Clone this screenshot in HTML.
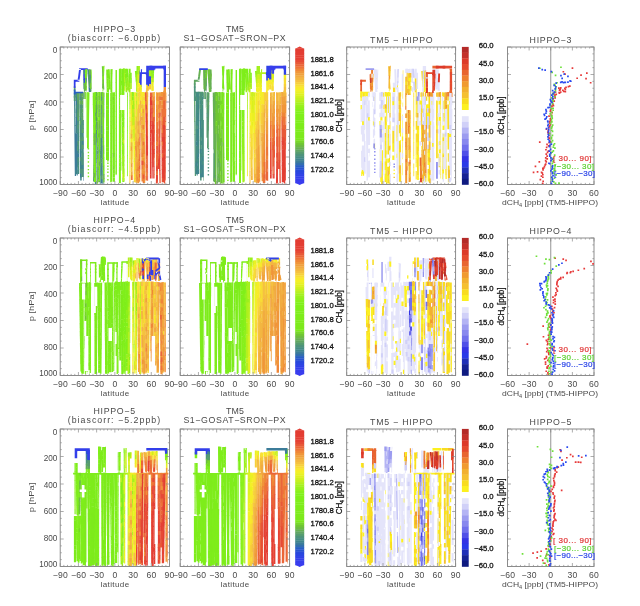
<!DOCTYPE html><html><head><meta charset="utf-8"><style>html,body{margin:0;padding:0;background:#fff;}svg{display:block;will-change:transform;}text{font-family:"Liberation Sans",sans-serif;}</style></head><body><svg width="640" height="606" viewBox="0 0 640 606"><text x="114.30" y="31.80" font-size="8.8" text-anchor="middle" fill="#4a4a4a" textLength="41.6" lengthAdjust="spacing" >HIPPO&#8722;3</text><text x="113.95" y="40.80" font-size="8.8" text-anchor="middle" fill="#4a4a4a" textLength="92.5" lengthAdjust="spacing" >(biascorr:  &#8722;6.0ppb)</text><text x="234.95" y="32.30" font-size="8.8" text-anchor="middle" fill="#4a4a4a" textLength="17.9" lengthAdjust="spacing" >TM5</text><text x="234.55" y="40.90" font-size="8.8" text-anchor="middle" fill="#4a4a4a" textLength="102.3" lengthAdjust="spacing" >S1&#8722;GOSAT&#8722;SRON&#8722;PX</text><text x="401.30" y="42.90" font-size="8.8" text-anchor="middle" fill="#4a4a4a" textLength="62.6" lengthAdjust="spacing" >TM5  &#8722;  HIPPO</text><text x="550.45" y="42.90" font-size="8.8" text-anchor="middle" fill="#4a4a4a" textLength="41.7" lengthAdjust="spacing" >HIPPO&#8722;3</text><text transform="translate(33.80,115.50) rotate(-90)" font-size="8" text-anchor="middle" fill="#4a4a4a" textLength="29.7" lengthAdjust="spacingAndGlyphs">p [hPa]</text><text x="57.30" y="52.50" font-size="8.2" text-anchor="end" fill="#4a4a4a" textLength="4.5" lengthAdjust="spacing" >0</text><text x="57.30" y="79.04" font-size="8.2" text-anchor="end" fill="#4a4a4a" textLength="13.5" lengthAdjust="spacing" >200</text><text x="57.30" y="105.58" font-size="8.2" text-anchor="end" fill="#4a4a4a" textLength="13.5" lengthAdjust="spacing" >400</text><text x="57.30" y="132.12" font-size="8.2" text-anchor="end" fill="#4a4a4a" textLength="13.5" lengthAdjust="spacing" >600</text><text x="57.30" y="158.66" font-size="8.2" text-anchor="end" fill="#4a4a4a" textLength="13.5" lengthAdjust="spacing" >800</text><text x="57.30" y="185.20" font-size="8.2" text-anchor="end" fill="#4a4a4a" textLength="18.0" lengthAdjust="spacing" >1000</text><text x="60.20" y="196.30" font-size="8.6" text-anchor="middle" fill="#4a4a4a" textLength="15.0" lengthAdjust="spacing" >&#8722;90</text><text x="78.42" y="196.30" font-size="8.6" text-anchor="middle" fill="#4a4a4a" textLength="15.0" lengthAdjust="spacing" >&#8722;60</text><text x="96.63" y="196.30" font-size="8.6" text-anchor="middle" fill="#4a4a4a" textLength="15.0" lengthAdjust="spacing" >&#8722;30</text><text x="114.85" y="196.30" font-size="8.6" text-anchor="middle" fill="#4a4a4a" textLength="5.3" lengthAdjust="spacing" >0</text><text x="133.07" y="196.30" font-size="8.6" text-anchor="middle" fill="#4a4a4a" textLength="9.8" lengthAdjust="spacing" >30</text><text x="151.28" y="196.30" font-size="8.6" text-anchor="middle" fill="#4a4a4a" textLength="9.8" lengthAdjust="spacing" >60</text><text x="169.50" y="196.30" font-size="8.6" text-anchor="middle" fill="#4a4a4a" textLength="9.8" lengthAdjust="spacing" >90</text><text x="114.85" y="205.20" font-size="8.0" text-anchor="middle" fill="#4a4a4a" textLength="28.5" lengthAdjust="spacing" >latitude</text><text x="180.20" y="196.30" font-size="8.6" text-anchor="middle" fill="#4a4a4a" textLength="15.0" lengthAdjust="spacing" >&#8722;90</text><text x="198.43" y="196.30" font-size="8.6" text-anchor="middle" fill="#4a4a4a" textLength="15.0" lengthAdjust="spacing" >&#8722;60</text><text x="216.67" y="196.30" font-size="8.6" text-anchor="middle" fill="#4a4a4a" textLength="15.0" lengthAdjust="spacing" >&#8722;30</text><text x="234.90" y="196.30" font-size="8.6" text-anchor="middle" fill="#4a4a4a" textLength="5.3" lengthAdjust="spacing" >0</text><text x="253.13" y="196.30" font-size="8.6" text-anchor="middle" fill="#4a4a4a" textLength="9.8" lengthAdjust="spacing" >30</text><text x="271.37" y="196.30" font-size="8.6" text-anchor="middle" fill="#4a4a4a" textLength="9.8" lengthAdjust="spacing" >60</text><text x="289.60" y="196.30" font-size="8.6" text-anchor="middle" fill="#4a4a4a" textLength="9.8" lengthAdjust="spacing" >90</text><text x="234.90" y="205.20" font-size="8.0" text-anchor="middle" fill="#4a4a4a" textLength="28.5" lengthAdjust="spacing" >latitude</text><text x="346.70" y="196.30" font-size="8.6" text-anchor="middle" fill="#4a4a4a" textLength="15.0" lengthAdjust="spacing" >&#8722;90</text><text x="364.85" y="196.30" font-size="8.6" text-anchor="middle" fill="#4a4a4a" textLength="15.0" lengthAdjust="spacing" >&#8722;60</text><text x="383.00" y="196.30" font-size="8.6" text-anchor="middle" fill="#4a4a4a" textLength="15.0" lengthAdjust="spacing" >&#8722;30</text><text x="401.15" y="196.30" font-size="8.6" text-anchor="middle" fill="#4a4a4a" textLength="5.3" lengthAdjust="spacing" >0</text><text x="419.30" y="196.30" font-size="8.6" text-anchor="middle" fill="#4a4a4a" textLength="9.8" lengthAdjust="spacing" >30</text><text x="437.45" y="196.30" font-size="8.6" text-anchor="middle" fill="#4a4a4a" textLength="9.8" lengthAdjust="spacing" >60</text><text x="455.60" y="196.30" font-size="8.6" text-anchor="middle" fill="#4a4a4a" textLength="9.8" lengthAdjust="spacing" >90</text><text x="401.15" y="205.20" font-size="8.0" text-anchor="middle" fill="#4a4a4a" textLength="28.5" lengthAdjust="spacing" >latitude</text><text x="507.50" y="196.30" font-size="8.6" text-anchor="middle" fill="#4a4a4a" textLength="15.0" lengthAdjust="spacing" >&#8722;60</text><text x="529.12" y="196.30" font-size="8.6" text-anchor="middle" fill="#4a4a4a" textLength="15.0" lengthAdjust="spacing" >&#8722;30</text><text x="550.75" y="196.30" font-size="8.6" text-anchor="middle" fill="#4a4a4a" textLength="5.3" lengthAdjust="spacing" >0</text><text x="572.38" y="196.30" font-size="8.6" text-anchor="middle" fill="#4a4a4a" textLength="9.8" lengthAdjust="spacing" >30</text><text x="594.00" y="196.30" font-size="8.6" text-anchor="middle" fill="#4a4a4a" textLength="9.8" lengthAdjust="spacing" >60</text><text x="502" y="205.20" font-size="8" fill="#4a4a4a" textLength="96" lengthAdjust="spacingAndGlyphs">dCH<tspan font-size="5.2" dy="2">4</tspan><tspan dy="-2"> [ppb] (TM5-HIPPO)</tspan></text><text x="114.30" y="222.80" font-size="8.8" text-anchor="middle" fill="#4a4a4a" textLength="41.6" lengthAdjust="spacing" >HIPPO&#8722;4</text><text x="113.95" y="231.80" font-size="8.8" text-anchor="middle" fill="#4a4a4a" textLength="92.5" lengthAdjust="spacing" >(biascorr:  &#8722;4.5ppb)</text><text x="234.95" y="223.30" font-size="8.8" text-anchor="middle" fill="#4a4a4a" textLength="17.9" lengthAdjust="spacing" >TM5</text><text x="234.55" y="231.90" font-size="8.8" text-anchor="middle" fill="#4a4a4a" textLength="102.3" lengthAdjust="spacing" >S1&#8722;GOSAT&#8722;SRON&#8722;PX</text><text x="401.30" y="233.90" font-size="8.8" text-anchor="middle" fill="#4a4a4a" textLength="62.6" lengthAdjust="spacing" >TM5  &#8722;  HIPPO</text><text x="550.45" y="233.90" font-size="8.8" text-anchor="middle" fill="#4a4a4a" textLength="41.7" lengthAdjust="spacing" >HIPPO&#8722;4</text><text transform="translate(33.80,306.50) rotate(-90)" font-size="8" text-anchor="middle" fill="#4a4a4a" textLength="29.7" lengthAdjust="spacingAndGlyphs">p [hPa]</text><text x="57.30" y="243.50" font-size="8.2" text-anchor="end" fill="#4a4a4a" textLength="4.5" lengthAdjust="spacing" >0</text><text x="57.30" y="270.04" font-size="8.2" text-anchor="end" fill="#4a4a4a" textLength="13.5" lengthAdjust="spacing" >200</text><text x="57.30" y="296.58" font-size="8.2" text-anchor="end" fill="#4a4a4a" textLength="13.5" lengthAdjust="spacing" >400</text><text x="57.30" y="323.12" font-size="8.2" text-anchor="end" fill="#4a4a4a" textLength="13.5" lengthAdjust="spacing" >600</text><text x="57.30" y="349.66" font-size="8.2" text-anchor="end" fill="#4a4a4a" textLength="13.5" lengthAdjust="spacing" >800</text><text x="57.30" y="376.20" font-size="8.2" text-anchor="end" fill="#4a4a4a" textLength="18.0" lengthAdjust="spacing" >1000</text><text x="60.20" y="387.30" font-size="8.6" text-anchor="middle" fill="#4a4a4a" textLength="15.0" lengthAdjust="spacing" >&#8722;90</text><text x="78.42" y="387.30" font-size="8.6" text-anchor="middle" fill="#4a4a4a" textLength="15.0" lengthAdjust="spacing" >&#8722;60</text><text x="96.63" y="387.30" font-size="8.6" text-anchor="middle" fill="#4a4a4a" textLength="15.0" lengthAdjust="spacing" >&#8722;30</text><text x="114.85" y="387.30" font-size="8.6" text-anchor="middle" fill="#4a4a4a" textLength="5.3" lengthAdjust="spacing" >0</text><text x="133.07" y="387.30" font-size="8.6" text-anchor="middle" fill="#4a4a4a" textLength="9.8" lengthAdjust="spacing" >30</text><text x="151.28" y="387.30" font-size="8.6" text-anchor="middle" fill="#4a4a4a" textLength="9.8" lengthAdjust="spacing" >60</text><text x="169.50" y="387.30" font-size="8.6" text-anchor="middle" fill="#4a4a4a" textLength="9.8" lengthAdjust="spacing" >90</text><text x="114.85" y="396.20" font-size="8.0" text-anchor="middle" fill="#4a4a4a" textLength="28.5" lengthAdjust="spacing" >latitude</text><text x="180.20" y="387.30" font-size="8.6" text-anchor="middle" fill="#4a4a4a" textLength="15.0" lengthAdjust="spacing" >&#8722;90</text><text x="198.43" y="387.30" font-size="8.6" text-anchor="middle" fill="#4a4a4a" textLength="15.0" lengthAdjust="spacing" >&#8722;60</text><text x="216.67" y="387.30" font-size="8.6" text-anchor="middle" fill="#4a4a4a" textLength="15.0" lengthAdjust="spacing" >&#8722;30</text><text x="234.90" y="387.30" font-size="8.6" text-anchor="middle" fill="#4a4a4a" textLength="5.3" lengthAdjust="spacing" >0</text><text x="253.13" y="387.30" font-size="8.6" text-anchor="middle" fill="#4a4a4a" textLength="9.8" lengthAdjust="spacing" >30</text><text x="271.37" y="387.30" font-size="8.6" text-anchor="middle" fill="#4a4a4a" textLength="9.8" lengthAdjust="spacing" >60</text><text x="289.60" y="387.30" font-size="8.6" text-anchor="middle" fill="#4a4a4a" textLength="9.8" lengthAdjust="spacing" >90</text><text x="234.90" y="396.20" font-size="8.0" text-anchor="middle" fill="#4a4a4a" textLength="28.5" lengthAdjust="spacing" >latitude</text><text x="346.70" y="387.30" font-size="8.6" text-anchor="middle" fill="#4a4a4a" textLength="15.0" lengthAdjust="spacing" >&#8722;90</text><text x="364.85" y="387.30" font-size="8.6" text-anchor="middle" fill="#4a4a4a" textLength="15.0" lengthAdjust="spacing" >&#8722;60</text><text x="383.00" y="387.30" font-size="8.6" text-anchor="middle" fill="#4a4a4a" textLength="15.0" lengthAdjust="spacing" >&#8722;30</text><text x="401.15" y="387.30" font-size="8.6" text-anchor="middle" fill="#4a4a4a" textLength="5.3" lengthAdjust="spacing" >0</text><text x="419.30" y="387.30" font-size="8.6" text-anchor="middle" fill="#4a4a4a" textLength="9.8" lengthAdjust="spacing" >30</text><text x="437.45" y="387.30" font-size="8.6" text-anchor="middle" fill="#4a4a4a" textLength="9.8" lengthAdjust="spacing" >60</text><text x="455.60" y="387.30" font-size="8.6" text-anchor="middle" fill="#4a4a4a" textLength="9.8" lengthAdjust="spacing" >90</text><text x="401.15" y="396.20" font-size="8.0" text-anchor="middle" fill="#4a4a4a" textLength="28.5" lengthAdjust="spacing" >latitude</text><text x="507.50" y="387.30" font-size="8.6" text-anchor="middle" fill="#4a4a4a" textLength="15.0" lengthAdjust="spacing" >&#8722;60</text><text x="529.12" y="387.30" font-size="8.6" text-anchor="middle" fill="#4a4a4a" textLength="15.0" lengthAdjust="spacing" >&#8722;30</text><text x="550.75" y="387.30" font-size="8.6" text-anchor="middle" fill="#4a4a4a" textLength="5.3" lengthAdjust="spacing" >0</text><text x="572.38" y="387.30" font-size="8.6" text-anchor="middle" fill="#4a4a4a" textLength="9.8" lengthAdjust="spacing" >30</text><text x="594.00" y="387.30" font-size="8.6" text-anchor="middle" fill="#4a4a4a" textLength="9.8" lengthAdjust="spacing" >60</text><text x="502" y="396.20" font-size="8" fill="#4a4a4a" textLength="96" lengthAdjust="spacingAndGlyphs">dCH<tspan font-size="5.2" dy="2">4</tspan><tspan dy="-2"> [ppb] (TM5-HIPPO)</tspan></text><text x="114.30" y="413.80" font-size="8.8" text-anchor="middle" fill="#4a4a4a" textLength="41.6" lengthAdjust="spacing" >HIPPO&#8722;5</text><text x="113.95" y="422.80" font-size="8.8" text-anchor="middle" fill="#4a4a4a" textLength="92.5" lengthAdjust="spacing" >(biascorr:  &#8722;5.2ppb)</text><text x="234.95" y="414.30" font-size="8.8" text-anchor="middle" fill="#4a4a4a" textLength="17.9" lengthAdjust="spacing" >TM5</text><text x="234.55" y="422.90" font-size="8.8" text-anchor="middle" fill="#4a4a4a" textLength="102.3" lengthAdjust="spacing" >S1&#8722;GOSAT&#8722;SRON&#8722;PX</text><text x="401.30" y="424.90" font-size="8.8" text-anchor="middle" fill="#4a4a4a" textLength="62.6" lengthAdjust="spacing" >TM5  &#8722;  HIPPO</text><text x="550.45" y="424.90" font-size="8.8" text-anchor="middle" fill="#4a4a4a" textLength="41.7" lengthAdjust="spacing" >HIPPO&#8722;5</text><text transform="translate(33.80,497.50) rotate(-90)" font-size="8" text-anchor="middle" fill="#4a4a4a" textLength="29.7" lengthAdjust="spacingAndGlyphs">p [hPa]</text><text x="57.30" y="434.50" font-size="8.2" text-anchor="end" fill="#4a4a4a" textLength="4.5" lengthAdjust="spacing" >0</text><text x="57.30" y="461.04" font-size="8.2" text-anchor="end" fill="#4a4a4a" textLength="13.5" lengthAdjust="spacing" >200</text><text x="57.30" y="487.58" font-size="8.2" text-anchor="end" fill="#4a4a4a" textLength="13.5" lengthAdjust="spacing" >400</text><text x="57.30" y="514.12" font-size="8.2" text-anchor="end" fill="#4a4a4a" textLength="13.5" lengthAdjust="spacing" >600</text><text x="57.30" y="540.66" font-size="8.2" text-anchor="end" fill="#4a4a4a" textLength="13.5" lengthAdjust="spacing" >800</text><text x="57.30" y="567.20" font-size="8.2" text-anchor="end" fill="#4a4a4a" textLength="18.0" lengthAdjust="spacing" >1000</text><text x="60.20" y="578.30" font-size="8.6" text-anchor="middle" fill="#4a4a4a" textLength="15.0" lengthAdjust="spacing" >&#8722;90</text><text x="78.42" y="578.30" font-size="8.6" text-anchor="middle" fill="#4a4a4a" textLength="15.0" lengthAdjust="spacing" >&#8722;60</text><text x="96.63" y="578.30" font-size="8.6" text-anchor="middle" fill="#4a4a4a" textLength="15.0" lengthAdjust="spacing" >&#8722;30</text><text x="114.85" y="578.30" font-size="8.6" text-anchor="middle" fill="#4a4a4a" textLength="5.3" lengthAdjust="spacing" >0</text><text x="133.07" y="578.30" font-size="8.6" text-anchor="middle" fill="#4a4a4a" textLength="9.8" lengthAdjust="spacing" >30</text><text x="151.28" y="578.30" font-size="8.6" text-anchor="middle" fill="#4a4a4a" textLength="9.8" lengthAdjust="spacing" >60</text><text x="169.50" y="578.30" font-size="8.6" text-anchor="middle" fill="#4a4a4a" textLength="9.8" lengthAdjust="spacing" >90</text><text x="114.85" y="587.20" font-size="8.0" text-anchor="middle" fill="#4a4a4a" textLength="28.5" lengthAdjust="spacing" >latitude</text><text x="180.20" y="578.30" font-size="8.6" text-anchor="middle" fill="#4a4a4a" textLength="15.0" lengthAdjust="spacing" >&#8722;90</text><text x="198.43" y="578.30" font-size="8.6" text-anchor="middle" fill="#4a4a4a" textLength="15.0" lengthAdjust="spacing" >&#8722;60</text><text x="216.67" y="578.30" font-size="8.6" text-anchor="middle" fill="#4a4a4a" textLength="15.0" lengthAdjust="spacing" >&#8722;30</text><text x="234.90" y="578.30" font-size="8.6" text-anchor="middle" fill="#4a4a4a" textLength="5.3" lengthAdjust="spacing" >0</text><text x="253.13" y="578.30" font-size="8.6" text-anchor="middle" fill="#4a4a4a" textLength="9.8" lengthAdjust="spacing" >30</text><text x="271.37" y="578.30" font-size="8.6" text-anchor="middle" fill="#4a4a4a" textLength="9.8" lengthAdjust="spacing" >60</text><text x="289.60" y="578.30" font-size="8.6" text-anchor="middle" fill="#4a4a4a" textLength="9.8" lengthAdjust="spacing" >90</text><text x="234.90" y="587.20" font-size="8.0" text-anchor="middle" fill="#4a4a4a" textLength="28.5" lengthAdjust="spacing" >latitude</text><text x="346.70" y="578.30" font-size="8.6" text-anchor="middle" fill="#4a4a4a" textLength="15.0" lengthAdjust="spacing" >&#8722;90</text><text x="364.85" y="578.30" font-size="8.6" text-anchor="middle" fill="#4a4a4a" textLength="15.0" lengthAdjust="spacing" >&#8722;60</text><text x="383.00" y="578.30" font-size="8.6" text-anchor="middle" fill="#4a4a4a" textLength="15.0" lengthAdjust="spacing" >&#8722;30</text><text x="401.15" y="578.30" font-size="8.6" text-anchor="middle" fill="#4a4a4a" textLength="5.3" lengthAdjust="spacing" >0</text><text x="419.30" y="578.30" font-size="8.6" text-anchor="middle" fill="#4a4a4a" textLength="9.8" lengthAdjust="spacing" >30</text><text x="437.45" y="578.30" font-size="8.6" text-anchor="middle" fill="#4a4a4a" textLength="9.8" lengthAdjust="spacing" >60</text><text x="455.60" y="578.30" font-size="8.6" text-anchor="middle" fill="#4a4a4a" textLength="9.8" lengthAdjust="spacing" >90</text><text x="401.15" y="587.20" font-size="8.0" text-anchor="middle" fill="#4a4a4a" textLength="28.5" lengthAdjust="spacing" >latitude</text><text x="507.50" y="578.30" font-size="8.6" text-anchor="middle" fill="#4a4a4a" textLength="15.0" lengthAdjust="spacing" >&#8722;60</text><text x="529.12" y="578.30" font-size="8.6" text-anchor="middle" fill="#4a4a4a" textLength="15.0" lengthAdjust="spacing" >&#8722;30</text><text x="550.75" y="578.30" font-size="8.6" text-anchor="middle" fill="#4a4a4a" textLength="5.3" lengthAdjust="spacing" >0</text><text x="572.38" y="578.30" font-size="8.6" text-anchor="middle" fill="#4a4a4a" textLength="9.8" lengthAdjust="spacing" >30</text><text x="594.00" y="578.30" font-size="8.6" text-anchor="middle" fill="#4a4a4a" textLength="9.8" lengthAdjust="spacing" >60</text><text x="502" y="587.20" font-size="8" fill="#4a4a4a" textLength="96" lengthAdjust="spacingAndGlyphs">dCH<tspan font-size="5.2" dy="2">4</tspan><tspan dy="-2"> [ppb] (TM5-HIPPO)</tspan></text><g transform="translate(60.20,47.00)"><path fill="#3c7c99" d="M13.8 45.4h1.2l0 4.5h-1.2zM13.9 53.8h1.2l0 4.5h-1.2zM14 66.3h1.2l0 4.5h-1.2zM14.1 78.8h1.2l0.5 50.3h-1.2zM15.6 53.6h2.3l-0 4.4h-2.3zM15.5 69.9h2.3l-0.1 8.4h-2.3zM15.3 86.2h2.3l-0.3 36.9h-2.3zM17.4 106.2h1.5l0 4.4h-1.5zM17.9 49.4h1l-0.1 4.5h-1zM17.7 61.9h1l-0.1 8.6h-1zM17.4 78.5h1l-0.1 8.6h-1zM17.1 95.1h1l-0.1 4.5h-1zM16.9 103.4h1l-0.1 8.6h-1zM16.6 120h1l-0.1 8.6h-1zM18.3 77.6h0.4l-0 4.3h-0.4zM17.9 114.1h0.4l-0 4.3h-0.4zM17.8 122.2h0.4l-0 4.3h-0.4zM19.6 106h1.9l0 4.3h-1.9zM19.6 114h1.9l0 4.3h-1.9zM19.8 126.2h1.9l0 4.3h-1.9zM20.2 83h1.5l-0 4.5h-1.5zM20.1 91.4h1.5l-0 8.7h-1.5zM20.1 103.9h1.5l-0 8.7h-1.5zM20 120.7h1.5l-0 8.7h-1.5zM22.9 93.3h0.5l0 8.3h-0.5zM22.9 117.4h0.5l0 16.4h-0.5zM28.3 40.3h2.3l0.3 4.8h-2.3zM34.8 111.6h1.7l-0 4.5h-1.7zM34.7 119.9h1.7l-0 4.5h-1.7zM39.8 103.3h1l-0 4.4h-1zM39.6 119.8h1l-0 4.4h-1zM40.7 132.1h1.7l-0 4.4h-1.7z"/><path fill="#3f858c" d="M13.8 49.6h1.2l0 4.5h-1.2zM13.9 57.9h1.2l0.1 8.6h-1.2zM14 70.4h1.2l0.1 8.6h-1.2zM15.6 49.5h2.3l-0 4.4h-2.3zM15.5 61.7h2.3l-0 4.4h-2.3zM15.4 78h2.3l-0.1 8.4h-2.3zM15.1 122.8h2.3l-0 4.4h-2.3zM17.3 85.8h1.5l0 8.4h-1.5zM18 45.2h1l-0.1 4.5h-1zM17.8 53.5h1l-0.1 4.5h-1zM17.5 70.2h1l-0.1 4.5h-1zM17.2 86.8h1l-0.1 8.6h-1zM16.8 111.7h1l-0.1 8.6h-1zM18.6 45.3h0.4l-0 4.3h-0.4zM18.4 65.5h0.4l-0 4.3h-0.4zM18.3 73.6h0.4l-0 4.3h-0.4zM18.2 81.7h0.4l-0 4.3h-0.4zM18 106h0.4l-0.1 8.4h-0.4zM19.5 101.9h1.9l0 4.3h-1.9zM19.7 118.1h1.9l0 4.3h-1.9zM20.2 74.6h1.5l-0 8.7h-1.5zM20.1 99.7h1.5l-0 4.5h-1.5zM20 112.3h1.5l-0 8.7h-1.5zM20 129h1.5l-0 4.5h-1.5zM21.3 93.7h2.2l0 4.3h-2.2zM21.3 117.8h2.2l0 4.3h-2.2zM22.9 69.2h0.5l0 4.3h-0.5zM22.9 77.2h0.5l0 4.3h-0.5zM22.9 109.3h0.5l0 8.3h-0.5zM23.2 37h1.3l0.1 5.2h-1.3zM34.9 103.3h1.7l-0.1 8.6h-1.7zM34.7 124.1h1.7l-0 4.5h-1.7zM40.2 66.1h1l-0 4.4h-1zM39.8 107.4h1l-0.1 8.6h-1zM39.6 124h1l-0 4.4h-1zM40.7 119.7h1.7l-0 4.4h-1.7zM42.6 99.2h1.1l-0 4.4h-1.1zM42.3 124h1.1l-0 4.4h-1.1z"/><path fill="#458d83" d="M15.6 45.5h2.3l-0 4.4h-2.3zM15.5 57.7h2.3l-0 4.4h-2.3zM15.5 65.8h2.3l-0 4.4h-2.3zM17.4 102.1h1.5l0 4.4h-1.5zM17.4 114.3h1.5l0 4.4h-1.5zM17.5 122.5h1.5l0 4.4h-1.5zM17.4 74.3h1l-0.1 4.5h-1zM18.4 69.5h0.4l-0 4.3h-0.4zM18.1 93.8h0.4l-0 4.3h-0.4zM18 101.9h0.4l-0 4.3h-0.4zM17.9 118.1h0.4l-0 4.3h-0.4zM19.2 69.6h1.9l0 4.3h-1.9zM19.4 85.7h1.9l0 4.3h-1.9zM19.5 97.9h1.9l0 4.3h-1.9zM20.3 53.7h1.5l-0 4.5h-1.5zM20.3 62h1.5l-0 4.5h-1.5zM20.2 70.4h1.5l-0 4.5h-1.5zM21.3 85.6h2.2l0 4.3h-2.2zM21.3 101.7h2.2l0 4.3h-2.2zM22.9 73.2h0.5l0 4.3h-0.5zM22.9 85.2h0.5l0 8.3h-0.5zM22.9 101.3h0.5l0 8.3h-0.5zM23.1 32.1h1.3l0.1 5.2h-1.3zM27.2 22.2h2.3l0.3 4.8h-2.3zM35.4 45h1.7l-0 4.5h-1.7zM35 86.6h1.7l-0 4.5h-1.7zM34.9 95h1.7l-0.1 8.6h-1.7zM34.6 132.4h1.7l-0 4.5h-1.7zM39.9 90.9h1l-0 4.4h-1zM39.9 99.2h1l-0 4.4h-1zM39.5 132.2h1l-0 4.4h-1zM40.8 90.7h1.7l-0 4.4h-1.7zM40.8 98.9h1.7l-0 4.4h-1.7zM40.7 115.5h1.7l-0 4.4h-1.7zM40.7 123.8h1.7l-0 4.4h-1.7zM42.2 132.3h1.1l-0 4.4h-1.1zM13.6 45.6H15.5V50.7H13.6z"/><path fill="#66b052" d="M17.1 45.1h1.5l0 8.4h-1.5zM17.2 69.6h1.5l0 4.4h-1.5zM18.5 57.4h0.4l-0 4.3h-0.4zM19.1 53.4h1.9l0 4.3h-1.9zM21.3 45.5h2.2l0 4.3h-2.2zM21.3 53.5h2.2l0 4.3h-2.2zM23.6 35.7h1.2l0 4.7h-1.2zM26.5 22.3h0.7l-0.2 4.7h-0.7zM25.8 39.8h0.7l-0.2 4.7h-0.7zM29.7 35.5h1.4l0.1 4.6h-1.4zM24 45.1h1.5l0 5.5h-1.5zM33.4 97.7h2.1l-0.1 4.4h-2.1zM33.3 105.8h2.1l-0.2 12.5h-2.1zM33 122h2.1l-0.1 4.4h-2.1zM35.2 65.8h1.7l-0 4.5h-1.7zM36.9 119.9h1l0 4.4h-1zM37.6 127.9h0.4l0 4.4h-0.4zM38 61.4h2l0 4.4h-2zM38 81.8h2l0 4.4h-2zM38 89.9h2l0 8.5h-2zM38 110.3h2l0 4.4h-2zM38 118.5h2l0 4.4h-2zM38 130.7h2l0 4.4h-2zM40.5 45.4h1l-0 4.4h-1zM41 45.1h1.7l-0 4.4h-1.7zM40.9 65.8h1.7l-0 12.7h-1.7zM43 57.8h1.1l-0 4.4h-1.1zM41.6 19.2h1.1l0.3 4.9h-1.1z"/><path fill="#5fa561" d="M17.1 53.3h1.5l0 4.4h-1.5zM17.2 61.4h1.5l0 8.4h-1.5zM18.6 49.3h0.4l-0 4.3h-0.4zM19.3 73.6h1.9l0 4.3h-1.9zM20.3 45.3h1.5l-0 4.5h-1.5zM20.2 66.2h1.5l-0 4.5h-1.5zM21.3 49.5h2.2l0 4.3h-2.2zM21.3 61.5h2.2l0 4.3h-2.2zM21.3 69.6h2.2l0 4.3h-2.2zM21.3 81.6h2.2l0 4.3h-2.2zM22.9 53.1h0.5l0 4.3h-0.5zM23.7 40.1h1.2l0 4.7h-1.2zM29.3 32.2h1.4l0.3 5.1h-1.4zM29.5 22.5h1.4l0.2 9h-1.4zM29.8 39.9h1.4l0.1 4.6h-1.4zM24 55.4h1.5l0 5.5h-1.5zM33.9 65.3h2.1l-0.1 4.4h-2.1zM33.1 118h2.1l-0.1 4.4h-2.1zM35.4 49.2h1.7l-0 4.5h-1.7zM36.8 103.4h1l0 4.4h-1zM38 98.1h2l0 4.4h-2zM38 106.3h2l0 4.4h-2zM38 122.6h2l0 8.5h-2zM40.3 57.8h1l-0 4.4h-1zM40 86.8h1l-0 4.4h-1zM41 57.5h1.7l-0 8.6h-1.7zM40.9 86.5h1.7l-0 4.4h-1.7zM43 61.9h1.1l-0 4.4h-1.1zM42.9 70.2h1.1l-0.1 8.6h-1.1zM42.7 86.8h1.1l-0.1 8.6h-1.1zM42.5 111.6h1.1l-0 4.4h-1.1zM42.3 128.2h1.1l-0 4.4h-1.1zM42.1 28.4h1.1l0.3 4.9h-1.1zM42.7 37.6h1.1l0.3 4.9h-1.1zM13.6 39.2H15.5V44.3H13.6z"/><path fill="#569c6f" d="M17.1 57.3h1.5l0 4.4h-1.5zM17.2 77.7h1.5l0 4.4h-1.5zM17.3 94h1.5l0 4.4h-1.5zM17 99.2h1l-0.1 4.5h-1zM18.2 85.7h0.4l-0 4.3h-0.4zM19 45.3h1.9l0 4.3h-1.9zM19.1 61.5h1.9l0.1 8.4h-1.9zM19.4 89.8h1.9l0 4.3h-1.9zM20.3 49.5h1.5l-0 4.5h-1.5zM21.3 57.5h2.2l0 4.3h-2.2zM21.3 65.6h2.2l0 4.3h-2.2zM21.3 77.6h2.2l0 4.3h-2.2zM21.3 89.7h2.2l0 4.3h-2.2zM21.3 97.7h2.2l0 4.3h-2.2zM22.9 65.2h0.5l0 4.3h-0.5zM22.9 22.4h1.3l0.1 5.2h-1.3zM27.5 26.8h2.3l0.9 13.8h-2.3zM32.9 130.1h2.1l-0.1 4.4h-2.1zM35.3 53.4h1.7l-0.1 8.6h-1.7zM35.1 74.2h1.7l-0.1 8.6h-1.7zM38 102.2h2l0 4.4h-2zM40.4 49.6h1l-0 4.4h-1zM39.7 115.7h1l-0 4.4h-1zM40.9 78.2h1.7l-0 8.6h-1.7zM40.8 111.4h1.7l-0 4.4h-1.7zM40.7 127.9h1.7l-0 4.4h-1.7zM43.1 49.5h1.1l-0.1 8.6h-1.1zM43 66.1h1.1l-0 4.4h-1.1zM42.8 82.6h1.1l-0 4.4h-1.1zM42.6 95h1.1l-0 4.4h-1.1zM42.5 103.3h1.1l-0.1 8.6h-1.1zM42.4 119.9h1.1l-0 4.4h-1.1z"/><path fill="#4d937b" d="M17.2 73.6h1.5l0 4.4h-1.5zM17.3 81.8h1.5l0 4.4h-1.5zM17.3 98.1h1.5l0 4.4h-1.5zM17.4 110.3h1.5l0 4.4h-1.5zM17.5 118.4h1.5l0 4.4h-1.5zM17.7 57.7h1l-0.1 4.5h-1zM18.5 53.4h0.4l-0 4.3h-0.4zM18.4 61.5h0.4l-0 4.3h-0.4zM18.2 89.8h0.4l-0 4.3h-0.4zM18.1 97.9h0.4l-0 4.3h-0.4zM19 49.3h1.9l0 4.3h-1.9zM19.1 57.4h1.9l0 4.3h-1.9zM19.3 77.7h1.9l0.1 8.4h-1.9zM19.5 93.8h1.9l0 4.3h-1.9zM19.6 110h1.9l0 4.3h-1.9zM19.7 122.1h1.9l0 4.3h-1.9zM20.3 57.9h1.5l-0 4.5h-1.5zM20.1 87.2h1.5l-0 4.5h-1.5zM21.3 73.6h2.2l0 4.3h-2.2zM21.3 105.7h2.2l0 12.4h-2.2zM21.3 121.8h2.2l0 8.3h-2.2zM22.9 45.1h0.5l0 8.3h-0.5zM22.9 57.1h0.5l0 8.3h-0.5zM22.9 81.2h0.5l0 4.3h-0.5zM29 27.4h1.4l0.3 5.1h-1.4zM29.6 31.2h1.4l0.1 4.6h-1.4zM35.3 61.7h1.7l-0 4.5h-1.7zM35.2 70h1.7l-0 4.5h-1.7zM35.1 82.5h1.7l-0 4.5h-1.7zM35 90.8h1.7l-0 4.5h-1.7zM34.7 115.8h1.7l-0 4.5h-1.7zM34.6 128.3h1.7l-0 4.5h-1.7zM40.4 53.7h1l-0 4.4h-1zM40.3 62h1l-0 4.4h-1zM40.2 70.2h1l-0.2 16.8h-1zM39.9 95h1l-0 4.4h-1zM39.5 128.1h1l-0 4.4h-1zM41 49.3h1.7l-0 4.4h-1.7zM40.8 94.8h1.7l-0 4.4h-1.7zM40.8 103.1h1.7l-0 8.6h-1.7zM42.8 78.5h1.1l-0 4.4h-1.1zM42.4 115.7h1.1l-0 4.4h-1.1zM42.4 33h1.1l0.3 4.9h-1.1zM13.6 48.8H15.5V54H13.6z"/><path fill="#333fea" d="M23 27.3h1.3l0.1 5.2h-1.3zM23.6 22.4h1.2l0 13.5h-1.2zM24.5 30.7h1.9l0 4.4h-1.9zM26.3 26.7h0.7l-0.4 9h-0.7zM78.8 23.3h0.9l-0 12.9h-0.9zM79.3 23.3h0.4l0 12.9h-0.4zM80.7 22.2h1.2l-0.6 17.7h-1.2zM86.9 22.2h1.3l0 17.2h-1.3zM87.8 22.5h1.6l-0.7 16.9h-1.6zM88.7 22.3h2.3l0.1 15.2h-2.3zM13.6 36H15.5V41.1H13.6zM13.6 32.8H15.5V37.9H13.6zM13.6 32.8H19.2V34.7H13.6zM19.2 33.8L19.8 30L17.9 29.7L17.3 33.6zM19.8 30L20.3 26.2L18.4 25.9L17.9 29.7zM20.3 26.2L20.8 22.3L18.9 22.1L18.4 25.9zM18.9 21.2H24.2V23.1H18.9zM22.3 21.2H27.5V23.1H22.3zM86 22.7H88.8V29.4H86zM86 18.8H88.8V25.5H86zM86 18.8H92.2V21.6H86zM103 18.8H105.8V24.6H103zM103 21.8H105.8V27.7H103zM103 24.9H105.8V30.7H103zM103 27.9H105.8V33.8H103zM103 31H105.8V36.8H103zM103 34H105.8V39.8H103zM103 37H105.8V42.9H103zM79.6 34.6H81.5V39.7H79.6zM79.6 31.5H81.5V36.6H79.6zM79.6 28.4H81.5V33.4H79.6zM79.6 25.2H81.5V30.3H79.6zM79.6 25.2H84.5V27.1H79.6zM82.6 25.2H87.5V27.1H82.6zM85.6 25.2H87.5V30.3H85.6zM85.6 28.4H87.5V33.4H85.6zM85.6 31.5H87.5V36.6H85.6zM85.6 34.6H87.5V39.7H85.6z"/><path fill="#7de91c" d="M24.5 22.4h1.9l0 4.4h-1.9zM25.6 22.1h1.3l-0.2 4.6h-1.3zM30.7 31.9h0.7l-0.3 5h-0.7zM33 86.1h2.2l0.1 4.4h-2.2zM33.3 106.3h2.2l0.2 12.5h-2.2zM33.5 122.6h2.2l0.1 4.4h-2.2zM36.7 62h1l0 8.6h-1zM39.3 73.4h1.1l-0.1 8.4h-1.1zM39.1 89.5h1.1l-0 4.3h-1.1zM38.9 113.7h1.1l-0 4.3h-1.1zM38.7 125.8h1.1l-0 4.3h-1.1zM42.1 45.2h1.4l0 4.4h-1.4zM42.6 90.2h1.4l0 4.4h-1.4zM43.1 27.3h0.8l-0.2 4.5h-0.8zM42.7 35.8h0.8l-0.2 4.5h-0.8zM50.2 22.2h1.9l-0 4.8h-1.9zM50.5 38.1h1l-0.2 4.3h-1zM45.8 45.6h2.4l0 4.5h-2.4zM45.8 87.6h2.4l0 4.5h-2.4zM45.8 108.6h2.4l0 4.5h-2.4zM47.8 45.3h1l0 8.8h-1zM47.8 57.9h1l0 4.5h-1zM47.8 70.6h1l0 8.8h-1zM47.8 83.3h1l0 4.5h-1zM47.8 91.8h1l0 4.5h-1zM47.8 100.2h1l0 4.5h-1zM47.8 108.7h1l0 4.5h-1zM50 65.7h1.4l0 4.4h-1.4zM50 122.8h1.4l0 8.4h-1.4zM52 45.5h2.3l0 4.3h-2.3zM52 53.5h2.3l0 4.3h-2.3zM52.1 65.7h2.3l0 4.3h-2.3zM52.2 85.9h2.3l0.1 20.5h-2.3zM56 63.6h0.5l-0 4.3h-0.5zM47 121.4h1.4v1.4h-1.4z"/><path fill="#7ce91c" d="M24.5 26.6h1.9l0 4.4h-1.9zM24.6 38.9h1.9l0 4.4h-1.9zM25.1 30.6h1.3l-0.2 4.6h-1.3zM33.1 90.1h2.2l0.1 8.4h-2.2zM33.6 126.6h2.2l0.1 8.4h-2.2zM33.8 73.4h2.1l-0.1 4.4h-2.1zM36.7 53.7h1l0 4.4h-1zM36.8 95.1h1l0 4.4h-1zM37.6 90.6h0.4l0 4.4h-0.4zM39.3 69.4h1.1l-0 4.3h-1.1zM39.1 85.5h1.1l-0 4.3h-1.1zM39.1 93.5h1.1l-0 4.3h-1.1zM38.9 109.7h1.1l-0 4.3h-1.1zM42.1 49.2h1.4l0 4.4h-1.4zM42.4 77.9h1.4l0 4.4h-1.4zM42.5 86.1h1.4l0 4.4h-1.4zM42.8 110.6h1.4l0.1 8.5h-1.4zM42.9 31.6h0.8l-0.2 4.5h-0.8zM50.2 31.2h1.9l-0 4.8h-1.9zM50.2 40.2h1.9l-0 4.8h-1.9zM45.8 62.4h2.4l0 8.7h-2.4zM45.8 75h2.4l0 4.5h-2.4zM45.8 91.8h2.4l0 4.5h-2.4zM45.8 100.2h2.4l0 4.5h-2.4zM47.8 53.7h1l0 4.5h-1zM47.8 62.2h1l0 4.5h-1zM47.8 104.4h1l0 4.5h-1zM50 110.5h1.4l0 4.4h-1.4zM50 118.7h1.4l0 4.4h-1.4zM50 130.9h1.4l0 4.4h-1.4zM52.1 61.6h2.3l0 4.3h-2.3zM52.1 69.7h2.3l0 4.3h-2.3zM52.2 81.9h2.3l0 4.3h-2.3zM52.3 110.2h2.3l0 4.3h-2.3zM52.4 122.3h2.3l0 4.3h-2.3zM52.4 130.4h2.3l0 4.3h-2.3zM47 118.5h1.4v1.4h-1.4z"/><path fill="#76d727" d="M24.6 34.8h1.9l0 4.4h-1.9zM25.9 35.5h0.7l-0.2 4.7h-0.7zM34.2 49.1h2.1l-0.1 4.4h-2.1zM34 57.2h2.1l-0.1 8.4h-2.1zM33.7 81.5h2.1l-0.1 4.4h-2.1zM36.7 49.6h1l0 4.4h-1zM36.7 57.9h1l0 4.4h-1zM36.7 70.3h1l0 4.4h-1zM36.9 111.7h1l0 8.6h-1zM37.6 61.6h0.4l0 12.7h-0.4zM37.6 82.3h0.4l0 4.4h-0.4zM37.6 94.8h0.4l0 4.4h-0.4zM37.6 107.2h0.4l0 4.4h-0.4zM37.6 119.6h0.4l0 4.4h-0.4zM38 45.1h2l0 4.4h-2zM38 53.2h2l0 4.4h-2zM39 101.6h1.1l-0 4.3h-1.1zM42.3 65.6h1.4l0 4.4h-1.4zM42.7 98.3h1.4l0.1 8.5h-1.4zM42.9 118.8h1.4l0 4.4h-1.4zM42.3 23.7h1.4l-0.1 4.7h-1.4zM47.8 79.1h1l0 4.5h-1zM52 49.5h2.3l0 4.3h-2.3zM52.3 118.3h2.3l0 4.3h-2.3z"/><path fill="#7ce81c" d="M25.3 26.3h1.3l-0.2 4.6h-1.3zM34.2 45h2.1l-0.1 4.4h-2.1zM34.1 53.1h2.1l-0.1 4.4h-2.1zM36.8 82.7h1l0 8.6h-1zM37.6 45.1h0.4l0 12.7h-0.4zM37.6 74.1h0.4l0 4.4h-0.4zM37.6 98.9h0.4l0 4.4h-0.4zM37.6 123.8h0.4l0 4.4h-0.4zM37.6 132h0.4l0 4.4h-0.4zM38 69.5h2l0 4.4h-2zM38.9 105.6h1.1l-0 4.3h-1.1zM38.8 117.7h1.1l-0.1 8.4h-1.1zM38.7 129.8h1.1l-0 4.3h-1.1zM42.2 53.3h1.4l0 4.4h-1.4zM42.3 61.5h1.4l0 4.4h-1.4zM42.3 69.7h1.4l0.1 8.5h-1.4zM42.5 82h1.4l0 4.4h-1.4zM42.6 94.2h1.4l0 4.4h-1.4zM42.9 122.9h1.4l0 4.4h-1.4zM42.4 19.3h1.4l-0.1 4.7h-1.4zM42.2 28.1h1.4l-0.1 4.7h-1.4zM42.5 40h0.8l-0.2 4.5h-0.8zM45.8 54h2.4l0 4.5h-2.4zM45.8 70.8h2.4l0 4.5h-2.4zM45.8 83.4h2.4l0 4.5h-2.4zM45.8 96h2.4l0 4.5h-2.4zM45.8 104.4h2.4l0 4.5h-2.4zM52.1 57.6h2.3l0 4.3h-2.3zM52.1 77.8h2.3l0 4.3h-2.3zM47 113h1.4v1.4h-1.4zM47 115.6h1.4v1.4h-1.4zM47 124.5h1.4v1.4h-1.4zM47 132.1h1.4v1.4h-1.4z"/><path fill="#6fc633" d="M24.9 34.8h1.3l-0.2 4.6h-1.3zM33.9 69.3h2.1l-0.1 4.4h-2.1zM33.7 77.4h2.1l-0.1 4.4h-2.1zM33.5 89.6h2.1l-0.1 4.4h-2.1zM36.8 74.4h1l0 8.6h-1zM36.8 91h1l0 4.4h-1zM36.8 107.5h1l0 4.4h-1zM36.9 132.3h1l0 4.4h-1zM37.6 57.5h0.4l0 4.4h-0.4zM37.6 78.2h0.4l0 4.4h-0.4zM37.6 86.5h0.4l0 4.4h-0.4zM37.6 111.3h0.4l0 8.6h-0.4zM38 49.1h2l0 4.4h-2zM38 73.6h2l0 4.4h-2zM38 85.9h2l0 4.4h-2zM41 53.4h1.7l-0 4.4h-1.7zM43 131.1h1.4l0 4.4h-1.4zM43.2 45.4h1.1l-0 4.4h-1.1zM42.1 32.5h1.4l-0.1 4.7h-1.4zM52.3 106.1h2.3l0 4.3h-2.3z"/><path fill="#6bbb43" d="M24.6 39.1h1.3l-0.2 4.6h-1.3zM28.7 22.6h1.4l0.3 5.1h-1.4zM29.6 37h1.4l0.3 5.1h-1.4zM24 50.3h1.5l0 5.5h-1.5zM33.6 85.5h2.1l-0.1 4.4h-2.1zM33.5 93.6h2.1l-0.1 4.4h-2.1zM33.3 101.8h2.1l-0.1 4.4h-2.1zM33 126.1h2.1l-0.1 4.4h-2.1zM36.8 99.2h1l0 4.4h-1zM36.9 124.1h1l0 8.6h-1zM37.6 103h0.4l0 4.4h-0.4zM38 57.3h2l0 4.4h-2zM38 65.5h2l0 4.4h-2zM38 77.7h2l0 4.4h-2zM38 114.4h2l0 4.4h-2zM43 127h1.4l0 4.4h-1.4zM41.9 23.8h1.1l0.3 4.9h-1.1zM42 36.9h1.4l-0.1 4.7h-1.4z"/><path fill="#7dea1b" d="M31.3 22.5h0.7l-0.3 5h-0.7zM30.5 36.5h0.7l-0.3 5h-0.7zM27.8 45.6h1.5l-1 55.6h-1.5zM32.7 61.7h2.2l0.1 4.4h-2.2zM32.9 73.9h2.2l0.1 4.4h-2.2zM33 82h2.2l0.1 4.4h-2.2zM33.3 102.3h2.2l0.1 4.4h-2.2zM36.7 45.5h1l0 4.4h-1zM42.2 57.4h1.4l0 4.4h-1.4zM42.7 106.5h1.4l0 4.4h-1.4zM46.1 26.8h2.3l0.1 4.8h-2.3zM47.8 22.2h1.7l0.4 10.3h-1.7zM50.2 35.7h1.9l-0 4.8h-1.9zM45.8 58.2h2.4l0 4.5h-2.4zM45.8 79.2h2.4l0 4.5h-2.4zM47.8 66.4h1l0 4.5h-1zM47.8 87.5h1l0 4.5h-1zM50 49.5h1.4l0 4.4h-1.4zM50 90.2h1.4l0 4.4h-1.4zM50 114.6h1.4l0 4.4h-1.4zM52.1 73.8h2.3l0 4.3h-2.3zM52.3 114.2h2.3l0 4.3h-2.3zM52.4 126.3h2.3l0 4.3h-2.3zM56.1 55.5h0.5l-0 4.3h-0.5zM62.5 21.5h1.6l-0.1 4.8h-1.6zM62.2 30.5h1.6l-0.1 4.8h-1.6zM47 128.3h1.4v1.4h-1.4z"/><path fill="#7eeb1b" d="M31 27.2h0.7l-0.3 5h-0.7zM32.5 45.5h2.2l0.1 4.4h-2.2zM32.6 57.6h2.2l0.1 4.4h-2.2zM39.4 57.3h1.1l-0 4.3h-1.1zM43.5 18.8h0.8l-0.2 4.5h-0.8zM46.3 35.7h2.3l0.1 4.8h-2.3zM50.2 26.7h1.9l-0 4.8h-1.9zM50 57.6h1.4l0 4.4h-1.4zM50 73.9h1.4l0 4.4h-1.4zM50 102.4h1.4l0 4.4h-1.4zM50.9 61.2h1.3l-0 4.4h-1.3zM50.8 93.7h1.3l-0 8.4h-1.3zM50.7 113.9h1.3l-0 4.4h-1.3zM50.7 122h1.3l-0 8.4h-1.3zM53.3 73.3h1.3l-0 4.3h-1.3zM56.3 23.3h0.5l-0.1 8.4h-0.5zM56.2 43.4h0.5l-0 4.3h-0.5zM56.1 51.5h0.5l-0 4.3h-0.5zM56 67.6h0.5l-0.1 8.4h-0.5zM55.9 83.7h0.5l-0.1 8.4h-0.5zM55.8 95.8h0.5l-0 4.3h-0.5zM55.7 120h0.5l-0 4.3h-0.5zM61.9 39.4h1.6l-0.1 4.8h-1.6z"/><path fill="#7eec1b" d="M25.2 45.1h0.8l0 15.1h-0.8zM46 22.4h2.3l0.1 4.8h-2.3zM46.2 31.3h2.3l0.1 4.8h-2.3zM50 78h1.4l0 8.4h-1.4zM51 45h1.3l-0.1 16.5h-1.3zM50.9 65.3h1.3l-0 4.4h-1.3zM50.9 73.4h1.3l-0 4.4h-1.3zM50.8 89.6h1.3l-0 4.4h-1.3zM50.7 101.8h1.3l-0 12.5h-1.3zM50.7 118h1.3l-0 4.4h-1.3zM53.4 61.2h1.3l-0 4.3h-1.3zM53.1 109.3h1.3l-0 4.3h-1.3zM53.1 117.3h1.3l-0 4.3h-1.3zM55.3 23.1h1.4l0 8.6h-1.4zM55.3 48.1h1.4l0 4.5h-1.4zM56.1 59.5h0.5l-0 4.3h-0.5zM55.8 99.8h0.5l-0 4.3h-0.5zM55.7 111.9h0.5l-0.1 8.4h-0.5zM27.5 101h1.4v1.4h-1.4zM27.5 104.8h1.4v1.4h-1.4zM27.5 108h1.4v1.4h-1.4zM27.5 110.5h1.4v1.4h-1.4zM27.5 114.3h1.4v1.4h-1.4zM27.5 118.3h1.4v1.4h-1.4zM27.5 121.9h1.4v1.4h-1.4zM27.5 125.3h1.4v1.4h-1.4zM27.5 128.8h1.4v1.4h-1.4z"/><path fill="#7eed1b" d="M26.3 45.4h1.3l0 45.4h-1.3zM50 53.5h1.4l0 4.4h-1.4zM50.8 77.5h1.3l-0 12.5h-1.3zM50.6 130.2h1.3l-0 4.4h-1.3zM53.4 45.2h1.3l-0 4.3h-1.3zM53.4 57.2h1.3l-0 4.3h-1.3zM53.2 85.3h1.3l-0.1 12.3h-1.3zM53.2 101.3h1.3l-0 8.3h-1.3zM53.1 113.3h1.3l-0 4.3h-1.3zM55.3 31.4h1.4l0 4.5h-1.4zM55.3 56.4h1.4l0 8.6h-1.4zM55.3 68.9h1.4l0 8.6h-1.4zM56.2 35.3h0.5l-0 4.3h-0.5zM56 75.6h0.5l-0.1 8.4h-0.5zM55.8 91.8h0.5l-0 4.3h-0.5zM58.7 25.7h2l0 8.5h-2zM58.7 46.1h2l0 4.4h-2zM58.7 62.4h2l0 4.4h-2zM58.7 86.9h2l0 4.4h-2zM67 49.6h0.8l0 4.5h-0.8z"/><path fill="#7fed1b" d="M27.1 45.1h1.1l0.4 55.6h-1.1zM50.9 69.3h1.3l-0 4.4h-1.3zM53.4 49.2h1.3l-0 8.3h-1.3zM53.3 65.2h1.3l-0 8.3h-1.3zM53.3 77.3h1.3l-0 4.3h-1.3zM55.3 35.6h1.4l0 8.6h-1.4zM55.3 52.2h1.4l0 4.5h-1.4zM55.3 85.5h1.4l0 8.6h-1.4zM55.3 98h1.4l0 8.6h-1.4zM55.3 118.8h1.4l0 8.6h-1.4zM55.8 103.9h0.5l-0.1 8.4h-0.5zM58.7 21.7h2l0 4.4h-2zM58.7 33.9h2l0 8.5h-2zM58.7 50.2h2l0 8.5h-2zM58.7 70.6h2l0 8.5h-2zM58.7 107.3h2l0 4.4h-2zM58.7 119.5h2l0 4.4h-2zM58.7 127.7h2l0 8.5h-2zM60.1 21.6h1l0 4.4h-1zM60.1 29.8h1l0 4.4h-1zM61 26h2.1l0 4.3h-2.1zM62.8 21.8h1.4l0 4.4h-1.4zM67 45.4h0.8l0 4.5h-0.8zM67 53.8h0.8l0 4.5h-0.8z"/><path fill="#7deb1b" d="M32.5 49.5h2.2l0.1 8.4h-2.2zM32.8 65.8h2.2l0.1 8.4h-2.2zM32.9 77.9h2.2l0.1 4.4h-2.2zM33.2 98.2h2.2l0.1 4.4h-2.2zM33.5 118.5h2.2l0.1 4.4h-2.2zM39.5 45.2h1.1l-0.1 12.4h-1.1zM39.4 61.3h1.1l-0.1 8.4h-1.1zM39.2 81.4h1.1l-0 4.3h-1.1zM39 97.6h1.1l-0 4.3h-1.1zM43.3 23.1h0.8l-0.2 4.5h-0.8zM46.4 40.2h2.3l0.1 4.8h-2.3zM48.2 32.2h1.7l0.4 10.3h-1.7zM51.3 22.1h1l-0.8 16.3h-1zM45.8 49.8h2.4l0 4.5h-2.4zM47.8 96h1l0 4.5h-1zM50 45.4h1.4l0 4.4h-1.4zM50 61.7h1.4l0 4.4h-1.4zM50 69.8h1.4l0 4.4h-1.4zM50 86.1h1.4l0 4.4h-1.4zM50 94.3h1.4l0 8.4h-1.4zM50 106.5h1.4l0 4.4h-1.4zM56.2 31.3h0.5l-0 4.3h-0.5zM56.2 39.4h0.5l-0 4.3h-0.5zM56.1 47.4h0.5l-0 4.3h-0.5zM55.6 124h0.5l-0 4.3h-0.5zM62.3 26h1.6l-0.1 4.8h-1.6zM62 35h1.6l-0.1 4.8h-1.6z"/><path fill="#7fee1b" d="M53.3 81.3h1.3l-0 4.3h-1.3zM55.3 43.9h1.4l0 4.5h-1.4zM55.3 77.2h1.4l0 4.5h-1.4zM55.3 93.8h1.4l0 4.5h-1.4zM55.3 110.4h1.4l0 4.5h-1.4zM58.7 58.4h2l0 4.4h-2zM58.7 66.5h2l0 4.4h-2zM58.7 78.7h2l0 8.5h-2zM61 21.9h2.1l0 4.3h-2.1zM61.2 42.1h2.1l0 4.3h-2.1zM62.8 30.1h1.4l0 4.4h-1.4zM62.8 38.4h1.4l0 4.4h-1.4zM68.4 21.8h2l-0 4.9h-2zM67 66.3h0.8l0 4.5h-0.8z"/><path fill="#7fef1a" d="M53.2 97.3h1.3l-0 4.3h-1.3zM55.3 64.7h1.4l0 4.5h-1.4zM55.3 81.3h1.4l0 4.5h-1.4zM55.3 106.3h1.4l0 4.5h-1.4zM55.3 114.6h1.4l0 4.5h-1.4zM58.7 95h2l0 12.5h-2zM58.7 123.6h2l0 4.4h-2zM60.1 33.8h1l0 4.4h-1zM60.1 54.1h1l0 8.4h-1zM60.1 70.4h1l0 4.4h-1zM60.1 90.7h1l0 4.4h-1zM61.1 34h2.1l0.1 8.4h-2.1zM61.3 54.2h2.1l0 4.3h-2.1zM62.8 26h1.4l0 4.4h-1.4zM68.3 31h2l-0 4.9h-2zM69.9 25.7h1.6l0 5.6h-1.6zM67 58h0.8l0 8.7h-0.8zM67 70.5h0.8l0 8.7h-0.8zM67 83h0.8l0 4.5h-0.8zM67 112.3h0.8l0 4.5h-0.8zM76.3 23.3h1.6l-0.1 4.5h-1.6z"/><path fill="#80ef1a" d="M58.7 42h2l0 4.4h-2zM58.7 91h2l0 4.4h-2zM58.7 115.4h2l0 4.4h-2zM60.1 25.7h1l0 4.4h-1zM60.1 37.9h1l0 4.4h-1zM60.1 46h1l0 4.4h-1zM60.2 115.1h1l0 8.4h-1zM61 30h2.1l0 4.3h-2.1zM61.5 74.4h2.1l0 4.3h-2.1zM62.8 34.3h1.4l0 4.4h-1.4zM64.7 26.4h1.8l0.3 9.6h-1.8zM66 26.1h2l0.3 4.6h-2zM68.4 26.4h2l-0 4.9h-2zM67 78.9h0.8l0 4.5h-0.8zM67 91.4h0.8l0 8.7h-0.8zM67 108.1h0.8l0 4.5h-0.8zM90.4 22.5h2.1l0.2 4.5h-2.1z"/><path fill="#88f01b" d="M58.7 111.4h2l0 4.4h-2zM60.1 42h1l0 4.4h-1zM60.1 94.8h1l0 8.4h-1zM60.1 107h1l0 4.4h-1zM61.3 58.2h2.1l0.1 8.4h-2.1zM61.5 70.3h2.1l0 4.3h-2.1zM61.7 94.5h2.1l0 4.3h-2.1zM61.8 102.6h2.1l0 4.3h-2.1zM62.1 130.8h2.1l0 4.3h-2.1zM62.8 63.3h1.4l0 4.4h-1.4zM62.8 71.6h1.4l0 4.4h-1.4zM64.5 21.8h1.8l0.2 4.9h-1.8zM67 87.2h0.8l0 4.5h-0.8zM67 116.5h0.8l0 12.8h-0.8zM69.2 45h1l0 4.5h-1zM71.3 45h1.9l-0.1 4.5h-1.9zM74.7 23.9h2.1l0.4 5.6h-2.1zM92 22.2h2l-0.1 4.6h-2z"/><path fill="#80f01a" d="M60.1 50.1h1l0 4.4h-1zM60.1 62.3h1l0 8.4h-1zM60.1 78.5h1l0 8.4h-1zM60.1 102.9h1l0 4.4h-1zM60.1 111h1l0 4.4h-1zM61.2 46.1h2.1l0.1 8.4h-2.1zM61.4 66.3h2.1l0 4.3h-2.1zM61.6 78.4h2.1l0.1 8.4h-2.1zM62.8 42.6h1.4l0 4.4h-1.4zM62.8 50.9h1.4l0 8.6h-1.4zM62.8 67.5h1.4l0 4.4h-1.4zM62.8 75.8h1.4l0 4.4h-1.4zM65.7 21.8h2l0.3 4.6h-2zM70 31h1.6l0 5.6h-1.6zM67 99.8h0.8l0 8.7h-0.8zM71.2 49.2h1.9l-0.1 4.5h-1.9zM76.4 19.1h1.6l-0.1 4.5h-1.6z"/><path fill="#91f01c" d="M60.1 74.5h1l0 4.4h-1zM60.1 86.7h1l0 4.4h-1zM61.6 86.5h2.1l0 4.3h-2.1zM61.9 106.6h2.1l0 4.3h-2.1zM61.9 114.7h2.1l0 4.3h-2.1zM62.8 46.7h1.4l0 4.4h-1.4zM62.8 59.2h1.4l0 4.4h-1.4zM62.8 96.5h1.4l0 12.7h-1.4zM62.8 113.1h1.4l0 4.4h-1.4zM63.5 21.5h1.2l0.1 4.7h-1.2zM65 35.7h1.8l0.2 4.9h-1.8zM66.3 30.4h2l0.3 4.6h-2zM68.3 35.7h2l-0 4.9h-2zM75.7 53.6h1l0 4.4h-1zM75.1 29.1h2.1l0.4 5.6h-2.1zM76.1 31.8h1.6l-0.1 4.5h-1.6zM90.6 26.7h2.1l0.2 4.5h-2.1zM91.8 26.4h2l-0.1 4.6h-2z"/><path fill="#9af01d" d="M61.7 90.5h2.1l0 4.3h-2.1zM61.8 98.6h2.1l0 4.3h-2.1zM61.9 110.7h2.1l0 4.3h-2.1zM62 118.7h2.1l0.1 8.4h-2.1zM62.8 84.1h1.4l0 8.6h-1.4zM62.8 117.3h1.4l0 4.4h-1.4zM63.8 34.6h1.2l0.1 4.7h-1.2zM65.2 40.3h1.8l0.2 4.9h-1.8zM66.6 34.7h2l0.6 8.9h-2zM68.3 40.3h2l-0 4.9h-2zM69.2 53.3h1l0 4.5h-1zM71.1 57.6h1.9l-0.1 4.5h-1.9zM72.3 45.3h2.1l0.1 4.4h-2.1zM72.4 53.5h2.1l0.1 4.4h-2.1zM75.7 45.4h1l0 4.4h-1zM79.3 19.1h0.4l0 4.5h-0.4zM88.7 20.8H91.2V26.2H88.7z"/><path fill="#c4f020" d="M62.1 126.8h2.1l0 4.3h-2.1zM62.8 92.4h1.4l0 4.4h-1.4zM62.8 129.7h1.4l0 4.4h-1.4zM63.8 39h1.2l0.1 4.7h-1.2zM71 70.2h1.9l-0.1 8.7h-1.9zM72.5 61.6h2.1l0.1 4.4h-2.1zM72.7 69.8h2.1l0.1 8.4h-2.1zM75.7 49.5h1l0 4.4h-1zM75.7 61.8h1l0 8.5h-1zM75.8 90.4h1l0 4.4h-1zM80.1 39.7h1.2l-0.2 4.7h-1.2zM90.8 30.9h2.1l0.2 4.5h-2.1z"/><path fill="#a6f01e" d="M62.8 79.9h1.4l0 4.4h-1.4zM62.8 109h1.4l0 4.4h-1.4zM62.8 121.4h1.4l0 4.4h-1.4zM63.6 25.9h1.2l0.1 4.7h-1.2zM70 36.3h1.6l0 5.6h-1.6zM71 66h1.9l-0.1 4.5h-1.9zM72.4 49.4h2.1l0.1 4.4h-2.1zM72.5 57.6h2.1l0.1 4.4h-2.1zM75.7 57.7h1l0 4.4h-1zM76.4 45.3h1.1l0 4.4h-1.1zM76.2 27.6h1.6l-0.1 4.5h-1.6zM77.4 18.9h2.1l-0.1 4.6h-2.1zM78.8 19.1h0.9l-0 4.5h-0.9zM88.7 23.8H91.2V29.2H88.7z"/><path fill="#b5f01f" d="M62.8 125.5h1.4l0 4.4h-1.4zM63.7 30.3h1.2l0.1 4.7h-1.2zM69.2 49.2h1l0 4.5h-1zM69.2 57.5h1l0 4.5h-1zM71.1 61.8h1.9l-0.1 4.5h-1.9zM72.6 65.7h2.1l0.1 4.4h-2.1zM75.7 69.9h1l0 4.4h-1zM75.6 34.4h2.1l0.4 5.6h-2.1zM76 36h1.6l-0.2 8.7h-1.6zM77.3 23.3h2.1l-0.1 4.6h-2.1zM91.7 30.7h2l-0.1 4.6h-2z"/><path fill="#e0f020" d="M69.2 61.7h1l0 4.5h-1zM69.2 103.2h1l0 4.5h-1zM69.2 111.5h1l0 4.5h-1zM70.1 53.6h1.8l0 4.5h-1.8zM70.8 86.9h1.9l-0.1 4.5h-1.9zM70.7 95.3h1.9l-0.1 4.5h-1.9zM72.8 77.9h2.1l0.1 4.4h-2.1zM72.9 90.1h2.1l0.1 4.4h-2.1zM74.1 53.7h1.1l0.1 8.5h-1.1zM75.8 98.5h1l0 8.5h-1zM76.4 49.4h1.1l0 4.4h-1.1zM76.5 57.5h1.1l0 8.5h-1.1zM76.5 73.9h1.1l0 4.4h-1.1zM77.2 27.6h2.1l-0.2 8.9h-2.1z"/><path fill="#f3f026" d="M69.2 65.8h1l0 4.5h-1zM69.2 99.1h1l0 4.5h-1zM70.7 91.1h1.9l-0.1 4.5h-1.9zM70.6 99.5h1.9l-0.1 4.5h-1.9zM70.5 107.9h1.9l-0.1 4.5h-1.9zM73 94.2h2.1l0.1 4.4h-2.1zM73.1 102.4h2.1l0.1 8.4h-2.1zM73.3 114.6h2.1l0.1 8.4h-2.1zM74 45.5h1.1l0.1 4.4h-1.1zM74.9 45.3h1.1l0.1 4.3h-1.1zM75 53.4h1.1l0.1 4.3h-1.1zM75.9 110.8h1l0 4.4h-1zM75.9 119h1l0 4.4h-1zM76.5 78h1.1l0 4.4h-1.1zM79.5 49.5h1.4l-0 4.3h-1.4zM80.5 61.3h2.3l0 4.3h-2.3zM82 45h1.8l0 4.4h-1.8zM83.6 53.4h1.3l0 4.4h-1.3zM77 36.2h2.1l-0.1 4.6h-2.1zM91.2 39.3h2.1l0.2 4.5h-2.1zM79.6 40.9H81.5V46H79.6z"/><path fill="#d2f020" d="M69.2 70h1l0 4.5h-1zM69.2 78.3h1l0 4.5h-1zM70 45.3h1.8l0.1 8.6h-1.8zM71.2 53.4h1.9l-0.1 4.5h-1.9zM70.8 82.7h1.9l-0.1 4.5h-1.9zM72.8 82h2.1l0.1 8.4h-2.1zM75.7 74h1l0 8.5h-1zM75.8 86.3h1l0 4.4h-1zM75.8 94.5h1l0 4.4h-1zM76.5 53.5h1.1l0 4.4h-1.1zM76.5 65.7h1.1l0 4.4h-1.1z"/><path fill="#eaf023" d="M69.2 74.1h1l0 4.5h-1zM69.2 82.4h1l0 4.5h-1zM69.2 90.7h1l0 8.6h-1zM70.1 57.8h1.8l0.1 8.6h-1.8zM70.2 70.3h1.8l0 4.5h-1.8zM70.9 78.6h1.9l-0.1 4.5h-1.9zM70.6 103.7h1.9l-0.1 4.5h-1.9zM73 98.3h2.1l0.1 4.4h-2.1zM73.2 110.5h2.1l0.1 4.4h-2.1zM74 49.6h1.1l0.1 4.4h-1.1zM75.8 82.2h1l0 4.4h-1zM75.9 106.7h1l0 4.4h-1zM75.9 123.1h1l0 8.5h-1zM76.5 69.8h1.1l0 4.4h-1.1zM76.5 90.3h1.1l0 4.4h-1.1zM77.1 49.5h1.9l0 4.4h-1.9zM79.3 35.9h0.4l0 4.5h-0.4zM91 35.1h2.1l0.2 4.5h-2.1zM91.5 34.9h2l-0.1 4.6h-2zM79.6 37.8H81.5V42.8H79.6z"/><path fill="#f8e92c" d="M69.2 86.6h1l0 4.5h-1zM69.2 107.4h1l0 4.5h-1zM69.2 115.7h1l0 8.6h-1zM70.2 66.1h1.8l0 4.5h-1.8zM70.3 78.6h1.8l0 4.5h-1.8zM70.4 91.1h1.8l0 4.5h-1.8zM73.4 126.8h2.1l0.1 4.4h-2.1zM74.4 70.1h1.1l0.1 4.4h-1.1zM75.2 61.5h1.1l0.1 8.4h-1.1zM76.5 86.2h1.1l0 4.4h-1.1zM76.5 98.4h1.1l0 12.6h-1.1zM77.1 53.6h1.9l0 8.5h-1.9zM78.3 53.5h1.2l-0.1 4.5h-1.2zM80.4 45.1h2.3l0.1 8.4h-2.3zM82 53.3h1.8l0 4.4h-1.8zM76.9 40.5h2.1l-0.1 4.6h-2.1zM78.8 35.9h0.9l-0 4.5h-0.9zM91.4 39.2h2l-0.1 4.6h-2zM85.6 37.8H87.5V42.8H85.6z"/><path fill="#f8dc35" d="M69.2 124h1l0 4.5h-1zM70.2 74.4h1.8l0 4.5h-1.8zM73.5 130.9h2.1l0.1 4.4h-2.1zM74.3 66h1.1l0.1 4.4h-1.1zM74.6 82.5h1.1l0.1 4.4h-1.1zM75 49.4h1.1l0.1 4.3h-1.1zM75.1 57.4h1.1l0.1 4.3h-1.1zM75.9 114.9h1l0 4.4h-1zM75.9 131.2h1l0 4.4h-1zM76.5 94.3h1.1l0 4.4h-1.1zM76.6 118.9h1.1l0 4.4h-1.1zM77.1 45.3h1.9l0 4.4h-1.9zM79.5 45.5h1.4l-0 4.3h-1.4zM80.4 53.2h2.3l0 4.3h-2.3zM82 49.2h1.8l0 4.4h-1.8zM83.6 45.2h1.3l0 4.4h-1.3zM83.6 57.5h1.3l0 4.4h-1.3zM85.9 49.6h2l-0 4.5h-2zM79.3 40.1h0.4l0 4.5h-0.4z"/><path fill="#f7cf3b" d="M69.2 128.1h1l0 8.6h-1zM70.3 82.8h1.8l0 4.5h-1.8zM73.4 122.7h2.1l0.1 4.4h-2.1zM74.2 61.9h1.1l0.1 4.4h-1.1zM74.4 74.2h1.1l0.1 4.4h-1.1zM76.5 82.1h1.1l0 4.4h-1.1zM76.6 123h1.1l0 12.6h-1.1zM78.5 45.1h1.2l-0.1 8.7h-1.2zM80.6 65.3h2.3l0 4.3h-2.3zM82.1 57.4h1.8l0 4.4h-1.8zM83.6 49.3h1.3l0 4.4h-1.3zM83.6 61.6h1.3l0 8.5h-1.3zM83.7 86.3h1.3l0 4.4h-1.3zM78.8 40.2h0.9l-0 4.5h-0.9zM88.8 37.2h2.3l0 5.3h-2.3z"/><path fill="#f3b640" d="M70.3 86.9h1.8l0 4.5h-1.8zM70.4 95.2h1.8l0 4.5h-1.8zM75.4 73.5h1.1l0.1 8.4h-1.1zM75.6 89.6h1.1l0.1 4.3h-1.1zM76.6 114.8h1.1l0 4.4h-1.1zM77.1 78.3h1.9l0 4.4h-1.9zM77.1 86.5h1.9l0 8.5h-1.9zM77.9 78.5h1.2l-0.1 8.7h-1.2zM77.5 107.7h1.2l-0.1 4.5h-1.2zM77.4 116.1h1.2l-0.1 4.5h-1.2zM79.4 53.6h1.4l-0 4.3h-1.4zM79.3 65.7h1.4l-0 4.3h-1.4zM79.2 77.9h1.4l-0.1 8.4h-1.4zM80.7 73.4h2.3l0 4.3h-2.3zM80.8 81.5h2.3l0 4.3h-2.3zM82.1 65.6h1.8l0.1 12.7h-1.8zM82.2 82.1h1.8l0 4.4h-1.8zM83.7 82.2h1.3l0 4.4h-1.3zM83.7 106.8h1.3l0 8.5h-1.3zM86 45.4h2l-0 4.5h-2zM87.2 53.1h0.7l0 4.3h-0.7zM87.1 39.2h1.6l-0.2 4.5h-1.6zM92.1 45.3h1.8l0 4.4h-1.8zM92.2 57.5h1.8l0 4.4h-1.8zM93.4 45.1h1.3l-0.1 4.5h-1.3zM94.1 45.4h0.6l0 4.4h-0.6zM94.1 53.6h0.6l0 8.5h-0.6zM95.7 45.2h1.3l0 4.4h-1.3z"/><path fill="#f0a03d" d="M70.4 99.4h1.8l0 4.5h-1.8zM70.6 116.1h1.8l0 4.5h-1.8zM75 107.1h1.1l0.1 8.5h-1.1zM75.7 93.7h1.1l0.1 8.4h-1.1zM76.1 117.8h1.1l0.1 4.3h-1.1zM77.1 74.2h1.9l0 4.4h-1.9zM77.1 98.9h1.9l0 4.4h-1.9zM77.1 111.3h1.9l0 4.4h-1.9zM77.7 91h1.2l-0.1 4.5h-1.2zM77.6 99.4h1.2l-0.1 8.7h-1.2zM77.2 128.6h1.2l-0.1 4.5h-1.2zM79.3 69.8h1.4l-0 4.3h-1.4zM80.8 85.5h2.3l0.1 8.4h-2.3zM81.1 109.8h2.3l0 4.3h-2.3zM82.1 61.5h1.8l0 4.4h-1.8zM82.3 90.3h1.8l0 4.4h-1.8zM83.7 98.6h1.3l0 8.5h-1.3zM83.7 123.2h1.3l0 8.5h-1.3zM85.8 70.5h2l-0 4.5h-2zM85.7 83h2l-0 4.5h-2zM87.2 57.2h0.7l0 4.3h-0.7zM92.2 61.5h1.8l0 4.4h-1.8zM95.7 49.2h1.3l0 4.4h-1.3zM95.9 73.6h1.3l0.1 8.4h-1.3zM96.3 57.9h1.9l-0 4.4h-1.9zM97.9 45.4h1.3l0.1 4.4h-1.3zM98 53.6h1.3l0.1 4.4h-1.3zM98.1 61.8h1.3l0.1 4.4h-1.3zM98.9 45.3h2.1l-0.1 4.3h-2.1z"/><path fill="#f5c140" d="M70.5 103.6h1.8l0.1 12.8h-1.8zM70.6 120.2h1.8l0 4.5h-1.8zM74.5 78.3h1.1l0.1 4.4h-1.1zM74.6 86.6h1.1l0.1 8.5h-1.1zM75.3 69.5h1.1l0.1 4.3h-1.1zM75.5 81.6h1.1l0.1 8.4h-1.1zM76.6 110.7h1.1l0 4.4h-1.1zM77.1 61.8h1.9l0 12.7h-1.9zM78.2 61.8h1.2l-0.2 12.8h-1.2zM77.8 86.9h1.2l-0.1 4.5h-1.2zM79.4 57.6h1.4l-0.1 8.4h-1.4zM80.5 57.2h2.3l0 4.3h-2.3zM83.6 69.8h1.3l0 12.6h-1.3zM83.7 90.4h1.3l0 4.4h-1.3zM86.9 39.1h1.3l0 4.5h-1.3zM95.8 53.3h1.3l0 4.4h-1.3zM85.6 40.9H87.5V46H85.6z"/><path fill="#f1ab40" d="M70.7 124.4h1.8l0 4.5h-1.8zM74.8 94.8h1.1l0.1 4.4h-1.1zM74.9 103h1.1l0.1 4.4h-1.1zM75.3 123.5h1.1l0.1 4.4h-1.1zM75.4 131.7h1.1l0.1 4.4h-1.1zM75.9 109.8h1.1l0.1 8.4h-1.1zM77.1 82.4h1.9l0 4.4h-1.9zM77.1 103h1.9l0 8.5h-1.9zM77.1 123.6h1.9l0 8.5h-1.9zM78.3 57.6h1.2l-0.1 4.5h-1.2zM78 74.3h1.2l-0.1 4.5h-1.2zM77.3 120.3h1.2l-0.1 8.7h-1.2zM80.6 69.4h2.3l0 4.3h-2.3zM80.7 77.4h2.3l0 4.3h-2.3zM80.9 93.6h2.3l0.1 8.4h-2.3zM82.2 86.2h1.8l0 4.4h-1.8zM82.4 106.8h1.8l0 4.4h-1.8zM83.7 94.5h1.3l0 4.4h-1.3zM83.7 119.1h1.3l0 4.4h-1.3zM85.9 53.8h2l-0.1 17h-2zM85.7 78.8h2l-0 4.5h-2zM87.2 45.1h0.7l0 8.3h-0.7zM92.1 53.4h1.8l0 4.4h-1.8zM96.4 53.8h1.9l-0 4.4h-1.9zM96.2 70.2h1.9l-0 4.4h-1.9zM105.4 45.4h0.8l-0 4.5h-0.8z"/><path fill="#ed7438" d="M70.7 128.5h1.8l0 4.5h-1.8zM76.3 129.9h1.1l0.1 4.3h-1.1zM79 90h1.4l-0 4.3h-1.4zM78.9 106.2h1.4l-0.1 8.4h-1.4zM81.2 117.9h2.3l0 4.3h-2.3zM82.3 94.4h1.8l0 4.4h-1.8zM82.5 131.5h1.8l0 4.4h-1.8zM84.9 53.6h1.7l0.1 4.5h-1.7zM85.6 87.2h2l-0 4.5h-2zM85.5 112.3h2l-0 4.5h-2zM85.4 120.7h2l-0 4.5h-2zM85.3 129h2l-0 4.5h-2zM87.2 65.2h0.7l0 4.3h-0.7zM87.2 81.3h0.7l0 4.3h-0.7zM87.2 101.4h0.7l0 4.3h-0.7zM90.9 49.6h1.4l0.1 4.4h-1.4zM92.3 69.6h1.8l0 4.4h-1.8zM93.2 57.6h1.3l-0.1 8.6h-1.3zM94.1 69.9h0.6l0 4.4h-0.6zM94.1 94.4h0.6l0 4.4h-0.6zM94.1 110.7h0.6l0 4.4h-0.6zM96 81.7h1.3l0 4.4h-1.3zM96 93.9h1.3l0 4.4h-1.3zM96.2 74.4h1.9l-0.1 8.5h-1.9zM96.1 86.7h1.9l-0.1 8.5h-1.9zM95.9 107.3h1.9l-0.1 8.5h-1.9zM95.8 123.8h1.9l-0 4.4h-1.9zM98 57.7h1.3l0.1 4.4h-1.3zM98.6 94.8h1.3l0.1 4.4h-1.3zM98.8 49.3h2.1l-0.1 4.3h-2.1zM98.2 89.5h2.1l-0.1 4.3h-2.1zM100.8 49.2h2.1l0 4.4h-2.1zM100.9 61.5h2.1l0.1 8.5h-2.1zM101 73.7h2.1l0 4.4h-2.1zM101.1 81.8h2.1l0 4.4h-2.1zM101.2 94.1h2.1l0 4.4h-2.1zM101.3 106.3h2.1l0 4.4h-2.1zM102.5 53.5h1.5l0.2 16.8h-1.5zM103.1 61.7h2.3l-0.1 8.4h-2.3zM105.3 62.1h0.8l-0.1 8.7h-0.8zM105 91.4h0.8l-0 4.5h-0.8z"/><path fill="#ef8638" d="M74.9 98.9h1.1l0.1 4.4h-1.1zM76.1 121.9h1.1l0.1 4.3h-1.1zM77.1 94.8h1.9l0 4.4h-1.9zM77.1 119.5h1.9l0 4.4h-1.9zM79.1 85.9h1.4l-0 4.3h-1.4zM79 94h1.4l-0 4.3h-1.4zM78.9 102.1h1.4l-0 4.3h-1.4zM78.8 114.2h1.4l-0 4.3h-1.4zM78.7 122.3h1.4l-0 4.3h-1.4zM81 105.8h2.3l0 4.3h-2.3zM81.2 126h2.3l0.1 8.4h-2.3zM82.2 78h1.8l0 4.4h-1.8zM82.3 102.7h1.8l0 4.4h-1.8zM82.5 123.3h1.8l0 4.4h-1.8zM83.7 115h1.3l0 4.4h-1.3zM85.6 91.4h2l-0.1 8.7h-2zM85.4 124.8h2l-0 4.5h-2zM87.2 77.3h0.7l0 4.3h-0.7zM87.2 85.3h0.7l0 4.3h-0.7zM92.3 73.7h1.8l0 4.4h-1.8zM92.4 85.9h1.8l0 4.4h-1.8zM92.5 98h1.8l0 4.4h-1.8zM93.1 65.9h1.3l-0.1 4.5h-1.3zM94.1 49.5h0.6l0 4.4h-0.6zM94.1 61.8h0.6l0 4.4h-0.6zM94.1 78.1h0.6l0 4.4h-0.6zM95.8 61.4h1.3l0 4.4h-1.3zM95.9 69.5h1.3l0 4.4h-1.3zM96.1 97.9h1.3l0 4.4h-1.3zM96.2 126.4h1.3l0 4.4h-1.3zM96.3 66.1h1.9l-0 4.4h-1.9zM96 94.9h1.9l-0 4.4h-1.9zM95.9 115.5h1.9l-0 4.4h-1.9zM97.9 49.5h1.3l0.1 4.4h-1.3zM98.2 70.1h1.3l0.1 8.5h-1.3zM98.7 53.4h2.1l-0.1 8.3h-2.1zM98.5 69.4h2.1l-0.1 4.3h-2.1zM100.9 57.4h2.1l0 4.4h-2.1zM101 69.6h2.1l0 4.4h-2.1zM102.4 45.3h1.5l0.1 8.6h-1.5zM103.4 45.5h2.3l-0.1 8.4h-2.3zM105.3 53.8h0.8l-0.1 8.7h-0.8z"/><path fill="#f0953a" d="M75.1 115.3h1.1l0.1 8.5h-1.1zM75.3 127.6h1.1l0.1 4.4h-1.1zM75.8 101.7h1.1l0.1 8.4h-1.1zM76.2 125.9h1.1l0.1 4.3h-1.1zM77.1 115.4h1.9l0 4.4h-1.9zM77.1 131.9h1.9l0 4.4h-1.9zM77.7 95.2h1.2l-0.1 4.5h-1.2zM77.4 111.9h1.2l-0.1 4.5h-1.2zM79.2 73.8h1.4l-0 4.3h-1.4zM79 98.1h1.4l-0 4.3h-1.4zM78.6 130.4h1.4l-0 4.3h-1.4zM81 101.7h2.3l0 4.3h-2.3zM81.2 121.9h2.3l0 4.3h-2.3zM82.3 98.6h1.8l0 4.4h-1.8zM82.4 110.9h1.8l0.1 12.7h-1.8zM83.7 131.5h1.3l0 4.4h-1.3zM85.7 74.7h2l-0 4.5h-2zM87.2 61.2h0.7l0 4.3h-0.7zM87.2 69.2h0.7l0 4.3h-0.7zM92.1 49.4h1.8l0 4.4h-1.8zM92.2 65.6h1.8l0 4.4h-1.8zM93.3 49.3h1.3l-0.1 4.5h-1.3zM94.1 65.8h0.6l0 4.4h-0.6zM94.1 74h0.6l0 4.4h-0.6zM95.8 57.4h1.3l0 4.4h-1.3zM95.8 65.5h1.3l0 4.4h-1.3zM96.4 45.5h1.9l-0.1 8.5h-1.9zM96.3 62h1.9l-0 4.4h-1.9zM98.6 61.4h2.1l-0.1 4.3h-2.1zM100.8 45.1h2.1l0 4.4h-2.1zM100.9 53.3h2.1l0 4.4h-2.1zM105.4 49.6h0.8l-0 4.5h-0.8zM105.2 74.7h0.8l-0 4.5h-0.8zM103 40.1H105.8V45.9H103z"/><path fill="#ea6638" d="M78.8 118.3h1.4l-0 4.3h-1.4zM78.7 126.4h1.4l-0 4.3h-1.4zM84.7 45.2h1.7l0.2 8.7h-1.7zM85.1 62h1.7l0.1 4.5h-1.7zM85.5 99.7h2l-0.1 12.8h-2zM85.4 116.5h2l-0 4.5h-2zM87.2 73.2h0.7l0 4.3h-0.7zM87.2 93.3h0.7l0 4.3h-0.7zM87.2 117.5h0.7l0 4.3h-0.7zM89.7 45.4h1.7l0 4.4h-1.7zM90.9 45.5h1.4l0.1 4.4h-1.4zM92.3 81.8h1.8l0 4.4h-1.8zM92.5 106.1h1.8l0 4.4h-1.8zM93.2 53.4h1.3l-0.1 4.5h-1.3zM92.9 78.4h1.3l-0.1 4.5h-1.3zM92.6 95h1.3l-0.1 8.6h-1.3zM94.1 82.2h0.6l0 4.4h-0.6zM94.1 90.3h0.6l0 4.4h-0.6zM94.1 127h0.6l0 4.4h-0.6zM96 85.8h1.3l0.1 8.4h-1.3zM96.1 106.1h1.3l0.1 12.5h-1.3zM96.2 122.3h1.3l0 4.4h-1.3zM96.1 82.6h1.9l-0 4.4h-1.9zM96 103.2h1.9l-0 4.4h-1.9zM98.2 66h1.3l0.1 4.4h-1.3zM98.3 78.3h1.3l0.1 8.5h-1.3zM98.5 90.7h1.3l0.1 4.4h-1.3zM98.6 65.4h2.1l-0.1 4.3h-2.1zM98.5 73.4h2.1l-0.1 8.3h-2.1zM98 105.6h2.1l-0.1 4.3h-2.1zM101.1 77.8h2.1l0 4.4h-2.1zM101.5 130.8h2.1l0 4.4h-2.1zM102.7 70.1h1.5l0.1 4.4h-1.5zM103.2 53.6h2.3l-0.1 8.4h-2.3zM103 73.9h2.3l-0.1 4.4h-2.3zM105.2 70.5h0.8l-0 4.5h-0.8zM105.1 78.9h0.8l-0.1 8.7h-0.8z"/><path fill="#e85938" d="M81.1 113.8h2.3l0 4.3h-2.3zM82.5 127.4h1.8l0 4.4h-1.8zM87.2 105.4h0.7l0 12.4h-0.7zM87.2 125.5h0.7l0 4.3h-0.7zM89.7 57.6h1.7l0 4.4h-1.7zM91.2 65.9h1.4l0.1 8.5h-1.4zM92.4 94h1.8l0 4.4h-1.8zM92.5 102.1h1.8l0 4.4h-1.8zM93 70.1h1.3l-0.1 4.5h-1.3zM94.1 86.2h0.6l0 4.4h-0.6zM94.1 98.5h0.6l0 4.4h-0.6zM94.1 106.6h0.6l0 4.4h-0.6zM94.1 114.8h0.6l0 4.4h-0.6zM94.1 123h0.6l0 4.4h-0.6zM96.1 102h1.3l0 4.4h-1.3zM96.3 130.4h1.3l0 4.4h-1.3zM96 99.1h1.9l-0 4.4h-1.9zM98.5 86.5h1.3l0.1 4.4h-1.3zM98.7 103h1.3l0.1 4.4h-1.3zM99.1 127.7h1.3l0.1 8.5h-1.3zM98.3 81.5h2.1l-0.1 8.3h-2.1zM98.2 93.5h2.1l-0.1 4.3h-2.1zM97.9 109.6h2.1l-0.1 4.3h-2.1zM101.1 85.9h2.1l0 4.4h-2.1zM101.3 98.2h2.1l0 4.4h-2.1zM101.4 118.6h2.1l0 4.4h-2.1zM102.8 74.2h1.5l0.2 12.7h-1.5zM103.1 103.1h1.5l0.1 4.4h-1.5zM103.4 123.8h1.5l0.1 4.4h-1.5zM103.5 132.1h1.5l0.1 4.4h-1.5zM103 69.8h2.3l-0.1 4.4h-2.3zM102.5 106.3h2.3l-0.1 4.4h-2.3zM105.1 87.2h0.8l-0 4.5h-0.8zM104.9 112.4h0.8l-0.1 8.7h-0.8zM104.8 124.9h0.8l-0.1 8.7h-0.8z"/><path fill="#e64a36" d="M85 57.8h1.7l0.1 4.5h-1.7zM87.2 89.3h0.7l0 4.3h-0.7zM87.2 121.5h0.7l0 4.3h-0.7zM89.7 61.7h1.7l0 4.4h-1.7zM89.7 69.9h1.7l0 4.4h-1.7zM91.1 57.7h1.4l0.1 4.4h-1.4zM92.9 74.2h1.3l-0.1 4.5h-1.3zM92.8 82.5h1.3l-0.1 4.5h-1.3zM92.7 90.8h1.3l-0.1 4.5h-1.3zM92.4 107.5h1.3l-0.1 4.5h-1.3zM94.1 102.6h0.6l0 4.4h-0.6zM94.1 118.9h0.6l0 4.4h-0.6zM96.2 118.2h1.3l0 4.4h-1.3zM95.8 119.6h1.9l-0 4.4h-1.9zM95.7 132h1.9l-0 4.4h-1.9zM98.7 98.9h1.3l0.1 4.4h-1.3zM98.8 107.1h1.3l0.1 4.4h-1.3zM99 123.6h1.3l0.1 4.4h-1.3zM98.1 97.5h2.1l-0.1 8.3h-2.1zM97.8 117.6h2.1l-0.1 4.3h-2.1zM101.3 102.2h2.1l0 4.4h-2.1zM101.4 114.5h2.1l0 4.4h-2.1zM101.5 126.7h2.1l0 4.4h-2.1zM102.9 86.6h1.5l0.1 4.4h-1.5zM102.9 82h2.3l-0.1 8.4h-2.3zM102.6 102.2h2.3l-0.1 4.4h-2.3zM102.4 114.4h2.3l-0.1 4.4h-2.3zM102.2 130.6h2.3l-0.1 4.4h-2.3zM105 95.6h0.8l-0.1 17h-0.8zM104.8 120.7h0.8l-0 4.5h-0.8z"/><path fill="#e44034" d="M85.2 66.2h1.7l0.2 8.7h-1.7zM87.2 97.4h0.7l0 4.3h-0.7zM87.2 129.5h0.7l0 4.3h-0.7zM89.7 49.5h1.7l0 4.4h-1.7zM91.4 78.1h1.4l0.1 4.4h-1.4zM91.8 106.7h1.4l0.1 4.4h-1.4zM92.3 77.7h1.8l0 4.4h-1.8zM92.4 89.9h1.8l0 4.4h-1.8zM92.7 86.7h1.3l-0.1 4.5h-1.3zM92.5 103.3h1.3l-0.1 4.5h-1.3zM92.3 115.8h1.3l-0.1 4.5h-1.3zM95.8 127.9h1.9l-0 4.4h-1.9zM98.8 111.2h1.3l0.2 12.7h-1.3zM101.2 90h2.1l0 4.4h-2.1zM101.5 122.6h2.1l0 4.4h-2.1zM103 90.7h1.5l0.2 12.7h-1.5zM103.2 107.3h1.5l0.1 8.6h-1.5zM103.4 128h1.5l0.1 4.4h-1.5zM102.9 77.9h2.3l-0.1 4.4h-2.3zM102.7 94.1h2.3l-0.1 8.4h-2.3zM102.4 118.5h2.3l-0.1 4.4h-2.3z"/><path fill="#e33f33" d="M85.4 74.6h1.7l0.3 12.9h-1.7zM89.7 53.5h1.7l0 4.4h-1.7zM89.7 65.8h1.7l0 4.4h-1.7zM89.7 78.1h1.7l0 4.4h-1.7zM91 53.6h1.4l0.1 4.4h-1.4zM91.1 61.8h1.4l0.1 4.4h-1.4zM91.3 74h1.4l0.1 4.4h-1.4zM92.3 111.6h1.3l-0.1 4.5h-1.3zM97.9 113.6h2.1l-0.1 4.3h-2.1zM101.4 110.4h2.1l0 4.4h-2.1zM103.3 115.5h1.5l0.1 8.6h-1.5z"/><path fill="#e23c32" d="M85.6 87.2h1.7l0.1 4.5h-1.7zM86 104h1.7l0.1 4.5h-1.7zM89.7 90.4h1.7l0 4.4h-1.7zM89.7 102.7h1.7l0 4.4h-1.7zM89.7 115h1.7l0 12.6h-1.7zM92.1 123h1.4l0.1 8.5h-1.4z"/><path fill="#e33d33" d="M85.7 91.4h1.7l0.1 4.5h-1.7zM85.9 99.8h1.7l0.1 4.5h-1.7zM89.7 74h1.7l0 4.4h-1.7zM89.7 82.2h1.7l0 4.4h-1.7zM89.7 106.8h1.7l0 8.5h-1.7zM89.7 127.2h1.7l0 4.4h-1.7zM91.4 82.2h1.4l0.2 12.5h-1.4zM91.7 98.5h1.4l0.1 4.4h-1.4zM91.9 110.8h1.4l0.1 8.5h-1.4z"/><path fill="#e33e33" d="M85.8 95.6h1.7l0.1 4.5h-1.7zM89.7 86.3h1.7l0 4.4h-1.7zM89.7 94.5h1.7l0 8.5h-1.7zM91.6 94.4h1.4l0.1 4.4h-1.4zM91.8 102.6h1.4l0.1 4.4h-1.4zM92 118.9h1.4l0.1 4.4h-1.4zM102.8 90.1h2.3l-0.1 4.4h-2.3zM102.5 110.3h2.3l-0.1 4.4h-2.3zM102.3 122.5h2.3l-0.1 8.4h-2.3z"/><path fill="#285fc2" d="M13.6 42.4H15.5V47.5H13.6zM14 44.6H19.2V46.2H14zM17.6 44.6H22.8V46.2H17.6z"/><path fill="#373eec" d="M89.4 18.8H95.6V21.6H89.4zM92.8 18.8H99V21.6H92.8zM96.2 18.8H102.4V21.6H96.2zM99.6 18.8H105.8V21.6H99.6zM88.7 20.8H95.2V23.2H88.7z"/><path fill="#fff" d="M94.4 22.6H103.4V43.5H94.4zM59.9 48H65.9V63H59.9zM15.6 34.9H22.8V44.4H15.6zM32 22H41.5V44.3H32zM81.9 28H85.9V43.5H81.9zM23.2 52H25.6V73H23.2z"/></g><g transform="translate(180.20,47.00)"><path fill="#5fa561" d="M13.8 45.4h1.2l0.1 12.8h-1.2zM14 70.4h1.2l0 4.5h-1.2zM14.2 82.9h1.2l0 4.5h-1.2zM23 45.1h0.5l0 4.3h-0.5zM23 53.1h0.5l0 8.3h-0.5zM23 77.2h0.5l0 4.3h-0.5zM23.7 31.3h1.2l0 9.1h-1.2zM24.6 34.8h1.9l0 4.4h-1.9zM26.2 31.1h0.7l-0.2 4.7h-0.7zM29.7 35.5h1.4l0.2 9h-1.4zM24 45.1h1.5l0 5.5h-1.5zM24 55.4h1.5l0 5.5h-1.5zM26.3 45.4h1.3l0 8.5h-1.3zM26.3 57.7h1.3l0 4.4h-1.3zM27.1 49.3h1.1l0.2 25.8h-1.1zM27.3 79.1h1.1l0 4.6h-1.1zM27.8 45.6h1.5l-0.1 4.6h-1.5zM27.6 54.1h1.5l-0.1 4.6h-1.5zM27.2 75.3h1.5l-0.1 4.6h-1.5zM32.6 49.5h2.2l0.1 4.4h-2.2zM32.8 65.8h2.2l0.4 28.7h-2.2zM33.3 102.3h2.2l0.1 4.4h-2.2zM33.4 101.8h2.1l-0.5 32.7h-2.1zM37.6 132h0.4l0 4.4h-0.4zM13.7 32.8H15.6V37.9H13.7zM13.7 32.8H19.3V34.7H13.7zM19.2 33.8L19.8 30L17.9 29.7L17.4 33.6z"/><path fill="#569c6f" d="M13.9 57.9h1.2l0.1 12.8h-1.2zM14.1 74.6h1.2l0.1 8.6h-1.2zM14.2 87.1h1.2l0.3 29.5h-1.2zM14.5 120.4h1.2l0.1 8.6h-1.2zM17.2 73.6h1.5l0 4.4h-1.5zM20.4 45.3h1.5l-0 8.7h-1.5zM20.3 57.9h1.5l-0 8.7h-1.5zM20.2 70.4h1.5l-0.1 12.9h-1.5zM20.2 87.2h1.5l-0 4.5h-1.5zM23 49.1h0.5l0 4.3h-0.5zM23 61.2h0.5l0 16.4h-0.5zM23 81.2h0.5l0 24.4h-0.5zM23 109.3h0.5l0 4.3h-0.5zM23 121.4h0.5l0 4.3h-0.5zM23 129.4h0.5l0 4.3h-0.5zM23.7 40.1h1.2l0 4.7h-1.2zM24.6 38.9h1.9l0 4.4h-1.9zM26 35.5h0.7l-0.4 9h-0.7zM24 50.3h1.5l0 5.5h-1.5zM25.2 50h0.8l0 5.2h-0.8zM26.3 53.6h1.3l0 4.4h-1.3zM26.3 61.8h1.3l0 4.4h-1.3zM26.3 70h1.3l0 20.8h-1.3zM27.1 45.1h1.1l0 4.6h-1.1zM27.3 74.8h1.1l0 4.6h-1.1zM27.4 83.3h1.1l0.1 17.3h-1.1zM27.7 49.8h1.5l-0.1 4.6h-1.5zM27.6 58.3h1.5l-0.3 17.3h-1.5zM27.2 79.6h1.5l-0.4 21.6h-1.5zM33.2 94.2h2.2l0.1 8.4h-2.2zM33.3 106.3h2.2l0.3 24.6h-2.2zM27.5 106.9h1.4v1.4h-1.4zM27.5 113.4h1.4v1.4h-1.4zM13.7 36H15.6V41.1H13.7zM17.6 44.6H22.8V46.2H17.6z"/><path fill="#4d937b" d="M14.5 116.3h1.2l0 4.5h-1.2zM15.6 49.5h2.3l-0 4.4h-2.3zM15.4 78h2.3l-0 4.4h-2.3zM17.1 45.1h1.5l0 4.4h-1.5zM17.1 53.3h1.5l0 4.4h-1.5zM17.2 61.4h1.5l0 8.4h-1.5zM18.6 49.3h0.4l-0 4.3h-0.4zM18.5 57.4h0.4l-0 4.3h-0.4zM18.4 69.5h0.4l-0.1 8.4h-0.4zM19 45.3h1.9l0.1 8.4h-1.9zM19.1 57.4h1.9l0 4.3h-1.9zM19.4 89.8h1.9l0 4.3h-1.9zM19.5 97.9h1.9l0 4.3h-1.9zM20.3 53.7h1.5l-0 4.5h-1.5zM20.3 66.2h1.5l-0 4.5h-1.5zM20.2 83h1.5l-0 4.5h-1.5zM20.1 91.4h1.5l-0.2 42.2h-1.5zM21.3 45.5h2.2l0 4.3h-2.2zM21.3 53.5h2.2l0 4.3h-2.2zM23 105.3h0.5l0 4.3h-0.5zM23 113.3h0.5l0 8.3h-0.5zM23 125.4h0.5l0 4.3h-0.5zM25.2 45.1h0.8l0 5.2h-0.8zM25.2 54.9h0.8l0 5.2h-0.8zM26.3 65.9h1.3l0 4.4h-1.3zM27.5 101h1.4v1.4h-1.4zM27.5 103.7h1.4v1.4h-1.4zM27.5 110.2h1.4v1.4h-1.4zM27.5 116.4h1.4v1.4h-1.4zM27.5 120.1h1.4v1.4h-1.4zM27.5 123.2h1.4v1.4h-1.4zM27.5 127h1.4v1.4h-1.4zM13.7 48.8H15.6V54H13.7zM13.7 45.6H15.6V50.7H13.7zM13.7 42.4H15.6V47.5H13.7zM13.7 39.2H15.6V44.3H13.7zM14 44.6H19.2V46.2H14z"/><path fill="#458d83" d="M15.6 45.5h2.3l-0 4.4h-2.3zM15.6 53.6h2.3l-0.2 24.7h-2.3zM15.4 82.1h2.3l-0.1 12.5h-2.3zM15.3 98.4h2.3l-0.1 16.6h-2.3zM15.1 118.7h2.3l-0 4.4h-2.3zM17.1 49.2h1.5l0 4.4h-1.5zM17.1 57.3h1.5l0 4.4h-1.5zM17.2 69.6h1.5l0 4.4h-1.5zM17.3 77.7h1.5l0.2 28.8h-1.5zM17.4 110.3h1.5l0.1 12.5h-1.5zM18 45.2h1l-0.2 12.8h-1zM17.7 61.9h1l-0.1 4.5h-1zM17.4 78.5h1l-0.1 4.5h-1zM17 99.2h1l-0.1 8.6h-1zM16.8 111.7h1l-0.1 4.5h-1zM18.6 45.3h0.4l-0 4.3h-0.4zM18.5 53.4h0.4l-0 4.3h-0.4zM18.5 61.5h0.4l-0.1 8.4h-0.4zM18.3 77.6h0.4l-0 4.3h-0.4zM18.2 85.7h0.4l-0.2 16.5h-0.4zM18 106h0.4l-0.2 20.5h-0.4zM19.1 53.4h1.9l0 4.3h-1.9zM19.2 61.5h1.9l0.1 12.4h-1.9zM19.4 81.7h1.9l0.1 8.4h-1.9zM19.5 93.8h1.9l0 4.3h-1.9zM19.6 106h1.9l0.1 8.4h-1.9zM19.7 122.1h1.9l0 4.3h-1.9zM21.3 49.5h2.2l0 4.3h-2.2zM21.3 57.5h2.2l0 52.5h-2.2zM21.3 113.8h2.2l0 4.3h-2.2z"/><path fill="#3f858c" d="M15.3 94.3h2.3l-0 4.4h-2.3zM15.2 114.7h2.3l-0 4.4h-2.3zM15.1 122.8h2.3l-0 4.4h-2.3zM17.4 106.2h1.5l0 4.4h-1.5zM17.5 122.5h1.5l0 4.4h-1.5zM17.8 57.7h1l-0.1 4.5h-1zM17.6 66h1l-0.2 12.8h-1zM17.3 82.6h1l-0.3 16.9h-1zM16.9 107.5h1l-0.1 4.5h-1zM16.7 115.8h1l-0.2 12.8h-1zM18.3 81.7h0.4l-0 4.3h-0.4zM18.1 101.9h0.4l-0 4.3h-0.4zM19.3 73.6h1.9l0.1 8.4h-1.9zM19.5 101.9h1.9l0 4.3h-1.9zM19.7 114h1.9l0.1 8.4h-1.9zM19.8 126.2h1.9l0 4.3h-1.9zM21.3 109.8h2.2l0 4.3h-2.2zM21.3 117.8h2.2l0 12.4h-2.2z"/><path fill="#6bbb43" d="M22.9 22.4h1.3l0.2 10h-1.3zM23.2 37h1.3l0.1 5.2h-1.3zM24.5 22.4h1.9l0 4.4h-1.9zM25.1 30.6h1.3l-0.2 4.6h-1.3zM27.5 26.8h2.3l0.6 9.3h-2.3zM28.4 40.3h2.3l0.3 4.8h-2.3zM28.7 22.6h1.4l0.7 9.9h-1.4zM29.6 26.8h1.4l0.1 4.6h-1.4zM31.3 22.5h0.7l-0.5 9.6h-0.7zM34.3 45h2.1l-0.3 20.6h-2.1zM35.4 53.4h1.7l-0 4.5h-1.7zM35 86.6h1.7l-0.4 41.9h-1.7zM36.7 57.9h1l0 4.4h-1zM36.8 78.6h1l0 16.9h-1zM36.9 103.4h1l0 12.7h-1zM36.9 119.9h1l0 8.6h-1zM37.6 57.5h0.4l0 8.6h-0.4zM37.6 74.1h0.4l0 8.6h-0.4zM37.6 86.5h0.4l0 16.9h-0.4zM37.6 107.2h0.4l0 4.4h-0.4zM37.6 115.5h0.4l0 16.9h-0.4zM38 49.1h2l0 4.4h-2zM38 57.3h2l0 4.4h-2zM38 73.6h2l0 4.4h-2zM38 81.8h2l0 28.9h-2zM38 126.7h2l0 4.4h-2zM39.1 97.6h1.1l-0 4.3h-1.1zM38.9 117.7h1.1l-0.2 16.4h-1.1zM39.7 115.7h1l-0 4.4h-1zM40.9 94.8h1.7l-0 4.4h-1.7zM40.7 123.8h1.7l-0 4.4h-1.7z"/><path fill="#66b052" d="M23.1 32.1h1.3l0.1 5.2h-1.3zM23.6 22.4h1.2l0 9.1h-1.2zM24.5 26.6h1.9l0.1 8.6h-1.9zM24.9 34.8h1.3l-0.5 8.8h-1.3zM26.5 22.3h0.7l-0.4 9h-0.7zM28.1 35.8h2.3l0.3 4.8h-2.3zM29.3 32.2h1.4l0.7 9.9h-1.4zM29.5 22.5h1.4l0.1 4.6h-1.4zM29.6 31.2h1.4l0.1 4.6h-1.4zM30.8 31.9h0.7l-0.5 9.6h-0.7zM32.5 45.5h2.2l0.1 4.4h-2.2zM32.6 53.6h2.2l0.2 12.5h-2.2zM33.7 130.7h2.2l0.1 4.4h-2.2zM33.9 65.3h2.1l-0.6 36.8h-2.1zM34.6 128.3h1.7l-0 4.5h-1.7zM36.9 115.8h1l0 4.4h-1zM36.9 128.2h1l0 8.6h-1zM37.6 103h0.4l0 4.4h-0.4zM37.6 111.3h0.4l0 4.4h-0.4zM38 110.3h2l0 16.6h-2zM38 130.7h2l0 4.4h-2zM38.9 113.7h1.1l-0 4.3h-1.1zM19.8 30L20.3 26.2L18.4 25.9L17.9 29.7zM20.3 26.2L20.8 22.3L19 22.1L18.4 25.9z"/><path fill="#6fc633" d="M25.6 22.1h1.3l-0.2 4.6h-1.3zM27.2 22.2h2.3l0.3 4.8h-2.3zM35.5 45h1.7l-0 4.5h-1.7zM35.3 57.5h1.7l-0.2 16.9h-1.7zM35.1 78.3h1.7l-0.1 8.6h-1.7zM34.6 132.4h1.7l-0 4.5h-1.7zM36.7 45.5h1l0 12.7h-1zM36.8 62h1l0 16.9h-1zM36.8 95.1h1l0 8.6h-1zM37.6 45.1h0.4l0 12.7h-0.4zM37.6 65.8h0.4l0 8.6h-0.4zM37.6 82.3h0.4l0 4.4h-0.4zM38 53.2h2l0 4.4h-2zM38 61.4h2l0 12.5h-2zM38 77.7h2l0 4.4h-2zM39.3 73.4h1.1l-0.1 12.4h-1.1zM39.1 89.5h1.1l-0.1 8.4h-1.1zM39 101.6h1.1l-0.1 12.4h-1.1zM40 90.9h1l-0.1 8.6h-1zM39.8 103.3h1l-0.1 8.6h-1zM39.7 119.8h1l-0 4.4h-1zM39.6 128.1h1l-0.1 8.6h-1zM40.9 82.4h1.7l-0 12.7h-1.7zM40.8 98.9h1.7l-0.1 25.1h-1.7zM40.7 127.9h1.7l-0 8.6h-1.7zM42.8 106.5h1.4l0 4.4h-1.4z"/><path fill="#76d727" d="M25.4 26.3h1.3l-0.2 4.6h-1.3zM35.4 49.2h1.7l-0 4.5h-1.7zM35.2 74.2h1.7l-0 4.5h-1.7zM38 45.1h2l0 4.4h-2zM39.6 45.2h1.1l-0.3 28.5h-1.1zM39.2 85.5h1.1l-0 4.3h-1.1zM40.4 53.7h1l-0 4.4h-1zM40.3 66.1h1l-0.1 8.6h-1zM40.1 78.5h1l-0.1 12.7h-1zM39.9 99.2h1l-0 4.4h-1zM39.8 111.6h1l-0 4.4h-1zM39.6 124h1l-0 4.4h-1zM41.1 45.1h1.7l-0 12.7h-1.7zM41 61.7h1.7l-0.1 21h-1.7zM42.3 61.5h1.4l0 4.4h-1.4zM42.4 69.7h1.4l0.4 37.1h-1.4zM42.8 110.6h1.4l0.3 24.8h-1.4zM42.7 95h1.1l-0.5 41.7h-1.1zM42.7 35.8h0.8l-0.4 8.8h-0.8zM50 126.8h1.4l0 4.4h-1.4z"/><path fill="#7ce81c" d="M40.5 45.4h1l-0.1 8.6h-1zM40.3 57.8h1l-0.1 8.6h-1zM40.2 74.4h1l-0 4.4h-1zM41 57.5h1.7l-0 4.4h-1.7zM42.1 45.2h1.4l0.2 16.7h-1.4zM42.3 65.6h1.4l0 4.4h-1.4zM43.2 45.4h1.1l-0 4.4h-1.1zM43.1 57.8h1.1l-0 4.4h-1.1zM43 66.1h1.1l-0.3 29.3h-1.1zM45.8 75h2.4l0 4.5h-2.4zM45.8 100.2h2.4l0 8.7h-2.4zM50 45.4h1.4l0 4.4h-1.4zM50 53.5h1.4l0 20.7h-1.4zM50 78h1.4l0 49.2h-1.4zM50 130.9h1.4l0 4.4h-1.4zM47 126h1.4v1.4h-1.4zM47 129.5h1.4v1.4h-1.4zM47 132.7h1.4v1.4h-1.4z"/><path fill="#7ce91c" d="M43.2 49.5h1.1l-0.1 8.6h-1.1zM43 61.9h1.1l-0 4.4h-1.1zM41.9 23.8h1.1l1.2 18.7h-1.1zM42.2 28.1h1.4l-0.1 4.7h-1.4zM42 36.9h1.4l-0.1 4.7h-1.4zM43.3 23.1h0.8l-0.6 13h-0.8zM45.8 49.8h2.4l0 8.7h-2.4zM45.8 62.4h2.4l0 4.5h-2.4zM45.8 70.8h2.4l0 4.5h-2.4zM45.8 79.2h2.4l0 21.3h-2.4zM45.8 108.6h2.4l0 4.5h-2.4zM50 49.5h1.4l0 4.4h-1.4zM50 73.9h1.4l0 4.4h-1.4zM47 113h1.4v1.4h-1.4zM47 116.1h1.4v1.4h-1.4zM47 119.2h1.4v1.4h-1.4zM47 122.9h1.4v1.4h-1.4z"/><path fill="#7de91c" d="M41.6 19.2h1.1l0.3 4.9h-1.1zM42.1 32.5h1.4l-0.1 4.7h-1.4zM43.5 18.8h0.8l-0.2 4.5h-0.8zM45.8 58.2h2.4l0 4.5h-2.4zM45.8 66.6h2.4l0 4.5h-2.4zM50.8 97.7h1.3l-0 4.4h-1.3zM50.8 105.8h1.3l-0 4.4h-1.3zM50.7 118h1.3l-0 8.4h-1.3zM50.7 130.2h1.3l-0 4.4h-1.3z"/><path fill="#7dea1b" d="M42.4 19.3h1.4l-0.2 9.1h-1.4zM46.3 35.7h2.3l0.2 9.2h-2.3zM47.8 22.2h1.7l0.7 20.2h-1.7zM50.3 22.2h1.9l-0 4.8h-1.9zM50.3 31.2h1.9l-0 13.8h-1.9zM45.8 45.6h2.4l0 4.5h-2.4zM47.8 62.2h1l0 4.5h-1zM47.8 70.6h1l0 21.4h-1zM47.8 96h1l0 4.5h-1zM47.8 104.4h1l0 8.8h-1zM51 45h1.3l-0.2 53h-1.3zM50.8 101.8h1.3l-0 4.4h-1.3zM50.8 109.9h1.3l-0 8.4h-1.3zM50.7 126.1h1.3l-0 4.4h-1.3zM55.4 64.7h1.4l0 4.5h-1.4z"/><path fill="#7eeb1b" d="M46 22.4h2.3l0.1 4.8h-2.3zM51.4 22.1h1l-0.4 8.3h-1zM52.1 49.5h2.3l0.1 24.6h-2.3zM52.2 77.8h2.3l0 8.4h-2.3zM52.3 98h2.3l0 8.4h-2.3zM52.3 110.2h2.3l0 4.3h-2.3zM52.4 118.3h2.3l0.1 16.5h-2.3zM53.4 61.2h1.3l-0.1 12.3h-1.3zM53.3 77.3h1.3l-0.1 20.3h-1.3zM53.2 109.3h1.3l-0 8.3h-1.3zM55.4 39.7h1.4l0 4.5h-1.4zM55.4 56.4h1.4l0 4.5h-1.4zM55.4 68.9h1.4l0 4.5h-1.4zM55.4 81.3h1.4l0 8.6h-1.4zM55.4 93.8h1.4l0 16.9h-1.4zM55.4 114.6h1.4l0 12.8h-1.4z"/><path fill="#7deb1b" d="M46.1 26.8h2.3l0.2 9.2h-2.3zM50.3 26.7h1.9l-0 4.8h-1.9zM50.8 34.1h1l-0.4 8.3h-1zM47.8 45.3h1l0 17.2h-1zM47.8 66.4h1l0 4.5h-1zM47.8 91.8h1l0 4.5h-1zM47.8 100.2h1l0 4.5h-1zM52 45.5h2.3l0 4.3h-2.3zM52.2 73.8h2.3l0 4.3h-2.3zM52.2 85.9h2.3l0.1 12.4h-2.3zM52.3 106.1h2.3l0 4.3h-2.3zM55.4 23.1h1.4l0 16.9h-1.4zM55.4 43.9h1.4l0 12.8h-1.4zM55.4 60.5h1.4l0 4.5h-1.4zM55.4 73h1.4l0 8.6h-1.4zM55.4 89.6h1.4l0 4.5h-1.4zM55.4 110.4h1.4l0 4.5h-1.4z"/><path fill="#7eec1b" d="M51 30.1h1l-0.2 4.3h-1zM52.4 114.2h2.3l0 4.3h-2.3zM53.5 45.2h1.3l-0.1 16.3h-1.3zM53.3 73.3h1.3l-0 4.3h-1.3zM53.2 97.3h1.3l-0.1 12.3h-1.3zM53.2 117.3h1.3l-0 4.3h-1.3zM56.3 27.3h0.5l-0.1 12.4h-0.5zM56.2 43.4h0.5l-0 4.3h-0.5zM56.2 51.5h0.5l-0.1 12.4h-0.5zM56 75.6h0.5l-0 4.3h-0.5zM55.7 115.9h0.5l-0 4.3h-0.5z"/><path fill="#7eed1b" d="M56.3 23.3h0.5l-0 4.3h-0.5zM56.2 39.4h0.5l-0 4.3h-0.5zM56.2 47.4h0.5l-0 4.3h-0.5zM56.1 63.6h0.5l-0.1 12.4h-0.5zM56 79.7h0.5l-0.1 12.4h-0.5zM55.9 95.8h0.5l-0.1 20.4h-0.5zM55.7 120h0.5l-0.1 8.4h-0.5zM60.1 21.6h1l0 12.5h-1zM60.2 42h1l0 4.4h-1zM63.6 21.5h1.2l0.1 9h-1.2z"/><path fill="#7fed1b" d="M55.9 91.8h0.5l-0 4.3h-0.5zM58.8 21.7h2l0 8.5h-2zM58.8 33.9h2l0 4.4h-2zM58.8 42h2l0 4.4h-2zM58.8 58.4h2l0 4.4h-2zM60.2 33.8h1l0 8.4h-1zM60.2 46h1l0 20.6h-1zM62.9 21.8h1.4l0 8.6h-1.4zM62.4 26h1.6l-0.1 4.8h-1.6zM63.8 30.3h1.2l0.1 4.7h-1.2z"/><path fill="#7fee1b" d="M58.8 29.8h2l0 4.4h-2zM58.8 38h2l0 4.4h-2zM58.8 46.1h2l0 12.5h-2zM58.8 62.4h2l0 4.4h-2zM58.8 74.7h2l0 4.4h-2zM58.8 82.8h2l0 8.5h-2zM58.8 99.1h2l0 4.4h-2zM60.2 66.3h1l0 24.7h-1zM60.2 94.8h1l0 4.4h-1zM61 21.9h2.1l0 4.3h-2.1zM62.9 30.1h1.4l0 8.6h-1.4zM62.5 21.5h1.6l-0.1 4.8h-1.6zM62.2 30.5h1.6l-0.4 13.7h-1.6zM63.8 34.6h1.2l0.1 9h-1.2z"/><path fill="#7fef1a" d="M58.8 66.5h2l0 8.5h-2zM58.8 78.7h2l0 4.4h-2zM58.8 91h2l0 8.5h-2zM58.8 103.2h2l0 8.5h-2zM58.8 115.4h2l0 8.5h-2zM60.2 90.7h1l0 4.4h-1zM60.2 98.8h1l0 20.6h-1zM61.1 26h2.1l0.1 8.4h-2.1zM61.2 42.1h2.1l0 4.3h-2.1zM62.9 38.4h1.4l0 8.6h-1.4zM64.5 21.8h1.8l0.2 4.9h-1.8zM65.8 21.8h2l0.3 4.6h-2z"/><path fill="#80ef1a" d="M58.8 111.4h2l0 4.4h-2zM58.8 123.6h2l0 12.5h-2zM60.2 119.2h1l0 4.4h-1zM61.1 34h2.1l0.1 8.4h-2.1zM61.3 46.1h2.1l0 4.3h-2.1zM62.9 46.7h1.4l0 12.7h-1.4zM62.9 63.3h1.4l0 4.4h-1.4zM64.7 26.4h1.8l0.2 4.9h-1.8z"/><path fill="#80f01a" d="M61.3 50.2h2.1l0.2 20.5h-2.1zM62.9 59.2h1.4l0 4.4h-1.4zM62.9 67.5h1.4l0 8.6h-1.4zM62.9 100.7h1.4l0 4.4h-1.4zM66.1 26.1h2l0.6 8.9h-2zM68.5 21.8h2l-0 4.9h-2zM70 25.7h1.6l0 5.6h-1.6z"/><path fill="#88f01b" d="M61.5 70.3h2.1l0 4.3h-2.1zM61.6 78.4h2.1l0 4.3h-2.1zM61.7 86.5h2.1l0 4.3h-2.1zM62.9 75.8h1.4l0 25.2h-1.4zM62.9 104.8h1.4l0 8.6h-1.4zM64.9 31.1h1.8l0.3 9.6h-1.8zM68.4 26.4h2l-0 4.9h-2z"/><path fill="#91f01c" d="M61.6 74.4h2.1l0 4.3h-2.1zM61.7 82.4h2.1l0 4.3h-2.1zM61.7 90.5h2.1l0.2 16.4h-2.1zM62.9 113.1h1.4l0 21h-1.4zM66.7 34.7h2l0.3 4.6h-2zM68.4 31h2l-0 4.9h-2zM70.1 31h1.6l0 5.6h-1.6zM74.8 23.9h2.1l0.4 5.6h-2.1zM79.4 19.1h0.4l0 4.5h-0.4z"/><path fill="#9af01d" d="M61.9 106.6h2.1l0.2 20.5h-2.1zM65.2 40.3h1.8l0.2 4.9h-1.8zM67 38.9h2l0.3 4.6h-2zM76.4 19.1h1.6l-0.1 4.5h-1.6zM78.9 19.1h0.9l-0 4.5h-0.9z"/><path fill="#a6f01e" d="M62.1 126.8h2.1l0.1 8.4h-2.1zM68.4 35.7h2l-0 4.9h-2zM70.1 36.3h1.6l0 5.6h-1.6zM67 45.4h0.8l0 8.7h-0.8zM67 58h0.8l0 4.5h-0.8zM75.2 29.1h2.1l0.4 5.6h-2.1zM76.3 23.3h1.6l-0.1 4.5h-1.6zM77.5 18.9h2.1l-0.2 8.9h-2.1zM78.9 23.3h0.9l-0 4.5h-0.9zM79.4 23.3h0.4l0 4.5h-0.4zM80.8 22.2h1.2l-0.2 4.7h-1.2z"/><path fill="#b5f01f" d="M68.3 40.3h2l-0 4.9h-2zM67 53.8h0.8l0 4.5h-0.8zM67 62.2h0.8l0 8.7h-0.8zM78.9 27.5h0.9l-0 4.5h-0.9zM79.4 27.5h0.4l0 4.5h-0.4zM80.6 26.6h1.2l-0.2 4.7h-1.2zM79.7 25.2H81.6V30.3H79.7zM79.7 25.2H84.6V27.1H79.7zM82.7 25.2H87.6V27.1H82.7z"/><path fill="#c4f020" d="M67 70.5h0.8l0 4.5h-0.8zM67 78.9h0.8l0 4.5h-0.8zM71.3 45h1.9l-0.1 8.7h-1.9zM75.6 34.4h2.1l0.4 5.6h-2.1zM76.2 27.6h1.6l-0.2 8.7h-1.6zM79.4 31.7h0.4l0 4.5h-0.4zM80.5 31h1.2l-0.2 4.7h-1.2zM90.5 22.5h2.1l0.2 4.5h-2.1zM79.7 28.4H81.6V33.4H79.7z"/><path fill="#d2f020" d="M67 74.7h0.8l0 4.5h-0.8zM67 83h0.8l0 8.7h-0.8zM70.1 45.3h1.8l0 4.5h-1.8zM71.2 53.4h1.9l-0.1 8.7h-1.9zM72.4 45.3h2.1l0.1 4.4h-2.1zM74 45.5h1.1l0.1 8.5h-1.1zM77.3 27.6h2.1l-0.1 4.6h-2.1zM78.9 31.7h0.9l-0 4.5h-0.9zM79.4 35.9h0.4l0 4.5h-0.4zM91.9 26.4h2l-0.1 4.6h-2zM79.7 31.5H81.6V36.6H79.7z"/><path fill="#e0f020" d="M67 91.4h0.8l0 25.4h-0.8zM69.3 45h1l0 8.6h-1zM69.3 57.5h1l0 4.5h-1zM70.1 49.5h1.8l0 4.5h-1.8zM71.1 61.8h1.9l-0.1 4.5h-1.9zM71 74.4h1.9l-0.1 4.5h-1.9zM72.4 49.4h2.1l0.2 16.6h-2.1zM74.2 53.7h1.1l0.1 4.4h-1.1zM75.7 45.4h1.1l0 4.4h-1.1zM76.5 45.3h1.1l0 4.4h-1.1zM76 36h1.6l-0.1 4.5h-1.6zM77.2 31.9h2.1l-0.1 4.6h-2.1zM78.9 35.9h0.9l-0 4.5h-0.9zM79.4 40.1h0.4l0 4.5h-0.4zM80.3 35.3h1.2l-0.2 4.7h-1.2zM87 30.7h1.3l0 4.5h-1.3zM90.6 26.7h2.1l0.2 4.5h-2.1zM88.8 23.8H91.3V29.2H88.8zM79.7 34.6H81.6V39.7H79.7z"/><path fill="#eaf023" d="M67 116.5h0.8l0 12.8h-0.8zM69.3 53.3h1l0 4.5h-1zM70.1 53.6h1.8l0.1 12.8h-1.8zM71.1 66h1.9l-0.1 8.7h-1.9zM72.7 65.7h2.1l0.1 8.4h-2.1zM74.2 57.8h1.1l0.1 8.5h-1.1zM75.7 49.5h1.1l0 4.4h-1.1zM79.5 49.5h1.4l-0 4.3h-1.4zM75.9 40.2h1.6l-0.1 4.5h-1.6zM77 36.2h2.1l-0.1 4.6h-2.1zM80.2 39.7h1.2l-0.2 4.7h-1.2zM90.8 30.9h2.1l0.2 4.5h-2.1zM91.8 30.7h2l-0.1 4.6h-2zM103.1 24.9H105.9V30.7H103.1zM79.7 37.8H81.6V42.8H79.7zM85.7 31.5H87.6V36.6H85.7zM85.7 34.6H87.6V39.7H85.7z"/><path fill="#f3f026" d="M69.3 61.7h1l0 12.8h-1zM70.2 66.1h1.8l0.1 12.8h-1.8zM70.9 78.6h1.9l-0.2 12.9h-1.9zM72.8 73.9h2.1l0.2 12.5h-2.1zM74.4 66h1.1l0.1 8.5h-1.1zM75 45.3h1.1l0.1 8.4h-1.1zM75.8 53.6h1.1l0 12.6h-1.1zM76.5 49.4h1.1l0 12.6h-1.1zM76.5 65.7h1.1l0 4.4h-1.1zM79.6 45.5h1.4l-0 4.3h-1.4zM80.4 45.1h2.4l0 4.3h-2.4zM76.9 40.5h2.1l-0.1 4.6h-2.1zM78.9 40.2h0.9l-0 4.5h-0.9zM87 34.9h1.3l0 4.5h-1.3zM87.5 30.8h1.6l-0.2 4.5h-1.6zM103.1 27.9H105.9V33.8H103.1zM79.7 40.9H81.6V46H79.7zM85.7 37.8H87.6V42.8H85.7z"/><path fill="#f8e92c" d="M69.3 74.1h1l0 12.8h-1zM70.3 78.6h1.8l0.1 8.6h-1.8zM70.8 91.1h1.9l-0.2 17.1h-1.9zM74.6 78.3h1.1l0.1 4.4h-1.1zM75.1 53.4h1.1l0.2 12.4h-1.1zM75.8 65.9h1.1l0 8.5h-1.1zM76.5 61.6h1.1l0 4.4h-1.1zM76.6 69.8h1.1l0 4.4h-1.1zM77.1 45.3h1.9l0 8.5h-1.9zM78.5 45.1h1.2l-0.1 8.7h-1.2zM79.5 53.6h1.4l-0.2 16.5h-1.4zM80.5 49.1h2.4l0.1 8.4h-2.4zM82.1 45h1.8l0.1 12.7h-1.8zM87 39.1h1.3l0 4.5h-1.3zM87.4 35h1.6l-0.4 8.6h-1.6zM88.8 32.2h2.3l0 5.3h-2.3zM91 35.1h2.1l0.4 8.7h-2.1zM91.6 34.9h2l-0.1 4.6h-2zM85.7 40.9H87.6V46H85.7z"/><path fill="#f8dc35" d="M69.3 86.6h1l0 4.5h-1zM69.3 94.9h1l0 8.6h-1zM69.3 107.4h1l0 4.5h-1zM70.4 86.9h1.8l0.1 12.8h-1.8zM70.6 107.9h1.9l-0.1 4.5h-1.9zM72.9 86.1h2.1l0.2 16.6h-2.1zM73.2 106.4h2.1l0.1 4.4h-2.1zM74.5 74.2h1.1l0.1 4.4h-1.1zM74.7 86.6h1.1l0.1 8.5h-1.1zM75.3 65.5h1.1l0.2 12.4h-1.1zM75.8 74h1.1l0 4.4h-1.1zM76.6 78h1.1l0 4.4h-1.1zM77.1 53.6h1.9l0 12.7h-1.9zM78.3 57.6h1.2l-0.1 4.5h-1.2zM79.3 69.8h1.4l-0.1 8.4h-1.4zM80.6 57.2h2.4l0.1 8.4h-2.4zM88.9 37.2h2.3l0 5.3h-2.3zM91.5 39.2h2l-0.1 4.6h-2zM103.1 31H105.9V36.8H103.1zM103.1 34H105.9V39.8H103.1z"/><path fill="#f7cf3b" d="M69.3 90.7h1l0 4.5h-1zM69.3 103.2h1l0 4.5h-1zM69.3 111.5h1l0 12.8h-1zM70.5 99.4h1.8l0.2 21.1h-1.8zM73.2 102.4h2.1l0.1 4.4h-2.1zM73.3 110.5h2.1l0.2 12.5h-2.1zM74.6 82.5h1.1l0.1 4.4h-1.1zM74.9 94.8h1.1l0.1 8.5h-1.1zM75.1 107.1h1.1l0.1 8.5h-1.1zM75.5 77.6h1.1l0.1 4.3h-1.1zM75.8 78.1h1.1l0.1 20.7h-1.1zM76.6 73.9h1.1l0 4.4h-1.1zM76.6 82.1h1.1l0 8.5h-1.1zM77.1 65.9h1.9l0 8.5h-1.9zM78.4 53.5h1.2l-0.1 4.5h-1.2zM78.3 61.8h1.2l-0.1 4.5h-1.2zM79.2 77.9h1.4l-0.1 8.4h-1.4zM80.6 65.3h2.4l0.1 12.4h-2.4zM82.1 57.4h1.8l0 8.5h-1.8zM83.7 45.2h1.3l0 12.6h-1.3zM84.8 45.2h1.7l0.2 8.7h-1.7zM86 45.4h2l-0.1 17h-2zM87.3 45.1h0.7l0 8.3h-0.7zM90.9 45.5h1.4l0.1 4.4h-1.4zM97.9 45.4h1.3l0.1 4.4h-1.3zM103.1 37H105.9V42.9H103.1z"/><path fill="#f3b640" d="M69.3 124h1l0 4.5h-1zM70.8 128.5h1.8l0 4.5h-1.8zM73.5 126.8h2.1l0.1 4.4h-2.1zM75.3 119.4h1.1l0.2 12.6h-1.1zM75.7 89.6h1.1l0.2 12.4h-1.1zM75.9 110.8h1.1l0 4.4h-1.1zM76 119h1.1l0 8.5h-1.1zM76 131.2h1.1l0 4.4h-1.1zM76.6 106.6h1.1l0 4.4h-1.1zM77.2 82.4h1.9l0 4.4h-1.9zM78 78.5h1.2l-0.1 4.5h-1.2zM79 98.1h1.4l-0.2 16.5h-1.4zM80.9 85.5h2.4l0 4.3h-2.4zM81 93.6h2.4l0 4.3h-2.4zM82.3 78h1.8l0 8.5h-1.8zM83.7 61.6h1.3l0 4.4h-1.3zM83.7 69.8h1.3l0 4.4h-1.3zM85.1 57.8h1.7l0.3 12.9h-1.7zM85.9 62.1h2l-0.1 8.7h-2zM87.3 65.2h0.7l0 4.3h-0.7zM89.8 45.4h1.7l0 4.4h-1.7zM91.1 57.7h1.4l0.1 8.5h-1.4zM92.2 49.4h1.8l0 4.4h-1.8zM93.5 45.1h1.3l-0.1 4.5h-1.3zM93.3 57.6h1.3l-0.1 4.5h-1.3zM94.2 45.4h0.6l0 8.5h-0.6zM95.8 45.2h1.3l0.1 12.5h-1.3zM96.5 45.5h1.9l-0.1 8.5h-1.9zM98.1 57.7h1.3l0.1 4.4h-1.3zM98.9 49.3h2.1l-0.1 8.3h-2.1zM102.5 45.3h1.5l0.1 4.4h-1.5zM103.4 45.5h2.3l-0.1 4.4h-2.3zM105.5 45.4h0.8l-0 4.5h-0.8z"/><path fill="#f5c140" d="M69.3 128.1h1l0 8.6h-1zM70.7 120.2h1.8l0.1 8.6h-1.8zM73.4 122.7h2.1l0.1 4.4h-2.1zM73.6 130.9h2.1l0.1 4.4h-2.1zM75 103h1.1l0.1 4.4h-1.1zM75.2 115.3h1.1l0.1 4.4h-1.1zM75.5 81.6h1.1l0.1 8.4h-1.1zM75.9 98.5h1.1l0 12.6h-1.1zM75.9 114.9h1.1l0 4.4h-1.1zM76.6 90.3h1.1l0 16.7h-1.1zM76.6 110.7h1.1l0 4.4h-1.1zM77.2 74.2h1.9l0 8.5h-1.9zM78.2 66h1.2l-0.2 12.8h-1.2zM79.2 85.9h1.4l-0.1 12.4h-1.4zM80.8 77.4h2.4l0.1 8.4h-2.4zM82.2 65.6h1.8l0.1 12.7h-1.8zM83.7 57.5h1.3l0 4.4h-1.3zM85 53.6h1.7l0.1 4.5h-1.7zM87.3 53.1h0.7l0 12.4h-0.7zM91 49.6h1.4l0.1 8.5h-1.4zM92.2 45.3h1.8l0 4.4h-1.8zM93.4 49.3h1.3l-0.1 4.5h-1.3zM98 49.5h1.3l0.1 8.5h-1.3zM98.9 45.3h2.1l-0.1 4.3h-2.1zM103.1 40.1H105.9V45.9H103.1z"/><path fill="#f1ab40" d="M75.5 131.7h1.1l0.1 4.4h-1.1zM75.9 101.7h1.1l0.3 20.4h-1.1zM76 127.1h1.1l0 4.4h-1.1zM76.6 114.8h1.1l0 20.7h-1.1zM77.2 86.5h1.9l0 20.9h-1.9zM77.9 82.7h1.2l-0.3 17h-1.2zM77.6 107.7h1.2l-0.1 4.5h-1.2zM78.9 114.2h1.4l-0.1 8.4h-1.4zM78.7 126.4h1.4l-0 4.3h-1.4zM80.9 89.6h2.4l0 4.3h-2.4zM81 97.7h2.4l0.1 12.4h-2.4zM82.3 86.2h1.8l0 8.5h-1.8zM83.7 65.7h1.3l0 4.4h-1.3zM83.7 73.9h1.3l0 8.5h-1.3zM85.4 70.4h1.7l0.1 4.5h-1.7zM85.8 70.5h2l-0 4.5h-2zM87.3 69.2h0.7l0 4.3h-0.7zM89.8 49.5h1.7l0 8.5h-1.7zM92.2 53.4h1.8l0 4.4h-1.8zM93.3 53.4h1.3l-0.1 4.5h-1.3zM94.2 53.6h0.6l0 8.5h-0.6zM95.9 57.4h1.3l0 4.4h-1.3zM96.5 53.8h1.9l-0 4.4h-1.9zM98.3 66h1.3l0.1 4.4h-1.3zM98.8 57.4h2.1l-0.1 8.3h-2.1zM100.9 45.1h2.1l0 4.4h-2.1zM102.5 49.4h1.5l0.1 4.4h-1.5zM105.5 49.6h0.8l-0 4.5h-0.8z"/><path fill="#f0a03d" d="M76.2 121.9h1.1l0.1 8.4h-1.1zM77.2 107.1h1.9l0 12.7h-1.9zM77.2 123.6h1.9l0 4.4h-1.9zM77.7 99.4h1.2l-0.1 8.7h-1.2zM77.5 111.9h1.2l-0.1 8.7h-1.2zM78.8 122.3h1.4l-0 4.3h-1.4zM78.7 130.4h1.4l-0 4.3h-1.4zM81.1 109.8h2.4l0.2 16.5h-2.4zM82.4 94.4h1.8l0.1 12.7h-1.8zM83.7 82.2h1.3l0 4.4h-1.3zM85.4 74.6h1.7l0.2 8.7h-1.7zM85.8 74.7h2l-0.1 8.7h-2zM87.3 73.2h0.7l0 8.3h-0.7zM89.8 57.6h1.7l0 4.4h-1.7zM91.3 65.9h1.4l0.1 8.5h-1.4zM92.2 57.5h1.8l0.1 12.5h-1.8zM93.2 61.7h1.3l-0.2 12.8h-1.3zM94.2 61.8h0.6l0 4.4h-0.6zM95.9 65.5h1.3l0 4.4h-1.3zM96.4 57.9h1.9l-0.1 8.5h-1.9zM98.2 61.8h1.3l0.1 4.4h-1.3zM98.3 70.1h1.3l0.1 8.5h-1.3zM98.7 65.4h2.1l-0.1 4.3h-2.1zM100.9 49.2h2.1l0.1 8.5h-2.1zM102.6 53.5h1.5l0.1 8.6h-1.5zM103.4 49.5h2.3l-0.1 8.4h-2.3zM105.4 53.8h0.8l-0 4.5h-0.8z"/><path fill="#f0953a" d="M76.3 129.9h1.1l0.1 4.3h-1.1zM77.2 119.5h1.9l0 4.4h-1.9zM77.2 127.7h1.9l0 4.4h-1.9zM77.4 120.3h1.2l-0.2 12.8h-1.2zM81.4 130h2.4l0 4.3h-2.4zM82.4 106.8h1.8l0 8.5h-1.8zM82.5 119.1h1.8l0 4.4h-1.8zM83.7 86.3h1.3l0 16.7h-1.3zM85.6 83h1.7l0.1 4.5h-1.7zM85.8 83h2l-0.1 12.8h-2zM87.3 81.3h0.7l0 12.4h-0.7zM89.8 61.7h1.7l0 12.6h-1.7zM91.4 74h1.4l0.3 16.6h-1.4zM92.3 69.6h1.8l0.1 8.4h-1.8zM93 74.2h1.3l-0.1 4.5h-1.3zM94.2 65.8h0.6l0 4.4h-0.6zM95.9 61.4h1.3l0 4.4h-1.3zM96 69.5h1.3l0 4.4h-1.3zM96.4 66.1h1.9l-0.1 8.5h-1.9zM98.6 69.4h2.1l-0.1 8.3h-2.1zM101 57.4h2.1l0.1 8.5h-2.1zM102.7 61.8h1.5l0.1 8.6h-1.5zM103.3 57.6h2.3l-0.1 8.4h-2.3zM105.4 58h0.8l-0.1 12.9h-0.8z"/><path fill="#ef8638" d="M77.2 131.9h1.9l0 4.4h-1.9zM81.3 126h2.4l0 4.3h-2.4zM82.5 115h1.8l0 4.4h-1.8zM82.5 123.3h1.8l0 4.4h-1.8zM83.7 102.7h1.3l0 12.6h-1.3zM85.7 87.2h1.7l0.3 12.9h-1.7zM85.7 95.6h2l-0.1 17h-2zM87.3 93.3h0.7l0 20.4h-0.7zM89.8 74h1.7l0 4.4h-1.7zM91.7 90.4h1.4l0.1 4.4h-1.4zM92.4 77.7h1.8l0 4.4h-1.8zM92.9 78.4h1.3l-0.1 4.5h-1.3zM94.2 69.9h0.6l0 12.5h-0.6zM96 73.6h1.3l0 4.4h-1.3zM96.3 74.4h1.9l-0 4.4h-1.9zM98.4 78.3h1.3l0.2 12.7h-1.3zM98.5 77.5h2.1l-0.1 4.3h-2.1zM101.1 65.5h2.1l0 4.4h-2.1zM102.8 70.1h1.5l0.1 4.4h-1.5zM103.2 65.8h2.3l-0.1 4.4h-2.3zM105.3 70.5h0.8l-0 4.5h-0.8z"/><path fill="#ed7438" d="M82.6 127.4h1.8l0 8.5h-1.8zM83.8 115h1.3l0 12.6h-1.3zM83.8 131.5h1.3l0 4.4h-1.3zM86 99.8h1.7l0.2 8.7h-1.7zM85.5 112.3h2l-0.1 12.8h-2zM87.3 113.5h0.7l0 8.3h-0.7zM89.8 78.1h1.7l0 12.6h-1.7zM91.7 94.4h1.4l0.1 8.5h-1.4zM92.4 81.8h1.8l0.1 12.5h-1.8zM92.9 82.5h1.3l-0.1 8.6h-1.3zM94.2 82.2h0.6l0 8.5h-0.6zM96 77.7h1.3l0.1 8.4h-1.3zM96.3 78.5h1.9l-0 4.4h-1.9zM98.6 90.7h1.3l0.2 12.7h-1.3zM98.4 81.5h2.1l-0.1 8.3h-2.1zM101.1 69.6h2.1l0 4.4h-2.1zM102.9 74.2h1.5l0.1 8.6h-1.5zM103.1 69.8h2.3l-0.1 8.4h-2.3z"/><path fill="#ea6638" d="M83.8 127.3h1.3l0 4.4h-1.3zM85.4 124.8h2l-0.1 8.7h-2zM87.3 121.5h0.7l0 12.4h-0.7zM89.8 90.4h1.7l0 4.4h-1.7zM91.9 102.6h1.4l0.3 16.6h-1.4zM92.2 123h1.4l0.1 4.4h-1.4zM92.5 94h1.8l0 4.4h-1.8zM92.7 90.8h1.3l-0.3 16.9h-1.3zM94.2 90.3h0.6l0 12.5h-0.6zM96.1 85.8h1.3l0 4.4h-1.3zM96.2 82.6h1.9l-0.1 16.8h-1.9zM98.8 103h1.3l0.2 12.7h-1.3zM98.3 89.5h2.1l-0.2 16.4h-2.1zM101.1 73.7h2.1l0.1 8.5h-2.1zM103 82.5h1.5l0.1 8.6h-1.5zM103 77.9h2.3l-0.1 4.4h-2.3zM105.3 74.7h0.8l-0.1 8.7h-0.8z"/><path fill="#2f41e7" d="M87 22.2h1.3l0 8.8h-1.3zM87.9 22.5h1.6l-0.4 8.6h-1.6zM88.8 22.3h2.3l0.1 10.2h-2.3zM19 21.2H24.2V23.1H19zM22.3 21.2H27.6V23.1H22.3zM86.1 22.7H88.9V29.4H86.1zM86.1 18.8H88.9V25.5H86.1zM86.1 18.8H92.3V21.6H86.1zM103.1 18.8H105.9V24.6H103.1zM103.1 21.8H105.9V27.7H103.1zM85.7 25.2H87.6V30.3H85.7zM85.7 28.4H87.6V33.4H85.7z"/><path fill="#373eec" d="M92 22.2h2l-0.1 4.6h-2zM89.5 18.8H95.7V21.6H89.5zM92.9 18.8H99.1V21.6H92.9zM96.3 18.8H102.5V21.6H96.3zM99.7 18.8H105.9V21.6H99.7zM88.8 20.8H91.3V26.2H88.8zM88.8 20.8H95.3V23.2H88.8z"/><path fill="#e85938" d="M89.8 94.5h1.7l0 8.5h-1.7zM92.1 118.9h1.4l0.1 4.4h-1.4zM92.6 98h1.8l0.1 12.5h-1.8zM92.5 107.5h1.3l-0.2 12.8h-1.3zM94.2 102.6h0.6l0 12.5h-0.6zM96.1 89.8h1.3l0.1 16.5h-1.3zM96.2 110.1h1.3l0 4.4h-1.3zM96.1 99.1h1.9l-0.1 16.8h-1.9zM99.1 119.5h1.3l0.1 8.5h-1.3zM98.1 105.6h2.1l-0.1 8.3h-2.1zM101.2 81.8h2.1l0.1 8.5h-2.1zM103.1 94.9h1.5l0.1 4.4h-1.5zM103 82h2.3l-0.2 12.5h-2.3zM105.2 83.1h0.8l-0.1 12.9h-0.8z"/><path fill="#e64a36" d="M89.8 102.7h1.7l0 20.8h-1.7zM92.3 127.1h1.4l0.1 4.4h-1.4zM94.2 114.8h0.6l0 12.5h-0.6zM96.2 106.1h1.3l0 4.4h-1.3zM96.3 114.2h1.3l0.1 8.4h-1.3zM96 115.5h1.9l-0.1 8.5h-1.9zM99 115.4h1.3l0.1 4.4h-1.3zM99.2 127.7h1.3l0.1 8.5h-1.3zM98 113.6h2.1l-0.1 8.3h-2.1zM101.3 90h2.1l0 4.4h-2.1zM101.3 98.2h2.1l0 4.4h-2.1zM103.1 90.7h1.5l0.1 4.4h-1.5zM103.2 99h1.5l0.2 12.7h-1.5zM102.8 94.1h2.3l-0.1 8.4h-2.3zM105.1 95.6h0.8l-0.2 25.4h-0.8z"/><path fill="#e44034" d="M89.8 123.1h1.7l0 4.4h-1.7zM94.2 127h0.6l0 4.4h-0.6zM96.3 122.3h1.3l0.1 8.4h-1.3zM95.9 123.8h1.9l-0.1 12.7h-1.9zM101.3 94.1h2.1l0 4.4h-2.1zM101.4 102.2h2.1l0.1 12.5h-2.1zM101.5 118.6h2.1l0 4.4h-2.1zM103.3 111.4h1.5l0.3 25.1h-1.5zM102.7 102.2h2.3l-0.3 20.6h-2.3zM102.3 130.6h2.3l-0.1 4.4h-2.3zM104.9 120.7h0.8l-0 4.5h-0.8z"/><path fill="#e33f33" d="M89.8 127.2h1.7l0 4.4h-1.7zM96.4 130.4h1.3l0 4.4h-1.3zM101.5 114.5h2.1l0 4.4h-2.1zM101.6 126.7h2.1l0 4.4h-2.1zM102.4 122.5h2.3l-0.1 8.4h-2.3zM104.9 124.9h0.8l-0.1 8.7h-0.8z"/><path fill="#e33e33" d="M101.6 122.6h2.1l0 4.4h-2.1zM101.6 130.8h2.1l0 4.4h-2.1z"/><path fill="#fff" d="M94.5 22.6H103.5V43.5H94.5zM60 48H66V63H60zM15.6 34.9H22.8V44.4H15.6zM32 22H41.5V44.3H32zM82 28H86V43.5H82zM23.2 52H25.6V73H23.2z"/></g><g transform="translate(346.70,47.00)"><path fill="#f8dc20" d="M13.7 45.4h1.2l0 4.5h-1.2zM15.6 45.5h2.3l-0 4.4h-2.3zM17.9 45.2h1l-0.1 4.5h-1zM16.5 124.2h1l-0.1 4.5h-1zM18.5 45.3h0.4l-0 4.3h-0.4zM33.1 102.3h2.2l0.3 20.6h-2.2zM33.5 126.6h2.2l0.1 4.4h-2.2zM34.6 115.8h1.7l-0.1 8.6h-1.7zM34.5 128.3h1.7l-0.1 8.6h-1.7zM36.5 45.5h1l0 4.4h-1zM37.8 69.5h2l0 8.5h-2zM37.8 85.9h2l0 4.4h-2zM37.8 94h2l0 4.4h-2zM37.8 102.2h2l0 8.5h-2zM37.8 114.4h2l0 4.4h-2zM37.8 130.7h2l0 4.4h-2zM39.4 45.2h1.1l-0 4.3h-1.1zM39.3 57.3h1.1l-0.1 8.4h-1.1zM39 81.4h1.1l-0.1 8.4h-1.1zM38.9 97.6h1.1l-0 4.3h-1.1zM40.3 45.4h1l-0 4.4h-1zM39.6 111.6h1l-0.2 16.8h-1zM40.8 49.3h1.7l-0 12.7h-1.7zM40.7 86.5h1.7l-0 4.4h-1.7zM40.7 98.9h1.7l-0 8.6h-1.7zM40.6 119.7h1.7l-0 4.4h-1.7zM40.5 127.9h1.7l-0 8.6h-1.7zM42.9 53.6h1.1l-0.1 8.6h-1.1zM42.7 74.3h1.1l-0.1 8.6h-1.1zM42.6 86.8h1.1l-0.1 12.7h-1.1zM42.3 107.5h1.1l-0.2 21h-1.1zM42.1 132.3h1.1l-0 4.4h-1.1zM43.1 23.1h0.8l-0.4 8.8h-0.8zM42.5 35.8h0.8l-0.2 4.5h-0.8zM46.2 40.2h2.3l0.1 4.8h-2.3zM45.6 83.4h2.4l0 12.9h-2.4zM49.8 78h1.4l0 12.5h-1.4zM51.8 53.5h2.3l0 4.3h-2.3zM51.9 61.6h2.3l0 4.3h-2.3zM52 77.8h2.3l0 8.4h-2.3zM52 94h2.3l0.1 24.6h-2.3zM52.2 126.3h2.3l0 8.4h-2.3zM53.2 53.2h1.3l-0 4.3h-1.3zM53.2 61.2h1.3l-0 4.3h-1.3zM53.1 69.2h1.3l-0.1 16.3h-1.3zM53 97.3h1.3l-0 8.3h-1.3zM56.1 23.3h0.5l-0.1 12.4h-0.5zM55.9 47.4h0.5l-0 4.3h-0.5zM55.6 91.8h0.5l-0.1 8.4h-0.5zM58.5 33.9h2l0 4.4h-2zM59.9 33.8h1l0 4.4h-1zM59.9 54.1h1l0 8.4h-1zM60.8 26h2l0.1 8.4h-2zM60.9 38.1h2l0 4.3h-2zM62.6 38.4h1.4l0 4.4h-1.4zM62.6 75.8h1.4l0 4.4h-1.4zM62.6 104.8h1.4l0 8.6h-1.4zM62.6 129.7h1.4l0 4.4h-1.4zM61.8 35h1.6l-0.1 4.8h-1.6zM63.6 39h1.2l0.1 4.7h-1.2zM68.1 31h2l-0.1 14.2h-2zM66.7 45.4h0.8l0 4.5h-0.8zM66.7 53.8h0.8l0 21.2h-0.8zM66.7 83h0.8l0 8.7h-0.8zM66.7 95.6h0.8l0 12.8h-0.8zM66.7 116.5h0.8l0 4.5h-0.8zM66.7 124.8h0.8l0 4.5h-0.8zM69 45h1l0 12.8h-1zM69 65.8h1l0 4.5h-1zM69 74.1h1l0 8.6h-1zM69 86.6h1l0 21.1h-1zM69 111.5h1l0 4.5h-1zM69 124h1l0 8.6h-1zM69.8 53.6h1.8l0.1 12.8h-1.8zM69.9 70.3h1.8l0.2 25.3h-1.8zM70.2 99.4h1.8l0.2 29.4h-1.8zM70.6 78.6h1.9l-0 4.5h-1.9zM70.5 86.9h1.9l-0.2 17.1h-1.9zM73.7 45.5h1.1l0.1 4.4h-1.1zM73.9 57.8h1.1l0.1 8.5h-1.1zM74.2 74.2h1.1l0.3 16.7h-1.1zM75.1 131.7h1.1l0.1 4.4h-1.1zM74.9 61.5h1.1l0.1 4.3h-1.1zM75 69.5h1.1l0.1 4.3h-1.1zM76.2 45.3h1.1l0 4.4h-1.1zM79.2 49.5h1.4l-0 4.3h-1.4zM79.1 61.7h1.4l-0.2 16.5h-1.4zM78.3 130.4h1.4l-0 4.3h-1.4zM80.7 101.7h2.3l0 4.3h-2.3zM80.8 109.8h2.3l0 4.3h-2.3zM80.9 121.9h2.3l0 4.3h-2.3zM81.7 49.2h1.8l0.1 12.7h-1.8zM81.8 65.6h1.8l0.1 12.7h-1.8zM82 90.3h1.8l0 4.4h-1.8zM82 102.7h1.8l0 8.5h-1.8zM82.1 115h1.8l0 8.5h-1.8zM82.2 127.4h1.8l0 4.4h-1.8zM74.5 23.9h2.1l0.8 10.8h-2.1zM76.9 27.6h2.1l-0.2 8.9h-2.1zM78.5 40.2h0.9l-0 4.5h-0.9zM89.4 53.5h1.7l0 24.9h-1.7zM89.4 86.3h1.7l0 24.9h-1.7zM93 49.3h1.3l-0.1 8.6h-1.3zM92.5 82.5h1.3l-0.1 4.5h-1.3zM92.2 99.2h1.3l-0.1 4.5h-1.3zM92 111.6h1.3l-0.1 8.6h-1.3zM93.8 49.5h0.6l0 4.4h-0.6zM93.8 57.7h0.6l0 4.4h-0.6zM93.8 78.1h0.6l0 8.5h-0.6zM93.8 94.4h0.6l0 20.7h-0.6zM93.8 118.9h0.6l0 8.5h-0.6zM95.4 45.2h1.3l0 4.4h-1.3zM96.1 45.5h1.9l-0 4.4h-1.9zM95.9 66.1h1.9l-0 4.4h-1.9zM95.7 90.8h1.9l-0 4.4h-1.9zM95.6 107.3h1.9l-0 4.4h-1.9zM95.5 119.6h1.9l-0 4.4h-1.9zM97.9 70.1h1.3l0.1 8.5h-1.3zM98.2 90.7h1.3l0.1 4.4h-1.3zM98.3 98.9h1.3l0.1 4.4h-1.3zM98.5 111.2h1.3l0.1 4.4h-1.3zM98.6 119.5h1.3l0.1 8.5h-1.3zM100.5 49.2h2.1l0 4.4h-2.1zM100.5 57.4h2.1l0.2 24.8h-2.1zM100.8 85.9h2.1l0.1 16.6h-2.1zM101 106.3h2.1l0.1 8.5h-2.1zM101.1 118.6h2.1l0 4.4h-2.1zM101.2 130.8h2.1l0 4.4h-2.1z"/><path fill="#fcf020" d="M13.8 49.6h1.2l0 4.5h-1.2zM13.9 57.9h1.2l0 4.5h-1.2zM14.5 124.6h1.2l0 4.5h-1.2zM15.4 74h2.3l-0 4.4h-2.3zM15 122.8h2.3l-0 4.4h-2.3zM17 45.1h1.5l0 4.4h-1.5zM18.5 49.3h0.4l-0 4.3h-0.4zM17.8 118.1h0.4l-0 4.3h-0.4zM18.9 45.3h1.8l0 4.3h-1.8zM20.3 45.3h1.5l-0 4.5h-1.5zM21.2 69.6h2.2l0 4.3h-2.2zM28.9 27.4h1.4l0.3 5.1h-1.4zM26.2 74.1h1.3l0 4.4h-1.3zM27 49.3h1.1l0 4.6h-1.1zM27.3 96.1h1.1l0 4.6h-1.1zM32.7 73.9h2.2l0.1 4.4h-2.2zM33.4 122.6h2.2l0.1 4.4h-2.2zM33.5 130.7h2.2l0.1 4.4h-2.2zM33.7 69.3h2.1l-0.1 4.4h-2.1zM33.5 81.5h2.1l-0.1 4.4h-2.1zM34.7 103.3h1.7l-0.1 12.8h-1.7zM34.5 124.1h1.7l-0 4.5h-1.7zM36.6 57.9h1l0 4.4h-1zM37.8 45.1h2l0 4.4h-2zM37.8 61.4h2l0 4.4h-2zM37.8 77.7h2l0 4.4h-2zM37.8 89.9h2l0 4.4h-2zM37.8 98.1h2l0 4.4h-2zM37.8 118.5h2l0 4.4h-2zM37.8 126.7h2l0 4.4h-2zM39.4 49.2h1.1l-0.1 8.4h-1.1zM39.2 65.3h1.1l-0.2 16.4h-1.1zM39 89.5h1.1l-0.1 8.4h-1.1zM38.8 101.6h1.1l-0.2 16.4h-1.1zM38.6 121.8h1.1l-0.1 12.4h-1.1zM39.4 128.1h1l-0.1 8.6h-1zM40.9 45.1h1.7l-0 4.4h-1.7zM40.8 61.7h1.7l-0 4.4h-1.7zM40.7 78.2h1.7l-0 8.6h-1.7zM40.7 90.7h1.7l-0 8.6h-1.7zM40.6 111.4h1.7l-0 4.4h-1.7zM41.9 45.2h1.4l0 4.4h-1.4zM42.5 98.3h1.4l0 4.4h-1.4zM43 45.4h1.1l-0.1 8.6h-1.1zM42.8 61.9h1.1l-0 4.4h-1.1zM42.1 128.2h1.1l-0 4.4h-1.1zM42.3 40h0.8l-0.2 4.5h-0.8zM50.4 38.1h1l-0.2 4.3h-1zM45.6 54h2.4l0 4.5h-2.4zM45.6 96h2.4l0 8.7h-2.4zM45.6 108.6h2.4l0 4.5h-2.4zM49.8 90.2h1.4l0 4.4h-1.4zM49.8 106.5h1.4l0 4.4h-1.4zM53.2 45.2h1.3l-0 4.3h-1.3zM53.1 65.2h1.3l-0 4.3h-1.3zM53.1 85.3h1.3l-0 4.3h-1.3zM53 93.3h1.3l-0 4.3h-1.3zM55.1 89.6h1.4l0 4.5h-1.4zM56 35.3h0.5l-0.1 12.4h-0.5zM55.9 55.5h0.5l-0 4.3h-0.5zM55.8 67.6h0.5l-0.2 24.5h-0.5zM55.6 99.8h0.5l-0.1 12.4h-0.5zM55.5 115.9h0.5l-0.1 12.4h-0.5zM62.6 26h1.4l0 12.7h-1.4zM62.6 42.6h1.4l0 4.4h-1.4zM61.9 30.5h1.6l-0.1 4.8h-1.6zM61.7 39.4h1.6l-0.1 4.8h-1.6zM63.5 30.3h1.2l0.1 4.7h-1.2zM66.7 49.6h0.8l0 4.5h-0.8zM66.7 78.9h0.8l0 4.5h-0.8zM66.7 91.4h0.8l0 4.5h-0.8zM66.7 108.1h0.8l0 4.5h-0.8zM66.7 120.7h0.8l0 4.5h-0.8zM69 57.5h1l0 8.6h-1zM69 107.4h1l0 4.5h-1zM69 115.7h1l0 4.5h-1zM70.2 95.2h1.8l0 4.5h-1.8zM70.4 128.5h1.8l0 4.5h-1.8zM70.6 82.7h1.9l-0 4.5h-1.9zM70.3 107.9h1.9l-0 4.5h-1.9zM72.2 53.5h2.1l0.1 4.4h-2.1zM73.8 53.7h1.1l0.1 4.4h-1.1zM74.6 98.9h1.1l0.1 4.4h-1.1zM74.7 49.4h1.1l0.1 8.4h-1.1zM74.9 65.5h1.1l0.1 4.3h-1.1zM75.1 73.5h1.1l0.1 4.3h-1.1zM76.8 123.6h1.9l0 4.4h-1.9zM79.1 57.6h1.4l-0 4.3h-1.4zM80.2 57.2h2.3l0 4.3h-2.3zM80.3 65.3h2.3l0 4.3h-2.3zM80.7 105.8h2.3l0 4.3h-2.3zM80.8 113.8h2.3l0 4.3h-2.3zM80.9 126h2.3l0.1 8.4h-2.3zM83.3 73.9h1.3l0 4.4h-1.3zM84.6 53.6h1.7l0.1 4.5h-1.7zM85.4 78.8h2l-0 4.5h-2zM85.3 95.6h2l-0 4.5h-2zM75.3 34.4h2.1l0.4 5.6h-2.1zM77 23.3h2.1l-0.1 4.6h-2.1zM76.7 36.2h2.1l-0.2 8.9h-2.1zM89.4 78.1h1.7l0 4.4h-1.7zM90.5 45.5h1.4l0.1 4.4h-1.4zM91.5 106.7h1.4l0.1 4.4h-1.4zM91.8 53.4h1.8l0 4.4h-1.8zM91.9 69.6h1.8l0 4.4h-1.8zM92.2 102.1h1.8l0 4.4h-1.8zM92.8 57.6h1.3l-0.1 4.5h-1.3zM92.7 65.9h1.3l-0.1 4.5h-1.3zM92.6 74.2h1.3l-0.1 8.6h-1.3zM92.4 86.7h1.3l-0.2 12.8h-1.3zM92.1 103.3h1.3l-0.1 8.6h-1.3zM93.8 53.6h0.6l0 4.4h-0.6zM93.8 61.8h0.6l0 4.4h-0.6zM93.8 69.9h0.6l0 8.5h-0.6zM93.8 86.2h0.6l0 8.5h-0.6zM93.8 114.8h0.6l0 4.4h-0.6zM93.8 127h0.6l0 4.4h-0.6zM95.9 122.3h1.3l0 4.4h-1.3zM96 53.8h1.9l-0.1 8.5h-1.9zM95.9 70.2h1.9l-0 4.4h-1.9zM95.8 78.5h1.9l-0 4.4h-1.9zM95.8 86.7h1.9l-0 4.4h-1.9zM95.7 94.9h1.9l-0.1 12.7h-1.9zM95.6 111.4h1.9l-0.1 8.5h-1.9zM95.5 123.8h1.9l-0.1 8.5h-1.9zM97.7 61.8h1.3l0.1 8.5h-1.3zM98 78.3h1.3l0.1 4.4h-1.3zM98.2 94.8h1.3l0.1 4.4h-1.3zM98.4 103h1.3l0.1 8.5h-1.3zM98.5 115.4h1.3l0.1 4.4h-1.3zM98.7 127.7h1.3l0.1 4.4h-1.3zM102.1 53.5h1.5l0.1 4.4h-1.5zM102.5 86.6h1.5l0.1 4.4h-1.5zM102.8 107.3h1.5l0.1 4.4h-1.5zM102.4 86h2.3l-0.1 4.4h-2.3zM46.8 122.4h1.4v1.4h-1.4zM46.8 125.9h1.4v1.4h-1.4zM13.6 45.6H15.5V50.7H13.6zM13.6 42.4H15.5V47.5H13.6zM13.9 44.6H19.1V46.2H13.9zM17.5 44.6H22.7V46.2H17.5z"/><path fill="#e4e4fa" d="M13.9 62.1h1.2l0.1 12.8h-1.2zM14.1 78.8h1.2l0.1 8.6h-1.2zM14.3 103.8h1.2l0.2 17h-1.2zM15.5 49.5h2.3l-0.2 24.7h-2.3zM15.3 78h2.3l-0.1 16.6h-2.3zM15.2 98.4h2.3l-0.2 24.7h-2.3zM17 49.2h1.5l0.2 32.9h-1.5zM17.3 94h1.5l0.1 16.6h-1.5zM17.4 114.3h1.5l0.1 12.5h-1.5zM17.8 49.4h1l-0.1 4.5h-1zM17.7 57.7h1l-0.4 25.2h-1zM17.2 86.8h1l-0.1 8.6h-1zM16.9 99.2h1l-0.4 25.2h-1zM18.4 53.4h0.4l-0.4 40.8h-0.4zM18 97.9h0.4l-0.2 20.5h-0.4zM17.8 122.2h0.4l-0 4.3h-0.4zM19 49.3h1.8l0.8 81.2h-1.8zM20.2 49.5h1.5l-0 4.5h-1.5zM20.2 57.9h1.5l-0 8.7h-1.5zM20.1 74.6h1.5l-0.1 29.6h-1.5zM20 108.1h1.5l-0 4.5h-1.5zM19.9 116.5h1.5l-0.1 17.1h-1.5zM21.2 45.5h2.2l0 4.3h-2.2zM21.2 53.5h2.2l0 16.4h-2.2zM21.2 73.6h2.2l0 24.4h-2.2zM21.2 101.7h2.2l0 4.3h-2.2zM21.2 113.8h2.2l0 16.4h-2.2zM22.9 73.2h0.5l0 8.3h-0.5zM22.9 101.3h0.5l0 8.3h-0.5zM22.9 113.3h0.5l0 4.3h-0.5zM22.9 121.4h0.5l0 4.3h-0.5zM25.5 22.1h1.3l-1.2 21.6h-1.3zM27.1 22.2h2.3l1.4 22.9h-2.3zM28.6 22.6h1.4l0.3 5.1h-1.4zM29.2 32.2h1.4l0.7 9.9h-1.4zM29.3 22.5h1.4l0.2 9h-1.4zM29.6 35.5h1.4l0.1 4.6h-1.4zM31.1 22.5h0.7l-0.8 14.3h-0.7zM25.1 45.1h0.8l0 5.2h-0.8zM25.1 54.9h0.8l0 5.2h-0.8zM26.2 45.4h1.3l0 4.4h-1.3zM26.2 61.8h1.3l0 12.6h-1.3zM26.2 82.3h1.3l0 8.5h-1.3zM27 45.1h1.1l0 4.6h-1.1zM27.1 57.8h1.1l0.1 8.8h-1.1zM27.1 70.6h1.1l0.1 17.3h-1.1zM27.3 91.8h1.1l0 4.6h-1.1zM27.7 45.6h1.5l-0.3 17.3h-1.5zM27.2 71.1h1.5l-0.1 4.6h-1.5zM27 83.8h1.5l-0.1 4.6h-1.5zM26.8 92.3h1.5l-0.1 4.6h-1.5zM32.4 45.5h2.2l0.1 8.4h-2.2zM32.5 57.6h2.2l0.1 4.4h-2.2zM32.6 65.8h2.2l0.1 4.4h-2.2zM33 90.1h2.2l0.1 8.4h-2.2zM34 49.1h2.1l-0.1 4.4h-2.1zM33.9 61.2h2.1l-0.1 8.4h-2.1zM33.7 73.4h2.1l-0.1 8.4h-2.1zM33.5 85.5h2.1l-0.1 4.4h-2.1zM33.2 101.8h2.1l-0.2 12.5h-2.1zM35.2 53.4h1.7l-0 4.5h-1.7zM35.1 65.8h1.7l-0 4.5h-1.7zM35 78.3h1.7l-0 4.5h-1.7zM34.9 86.6h1.7l-0.1 8.6h-1.7zM36.6 49.6h1l0 8.6h-1zM36.6 62h1l0 8.6h-1zM36.6 74.4h1l0.1 54.1h-1zM36.8 132.3h1l0 4.4h-1zM37.5 45.1h0.4l0 87.3h-0.4zM40.3 49.6h1l-0.3 25.1h-1zM39.9 78.5h1l-0.3 25.1h-1zM39.6 107.4h1l-0 4.4h-1zM42 49.2h1.4l0.3 28.9h-1.4zM42.3 82h1.4l0.2 16.7h-1.4zM42.5 102.4h1.4l0.1 8.5h-1.4zM42.7 114.7h1.4l0 4.4h-1.4zM42.8 127h1.4l0.1 8.5h-1.4zM46.1 35.7h2.3l0.1 4.8h-2.3zM47.6 22.2h1.7l0.7 20.2h-1.7zM50.1 22.2h1.9l-0 13.8h-1.9zM50 40.2h1.9l-0 4.8h-1.9zM45.6 45.6h2.4l0 4.5h-2.4zM45.6 58.2h2.4l0 12.9h-2.4zM45.6 79.2h2.4l0 4.5h-2.4zM47.6 45.3h1l0 4.5h-1zM47.6 53.7h1l0 8.8h-1zM47.6 66.4h1l0 46.8h-1zM49.8 49.5h1.4l0 28.8h-1.4zM49.8 94.3h1.4l0 12.5h-1.4zM49.8 110.5h1.4l0 12.5h-1.4zM49.8 126.8h1.4l0 8.4h-1.4zM50.8 45h1.3l-0 8.4h-1.3zM50.7 57.2h1.3l-0.1 16.5h-1.3zM50.7 77.5h1.3l-0.1 24.6h-1.3zM50.5 105.8h1.3l-0.1 28.7h-1.3zM53 105.3h1.3l-0.1 16.3h-1.3zM55.1 27.3h1.4l0 16.9h-1.4zM55.1 68.9h1.4l0 4.5h-1.4zM55.1 81.3h1.4l0 4.5h-1.4zM55.1 106.3h1.4l0 4.5h-1.4zM58.5 21.7h2l0 4.4h-2zM59.9 21.6h1l0 4.4h-1zM60.7 21.9h2l0 4.3h-2zM62.6 21.8h1.4l0 4.4h-1.4zM64.3 21.8h1.8l0.5 14.2h-1.8zM64.9 40.3h1.8l0.2 4.9h-1.8zM68.1 21.8h2l-0.1 9.6h-2zM69.7 25.7h1.6l0.1 16.3h-1.6zM70.9 53.4h1.9l-0.3 25.4h-1.9zM72.2 57.6h2.1l0.1 8.4h-2.1zM72.4 73.9h2.1l0.1 4.4h-2.1zM72.7 94.2h2.1l0.1 4.4h-2.1zM75.4 49.5h1l0 8.5h-1zM75.4 65.9h1l0.1 45.2h-1zM75.6 114.9h1l0.1 20.7h-1zM76.2 49.4h1.1l0 8.5h-1.1zM76.3 131.1h1.1l0 4.4h-1.1zM76.8 49.5h1.9l0 16.8h-1.9zM76.8 70.1h1.9l0.1 53.9h-1.9zM76.8 127.7h1.9l0 8.5h-1.9zM83.3 49.3h1.3l0 24.9h-1.3zM83.3 78.1h1.3l0 12.6h-1.3zM83.4 94.5h1.3l0 29.1h-1.3zM83.4 127.3h1.3l0 8.5h-1.3zM84.5 49.4h1.7l0.1 4.5h-1.7zM84.7 57.8h1.7l0.6 29.7h-1.7zM85.4 91.4h1.7l0.1 4.5h-1.7zM85.6 99.8h1.7l0.2 8.7h-1.7zM85.6 45.4h2l-0.1 12.8h-2zM85.5 62.1h2l-0.1 8.7h-2zM85.4 74.7h2l-0 4.5h-2zM85.4 83h2l-0.1 12.8h-2zM85.2 99.7h2l-0.3 33.7h-2zM86.9 45.1h0.7l0 28.4h-0.7zM86.9 77.3h0.7l0 24.4h-0.7zM86.9 105.4h0.7l0 28.4h-0.7zM76.1 19.1h1.6l-0.1 4.5h-1.6zM75.8 31.8h1.6l-0.3 13h-1.6zM77.2 18.9h2.1l-0.1 4.6h-2.1zM78.5 19.1h0.9l-0 21.4h-0.9zM79 19.1h0.4l0 4.5h-0.4zM86.6 22.2h1.3l0 4.5h-1.3zM87.5 22.5h1.6l-0.2 4.5h-1.6zM88.4 22.3h2.3l0.1 20.1h-2.3zM90 22.5h2.1l0.2 4.5h-2.1zM90.4 30.9h2.1l0.6 12.9h-2.1zM91.2 34.9h1.9l-0.3 8.8h-1.9zM90.6 49.6h1.4l0.1 4.4h-1.4zM90.9 65.9h1.4l0.1 4.4h-1.4zM91 74h1.4l0.1 4.4h-1.4zM91.1 82.2h1.4l0.1 4.4h-1.4zM91.3 94.4h1.4l0.1 4.4h-1.4zM91.6 110.8h1.4l0.1 8.5h-1.4zM91.8 123h1.4l0.1 4.4h-1.4zM91.8 49.4h1.8l0 4.4h-1.8zM91.8 57.5h1.8l0.1 12.5h-1.8zM91.9 73.7h1.8l0.2 20.6h-1.8zM92.1 98h1.8l0 4.4h-1.8zM92.2 106.1h1.8l0 4.4h-1.8zM95.4 49.2h1.3l0.2 28.7h-1.3zM95.6 85.8h1.3l0 4.4h-1.3zM95.7 93.9h1.3l0.1 12.5h-1.3zM95.8 110.1h1.3l0.1 12.5h-1.3zM95.9 126.4h1.3l0.1 8.4h-1.3zM98.3 61.4h2.1l-0.3 24.4h-2.1zM97.9 89.5h2.1l-0.5 32.4h-2.1zM102 45.3h1.5l0.1 8.6h-1.5zM102.2 57.7h1.5l0.2 16.8h-1.5zM102.4 78.3h1.5l0.1 8.6h-1.5zM102.6 90.7h1.5l0.2 16.8h-1.5zM102.8 111.4h1.5l0.2 16.8h-1.5zM103 45.5h2.3l-0.4 32.7h-2.3zM102.5 82h2.3l-0.1 4.4h-2.3zM102.4 90.1h2.3l-0.4 28.7h-2.3zM101.9 122.5h2.3l-0.1 4.4h-2.3zM105 49.6h0.8l-0.1 8.7h-0.8zM104.9 62.1h0.8l-0.6 71.4h-0.8z"/><path fill="#d0d0f8" d="M17.3 110.3h1.5l0 4.4h-1.5zM17.8 53.5h1l-0.1 4.5h-1zM20.2 66.2h1.5l-0 4.5h-1.5zM26.2 49.5h1.3l0 4.4h-1.3zM27.4 62.6h1.5l-0.1 4.6h-1.5zM27.1 75.3h1.5l-0.1 4.6h-1.5zM34.1 45h2.1l-0.1 4.4h-2.1zM34 53.1h2.1l-0.1 8.4h-2.1zM33.3 97.7h2.1l-0.1 4.4h-2.1zM33 113.9h2.1l-0.3 16.5h-2.1zM51.1 22.1h1l-0.4 8.3h-1zM50.6 34.1h1l-0.2 4.3h-1zM45.6 49.8h2.4l0 4.5h-2.4zM45.6 70.8h2.4l0 4.5h-2.4zM50.7 73.4h1.3l-0 4.4h-1.3zM65.5 21.8h2l0.6 8.9h-2zM66.4 34.7h2l0.6 8.9h-2zM75.4 45.4h1l0 4.4h-1zM75.4 57.7h1l0 4.4h-1zM75.6 110.8h1l0 4.4h-1zM76.2 61.6h1.1l0 8.5h-1.1zM76.2 73.9h1.1l0 4.4h-1.1zM78.1 49.3h1.2l-0.1 8.7h-1.2zM77.8 66h1.2l-0.2 12.8h-1.2zM76.9 128.6h1.2l-0.1 4.5h-1.2zM80.2 61.3h2.3l0 4.3h-2.3zM80.3 69.4h2.3l0.1 12.4h-2.3zM80.5 85.5h2.3l0.1 8.4h-2.3zM80.6 97.7h2.3l0 4.3h-2.3zM76 23.3h1.6l-0.2 8.7h-1.6zM80.2 26.6h1.2l-0.6 17.7h-1.2zM97.9 85.5h2.1l-0.1 4.3h-2.1zM102.5 77.9h2.3l-0.1 4.4h-2.3zM101.8 130.6h2.3l-0.1 4.4h-2.3z"/><path fill="#e86530" d="M22.9 27.3h1.3l0.1 5.2h-1.3zM23.6 35.7h1.2l0 4.7h-1.2zM24.5 30.7h1.9l0 4.4h-1.9zM72.9 110.5h2.1l0.1 8.4h-2.1zM81.7 45h1.8l0 4.4h-1.8zM79 23.3h0.4l0 8.7h-0.4zM79 35.9h0.4l0 4.5h-0.4zM86.6 26.4h1.3l0 4.5h-1.3zM93.8 45.4h0.6l0 4.4h-0.6zM13.6 39.2H15.5V44.3H13.6zM13.6 36H15.5V41.1H13.6zM13.6 32.8H19.2V34.7H13.6zM85.7 18.8H91.9V21.6H85.7zM102.6 21.8H105.4V27.7H102.6zM102.6 34H105.4V39.8H102.6zM102.6 40.1H105.4V45.9H102.6zM79.3 37.8H81.2V42.8H79.3zM79.3 31.5H81.2V36.6H79.3zM79.3 25.2H81.2V30.3H79.3zM85.3 31.5H87.1V36.6H85.3z"/><path fill="#f09a30" d="M23 32.1h1.3l0.1 5.2h-1.3zM24.5 34.8h1.9l0 4.4h-1.9zM26 31.1h0.7l-0.2 4.7h-0.7zM42 28.1h1.4l-0.1 4.7h-1.4zM58.5 46.1h2l0 4.4h-2zM58.5 66.5h2l0 4.4h-2zM58.5 74.7h2l0 12.5h-2zM58.5 91h2l0 4.4h-2zM58.5 99.1h2l0 4.4h-2zM58.5 115.4h2l0 8.5h-2zM58.5 127.7h2l0 8.5h-2zM59.9 74.5h1l0 4.4h-1zM59.9 82.6h1l0 4.4h-1zM59.9 102.9h1l0 12.5h-1zM61.1 58.2h2l0 4.3h-2zM61.2 66.3h2l0.1 12.4h-2zM61.6 98.6h2l0 4.3h-2zM61.9 130.8h2l0 4.3h-2zM62.6 55h1.4l0 4.4h-1.4zM62.6 113.1h1.4l0 4.4h-1.4zM74.7 107.1h1.1l0.1 4.4h-1.1zM75.1 77.6h1.1l0.1 4.3h-1.1zM75.3 85.6h1.1l0.1 8.4h-1.1zM76.3 102.5h1.1l0 4.4h-1.1zM76.3 123h1.1l0 4.4h-1.1zM77.6 82.7h1.2l-0.1 4.5h-1.2zM77.2 107.7h1.2l-0.1 8.7h-1.2zM77 120.3h1.2l-0.1 8.7h-1.2zM78.9 77.9h1.4l-0 4.3h-1.4zM78.8 90h1.4l-0.1 12.4h-1.4zM78.5 114.2h1.4l-0.1 8.4h-1.4zM83.3 45.2h1.3l0 4.4h-1.3zM84.4 45.2h1.7l0.1 4.5h-1.7zM91.7 45.3h1.8l0 4.4h-1.8zM98.5 45.3h2.1l-0.1 8.3h-2.1zM98.3 57.4h2.1l-0.1 4.3h-2.1z"/><path fill="#ee8030" d="M23.1 37h1.3l0.1 5.2h-1.3zM23.5 26.8h1.2l0 4.7h-1.2zM23.6 40.1h1.2l0 4.7h-1.2zM24.4 22.4h1.9l0 4.4h-1.9zM24.5 38.9h1.9l0 4.4h-1.9zM58.5 58.4h2l0 4.4h-2zM58.5 95h2l0 4.4h-2zM58.5 111.4h2l0 4.4h-2zM58.5 123.6h2l0 4.4h-2zM59.9 119.2h1l0 4.4h-1zM61.1 54.2h2l0 4.3h-2zM61.2 62.3h2l0 4.3h-2zM61.3 78.4h2l0.1 8.4h-2zM61.7 114.7h2l0 4.3h-2zM73.1 118.7h2.1l0.2 12.5h-2.1zM77.1 116.1h1.2l-0.1 4.5h-1.2zM78.4 122.3h1.4l-0 4.3h-1.4zM100.4 45.1h2.1l0 4.4h-2.1zM105 45.4h0.8l-0 4.5h-0.8z"/><path fill="#c4302a" d="M23.5 31.3h1.2l0 4.7h-1.2z"/><path fill="#f2b030" d="M26.2 26.7h0.7l-0.2 4.7h-0.7zM25.7 39.8h0.7l-0.2 4.7h-0.7zM41.7 23.8h1l0.3 4.9h-1zM42.3 19.3h1.4l-0.1 4.7h-1.4zM41.9 32.5h1.4l-0.2 9.1h-1.4zM43.3 18.8h0.8l-0.2 4.5h-0.8zM58.5 50.2h2l0 8.5h-2zM58.5 107.3h2l0 4.4h-2zM59.9 29.8h1l0 4.4h-1zM59.9 66.3h1l0 4.4h-1zM59.9 78.5h1l0 4.4h-1zM59.9 86.7h1l0 8.4h-1zM59.9 98.8h1l0 4.4h-1zM59.9 115.1h1l0 4.4h-1zM61 46.1h2l0.1 8.4h-2zM61.5 90.5h2l0.1 8.4h-2zM61.9 126.8h2l0 4.3h-2zM62.6 67.5h1.4l0 4.4h-1.4zM62.6 92.4h1.4l0 12.7h-1.4zM62.6 125.5h1.4l0 4.4h-1.4zM75.1 127.6h1.1l0.1 4.4h-1.1zM75.2 81.6h1.1l0.1 4.3h-1.1zM75.4 93.7h1.1l0.4 24.5h-1.1zM75.9 121.9h1.1l0.1 4.3h-1.1zM76.2 78h1.1l0 16.7h-1.1zM76.3 106.6h1.1l0 16.7h-1.1zM76.3 127.1h1.1l0 4.4h-1.1zM78.2 45.1h1.2l-0.1 4.5h-1.2zM77.5 91h1.2l-0.2 12.8h-1.2zM78.8 81.9h1.4l-0.1 8.4h-1.4zM78.6 102.1h1.4l-0.1 12.4h-1.4zM78.4 126.4h1.4l-0 4.3h-1.4zM80.1 45.1h2.3l0 4.3h-2.3zM93 45.1h1.3l-0.1 4.5h-1.3zM97.6 49.5h1.3l0.1 4.4h-1.3z"/><path fill="#8888ee" d="M26.7 96.6h1.5l-0.1 4.6h-1.5zM89.4 115h1.7l0 16.7h-1.7zM27.4 104.1h1.4v1.4h-1.4zM27.4 107.7h1.4v1.4h-1.4zM27.4 111.5h1.4v1.4h-1.4zM27.4 115.3h1.4v1.4h-1.4zM27.4 121.5h1.4v1.4h-1.4zM27.4 124.7h1.4v1.4h-1.4zM46.8 116.5h1.4v1.4h-1.4zM46.8 119h1.4v1.4h-1.4z"/><path fill="#b4b4f4" d="M32.8 77.9h2.2l0.1 4.4h-2.2zM71 49.2h1.9l-0 4.5h-1.9z"/><path fill="#9c9cf0" d="M32.9 82h2.2l0.1 8.4h-2.2zM69.8 49.5h1.8l0 4.5h-1.8zM71 45h1.9l-0 4.5h-1.9zM27.4 101h1.4v1.4h-1.4zM27.4 118.2h1.4v1.4h-1.4zM18.9 21.2H24.1V23.1H18.9zM22.2 21.2H27.4V23.1H22.2z"/><path fill="#f5c030" d="M37.8 57.3h2l0 4.4h-2zM40.6 123.8h1.7l-0 4.4h-1.7zM42.8 66.1h1.1l-0 4.4h-1.1zM42.4 99.2h1.1l-0 4.4h-1.1zM41.4 19.2h1l0.3 4.9h-1zM42.3 33h1l0.6 9.5h-1zM42.1 23.7h1.4l-0.1 4.7h-1.4zM42.7 31.6h0.8l-0.2 4.5h-0.8zM51.8 45.5h2.3l0 8.4h-2.3zM51.9 57.6h2.3l0 4.3h-2.3zM51.9 65.7h2.3l0 8.4h-2.3zM52.1 118.3h2.3l0 8.4h-2.3zM58.5 29.8h2l0 4.4h-2zM58.5 38h2l0 8.5h-2zM58.5 86.9h2l0 4.4h-2zM58.5 103.2h2l0 4.4h-2zM59.9 25.7h1l0 4.4h-1zM59.9 37.9h1l0 8.4h-1zM59.9 50.1h1l0 4.4h-1zM59.9 62.3h1l0 4.4h-1zM59.9 70.4h1l0 4.4h-1zM59.9 94.8h1l0 4.4h-1zM60.9 34h2l0 4.3h-2zM60.9 42.1h2l0 4.3h-2zM61.6 102.6h2l0.1 8.4h-2zM61.8 118.7h2l0.1 8.4h-2zM62.6 46.7h1.4l0 8.6h-1.4zM62.6 63.3h1.4l0 4.4h-1.4zM62.6 71.6h1.4l0 4.4h-1.4zM62.6 79.9h1.4l0 12.7h-1.4zM62.6 117.3h1.4l0 8.6h-1.4zM62.1 26h1.6l-0.1 4.8h-1.6zM63.4 25.9h1.2l0.1 4.7h-1.2zM66.7 74.7h0.8l0 4.5h-0.8zM69.9 66.1h1.8l0 4.5h-1.8zM74 66h1.1l0.1 8.5h-1.1zM74.4 90.7h1.1l0.1 4.4h-1.1zM74.6 103h1.1l0.1 4.4h-1.1zM74.8 111.2h1.1l0.2 12.6h-1.1zM74.6 45.3h1.1l0.1 4.3h-1.1zM75.9 125.9h1.1l0.1 8.4h-1.1zM81.8 61.5h1.8l0 4.4h-1.8zM81.9 78h1.8l0.1 12.7h-1.8zM82 94.4h1.8l0 8.5h-1.8zM82.1 110.9h1.8l0 4.4h-1.8zM82.2 123.3h1.8l0 4.4h-1.8zM82.2 131.5h1.8l0 4.4h-1.8zM89.4 45.4h1.7l0 4.4h-1.7zM89.4 82.2h1.7l0 4.4h-1.7zM97.5 45.4h1.3l0.1 4.4h-1.3zM97.6 53.6h1.3l0.1 8.5h-1.3zM98.4 53.4h2.1l-0.1 4.3h-2.1zM101.1 122.6h2.1l0.1 8.5h-2.1zM46.8 129.7h1.4v1.4h-1.4z"/><path fill="#e44a2e" d="M73.2 130.9h2.1l0.1 4.4h-2.1zM79 31.7h0.4l0 4.5h-0.4zM86.6 30.7h1.3l0 4.5h-1.3zM86.6 39.1h1.3l0 4.5h-1.3zM87.1 30.8h1.6l-0.2 4.5h-1.6zM86.8 39.2h1.6l-0.2 4.5h-1.6zM13.6 32.8H15.5V37.9H13.6zM95.9 18.8H102V21.6H95.9zM99.2 18.8H105.4V21.6H99.2zM102.6 24.9H105.4V30.7H102.6zM102.6 27.9H105.4V33.8H102.6zM102.6 31H105.4V36.8H102.6zM102.6 37H105.4V42.9H102.6zM79.3 34.6H81.2V39.7H79.3zM79.3 25.2H84.2V27.1H79.3zM82.3 25.2H87.1V27.1H82.3zM85.3 25.2H87.1V30.3H85.3zM85.3 28.4H87.1V33.4H85.3zM85.3 34.6H87.1V39.7H85.3zM85.3 37.8H87.1V42.8H85.3zM85.3 40.9H87.1V46H85.3z"/><path fill="#dc3a2a" d="M87.3 26.7h1.6l-0.2 4.5h-1.6zM87 35h1.6l-0.2 4.5h-1.6zM91.5 26.4h1.9l-0.3 8.8h-1.9zM85.7 22.7H88.5V29.4H85.7zM89.1 18.8H95.3V21.6H89.1zM92.5 18.8H98.6V21.6H92.5zM79.3 40.9H81.2V46H79.3z"/><path fill="#fff" d="M94.1 22.6H103V43.5H94.1zM59.7 48H65.7V63H59.7zM15.5 34.9H22.7V44.4H15.5zM31.9 22H41.3V44.3H31.9zM81.6 28H85.6V43.5H81.6zM23.1 52H25.5V73H23.1z"/></g><g transform="translate(60.20,238.00)"><path fill="#7dea1b" d="M18.8 45h1.8l0.1 4.3h-1.8zM19.4 85h1.8l0.1 4.3h-1.8zM20.2 61h2l0.1 4.4h-2zM20.5 77.5h2l0.1 4.4h-2zM21.1 114.7h2l0.1 4.4h-2zM21.2 123h2l0.1 4.4h-2zM24.3 77.8h1.1l0 4.4h-1.1zM27.1 94.4h0.3l-0.1 8.6h-0.3zM29.9 94.2h0.5l-0.1 4.4h-0.5zM29.6 114.8h0.5l-0.1 4.4h-0.5zM34 44.9h2.2l0 8.6h-2.2zM34 73.8h2.2l0 4.4h-2.2zM34.1 102.8h2.2l0 12.7h-2.2zM34.1 119.3h2.2l0 4.4h-2.2zM34.2 131.7h2.2l0 4.4h-2.2zM35.6 114.4h1.3l-0 4.4h-1.3zM35.5 126.7h1.3l-0 4.4h-1.3zM41.2 65.1h0.5l-0.1 8.5h-0.5zM40.9 85.5h0.5l-0.1 4.4h-0.5zM40.6 105.9h0.5l-0.1 4.4h-0.5zM40.4 114.1h0.5l-0.1 8.5h-0.5zM40.3 126.3h0.5l-0.1 8.5h-0.5zM46.7 44.5h0.3l-0 4.4h-0.3zM46.5 77h0.3l-0 4.4h-0.3zM48.9 73h1.3l0.1 4.4h-1.3zM49.1 89.2h1.3l0.1 4.4h-1.3zM49.5 113.5h1.3l0.1 4.4h-1.3zM20.5 30.3h1.1l0.1 4.5h-1.1zM25.7 39.8h1.3l0 5.1h-1.3zM41 23.7h2.3l0 13.9h-2.3zM19.8 21.4H21.3V26.1H19.8zM25.7 21.4H27.2V26.9H25.7z"/><path fill="#7eeb1b" d="M18.8 49h1.8l0.1 4.3h-1.8zM19.2 73h1.8l0.1 4.3h-1.8zM19.4 81h1.8l0.1 4.3h-1.8zM19.9 113.1h1.8l0.1 4.3h-1.8zM20.2 56.8h2l0.1 4.4h-2zM20.3 65.1h2l0.1 4.4h-2zM20.7 89.9h2l0.1 4.4h-2zM21 110.6h2l0.1 4.4h-2zM21.5 61.2h1.5l-0 4.4h-1.5zM21.4 69.4h1.5l-0 4.4h-1.5zM21.1 122.6h1.5l-0 4.4h-1.5zM22.5 49h1l0 4.4h-1zM22.5 57.2h1l0 4.4h-1zM22.5 69.6h1l0 4.4h-1zM22.5 118.8h1l0 4.4h-1zM23.2 44.7h0.3l-0.1 4.5h-0.3zM22.9 61.5h0.3l-0.1 4.5h-0.3zM22.2 95h0.3l-0.1 4.5h-0.3zM24.3 69.6h1.1l0 4.4h-1.1zM26 72.7h2l0 4.3h-2zM26 88.8h2l0 4.3h-2zM26 125.1h2l0 4.3h-2zM27.6 49h0.3l-0.1 12.7h-0.3zM27.4 65.5h0.3l-0.1 8.6h-0.3zM27.3 77.9h0.3l-0 4.4h-0.3zM27.2 90.3h0.3l-0 4.4h-0.3zM26.9 110.9h0.3l-0 4.4h-0.3zM28 44.4h2.3l0 8.6h-2.3zM28 69.4h2.3l0 8.6h-2.3zM28 81.9h2.3l0 4.5h-2.3zM28 106.8h2.3l0 4.5h-2.3zM28 115.2h2.3l0 4.5h-2.3zM28 123.5h2.3l0 4.5h-2.3zM29.8 118.2h1.1l0 4.4h-1.1zM30.5 48.9h0.5l-0.1 4.4h-0.5zM30.3 57.1h0.5l-0.1 4.4h-0.5zM30.2 69.5h0.5l-0.1 8.5h-0.5zM29.9 90.1h0.5l-0.1 4.4h-0.5zM29.6 110.7h0.5l-0.1 4.4h-0.5zM29.5 118.9h0.5l-0.1 4.4h-0.5zM29.4 131.3h0.5l-0.1 4.4h-0.5zM34 61.4h2.2l0 4.4h-2.2zM35.4 69.2h1.5l-0 4.4h-1.5zM35.2 97.8h1.5l-0 4.4h-1.5zM35.1 114h1.5l-0 4.4h-1.5zM37.6 69.2h2l0 4.4h-2zM38.3 84.7h1.9l-0 4.3h-1.9zM40.3 44.8h1.6l-0 4.4h-1.6zM40.3 53.1h1.6l-0 4.4h-1.6zM40.2 61.3h1.6l-0.1 8.5h-1.6zM40.1 73.7h1.6l-0 4.4h-1.6zM39.9 102.5h1.6l-0 4.4h-1.6zM39.8 114.9h1.6l-0 4.4h-1.6zM41.5 44.6h0.5l-0.1 4.4h-0.5zM40.9 81.4h0.5l-0.1 4.4h-0.5zM44.5 85.9h2.2l0 4.4h-2.2zM46.2 69.3h0.8l0 4.4h-0.8zM46.2 90h0.8l0 4.4h-0.8zM47.1 44.4h1.9l0 8.5h-1.9zM47.1 56.8h1.9l0 4.4h-1.9zM47.1 69.2h1.9l0 4.4h-1.9zM47.1 77.4h1.9l0 4.4h-1.9zM47.1 85.6h1.9l0 4.4h-1.9zM47.1 93.9h1.9l0 4.4h-1.9zM50.6 69h1.6l-0.1 4.4h-1.6zM51.9 69h1.3l-0 4.3h-1.3zM51.8 93.3h1.3l-0 4.3h-1.3zM51.7 129.7h1.3l-0 4.3h-1.3zM60.6 56.4h2.3l0 4.5h-2.3zM60.6 64.8h2.3l0 4.5h-2.3zM64.5 103.7h1.2l-0 4.3h-1.2zM20.6 34.5h1.1l0.1 4.5h-1.1zM19.8 33.9H21.3V38.5H19.8zM19.8 27.7H21.3V32.3H19.8zM19.8 24.6H21.3V29.2H19.8zM25.7 25.4H27.2V30.8H25.7zM25.9 29.5L22.9 32.5L24 33.5L27 30.5zM22.9 33.5L25.9 36.5L27 35.5L24 32.5zM29 40H30.5V44.8H29zM29 36.9H30.5V41.5H29zM29 24.1H36.2V25.6H29zM34.7 24.1H36.2V28.8H34.7zM34.7 30.4H36.2V35.1H34.7zM41.3 34.7L41.5 31.5L40 31.5L39.8 34.6zM41.5 31.5L41.6 28.4L40.2 28.3L40 31.5zM42 22.2L42.2 19L40.7 19L40.5 22.1zM41.3 19.7L44.8 20.7L45.2 19.3L41.7 18.3zM44.2 19.2H45.7V23.8H44.2zM44.5 25.4L41.5 27.4L42.4 28.6L45.4 26.6zM47 33.8H48.5V38.4H47zM47 30.6H48.5V35.2H47z"/><path fill="#7eed1b" d="M18.9 53h1.8l0.1 4.3h-1.8zM19.6 97h1.8l0.1 4.3h-1.8zM20.1 125.1h1.8l0.1 8.3h-1.8zM21.5 53h1.5l-0 4.4h-1.5zM21.4 73.4h1.5l-0 4.4h-1.5zM21.4 81.6h1.5l-0 4.4h-1.5zM21.3 93.9h1.5l-0 4.4h-1.5zM21.2 102.1h1.5l-0 4.4h-1.5zM21.1 118.5h1.5l-0 4.4h-1.5zM22.5 90.1h1l0 4.4h-1zM22.5 110.6h1l0 4.4h-1zM22.5 127h1l0 8.5h-1zM22.7 69.8h0.3l-0.2 12.9h-0.3zM22.4 86.6h0.3l-0.1 4.5h-0.3zM21.9 111.8h0.3l-0.1 4.5h-0.3zM24.1 44.8h1.1l0 4.4h-1.1zM24.2 57.2h1.1l0 4.4h-1.1zM24.2 65.5h1.1l0 4.4h-1.1zM24.3 82h1.1l0 4.4h-1.1zM24.4 94.3h1.1l0 4.4h-1.1zM24.5 102.6h1.1l0 4.4h-1.1zM24.5 115h1.1l0 4.4h-1.1zM26 48.5h2l0 12.4h-2zM26 76.7h2l0 4.3h-2zM26 96.9h2l0 4.3h-2zM26 121.1h2l0 4.3h-2zM26.8 127.4h0.3l-0 4.4h-0.3zM28 98.5h2.3l0 4.5h-2.3zM28 111h2.3l0 4.5h-2.3zM28 127.6h2.3l0 4.5h-2.3zM29.5 44.5h1.1l0 4.4h-1.1zM29.6 56.7h1.1l0 4.4h-1.1zM29.6 69h1.1l0 4.4h-1.1zM29.7 89.5h1.1l0 4.4h-1.1zM29.8 97.7h1.1l0 12.6h-1.1zM29.9 130.5h1.1l0 4.4h-1.1zM30 86h0.5l-0.1 4.4h-0.5zM35.6 44.8h1.5l-0.1 8.4h-1.5zM35.5 57h1.5l-0 4.4h-1.5zM35.4 65.2h1.5l-0 4.4h-1.5zM35.4 77.4h1.5l-0 4.4h-1.5zM35.1 110h1.5l-0 4.4h-1.5zM35 126.3h1.5l-0 4.4h-1.5zM37.5 48.8h2l0 4.4h-2zM37.5 57h2l0 4.4h-2zM37.7 85.5h2l0 4.4h-2zM37.8 105.9h2l0 4.4h-2zM37.9 126.2h2l0 4.4h-2zM38.6 60.7h1.9l-0 4.3h-1.9zM38.4 76.7h1.9l-0 4.3h-1.9zM38.1 96.7h1.9l-0 4.3h-1.9zM40 90.2h1.6l-0 4.4h-1.6zM39.9 106.7h1.6l-0 4.4h-1.6zM44.4 61.1h2.2l0.1 8.6h-2.2zM44.5 81.8h2.2l0 4.4h-2.2zM44.6 94.2h2.2l0 4.4h-2.2zM44.7 110.7h2.2l0.1 12.7h-2.2zM46.2 52.8h0.8l0 4.4h-0.8zM46.2 77.6h0.8l0 4.4h-0.8zM46.2 98.3h0.8l0 4.4h-0.8zM46.2 106.6h0.8l0 8.6h-0.8zM47.1 52.7h1.9l0 4.4h-1.9zM47.1 60.9h1.9l0 8.5h-1.9zM47.1 98h1.9l0 8.5h-1.9zM47.1 126.9h1.9l0 8.5h-1.9zM49.5 44.4h1.7l-0.1 4.4h-1.7zM49.3 56.6h1.7l-0.2 12.5h-1.7zM48.9 85h1.7l-0.1 4.4h-1.7zM48.8 97.1h1.7l-0.2 12.5h-1.7zM48.6 113.3h1.7l-0.1 8.4h-1.7zM50.9 48.6h1.6l-0.1 4.4h-1.6zM50.5 73h1.6l-0.1 4.4h-1.6zM50.4 81.1h1.6l-0.1 4.4h-1.6zM50.3 89.3h1.6l-0.1 4.4h-1.6zM50.2 97.4h1.6l-0.1 4.4h-1.6zM49.9 113.6h1.6l-0.1 4.4h-1.6zM49.8 125.8h1.6l-0.1 8.4h-1.6zM52 48.8h1.3l-0 8.4h-1.3zM51.9 60.9h1.3l-0 8.4h-1.3zM51.9 73.1h1.3l-0 4.3h-1.3zM51.8 81.1h1.3l-0 4.3h-1.3zM53.5 80.6h1.1l-0.1 8.3h-1.1zM53.4 92.7h1.1l-0.1 12.3h-1.1zM53 128.8h1.1l-0 4.3h-1.1zM55 75.6h2.2l0 4.3h-2.2zM55.1 83.6h2.2l0 4.3h-2.2zM55.2 95.7h2.2l0 4.3h-2.2zM56.7 56.2h1.2l0 4.4h-1.2zM57.1 122.2h1.2l0.1 12.7h-1.2zM57.9 56.3h2.3l0.2 8.6h-2.3zM58.1 68.7h2.3l0.1 4.4h-2.3zM58.6 97.6h2.3l0.1 4.4h-2.3zM60.8 89.8h2.3l0 4.5h-2.3zM60.9 106.5h2.3l0.1 12.8h-2.3zM61 123.2h2.3l0 4.5h-2.3zM64.9 47.5h1.2l-0 4.3h-1.2zM64.9 55.5h1.2l-0 4.3h-1.2zM64.3 123.8h1.2l-0 4.3h-1.2zM40 30.1h0.7l-0.2 4.3h-0.7zM42.7 28.4h2l0.1 5.1h-2zM53.1 24.2H57.7V25.8H53.1zM62.4 30.7L62.5 27.4L61 27.3L60.9 30.6z"/><path fill="#7eec1b" d="M19 57h1.8l0.1 4.3h-1.8zM19.1 65h1.8l0.1 8.3h-1.8zM19.5 93h1.8l0.1 4.3h-1.8zM19.7 101.1h1.8l0.1 4.3h-1.8zM19.8 109.1h1.8l0.1 4.3h-1.8zM19.9 117.1h1.8l0.1 8.3h-1.8zM21.6 44.8h1.5l-0 8.5h-1.5zM21.5 65.3h1.5l-0 4.4h-1.5zM21.4 77.5h1.5l-0 4.4h-1.5zM21.3 85.7h1.5l-0 4.4h-1.5zM21.2 110.3h1.5l-0 4.4h-1.5zM21.1 126.7h1.5l-0 8.5h-1.5zM22.5 44.9h1l0 4.4h-1zM22.5 53.1h1l0 4.4h-1zM22.5 61.3h1l0 4.4h-1zM22.5 73.7h1l0 16.7h-1zM22.5 94.2h1l0 16.7h-1zM22.5 122.9h1l0 4.4h-1zM23.1 48.9h0.3l-0.2 12.9h-0.3zM22.5 82.4h0.3l-0.1 4.5h-0.3zM22.2 99.2h0.3l-0.2 12.9h-0.3zM21.8 116h0.3l-0.1 4.5h-0.3zM24.1 49h1.1l0.1 8.6h-1.1zM24.2 61.3h1.1l0 4.4h-1.1zM24.4 86.1h1.1l0 4.4h-1.1zM24.4 98.5h1.1l0 4.4h-1.1zM24.5 110.8h1.1l0 4.4h-1.1zM24.6 131.5h1.1l0 4.4h-1.1zM26 44.5h2l0 4.3h-2zM26 60.6h2l0 8.4h-2zM26 100.9h2l0 8.4h-2zM26 113h2l0 4.3h-2zM27.6 44.9h0.3l-0 4.4h-0.3zM27.3 82h0.3l-0 4.4h-0.3zM27 102.7h0.3l-0.1 8.6h-0.3zM26.9 115h0.3l-0 4.4h-0.3zM26.8 123.3h0.3l-0 4.4h-0.3zM26.7 131.6h0.3l-0 4.4h-0.3zM28 52.8h2.3l0 16.9h-2.3zM28 77.7h2.3l0 4.5h-2.3zM28 90.2h2.3l0 8.6h-2.3zM28 102.7h2.3l0 4.5h-2.3zM28 119.3h2.3l0 4.5h-2.3zM29.6 48.6h1.1l0 4.4h-1.1zM29.6 60.8h1.1l0 4.4h-1.1zM29.7 73.1h1.1l0 12.6h-1.1zM29.9 126.4h1.1l0 4.4h-1.1zM30.2 65.4h0.5l-0.1 4.4h-0.5zM30 81.9h0.5l-0.1 4.4h-0.5zM29.5 123.1h0.5l-0.1 4.4h-0.5zM35.5 53h1.5l-0 4.4h-1.5zM35.3 85.5h1.5l-0 4.4h-1.5zM35.2 101.8h1.5l-0 4.4h-1.5zM35 130.3h1.5l-0 4.4h-1.5zM37.5 44.7h2l0 4.4h-2zM37.5 61h2l0 4.4h-2zM37.6 77.3h2l0 4.4h-2zM37.7 89.6h2l0 4.4h-2zM37.8 101.8h2l0 4.4h-2zM37.9 130.3h2l0 4.4h-2zM38.7 52.7h1.9l-0 4.3h-1.9zM38.2 88.7h1.9l-0.1 8.3h-1.9zM40.3 48.9h1.6l-0 4.4h-1.6zM40.2 57.2h1.6l-0 4.4h-1.6zM40.1 77.8h1.6l-0.1 8.5h-1.6zM39.9 94.3h1.6l-0 4.4h-1.6zM39.8 110.8h1.6l-0 4.4h-1.6zM39.8 119h1.6l-0.1 16.8h-1.6zM41.4 48.7h0.5l-0.1 4.4h-0.5zM44.8 123.1h2.2l0 4.4h-2.2zM46.2 44.5h0.8l0 4.4h-0.8zM46.2 65.2h0.8l0 4.4h-0.8zM46.2 73.5h0.8l0 4.4h-0.8zM46.2 81.7h0.8l0 4.4h-0.8zM46.2 94.1h0.8l0 4.4h-0.8zM46.2 127.3h0.8l0 4.4h-0.8zM47.1 81.5h1.9l0 4.4h-1.9zM47.1 106.2h1.9l0 8.5h-1.9zM47.1 118.6h1.9l0 8.5h-1.9zM49.3 52.5h1.7l-0.1 4.4h-1.7zM49.1 68.7h1.7l-0.1 4.4h-1.7zM48.6 109.3h1.7l-0.1 4.4h-1.7zM48.4 125.5h1.7l-0.1 4.4h-1.7zM50 109.6h1.6l-0.1 4.4h-1.6zM51.9 56.9h1.3l-0 4.3h-1.3zM51.8 85.2h1.3l-0 4.3h-1.3zM51.8 97.3h1.3l-0.1 16.5h-1.3zM51.7 117.5h1.3l-0 4.3h-1.3zM51.7 125.6h1.3l-0 4.3h-1.3zM53.9 44.5h1.1l-0 4.3h-1.1zM53.8 52.5h1.1l-0.1 8.3h-1.1zM53.6 72.6h1.1l-0 4.3h-1.1zM54.7 43.5h2.2l0 4.3h-2.2zM54.9 59.6h2.2l0 4.3h-2.2zM55 67.6h2.2l0 4.3h-2.2zM55.1 79.6h2.2l0 4.3h-2.2zM55.5 127.7h2.2l0 4.3h-2.2zM58.6 93.5h2.3l0.1 4.4h-2.3zM58.4 102.2h1.1l-0.1 4.5h-1.1zM60.5 43.9h2.3l0 4.5h-2.3zM60.6 52.2h2.3l0 4.5h-2.3zM60.7 68.9h2.3l0.1 12.8h-2.3zM60.8 94h2.3l0.1 8.7h-2.3zM63.3 43.8h2.2l0 4.3h-2.2zM64.8 63.5h1.2l-0 4.3h-1.2zM25.7 35h1.3l0 5.1h-1.3zM25.7 44.5h1.3l0 5.1h-1.3zM39.5 38.2h0.7l-0.2 4.3h-0.7zM41 37.3h2.3l0 4.8h-2.3zM42.8 33.2h2l0.1 5.1h-2zM19.8 40.1H21.3V44.8H19.8zM19.8 37H21.3V41.6H19.8zM19.8 30.8H21.3V35.4H19.8zM29 30.5H30.5V35.1H29zM34.7 33.6H36.2V38.4H34.7zM34.7 36.9H36.2V41.5H34.7zM34.7 40H36.2V44.8H34.7zM40.7 44L40.9 40.9L39.4 40.8L39.2 44zM40.9 40.9L41.1 37.8L39.6 37.7L39.4 40.8zM41.1 37.8L41.3 34.7L39.8 34.6L39.6 37.7zM41.6 28.4L41.8 25.3L40.3 25.2L40.2 28.3zM44.2 22.2H45.7V26.8H44.2zM47 40.1H48.5V44.8H47zM47 27.4H48.5V32.1H47zM47 24.2H48.5V28.9H47zM47 24.2H51.6V25.8H47zM50.1 24.2H54.6V25.8H50.1zM56.2 24.2H57.7V28.9H56.2zM56.2 30.6H57.7V35.2H56.2zM56.2 40.1H57.7V44.8H56.2z"/><path fill="#7deb1b" d="M19 61h1.8l0.1 4.3h-1.8zM19.3 77h1.8l0.1 4.3h-1.8zM19.5 89h1.8l0.1 4.3h-1.8zM19.7 105.1h1.8l0.1 4.3h-1.8zM20 44.4h2l0.1 4.4h-2zM20.4 73.4h2l0.1 4.4h-2zM20.5 81.7h2l0.1 4.4h-2zM20.9 102.3h2l0.1 4.4h-2zM21.1 118.9h2l0.1 4.4h-2zM21.3 131.3h2l0.1 4.4h-2zM21.5 57.1h1.5l-0 4.4h-1.5zM21.8 120.2h0.3l-0.1 4.5h-0.3zM24.3 73.7h1.1l0 4.4h-1.1zM26 109h2l0 4.3h-2zM27.5 61.4h0.3l-0 4.4h-0.3zM27.3 73.8h0.3l-0 4.4h-0.3zM27.2 86.2h0.3l-0 4.4h-0.3zM26.9 119.2h0.3l-0 4.4h-0.3zM28 86h2.3l0 4.5h-2.3zM30.4 53h0.5l-0.1 4.4h-0.5zM30.1 77.7h0.5l-0.1 4.4h-0.5zM29.8 98.3h0.5l-0.2 12.7h-0.5zM34 53.2h2.2l0 4.4h-2.2zM34 65.6h2.2l0 4.4h-2.2zM34.1 123.5h2.2l0 4.4h-2.2zM36.4 48.6h1.3l-0 4.4h-1.3zM36 77.4h1.3l-0 4.4h-1.3zM35.7 110.3h1.3l-0 4.4h-1.3zM38.5 64.7h1.9l-0 4.3h-1.9zM41.4 52.8h0.5l-0.1 4.4h-0.5zM41.2 61h0.5l-0.1 4.4h-0.5zM41.1 73.2h0.5l-0.1 8.5h-0.5zM40.8 89.6h0.5l-0.1 4.4h-0.5zM40.5 110h0.5l-0.1 4.4h-0.5zM40.3 122.2h0.5l-0.1 4.4h-0.5zM44.8 131.4h2.2l0 4.4h-2.2zM47.1 89.8h1.9l0 4.4h-1.9zM48.9 77h1.3l0.1 4.4h-1.3zM49.1 85.1h1.3l0.1 4.4h-1.3zM52 44.7h1.3l-0 4.3h-1.3zM51.9 77.1h1.3l-0 4.3h-1.3zM60.6 60.6h2.3l0 4.5h-2.3zM60.7 81.5h2.3l0 4.5h-2.3zM61 119.1h2.3l0 4.5h-2.3zM20.3 26.1h1.1l0.1 4.5h-1.1zM20.7 38.7h1.1l0.1 4.5h-1.1zM25.7 30.2h1.3l0 5.1h-1.3zM29 27.2H30.5V32H29zM29 24.1H30.5V28.8H29zM34.7 27.2H36.2V31.9H34.7zM41.8 25.3L42 22.2L40.5 22.1L40.3 25.2z"/><path fill="#7de91c" d="M20 48.6h2l0.1 8.6h-2zM20.3 69.2h2l0.1 4.4h-2zM20.6 85.8h2l0.1 4.4h-2zM20.8 98.2h2l0.1 4.4h-2zM20.9 106.5h2l0.1 4.4h-2zM21.2 127.1h2l0.1 4.4h-2zM30.5 44.8h0.5l-0.1 4.4h-0.5zM30.3 61.3h0.5l-0.1 4.4h-0.5zM29.4 127.2h0.5l-0.1 4.4h-0.5zM34 57.3h2.2l0 4.4h-2.2zM34 69.7h2.2l0 4.4h-2.2zM34 78h2.2l0 4.4h-2.2zM34.1 90.4h2.2l0 4.4h-2.2zM34.1 98.7h2.2l0 4.4h-2.2zM34.1 115.2h2.2l0 4.4h-2.2zM34.2 127.6h2.2l0 4.4h-2.2zM36.2 60.9h1.3l-0 4.4h-1.3zM36.1 69.1h1.3l-0.1 8.5h-1.3zM36 81.5h1.3l-0.1 8.5h-1.3zM35.8 97.9h1.3l-0.1 12.6h-1.3zM40.7 93.6h0.5l-0.1 4.4h-0.5zM40.6 101.8h0.5l-0.1 4.4h-0.5zM46.4 85.2h0.3l-0 4.4h-0.3zM46.2 109.6h0.3l-0 4.4h-0.3zM46.1 121.8h0.3l-0 4.4h-0.3zM48.7 60.8h1.3l0.2 12.5h-1.3zM49 81.1h1.3l0.1 4.4h-1.3zM49.2 97.3h1.3l0.2 16.5h-1.3zM49.5 117.6h1.3l0.1 4.4h-1.3zM49.7 129.7h1.3l0.1 4.4h-1.3zM19.8 21.4H27.2V22.9H19.8z"/><path fill="#7ce91c" d="M20.7 94.1h2l0.1 4.4h-2zM24.7 61.2h1.7l-0 4.4h-1.7zM24.6 81.5h1.7l-0 4.4h-1.7zM34.1 82.1h2.2l0 8.6h-2.2zM34.1 94.5h2.2l0 4.4h-2.2zM36.4 44.5h1.3l-0 4.4h-1.3zM36.3 52.7h1.3l-0.1 8.5h-1.3zM35.9 89.7h1.3l-0.1 8.5h-1.3zM35.5 122.6h1.3l-0 4.4h-1.3zM35.4 130.8h1.3l-0 4.4h-1.3zM41.3 56.9h0.5l-0.1 4.4h-0.5zM46.6 56.7h0.3l-0 4.4h-0.3zM46.6 64.8h0.3l-0 4.4h-0.3zM46.3 89.2h0.3l-0.1 8.4h-0.3zM46 125.8h0.3l-0.1 8.4h-0.3zM48.5 44.6h1.3l0.2 16.5h-1.3zM49.2 93.2h1.3l0.1 4.4h-1.3zM49.6 121.6h1.3l0.1 8.4h-1.3zM41 19.2h2.3l0 4.8h-2.3z"/><path fill="#7fed1b" d="M21.3 89.8h1.5l-0 4.4h-1.5zM21.2 114.4h1.5l-0 4.4h-1.5zM22.5 114.7h1l0 4.4h-1zM22.8 65.7h0.3l-0.1 4.5h-0.3zM24.4 90.2h1.1l0 4.4h-1.1zM24.5 106.7h1.1l0 4.4h-1.1zM24.6 123.2h1.1l0.1 8.6h-1.1zM26 68.7h2l0 4.3h-2zM26 80.8h2l0 8.4h-2zM26 92.9h2l0 4.3h-2zM26 117h2l0 4.3h-2zM26 129.1h2l0 4.3h-2zM29.6 52.6h1.1l0 4.4h-1.1zM29.6 64.9h1.1l0 4.4h-1.1zM29.7 85.4h1.1l0 4.4h-1.1zM29.7 93.6h1.1l0 4.4h-1.1zM29.8 110h1.1l0 8.5h-1.1zM29.8 122.3h1.1l0 4.4h-1.1zM35.4 73.3h1.5l-0 4.4h-1.5zM35.2 93.7h1.5l-0 4.4h-1.5zM35 122.2h1.5l-0 4.4h-1.5zM37.5 52.9h2l0 4.4h-2zM37.6 65.1h2l0 4.4h-2zM37.7 81.4h2l0 4.4h-2zM37.7 93.6h2l0 8.5h-2zM37.8 109.9h2l0 8.5h-2zM37.9 122.2h2l0 4.4h-2zM38.7 48.7h1.9l-0 4.3h-1.9zM38.6 56.7h1.9l-0 4.3h-1.9zM38.5 68.7h1.9l-0.1 8.3h-1.9zM38.1 100.7h1.9l-0.1 8.3h-1.9zM40.1 69.6h1.6l-0 4.4h-1.6zM40 86.1h1.6l-0 4.4h-1.6zM39.9 98.4h1.6l-0 4.4h-1.6zM44.3 44.6h2.2l0.1 16.8h-2.2zM44.4 69.4h2.2l0.1 8.6h-2.2zM44.5 90h2.2l0 4.4h-2.2zM44.6 98.3h2.2l0.1 8.6h-2.2zM44.8 127.3h2.2l0 4.4h-2.2zM46.2 48.6h0.8l0 4.4h-0.8zM46.2 56.9h0.8l0 4.4h-0.8zM46.2 119h0.8l0 8.6h-0.8zM46.2 131.4h0.8l0 4.4h-0.8zM47.1 73.3h1.9l0 4.4h-1.9zM47.1 114.5h1.9l0 4.4h-1.9zM49 76.8h1.7l-0.1 4.4h-1.7zM48.9 89h1.7l-0.1 8.4h-1.7zM48.3 129.5h1.7l-0.1 4.4h-1.7zM51 44.6h1.6l-0.1 4.4h-1.6zM50.5 77.1h1.6l-0.1 4.4h-1.6zM50.4 85.2h1.6l-0.1 4.4h-1.6zM50.1 101.5h1.6l-0.1 8.4h-1.6zM51.8 89.2h1.3l-0 4.3h-1.3zM51.7 113.5h1.3l-0 4.3h-1.3zM51.7 121.6h1.3l-0 4.3h-1.3zM53.8 48.5h1.1l-0 4.3h-1.1zM53.6 64.6h1.1l-0 4.3h-1.1zM53.5 76.6h1.1l-0 4.3h-1.1zM53.4 88.7h1.1l-0 4.3h-1.1zM53.2 108.7h1.1l-0.1 12.3h-1.1zM53 124.8h1.1l-0 4.3h-1.1zM54.8 51.5h2.2l0.1 8.3h-2.2zM55 71.6h2.2l0 4.3h-2.2zM55.2 99.7h2.2l0 4.3h-2.2zM55.5 131.7h2.2l0 4.3h-2.2zM56.7 52h1.2l0 4.4h-1.2zM56.8 64.4h1.2l0 4.4h-1.2zM56.8 72.7h1.2l0 4.4h-1.2zM56.9 80.9h1.2l0 4.4h-1.2zM56.9 89.2h1.2l0 4.4h-1.2zM57.1 114h1.2l0 4.4h-1.2zM58.2 72.8h2.3l0.2 8.6h-2.3zM58.8 105.8h2.3l0.1 4.4h-2.3zM59 118.2h2.3l0.1 4.4h-2.3zM59.6 43.4h1.1l-0.2 8.7h-1.1zM58.8 81.2h1.1l-0.2 8.7h-1.1zM60.5 48.1h2.3l0 4.5h-2.3zM60.8 85.6h2.3l0 4.5h-2.3zM60.9 102.4h2.3l0 4.5h-2.3zM61 127.4h2.3l0.1 8.7h-2.3zM63.3 47.9h2.2l0 4.3h-2.2zM63.3 56h2.2l0 4.3h-2.2zM63.3 64.1h2.2l0 4.3h-2.2zM64.9 51.5h1.2l-0 4.3h-1.2zM64.8 67.6h1.2l-0.1 12.3h-1.2zM64.6 91.6h1.2l-0 4.3h-1.2zM64.4 111.7h1.2l-0 4.3h-1.2zM39.7 34.1h0.7l-0.2 4.3h-0.7zM42.7 23.6h2l0.1 5.1h-2zM42.9 38h2l0.1 5.1h-2zM52 39.4h1.3l0 5.1h-1.3zM29 33.6H30.5V38.4H29zM47 36.9H48.5V41.6H47zM56.2 33.8H57.7V38.4H56.2zM56.2 36.9H57.7V41.6H56.2z"/><path fill="#7fef1a" d="M21.3 98h1.5l-0 4.4h-1.5zM22.3 90.8h0.3l-0.1 4.5h-0.3zM35.3 81.5h1.5l-0 4.4h-1.5zM35.3 89.6h1.5l-0 4.4h-1.5zM46.2 85.9h0.8l0 4.4h-0.8zM46.2 102.4h0.8l0 4.4h-0.8zM49.4 48.5h1.7l-0.1 4.4h-1.7zM48.4 121.4h1.7l-0.1 4.4h-1.7zM50.8 52.7h1.6l-0.1 4.4h-1.6zM53.6 68.6h1.1l-0 4.3h-1.1zM54.9 63.6h2.2l0 4.3h-2.2zM55.1 87.6h2.2l0 4.3h-2.2zM55.4 119.7h2.2l0 4.3h-2.2zM56.7 43.8h1.2l0 8.6h-1.2zM56.8 60.3h1.2l0 4.4h-1.2zM57 97.4h1.2l0 8.6h-1.2zM57.1 118.1h1.2l0 4.4h-1.2zM58.3 81.1h2.3l0.1 4.4h-2.3zM58.5 89.3h2.3l0.1 4.4h-2.3zM58.7 101.7h2.3l0.1 4.4h-2.3zM58.9 114.1h2.3l0.1 4.4h-2.3zM59.2 64.4h1.1l-0.1 4.5h-1.1zM58.5 98h1.1l-0.1 4.5h-1.1zM62.3 47.8h1.4l0 4.4h-1.4zM62.5 68.5h1.4l0 4.4h-1.4zM62.7 84.9h1.4l0 4.4h-1.4zM63.3 80.3h2.2l0 4.3h-2.2zM63.3 88.4h2.2l0 4.3h-2.2zM63.3 96.5h2.2l0 4.3h-2.2zM63.3 104.6h2.2l0 4.3h-2.2zM63.4 116.7h2.2l0 4.3h-2.2zM63.4 124.8h2.2l0 4.3h-2.2zM64.8 59.5h1.2l-0 4.3h-1.2zM64.5 95.7h1.2l-0 4.3h-1.2zM65.7 43.9h2.1l0 4.3h-2.1zM65.7 56h2.1l0 8.4h-2.1zM65.8 120.4h2.1l0 4.3h-2.1zM67 52.1h2.1l0 4.4h-2.1zM67.4 97.7h2.1l0 4.4h-2.1zM69.6 43.9h0.4l0 4.5h-0.4zM69.6 69h0.4l0 4.5h-0.4zM69.6 85.7h0.4l0 8.7h-0.4zM38.4 26.3h1.3l0.1 4.6h-1.3zM40.2 26.1h0.7l-0.2 4.3h-0.7zM43.7 27.3h0.8l-0.4 8.8h-0.8zM62.2 34L62.4 30.7L60.9 30.6L60.7 34zM62.5 27.4L62.7 24L61.2 24L61 27.3z"/><path fill="#7fee1b" d="M21.2 106.2h1.5l-0 4.4h-1.5zM22.5 65.5h1l0 4.4h-1zM24.6 119.1h1.1l0 4.4h-1.1zM35.5 61.1h1.5l-0 4.4h-1.5zM35.2 105.9h1.5l-0 4.4h-1.5zM35.1 118.1h1.5l-0 4.4h-1.5zM37.6 73.3h2l0 4.4h-2zM38.7 44.7h1.9l-0 4.3h-1.9zM38.3 80.7h1.9l-0 4.3h-1.9zM44.5 77.6h2.2l0 4.4h-2.2zM44.7 106.6h2.2l0 4.4h-2.2zM46.2 61h0.8l0 4.4h-0.8zM46.2 114.8h0.8l0 4.4h-0.8zM49.1 72.8h1.7l-0.1 4.4h-1.7zM49 80.9h1.7l-0.1 4.4h-1.7zM50.8 56.8h1.6l-0.2 12.5h-1.6zM50.2 93.3h1.6l-0.1 4.4h-1.6zM49.9 117.7h1.6l-0.1 8.4h-1.6zM53.7 60.5h1.1l-0 4.3h-1.1zM53.2 104.7h1.1l-0 4.3h-1.1zM54.8 47.5h2.2l0 4.3h-2.2zM55.2 91.6h2.2l0 4.3h-2.2zM55.3 103.7h2.2l0.1 16.3h-2.2zM55.4 123.7h2.2l0 4.3h-2.2zM56.8 68.6h1.2l0 4.4h-1.2zM56.9 76.8h1.2l0 4.4h-1.2zM56.9 85.1h1.2l0 4.4h-1.2zM56.9 93.3h1.2l0 4.4h-1.2zM57 109.8h1.2l0 4.4h-1.2zM57.7 48h2.3l0.2 8.6h-2.3zM58 64.6h2.3l0.1 4.4h-2.3zM58.4 85.2h2.3l0.1 4.4h-2.3zM58.9 110h2.3l0.1 4.4h-2.3zM59.4 51.8h1.1l-0.1 4.5h-1.1zM59.1 68.6h1.1l-0.2 8.7h-1.1zM58.7 89.6h1.1l-0.2 8.7h-1.1zM58.3 106.4h1.1l-0.1 4.5h-1.1zM62.4 56.1h1.4l0 4.4h-1.4zM62.6 72.6h1.4l0 4.4h-1.4zM63.3 51.9h2.2l0 4.3h-2.2zM63.3 68.1h2.2l0 8.4h-2.2zM63.3 92.4h2.2l0 4.3h-2.2zM63.3 100.5h2.2l0 4.3h-2.2zM65 43.5h1.2l-0 4.3h-1.2zM64.7 79.6h1.2l-0.1 12.3h-1.2zM64.5 99.7h1.2l-0 4.3h-1.2zM64.4 107.7h1.2l-0 4.3h-1.2zM64.4 115.7h1.2l-0.1 8.3h-1.2zM64.3 127.8h1.2l-0 4.3h-1.2zM69.6 56.5h0.4l0 4.5h-0.4zM38.5 35h1.3l0.1 4.6h-1.3zM42.6 18.8h2l0.1 5.1h-2zM52 25h1.3l0 5.1h-1.3zM52 34.6h1.3l0 5.1h-1.3zM56.2 27.4H57.7V32.1H56.2zM61.7 44L61.9 40.7L60.4 40.6L60.2 44z"/><path fill="#6fc633" d="M24.9 44.9h1.7l-0 4.4h-1.7zM24.8 53.1h1.7l-0 4.4h-1.7zM24.7 65.2h1.7l-0 4.4h-1.7zM24.6 77.4h1.7l-0 4.4h-1.7zM24.4 101.8h1.7l-0 4.4h-1.7zM21.1 25.8h0.9l0 4.6h-0.9z"/><path fill="#76d727" d="M24.9 49h1.7l-0 4.4h-1.7zM24.6 73.4h1.7l-0 4.4h-1.7zM24.5 93.7h1.7l-0.1 8.4h-1.7zM46.5 68.9h0.3l-0 4.4h-0.3zM46.4 81.1h0.3l-0 4.4h-0.3zM46.1 113.6h0.3l-0 4.4h-0.3zM20.2 21.8h1.1l0.1 4.5h-1.1zM21.1 21.5h0.9l0 4.6h-0.9z"/><path fill="#7ce81c" d="M24.8 57.1h1.7l-0 4.4h-1.7zM24.7 69.3h1.7l-0 4.4h-1.7zM24.5 85.6h1.7l-0.1 8.4h-1.7zM24.4 105.9h1.7l-0 4.4h-1.7zM36.2 65h1.3l-0 4.4h-1.3zM35.6 118.5h1.3l-0 4.4h-1.3zM40.7 97.7h0.5l-0.1 4.4h-0.5zM46.7 48.6h0.3l-0.1 8.4h-0.3zM46.6 60.8h0.3l-0 4.4h-0.3zM46.5 73h0.3l-0 4.4h-0.3zM46.3 97.4h0.3l-0.1 12.5h-0.3zM46.1 117.7h0.3l-0 4.4h-0.3zM21.1 30.1h0.9l0 8.9h-0.9z"/><path fill="#80ef1a" d="M37.9 118.1h2l0 4.4h-2zM53.1 120.8h1.1l-0 4.3h-1.1zM57 105.7h1.2l0 4.4h-1.2zM57.7 43.9h2.3l0.1 4.4h-2.3zM59.4 56h1.1l-0.2 8.7h-1.1zM58.9 77h1.1l-0.1 4.5h-1.1zM62.6 76.7h1.4l0 4.4h-1.4zM62.7 89.1h1.4l0 4.4h-1.4zM62.9 113.8h1.4l0 4.4h-1.4zM63 126.2h1.4l0 4.4h-1.4zM63.3 60h2.2l0 4.3h-2.2zM63.3 76.2h2.2l0 4.3h-2.2zM63.4 112.7h2.2l0 4.3h-2.2zM64.2 131.8h1.2l-0 4.3h-1.2zM65.7 52h2.1l0 4.3h-2.1zM65.7 64.1h2.1l0 8.4h-2.1zM66.9 43.8h2.1l0 4.4h-2.1zM67.2 77h2.1l0 4.4h-2.1zM69.6 48.1h0.4l0 8.7h-0.4zM69.6 60.6h0.4l0 8.7h-0.4zM69.6 127.5h0.4l0 4.5h-0.4zM38.4 30.7h1.3l0.1 4.6h-1.3zM43.3 35.8h0.8l-0.4 8.8h-0.8zM52 29.8h1.3l0 5.1h-1.3zM53.7 38h0.4l-0.1 4.4h-0.4zM72.4 22.5h1.5l0.3 5.2h-1.5zM61.9 40.7L62 37.4L60.5 37.3L60.4 40.6zM62 37.4L62.2 34L60.7 34L60.5 37.3zM61.2 23.2H67.7V24.8H61.2z"/><path fill="#80f01a" d="M62.3 43.7h1.4l0 4.4h-1.4zM62.4 52h1.4l0 4.4h-1.4zM62.5 60.2h1.4l0.1 8.5h-1.4zM62.8 101.4h1.4l0.1 8.5h-1.4zM63 130.3h1.4l0 4.4h-1.4zM63.3 84.3h2.2l0 4.3h-2.2zM63.4 108.6h2.2l0 4.3h-2.2zM63.4 120.8h2.2l0 4.3h-2.2zM65.7 84.2h2.1l0 4.3h-2.1zM65.8 100.3h2.1l0 16.4h-2.1zM66.9 48h2.1l0 4.4h-2.1zM67 56.3h2.1l0 4.4h-2.1zM67.3 85.2h2.1l0 4.4h-2.1zM67.8 130.8h2.1l0 4.4h-2.1zM69.6 73.2h0.4l0 8.7h-0.4zM69.6 102.4h0.4l0 8.7h-0.4zM69.6 114.9h0.4l0 4.5h-0.4zM44.2 18.8h0.8l-0.2 4.6h-0.8zM52.9 25.6h1.6l-0.7 13.2h-1.6zM54 25.6h0.4l-0.1 4.4h-0.4zM53.8 33.8h0.4l-0.1 4.4h-0.4z"/><path fill="#88f01b" d="M62.6 80.8h1.4l0 4.4h-1.4zM62.7 93.2h1.4l0 4.4h-1.4zM62.9 109.7h1.4l0 4.4h-1.4zM62.9 117.9h1.4l0 4.4h-1.4zM63.4 128.9h2.2l0 4.3h-2.2zM65.7 48h2.1l0 4.3h-2.1zM65.7 76.1h2.1l0 4.3h-2.1zM65.8 124.4h2.1l0 4.3h-2.1zM67 60.4h2.1l0.1 8.6h-2.1zM67.2 72.8h2.1l0 4.4h-2.1zM67.4 89.4h2.1l0 4.4h-2.1zM67.7 118.4h2.1l0 4.4h-2.1zM67.8 126.7h2.1l0 4.4h-2.1zM69.6 94.1h0.4l0 4.5h-0.4zM69.6 110.8h0.4l0 4.5h-0.4zM69.6 119.1h0.4l0 8.7h-0.4zM69.6 131.7h0.4l0 4.5h-0.4zM74.9 43.9h2.1l-0 4.5h-2.1zM44 23h0.8l-0.2 4.6h-0.8zM52.2 38.5h1.6l-0.2 4.6h-1.6zM53.9 29.7h0.4l-0.1 4.4h-0.4zM66.2 23.2H67.7V28.1H66.2zM66.2 26.6H67.7V31.4H66.2z"/><path fill="#91f01c" d="M62.8 97.3h1.4l0 4.4h-1.4zM63 122.1h1.4l0 4.4h-1.4zM65.7 72.1h2.1l0 4.3h-2.1zM65.7 80.2h2.1l0 4.3h-2.1zM65.7 88.2h2.1l0 12.4h-2.1zM65.8 128.5h2.1l0 4.3h-2.1zM67.1 68.7h2.1l0 4.4h-2.1zM67.3 81.1h2.1l0 4.4h-2.1zM67.4 93.5h2.1l0 4.4h-2.1zM69.6 81.5h0.4l0 4.5h-0.4zM69.6 98.2h0.4l0 4.5h-0.4zM72.7 51.8h1.2l0.1 8.6h-1.2zM74.9 48.1h2.1l-0 8.7h-2.1zM74.8 69h2.1l-0 4.5h-2.1zM69.2 19.4h1.8l0.2 4.6h-1.8zM78 20.4h2.1l0.2 4.5h-2.1z"/><path fill="#9af01d" d="M65.8 116.4h2.1l0 4.3h-2.1zM67.5 101.8h2.1l0.2 16.9h-2.1zM68.4 56.4h1.4l-0.1 8.7h-1.4zM67.9 89.8h1.4l-0.1 4.5h-1.4zM67.5 114.8h1.4l-0.1 4.5h-1.4zM72.6 43.5h1.2l0 4.5h-1.2zM72.8 68.5h1.2l0 4.5h-1.2zM73.2 106h1.2l0 4.5h-1.2zM74.8 64.8h2.1l-0 4.5h-2.1zM66.2 39.9H67.7V44.8H66.2z"/><path fill="#a6f01e" d="M67.7 122.5h2.1l0 4.4h-2.1zM68.6 43.8h1.4l-0.1 4.5h-1.4zM68.4 52.2h1.4l-0.1 4.5h-1.4zM68.3 64.7h1.4l-0.1 4.5h-1.4zM68.1 73.1h1.4l-0.1 4.5h-1.4zM72.6 47.7h1.2l0 4.5h-1.2zM73 85.2h1.2l0 4.5h-1.2zM74.9 56.5h2.1l-0 4.5h-2.1zM79.2 47.8h1.6l0 4.3h-1.6zM69.5 28.1h1.8l0.2 4.6h-1.8zM70.5 19.6h1.9l0 4.8h-1.9zM72.7 27.3h1.5l0.3 5.2h-1.5zM66.2 33.2H67.7V38.1H66.2z"/><path fill="#b5f01f" d="M68.5 48h1.4l-0.1 4.5h-1.4zM68.2 68.9h1.4l-0.1 4.5h-1.4zM68 81.4h1.4l-0.1 8.7h-1.4zM67.8 94h1.4l-0.3 21.2h-1.4zM67.5 119h1.4l-0.2 17h-1.4zM72.8 60.2h1.2l0.1 8.6h-1.2zM72.9 76.9h1.2l0.1 8.6h-1.2zM73 89.4h1.2l0 4.5h-1.2zM73.2 110.2h1.2l0 4.5h-1.2zM74.1 43.5h1.2l0.1 8.6h-1.2zM74.8 73.2h2.1l-0 8.7h-2.1zM74.7 85.7h2.1l-0 4.5h-2.1zM74.6 98.3h2.1l-0 4.5h-2.1zM74.6 115h2.1l-0 8.7h-2.1zM79.2 55.8h1.6l0 4.3h-1.6zM79.3 63.8h1.6l0 4.3h-1.6zM86.2 43.6h0.8l-0 4.5h-0.8zM67.6 19.5h1.7l0 5.2h-1.7zM69.3 23.7h1.8l0.2 4.6h-1.8zM70.5 24.1h1.9l0 4.8h-1.9zM73 32.2h1.5l0.5 10h-1.5zM76.2 20.1h1.2l0 4.9h-1.2zM78.2 24.6h2.1l0.2 4.5h-2.1zM66.2 29.9H67.7V34.8H66.2zM66.2 36.6H67.7V41.4H66.2z"/><path fill="#c4f020" d="M68.1 77.3h1.4l-0.1 4.5h-1.4zM71.9 43.9h1.1l0 4.4h-1.1zM72 68.8h1.1l0 4.4h-1.1zM72.9 72.7h1.2l0 4.5h-1.2zM73.2 101.9h1.2l0 4.5h-1.2zM74.8 60.6h2.1l-0 4.5h-2.1zM74.7 81.5h2.1l-0 4.5h-2.1zM74.7 89.9h2.1l-0 8.7h-2.1zM74.6 102.4h2.1l-0 4.5h-2.1zM79.2 43.8h1.6l0 4.3h-1.6zM79.2 51.8h1.6l0 4.3h-1.6zM79.2 59.8h1.6l0 4.3h-1.6zM79.3 67.8h1.6l0 4.3h-1.6zM86.1 60.2h0.8l-0 4.5h-0.8zM86 68.6h0.8l-0 4.5h-0.8zM67.6 24.3h1.7l0 5.2h-1.7z"/><path fill="#d2f020" d="M71.9 48h1.1l0 4.4h-1.1zM72 77.1h1.1l0 4.4h-1.1zM73.1 93.5h1.2l0.1 8.6h-1.2zM73.3 118.6h1.2l0.1 12.8h-1.2zM74.3 56h1.2l0.1 8.6h-1.2zM74.5 72.7h1.2l0.1 4.5h-1.2zM74.6 110.8h2.1l-0 4.5h-2.1zM74.5 123.3h2.1l-0 8.7h-2.1zM79.3 75.8h1.6l0 8.3h-1.6zM79.5 131.8h1.6l0 4.3h-1.6zM69.7 32.4h1.8l0.2 4.6h-1.8zM70.5 37.6h1.9l0 4.8h-1.9zM78.4 28.7h2.1l0.2 4.5h-2.1zM78.8 37h2.1l0.2 4.5h-2.1z"/><path fill="#eaf023" d="M72 52.2h1.1l0 4.4h-1.1zM72 72.9h1.1l0 4.4h-1.1zM72 85.4h1.1l0 4.4h-1.1zM72 97.8h1.1l0 8.6h-1.1zM72.1 110.3h1.1l0 4.4h-1.1zM73.3 114.4h1.2l0 4.5h-1.2zM74.2 51.8h1.2l0.1 4.5h-1.2zM74.4 68.5h1.2l0.1 4.5h-1.2zM74.6 85.2h1.2l0.1 4.5h-1.2zM74.9 106h1.2l0.1 8.6h-1.2zM79.3 87.8h1.6l0 8.3h-1.6zM86.1 56.1h0.8l-0 4.5h-0.8zM86 72.7h0.8l-0 4.5h-0.8zM85.8 97.7h0.8l-0 4.5h-0.8zM85.6 122.7h0.8l-0 4.5h-0.8zM87.7 43.6h1.3l-0 4.4h-1.3zM87.7 51.7h1.3l-0.1 12.5h-1.3zM87.4 84.2h1.3l-0 4.4h-1.3zM88.7 43.6h1.3l-0.1 4.4h-1.3zM103.1 56.7h1.5l-0.1 4.4h-1.5zM102.9 68.9h1.5l-0.1 4.4h-1.5zM69.8 36.7h1.8l0.2 4.6h-1.8zM70.5 28.6h1.9l0 4.8h-1.9zM78.6 32.9h2.1l0.2 4.5h-2.1zM81.6 24.8h1l-0 4.9h-1zM85.2 20h1.5l0.3 4.9h-1.5zM92.3 20.1h1.5l0.1 4.4h-1.5z"/><path fill="#e0f020" d="M72 56.3h1.1l0 4.4h-1.1zM72 64.6h1.1l0 4.4h-1.1zM72.1 106.1h1.1l0 4.4h-1.1zM74.4 64.3h1.2l0.1 4.5h-1.2zM75.2 131h1.2l0.1 4.5h-1.2zM74.6 106.6h2.1l-0 4.5h-2.1zM79.3 71.8h1.6l0 4.3h-1.6zM79.3 83.8h1.6l0 4.3h-1.6zM79.5 123.8h1.6l0 4.3h-1.6zM82.4 60.2h2.2l-0 4.5h-2.2zM86.1 51.9h0.8l-0 4.5h-0.8zM86 64.4h0.8l-0 4.5h-0.8zM85.9 76.9h0.8l-0 4.5h-0.8zM85.9 89.4h0.8l-0 4.5h-0.8zM67.6 29.2h1.7l0 10h-1.7zM70.5 33.1h1.9l0 4.8h-1.9zM73.6 22.2h2.4l-0.2 4.5h-2.4zM73.1 30.6h2.4l-0.2 4.5h-2.4z"/><path fill="#f3f026" d="M72 60.5h1.1l0 4.4h-1.1zM72 81.2h1.1l0 4.4h-1.1zM72 89.5h1.1l0 4.4h-1.1zM72.1 122.7h1.1l0 4.4h-1.1zM73.4 131.1h1.2l0 4.5h-1.2zM74.5 76.8h1.2l0.1 8.6h-1.2zM74.7 89.3h1.2l0.1 4.5h-1.2zM75 114.3h1.2l0.1 4.5h-1.2zM76.8 64.3h1.4l0.1 4.4h-1.4zM77.3 43.6h1.6l0.1 4.3h-1.6zM78.4 56.4h1.1l0 4.5h-1.1zM79.4 95.8h1.6l0 4.3h-1.6zM79.4 103.8h1.6l0 8.3h-1.6zM79.4 115.8h1.6l0 4.3h-1.6zM79.5 127.8h1.6l0 4.3h-1.6zM86.1 47.7h0.8l-0 4.5h-0.8zM85.8 93.6h0.8l-0 4.5h-0.8zM85.8 106.1h0.8l-0.1 17h-0.8zM85.6 126.9h0.8l-0.1 8.6h-0.8zM87.6 63.9h1.3l-0 4.4h-1.3zM87.3 104.5h1.3l-0 4.4h-1.3zM88.7 47.8h1.3l-0.2 12.7h-1.3zM88.3 72.6h1.3l-0.1 4.4h-1.3zM88.2 80.8h1.3l-0.1 4.4h-1.3zM92.6 51.8h1.2l-0 4.4h-1.2zM92.3 76.2h1.2l-0 4.4h-1.2zM92.1 96.5h1.2l-0 4.4h-1.2zM102.7 85.3h1.5l-0.1 4.4h-1.5zM72.7 38.9h2.4l-0.2 4.5h-2.4zM77.2 20h1.1l0.3 5.3h-1.1zM82.6 20.6h1.4l0.1 4.8h-1.4z"/><path fill="#f8e92c" d="M72 93.7h1.1l0 4.4h-1.1zM72.1 114.4h1.1l0 8.6h-1.1zM74.7 93.5h1.2l0.2 12.8h-1.2zM75.1 122.7h1.2l0.1 4.5h-1.2zM76.5 48.1h1.4l0.1 8.4h-1.4zM77 80.6h1.4l0.1 4.4h-1.4zM77.4 109.1h1.4l0.1 4.4h-1.4zM77.4 47.6h1.6l0.1 4.3h-1.6zM77.5 59.7h1.6l0.1 4.3h-1.6zM78.4 52.3h1.1l0 4.5h-1.1zM79.4 99.8h1.6l0 4.3h-1.6zM79.4 111.8h1.6l0 4.3h-1.6zM79.5 119.8h1.6l0 4.3h-1.6zM82.4 47.7h2.2l-0 12.8h-2.2zM82.4 64.4h2.2l-0 4.5h-2.2zM82.4 72.7h2.2l-0 4.5h-2.2zM85.9 81.1h0.8l-0 4.5h-0.8zM85.8 101.9h0.8l-0 4.5h-0.8zM86.9 47.9h1.4l0 4.3h-1.4zM87 56h1.4l0 4.3h-1.4zM87.6 68h1.3l-0.1 8.4h-1.3zM87.5 80.2h1.3l-0 4.4h-1.3zM87.4 88.3h1.3l-0 4.4h-1.3zM87.4 96.4h1.3l-0.1 8.4h-1.3zM87.2 116.7h1.3l-0 4.4h-1.3zM88.4 64.3h1.3l-0.1 4.4h-1.3zM88.1 85h1.3l-0.1 4.4h-1.3zM88 93.2h1.3l-0.1 4.4h-1.3zM87.8 101.5h1.3l-0.1 8.6h-1.3zM87.6 113.9h1.3l-0.1 4.4h-1.3zM87.4 130.5h1.3l-0.1 4.4h-1.3zM89.6 43.4h0.9l0 8.5h-0.9zM89.6 68h0.9l0 4.4h-0.9zM89.6 76.1h0.9l0 8.5h-0.9zM92.6 55.9h1.2l-0.1 12.5h-1.2zM92.2 84.3h1.2l-0 4.4h-1.2zM92 100.6h1.2l-0 4.4h-1.2zM93.8 77.2h2.3l0 8.6h-2.3zM103.2 44.4h1.5l-0.2 12.6h-1.5zM103 60.7h1.5l-0.1 8.5h-1.5zM102.9 73h1.5l-0.1 8.5h-1.5zM102.7 89.4h1.5l-0.1 4.4h-1.5zM105 52.4h0.5l0 4.3h-0.5zM105 76.7h0.5l0 4.3h-0.5zM105 84.8h0.5l0 8.4h-0.5zM105 96.9h0.5l0 8.4h-0.5zM105 117.1h0.5l0 4.3h-0.5zM73.3 26.4h2.4l-0.2 4.5h-2.4zM75.1 22.2h1.1l-0.1 4.8h-1.1zM75 31.1h1.1l-0.1 4.8h-1.1zM76.2 24.7h1.2l0 4.9h-1.2zM81.6 34.1h1l-0 4.9h-1z"/><path fill="#f7cf3b" d="M72.1 126.9h1.1l0 4.4h-1.1zM75.2 126.8h1.2l0.1 4.5h-1.2zM76.8 68.4h1.4l0.1 8.4h-1.4zM77.2 92.8h1.4l0.1 4.4h-1.4zM77.6 63.7h1.6l0.1 8.4h-1.6zM78.1 104h1.6l0.1 4.3h-1.6zM78.3 48.1h1.1l0 4.5h-1.1zM78.5 73.2h1.1l0 4.5h-1.1zM80.6 55.9h2.2l0.1 8.5h-2.2zM80.9 80.6h2.2l0.1 8.5h-2.2zM81 93h2.2l0 4.4h-2.2zM81.1 109.5h2.2l0 4.4h-2.2zM82.4 81.1h2.2l-0 4.5h-2.2zM82.4 89.4h2.2l-0 4.5h-2.2zM82.4 97.8h2.2l-0 4.5h-2.2zM84 43.9h2.1l-0.1 8.6h-2.1zM83.9 56.4h2.1l-0 4.4h-2.1zM83.8 64.6h2.1l-0.1 16.9h-2.1zM85.2 51.8h1.8l0 4.4h-1.8zM87 68h1.4l0 8.3h-1.4zM87 88.1h1.4l0 4.3h-1.4zM87.9 97.4h1.3l-0.1 4.4h-1.3zM87.4 126.3h1.3l-0.1 4.4h-1.3zM92.7 43.7h1.2l-0 4.4h-1.2zM92 104.6h1.2l-0 4.4h-1.2zM93.8 93.8h2.3l0 12.8h-2.3zM93.9 118.8h2.3l0 4.5h-2.3zM96.3 76.9h2.4l0 12.6h-2.4zM96.3 93.4h2.4l0 8.5h-2.4zM96.3 109.9h2.4l0 8.5h-2.4zM102.5 92.7h1.6l0 4.4h-1.6zM102.6 97.6h1.5l-0.1 8.5h-1.5zM102.3 113.9h1.5l-0.2 12.6h-1.5zM102.1 130.3h1.5l-0.1 4.4h-1.5zM105 44.4h0.5l0 4.3h-0.5zM105 60.5h0.5l0 4.3h-0.5zM105 68.6h0.5l0 4.3h-0.5zM105 105h0.5l0 4.3h-0.5zM75 26.7h1.1l-0.1 4.8h-1.1zM76.2 29.3h1.2l0 4.9h-1.2zM85.5 24.6h1.5l0.3 4.9h-1.5zM87.7 23.1h1.7l0.8 15.1h-1.7zM88.7 20.1h1.2l0.2 4.8h-1.2zM93.5 20.5h1l0.1 4.4h-1z"/><path fill="#f8dc35" d="M72.1 131h1.1l0 4.4h-1.1zM75.1 118.5h1.2l0.1 4.5h-1.2zM76.5 44h1.4l0.1 4.4h-1.4zM76.7 56.2h1.4l0.1 4.4h-1.4zM77.1 84.7h1.4l0.1 4.4h-1.4zM77.4 51.6h1.6l0.1 4.3h-1.6zM78.3 43.9h1.1l0 4.5h-1.1zM78.4 60.6h1.1l0 8.7h-1.1zM78.5 77.3h1.1l0 4.5h-1.1zM80.6 47.6h2.2l0.1 8.5h-2.2zM80.7 64.1h2.2l0 4.4h-2.2zM82.4 43.5h2.2l-0 4.5h-2.2zM82.4 68.5h2.2l-0 4.5h-2.2zM82.4 76.9h2.2l-0 4.5h-2.2zM82.4 85.3h2.2l-0 4.5h-2.2zM83.7 81.2h2.1l-0 4.4h-2.1zM85.9 85.2h0.8l-0 4.5h-0.8zM86.9 52h1.4l0 4.3h-1.4zM87 60h1.4l0 4.3h-1.4zM87.7 47.6h1.3l-0 4.4h-1.3zM87.5 76.1h1.3l-0 4.4h-1.3zM87.3 108.6h1.3l-0.1 8.4h-1.3zM87.2 120.8h1.3l-0 4.4h-1.3zM87.2 128.9h1.3l-0 4.4h-1.3zM88.5 60.2h1.3l-0.1 4.4h-1.3zM88.3 68.4h1.3l-0.1 4.4h-1.3zM88.2 76.7h1.3l-0.1 4.4h-1.3zM88 89.1h1.3l-0.1 4.4h-1.3zM87.7 109.8h1.3l-0.1 4.4h-1.3zM87.6 118.1h1.3l-0.1 4.4h-1.3zM89.6 51.6h0.9l0 16.6h-0.9zM89.6 88.4h0.9l0 4.4h-0.9zM89.6 96.6h0.9l0 4.4h-0.9zM92.6 47.8h1.2l-0 4.4h-1.2zM92.4 68.1h1.2l-0.1 8.4h-1.2zM92.3 80.3h1.2l-0 4.4h-1.2zM92.2 88.4h1.2l-0.1 8.4h-1.2zM91.9 108.7h1.2l-0 4.4h-1.2zM91.8 116.8h1.2l-0.1 12.5h-1.2zM93.7 43.9h2.3l0 4.5h-2.3zM93.7 56.4h2.3l0 4.5h-2.3zM93.8 68.9h2.3l0 8.6h-2.3zM93.9 114.6h2.3l0 4.5h-2.3zM96.3 48.1h2.4l0 4.4h-2.4zM96.3 101.6h2.4l0 4.4h-2.4zM102.8 81.2h1.5l-0.1 4.4h-1.5zM102.6 93.5h1.5l-0.1 4.4h-1.5zM102.5 105.8h1.5l-0.1 8.5h-1.5zM102.2 126.2h1.5l-0.1 4.4h-1.5zM105 48.4h0.5l0 4.3h-0.5zM105 64.6h0.5l0 4.3h-0.5zM105 72.6h0.5l0 4.3h-0.5zM105 80.7h0.5l0 4.3h-0.5zM105 92.8h0.5l0 4.3h-0.5zM105 109h0.5l0 8.4h-0.5zM105 125.2h0.5l0 4.3h-0.5zM72.9 34.7h2.4l-0.2 4.5h-2.4zM80.4 20.4h1.9l-0.3 4.6h-1.9zM81.6 38.7h1l-0 4.9h-1zM86.5 20.4h1.7l0 4.4h-1.7z"/><path fill="#f3b640" d="M76.7 60.3h1.4l0.1 4.4h-1.4zM77.1 88.8h1.4l0.1 4.4h-1.4zM77.3 96.9h1.4l0.1 4.4h-1.4zM77.9 87.9h1.6l0.1 8.4h-1.6zM78.1 108.1h1.6l0.1 4.3h-1.6zM78.5 69h1.1l0 4.5h-1.1zM78.6 85.7h1.1l0 4.5h-1.1zM78.6 94h1.1l0 4.5h-1.1zM78.7 106.6h1.1l0 4.5h-1.1zM78.7 114.9h1.1l0 8.7h-1.1zM78.8 131.6h1.1l0 4.5h-1.1zM80.8 72.4h2.2l0.1 8.5h-2.2zM81 88.9h2.2l0 4.4h-2.2zM81.2 117.7h2.2l0 4.4h-2.2zM81.3 126h2.2l0 4.4h-2.2zM82.4 114.5h2.2l-0 4.5h-2.2zM82.4 127h2.2l-0 8.7h-2.2zM83.5 97.8h2.1l-0.1 16.9h-2.1zM85.2 56h1.8l0 4.4h-1.8zM85.2 64.2h1.8l0 4.4h-1.8zM85.2 84.8h1.8l0 4.4h-1.8zM85.2 93h1.8l0 4.4h-1.8zM85.2 121.8h1.8l0 4.4h-1.8zM85.2 130h1.8l0 4.4h-1.8zM87 84.1h1.4l0 4.3h-1.4zM87.1 96.1h1.4l0 4.3h-1.4zM87.1 104.1h1.4l0 4.3h-1.4zM87.1 124.2h1.4l0 8.3h-1.4zM89.6 92.5h0.9l0 4.4h-0.9zM89.6 100.7h0.9l0 4.4h-0.9zM90.5 52h1.4l0 4.5h-1.4zM93.7 64.7h2.3l0 4.5h-2.3zM95.6 47.6h0.7l0 4.4h-0.7zM95.6 59.9h0.7l0 4.4h-0.7zM95.6 68.1h0.7l0 4.4h-0.7zM95.6 76.2h0.7l0 4.4h-0.7zM95.6 92.5h0.7l0 4.4h-0.7zM96.3 44h2.4l0 4.4h-2.4zM96.3 68.7h2.4l0 4.4h-2.4zM96.3 122.2h2.4l0 12.6h-2.4zM97.9 76.7h1.3l-0.1 4.4h-1.3zM97.6 96.9h1.3l-0.1 8.4h-1.3zM99.6 56.7h1.9l0 4.4h-1.9zM99.7 64.8h1.9l0 4.4h-1.9zM102.1 44h1.6l0.1 8.4h-1.6zM105 56.5h0.5l0 4.3h-0.5zM76.2 34h1.2l0 9.6h-1.2zM77.5 24.9h1.1l0.3 5.3h-1.1zM82.8 29.6h1.4l0.1 4.8h-1.4zM83.3 32.4h1.7l-0.3 5h-1.7zM86.5 24.4h1.7l0 4.4h-1.7zM88.5 37.9h1.7l0.3 5.2h-1.7zM90.6 22.1h2.2l0.1 5.2h-2.2zM94.4 20.1h1.1l0.1 4.8h-1.1zM98.2 37.7h1.7l0 4.7h-1.7z"/><path fill="#f5c140" d="M77 76.6h1.4l0.1 4.4h-1.4zM77.3 101h1.4l0.1 4.4h-1.4zM77.6 117.3h1.4l0.1 4.4h-1.4zM77.5 55.6h1.6l0.1 4.3h-1.6zM77.7 71.8h1.6l0.1 4.3h-1.6zM77.8 79.8h1.6l0.1 8.4h-1.6zM78.2 112.1h1.6l0.1 4.3h-1.6zM78.6 98.2h1.1l0 4.5h-1.1zM80.5 43.5h2.2l0 4.4h-2.2zM80.8 68.2h2.2l0 4.4h-2.2zM82.4 93.6h2.2l-0 4.5h-2.2zM82.4 102h2.2l-0 12.8h-2.2zM82.4 122.8h2.2l-0 4.5h-2.2zM83.9 52.2h2.1l-0 4.4h-2.1zM83.9 60.5h2.1l-0 4.4h-2.1zM83.6 85.4h2.1l-0.1 12.7h-2.1zM83.4 114.4h2.1l-0.1 8.6h-2.1zM85.2 43.6h1.8l0 4.4h-1.8zM85.2 80.6h1.8l0 4.4h-1.8zM85.2 101.2h1.8l0 4.4h-1.8zM86.9 43.9h1.4l0 4.3h-1.4zM87 64h1.4l0 4.3h-1.4zM87 76h1.4l0 8.3h-1.4zM87.1 100.1h1.4l0 4.3h-1.4zM87.1 120.2h1.4l0 4.3h-1.4zM87.4 92.3h1.3l-0 4.4h-1.3zM87.2 124.9h1.3l-0 4.4h-1.3zM87.5 122.2h1.3l-0.1 4.4h-1.3zM89.6 72.1h0.9l0 4.4h-0.9zM89.6 84.3h0.9l0 4.4h-0.9zM89.6 104.7h0.9l0 8.5h-0.9zM91.9 112.8h1.2l-0 4.4h-1.2zM93.7 48.1h2.3l0 8.6h-2.3zM93.7 60.6h2.3l0 4.5h-2.3zM93.8 85.5h2.3l0 4.5h-2.3zM93.9 106.3h2.3l0 8.6h-2.3zM95.6 64h0.7l0 4.4h-0.7zM95.6 84.4h0.7l0 4.4h-0.7zM96.3 52.3h2.4l0 16.8h-2.4zM96.3 72.8h2.4l0 4.4h-2.4zM96.3 89.3h2.4l0 4.4h-2.4zM96.3 105.8h2.4l0 4.4h-2.4zM105 121.1h0.5l0 4.3h-0.5zM105 129.2h0.5l0 4.3h-0.5zM74.9 35.6h1.1l-0.1 4.8h-1.1zM82.7 25.1h1.4l0.1 4.8h-1.4zM82.9 37.1h1.7l-0.3 5h-1.7zM85.8 29.2h1.5l0.3 4.9h-1.5zM90.7 27h2.2l0.1 5.2h-2.2zM92.4 24.2h1.5l0.1 4.4h-1.5zM95.3 20.5h2l-0.2 4.5h-2zM97.1 24.9h2.1l0.2 4.8h-2.1zM97.6 38.3h2.1l0.2 4.8h-2.1z"/><path fill="#f1ab40" d="M77.4 105.1h1.4l0.1 4.4h-1.4zM77.5 113.2h1.4l0.1 4.4h-1.4zM77.7 125.4h1.4l0.1 4.4h-1.4zM78 96h1.6l0.1 4.3h-1.6zM78.3 124.2h1.6l0.1 8.4h-1.6zM78.5 81.5h1.1l0 4.5h-1.1zM78.6 89.9h1.1l0 4.5h-1.1zM78.7 102.4h1.1l0 4.5h-1.1zM78.7 110.7h1.1l0 4.5h-1.1zM78.8 123.3h1.1l0 8.7h-1.1zM81 97.1h2.2l0.1 12.7h-2.2zM81.2 113.6h2.2l0 4.4h-2.2zM81.3 130.1h2.2l0 4.4h-2.2zM82.4 118.7h2.2l-0 4.5h-2.2zM85.2 47.7h1.8l0 4.4h-1.8zM85.2 68.3h1.8l0 4.4h-1.8zM85.2 76.5h1.8l0 4.4h-1.8zM85.2 97.1h1.8l0 4.4h-1.8zM87.1 92.1h1.4l0 4.3h-1.4zM87.1 108.1h1.4l0 8.3h-1.4zM90.5 60.3h1.4l0 8.7h-1.4zM90.5 81.2h1.4l0 4.5h-1.4zM91.6 43.6h1.5l0 4.5h-1.5zM91.7 60.3h1.5l0 4.5h-1.5zM91.8 81.2h1.5l0 4.5h-1.5zM93.8 89.7h2.3l0 4.5h-2.3zM94 123h2.3l0 4.5h-2.3zM95.6 51.7h0.7l0 8.5h-0.7zM95.6 72.1h0.7l0 4.4h-0.7zM95.6 100.7h0.7l0 4.4h-0.7zM96.3 118.1h2.4l0 4.4h-2.4zM98.3 48.3h1.3l-0.1 4.4h-1.3zM98.2 56.4h1.3l-0.1 4.4h-1.3zM98 68.6h1.3l-0.1 8.4h-1.3zM97.8 80.7h1.3l-0.1 4.4h-1.3zM97.7 92.9h1.3l-0.1 4.4h-1.3zM97.3 117.2h1.3l-0.1 4.4h-1.3zM100.3 117.7h1.9l0 4.4h-1.9zM100.7 65.1h2.2l-0 4.5h-2.2zM100.6 77.6h2.2l-0 4.5h-2.2zM100.5 90.1h2.2l-0 4.5h-2.2zM102.2 56.2h1.6l0.1 8.4h-1.6zM102.3 68.4h1.6l0.1 8.4h-1.6zM102.4 80.5h1.6l0.1 8.4h-1.6zM102.6 104.8h1.6l0 4.4h-1.6zM102.7 125.1h1.6l0 4.4h-1.6zM104.3 48.6h1.2l0 4.4h-1.2zM104.3 73h1.2l0 4.4h-1.2zM80.2 24.6h1.9l-0.5 8.8h-1.9zM82.9 34.1h1.4l0.2 9.3h-1.4zM83.9 23h1.7l-0.6 9.7h-1.7zM86.1 33.8h1.5l0.3 4.9h-1.5zM86.6 32.6h1.7l0 4.4h-1.7zM92.5 28.3h1.5l0.1 4.4h-1.5zM92.6 36.5h1.5l0.1 4.4h-1.5zM93.7 24.6h1l0.1 4.4h-1zM97.3 29.3h2.1l0.2 4.8h-2.1z"/><path fill="#f0a03d" d="M77.6 121.3h1.4l0.1 4.4h-1.4zM77.7 129.5h1.4l0.1 4.4h-1.4zM77.7 75.8h1.6l0.1 4.3h-1.6zM78 100h1.6l0.1 4.3h-1.6zM78.3 120.2h1.6l0.1 4.3h-1.6zM83.3 122.7h2.1l-0.1 12.7h-2.1zM85.2 60.1h1.8l0 4.4h-1.8zM85.2 72.4h1.8l0 4.4h-1.8zM85.2 88.9h1.8l0 4.4h-1.8zM85.2 113.5h1.8l0 8.5h-1.8zM87.1 116.2h1.4l0 4.3h-1.4zM90.5 43.6h1.4l0 8.7h-1.4zM90.5 56.1h1.4l0 4.5h-1.4zM90.5 68.7h1.4l0 12.8h-1.4zM90.5 89.6h1.4l0 8.7h-1.4zM90.5 102.1h1.4l0 8.7h-1.4zM90.5 118.9h1.4l0 4.5h-1.4zM91.7 47.7h1.5l0 4.5h-1.5zM91.7 56.1h1.5l0 4.5h-1.5zM91.7 64.4h1.5l0 4.5h-1.5zM91.8 89.5h1.5l0 8.7h-1.5zM95.6 43.6h0.7l0 4.4h-0.7zM95.6 80.3h0.7l0 4.4h-0.7zM95.6 88.5h0.7l0 4.4h-0.7zM95.6 96.6h0.7l0 4.4h-0.7zM95.6 104.8h0.7l0 4.4h-0.7zM95.6 121.1h0.7l0 4.4h-0.7zM98.2 52.3h1.3l-0.1 4.4h-1.3zM98.1 60.5h1.3l-0.1 8.4h-1.3zM97.7 88.8h1.3l-0.1 4.4h-1.3zM97.4 109.1h1.3l-0.1 8.4h-1.3zM97.1 129.4h1.3l-0.1 4.4h-1.3zM99.5 52.6h1.9l0 4.4h-1.9zM99.6 60.7h1.9l0 4.4h-1.9zM99.7 68.9h1.9l0 4.4h-1.9zM100 93.3h1.9l0 4.4h-1.9zM100.8 52.7h2.2l-0 4.5h-2.2zM100.6 81.8h2.2l-0.1 8.6h-2.2zM100.4 106.7h2.2l-0 4.5h-2.2zM100.2 123.3h2.2l-0 4.5h-2.2zM102.2 52.1h1.6l0 4.4h-1.6zM102.3 64.3h1.6l0 4.4h-1.6zM102.5 88.6h1.6l0 4.4h-1.6zM102.5 100.8h1.6l0 4.4h-1.6zM102.6 112.9h1.6l0 4.4h-1.6zM102.7 129.2h1.6l0 4.4h-1.6zM104.3 44.5h1.2l0 4.4h-1.2zM104.3 52.7h1.2l0 12.5h-1.2zM104.3 89.2h1.2l0 4.4h-1.2zM104.3 97.4h1.2l0 4.4h-1.2zM104.3 121.8h1.2l0 4.4h-1.2zM86.4 38.4h1.5l0.3 4.9h-1.5zM86.6 28.5h1.7l0 4.4h-1.7zM91 36.9h2.2l0.1 5.2h-2.2zM92.5 32.4h1.5l0.1 4.4h-1.5zM94 32.8h1l0.1 4.4h-1zM97.4 33.8h2.1l0.2 4.8h-2.1zM98.2 24.6h1.7l0 9h-1.7z"/><path fill="#ef8638" d="M78.2 116.1h1.6l0.1 4.3h-1.6zM85.2 109.4h1.8l0 4.4h-1.8zM90.5 85.4h1.4l0 4.5h-1.4zM90.5 110.5h1.4l0 4.5h-1.4zM91.7 51.9h1.5l0 4.5h-1.5zM91.8 85.3h1.5l0 4.5h-1.5zM95.6 117h0.7l0 4.4h-0.7zM99.5 48.5h1.9l0 4.4h-1.9zM99.8 72.9h1.9l0 4.4h-1.9zM99.9 81.1h1.9l0.1 8.4h-1.9zM100 97.3h1.9l0.1 8.4h-1.9zM100.4 129.9h1.9l0 4.4h-1.9zM100.7 61h2.2l-0 4.5h-2.2zM100.7 69.3h2.2l-0 4.5h-2.2zM100.4 102.6h2.2l-0 4.5h-2.2zM104.3 81.1h1.2l0 4.4h-1.2zM104.3 105.5h1.2l0 4.4h-1.2zM104.3 125.8h1.2l0 8.4h-1.2zM88.9 24.6h1.2l0.2 4.8h-1.2zM95.2 24.7h2l-0.3 8.7h-2z"/><path fill="#f0953a" d="M81.3 121.8h2.2l0 4.4h-2.2zM85.2 105.3h1.8l0 4.4h-1.8zM85.2 125.9h1.8l0 4.4h-1.8zM90.5 114.7h1.4l0 4.5h-1.4zM91.7 68.6h1.5l0 12.8h-1.5zM91.8 97.9h1.5l0 8.7h-1.5zM95.6 113h0.7l0 4.4h-0.7zM97.8 84.8h1.3l-0.1 4.4h-1.3zM97.5 105h1.3l-0.1 4.4h-1.3zM97.3 121.3h1.3l-0.1 8.4h-1.3zM99.4 44.5h1.9l0 4.4h-1.9zM100 89.2h1.9l0 4.4h-1.9zM100.1 105.5h1.9l0.1 8.4h-1.9zM100.4 125.8h1.9l0 4.4h-1.9zM100.9 44.3h2.2l-0.1 8.6h-2.2zM100.8 56.8h2.2l-0 4.5h-2.2zM100.6 73.4h2.2l-0 4.5h-2.2zM100.5 94.2h2.2l-0.1 8.6h-2.2zM100.3 110.9h2.2l-0.1 8.6h-2.2zM100.2 131.7h2.2l-0 4.5h-2.2zM102.4 76.5h1.6l0 4.4h-1.6zM102.5 96.7h1.6l0 4.4h-1.6zM102.6 108.9h1.6l0 4.4h-1.6zM102.6 117h1.6l0.1 8.4h-1.6zM104.3 64.9h1.2l0 8.4h-1.2zM104.3 77h1.2l0 4.4h-1.2zM104.3 93.3h1.2l0 4.4h-1.2zM104.3 101.4h1.2l0 4.4h-1.2zM104.3 109.6h1.2l0 4.4h-1.2zM104.3 117.7h1.2l0 4.4h-1.2zM77.9 29.9h1.1l0.3 5.3h-1.1zM93.8 28.7h1l0.1 4.4h-1zM94.8 33.7h1.1l0.1 4.8h-1.1z"/><path fill="#ed7438" d="M90.5 98h1.4l0 4.5h-1.4zM95.6 108.9h0.7l0 4.4h-0.7zM98.3 44.2h1.3l-0.1 4.4h-1.3zM100.3 121.8h1.9l0 4.4h-1.9zM100.2 127.5h2.2l-0 4.5h-2.2zM104.3 85.2h1.2l0 4.4h-1.2zM78.2 34.9h1.1l0.3 5.3h-1.1zM79.7 33.1h1.9l-0.3 4.6h-1.9zM89.4 33.6h1.2l0.2 4.8h-1.2zM94.7 29.1h1.1l0.1 4.8h-1.1zM94.9 38.2h1.1l0.1 4.8h-1.1zM94.7 37.3h2l-0.2 4.5h-2z"/><path fill="#ea6638" d="M99.8 77h1.9l0 4.4h-1.9zM100.2 113.6h1.9l0 4.4h-1.9zM100.3 119.2h2.2l-0 4.5h-2.2zM104.3 113.6h1.2l0 4.4h-1.2zM89.5 24.6h1.2l-0.3 4.7h-1.2zM94.6 24.6h1.1l0.1 4.8h-1.1z"/><path fill="#6bbb43" d="M21.1 38.7h0.9l0 4.6h-0.9z"/><path fill="#333fea" d="M81.6 20.2h1l-0 4.9h-1zM81.6 29.4h1l-0 4.9h-1zM86.7 36.6h1.7l0 4.4h-1.7zM89.2 29.1h1.2l0.2 4.8h-1.2zM89.6 38h1.2l0.2 4.8h-1.2zM89.8 20.2h1.2l-0.3 4.7h-1.2zM88.9 33.4h1.2l-0.3 4.7h-1.2zM90.9 32h2.2l0.1 5.2h-2.2zM94.1 36.9h1l0.1 4.4h-1zM94.9 33.1h2l-0.2 4.5h-2zM96.9 20.4h2.1l0.2 4.8h-2.1zM98.2 20.2h1.7l0 4.7h-1.7zM98.2 33.3h1.7l0 4.7h-1.7zM85.9 19.5H91.5V21.5H85.9zM89.5 19.5H95V21.5H89.5zM93 19.5H98.6V21.5H93zM82.1 35.8H83.8V40.9H82.1zM82.1 28.9H83.8V34.1H82.1zM82.1 22.1H83.8V27.2H82.1zM83.4 23.7L87.4 21.2L86.5 19.8L82.5 22.3zM86.5 21.2L90.5 23.7L91.4 22.3L87.4 19.8zM90.1 22.1H91.8V27.1H90.1zM90.1 25.4H91.8V30.4H90.1zM90.1 28.6H91.8V33.6H90.1zM90.1 31.9H91.8V36.9H90.1zM96.8 20.7L97.4 23.8L99 23.5L98.4 20.3zM97.4 23.8L98 27L99.6 26.7L99 23.5zM98 27L98.6 30.2L100.2 29.8L99.6 26.7zM98.9 29.3L94.9 32.3L95.9 33.7L99.9 30.7zM94.8 33.6L98.8 37.6L100 36.4L96 32.4zM98.6 37.2L99.6 42.2L101.2 41.8L100.2 36.8z"/><path fill="#e85938" d="M89.2 29h1.2l-0.3 4.7h-1.2z"/><path fill="#e64a36" d="M88.6 37.8h1.2l-0.3 4.7h-1.2z"/><path fill="#e33e33" d="M82.1 32.4H83.8V37.5H82.1zM82.1 25.5H83.8V30.7H82.1z"/><path fill="#fff" d="M22.8 24H25V44H22.8zM27.7 24H29.8V44H27.7zM36.8 27H38.4V44H36.8zM50.7 26H52V44H50.7zM57.4 29.5H60.6V43.4H57.4zM65.9 26H67.6V43H65.9zM21.8 45.5H25V61.6H21.8zM34 48.7H37V68H34zM31 68H35.6V75H31zM24 83H26V98H24zM24.6 98H28.1V133H24.6zM31 77H34V136H31zM42 103H44.3V136H42zM48.3 90H51.8V103H48.3zM54.7 94H56.4V106H54.7zM54.7 118H56.4V136H54.7zM69.7 105H71.9V116H69.7zM91.4 98H94.9V136H91.4zM69.7 42H70.8V58H69.7z"/></g><g transform="translate(180.20,238.00)"><path fill="#7dea1b" d="M18.8 45h1.8l0.1 4.3h-1.8zM20 48.6h2l0.1 4.4h-2zM20.4 69.2h2l0.1 4.4h-2zM20.2 21.8h1.1l0.1 4.5h-1.1z"/><path fill="#7deb1b" d="M18.9 49h1.8l0.4 28.3h-1.8zM19.4 81h1.8l0.1 8.3h-1.8zM19.9 117.1h1.8l0.1 4.3h-1.8zM20.1 125.1h1.8l0.1 4.3h-1.8zM20 44.4h2l0.1 4.4h-2zM20.1 52.7h2l0.3 16.8h-2zM20.4 73.4h2l0.6 37.5h-2zM21.1 114.7h2l0.3 16.8h-2zM21.6 48.9h1.5l-0 4.4h-1.5zM22.5 44.9h1l0 16.7h-1zM22.5 65.5h1l0 8.5h-1zM22.5 77.8h1l0 4.4h-1zM22.5 86h1l0 12.6h-1zM22.5 102.4h1l0 12.6h-1zM22.5 118.8h1l0 4.4h-1zM22.5 131.1h1l0 4.4h-1zM23.2 44.7h0.3l-0.3 17.1h-0.3zM22.7 69.8h0.3l-0.3 17.1h-0.3zM22.3 95h0.3l-0.1 4.5h-0.3zM21.9 111.8h0.3l-0.1 4.5h-0.3zM21.8 120.2h0.3l-0.1 4.5h-0.3zM36.3 60.9h1.3l-0 4.4h-1.3zM36 85.6h1.3l-0 4.4h-1.3zM35.7 106.2h1.3l-0 4.4h-1.3zM40.4 118.1h0.5l-0.1 4.4h-0.5zM46.3 52.8h0.8l0 8.6h-0.8zM46.3 69.3h0.8l0 21h-0.8zM46.3 98.3h0.8l0 4.4h-0.8zM46.3 110.7h0.8l0 4.4h-0.8zM46.3 119h0.8l0 8.6h-0.8zM46.3 131.4h0.8l0 4.4h-0.8zM49.5 44.4h1.7l-0.1 8.4h-1.7zM49.3 56.6h1.7l-0.1 4.4h-1.7zM48.6 113.3h1.7l-0.1 4.4h-1.7zM20.3 26.1h1.1l0.1 4.5h-1.1zM20.6 34.5h1.1l0.1 4.5h-1.1zM21.1 21.5h0.9l0 4.6h-0.9zM25.7 44.5h1.3l0 5.1h-1.3zM38.5 30.7h1.3l0.1 9h-1.3zM44.2 18.8h0.8l-0.2 4.6h-0.8zM19.9 27.7H21.4V32.3H19.9zM19.9 24.6H21.4V29.2H19.9zM47.1 40.1H48.6V44.8H47.1z"/><path fill="#7eeb1b" d="M19.3 77h1.8l0.1 4.3h-1.8zM19.5 89h1.8l0.4 28.3h-1.8zM20 121.1h1.8l0.1 4.3h-1.8zM20.1 129.1h1.8l0.1 4.3h-1.8zM21 110.6h2l0.1 4.4h-2zM21.3 131.3h2l0.1 4.4h-2zM21.6 44.8h1.5l-0 4.4h-1.5zM21.5 53h1.5l-0.2 29h-1.5zM21.4 85.7h1.5l-0 4.4h-1.5zM21.3 98h1.5l-0.1 12.6h-1.5zM21.2 114.4h1.5l-0 4.4h-1.5zM21.1 122.6h1.5l-0.1 12.6h-1.5zM22.5 61.3h1l0 4.4h-1zM22.5 73.7h1l0 4.4h-1zM22.5 81.9h1l0 4.4h-1zM22.5 98.3h1l0 4.4h-1zM22.5 114.7h1l0 4.4h-1zM22.5 122.9h1l0 8.5h-1zM22.9 61.5h0.3l-0.2 8.7h-0.3zM22.4 86.6h0.3l-0.2 8.7h-0.3zM22.2 99.2h0.3l-0.2 12.9h-0.3zM21.9 116h0.3l-0.1 4.5h-0.3zM26 48.5h2l0 4.3h-2zM26 60.6h2l0 4.3h-2zM29.6 48.6h1.1l0 4.4h-1.1zM29.7 64.9h1.1l0 4.4h-1.1zM29.7 81.3h1.1l0 4.4h-1.1zM29.8 101.8h1.1l0 4.4h-1.1zM29.8 110h1.1l0 4.4h-1.1zM30.4 57.1h0.5l-0.1 4.4h-0.5zM34.1 90.4h2.2l0 4.4h-2.2zM35.6 53h1.5l-0 4.4h-1.5zM35.5 65.2h1.5l-0 4.4h-1.5zM35.3 85.5h1.5l-0 4.4h-1.5zM35 130.3h1.5l-0 4.4h-1.5zM36.4 48.6h1.3l-0.1 12.6h-1.3zM36.2 65h1.3l-0.2 20.9h-1.3zM35.9 89.7h1.3l-0.2 16.7h-1.3zM35.7 110.3h1.3l-0.3 25h-1.3zM37.6 73.3h2l0 4.4h-2zM37.7 81.4h2l0 4.4h-2zM40.4 44.8h1.6l-0 4.4h-1.6zM40.3 53.1h1.6l-0 4.4h-1.6zM40.2 61.3h1.6l-0.1 12.7h-1.6zM40.1 77.8h1.6l-0.1 8.5h-1.6zM40 94.3h1.6l-0.2 25h-1.6zM39.8 123.2h1.6l-0 4.4h-1.6zM39.7 131.4h1.6l-0 4.4h-1.6zM41.5 44.6h0.5l-0.4 24.8h-0.5zM41.1 73.2h0.5l-0.4 28.9h-0.5zM40.5 110h0.5l-0.1 8.5h-0.5zM40.4 122.2h0.5l-0.2 12.5h-0.5zM44.3 48.7h2.2l0 4.4h-2.2zM44.4 65.2h2.2l0 4.4h-2.2zM44.6 94.2h2.2l0 4.4h-2.2zM44.7 110.7h2.2l0 4.4h-2.2zM44.8 123.1h2.2l0.1 8.6h-2.2zM46.3 44.5h0.8l0 8.6h-0.8zM46.3 61h0.8l0 8.6h-0.8zM46.3 90h0.8l0 8.6h-0.8zM46.3 102.4h0.8l0 8.6h-0.8zM46.3 114.8h0.8l0 4.4h-0.8zM46.7 56.7h0.3l-0.1 8.4h-0.3zM46.5 77h0.3l-0.1 8.4h-0.3zM46.3 101.4h0.3l-0.1 8.4h-0.3zM46.1 117.7h0.3l-0.1 8.4h-0.3zM47.1 48.5h1.9l0 58h-1.9zM47.1 114.5h1.9l0 4.4h-1.9zM47.1 122.7h1.9l0 8.5h-1.9zM48.5 44.6h1.3l0.1 4.4h-1.3zM48.7 60.8h1.3l0.5 32.7h-1.3zM49.3 97.3h1.3l0.1 4.4h-1.3zM49.5 113.5h1.3l0.1 4.4h-1.3zM49.6 121.6h1.3l0.1 4.4h-1.3zM49.4 52.5h1.7l-0.1 4.4h-1.7zM49.3 60.6h1.7l-0.7 53h-1.7zM48.5 117.4h1.7l-0.2 16.5h-1.7zM51 44.6h1.6l-0.1 4.4h-1.6zM50.7 64.9h1.6l-0.1 4.4h-1.6zM50.6 73h1.6l-0.3 20.6h-1.6zM50.2 97.4h1.6l-0.1 4.4h-1.6zM50.1 105.5h1.6l-0.4 24.7h-1.6zM20.5 30.3h1.1l0.1 4.5h-1.1zM20.8 38.7h1.1l0.1 4.5h-1.1zM21.1 25.8h0.9l0 17.6h-0.9zM25.7 30.2h1.3l0 14.6h-1.3zM38.4 26.3h1.3l0.1 4.6h-1.3zM44 23h0.8l-1.1 21.6h-0.8zM52 25h1.3l0 9.9h-1.3zM52 39.4h1.3l0 5.1h-1.3zM19.9 40.1H21.4V44.8H19.9zM19.9 37H21.4V41.6H19.9zM19.9 30.8H21.4V35.4H19.9zM19.9 21.4H21.4V26.1H19.9zM19.9 21.4H27.3V22.9H19.9zM25.8 21.4H27.3V26.9H25.8zM25.8 25.4H27.3V30.8H25.8zM23 33.5L26 36.5L27 35.5L24 32.5zM29.1 36.9H30.6V41.5H29.1zM29.1 24.1H36.3V25.6H29.1zM34.8 24.1H36.3V28.8H34.8zM34.8 33.6H36.3V38.4H34.8zM41.7 28.4L41.9 25.3L40.4 25.2L40.2 28.3zM42.1 22.2L42.2 19L40.8 19L40.6 22.1zM41.3 19.7L44.8 20.7L45.2 19.3L41.7 18.3zM44.6 25.4L41.6 27.4L42.4 28.6L45.4 26.6zM47.1 27.4H48.6V32.1H47.1zM47.1 24.2H51.6V25.8H47.1z"/><path fill="#7eec1b" d="M21.4 81.6h1.5l-0 4.4h-1.5zM21.3 89.8h1.5l-0 8.5h-1.5zM21.2 110.3h1.5l-0 4.4h-1.5zM21.2 118.5h1.5l-0 4.4h-1.5zM24.2 53.1h1.1l0 4.4h-1.1zM24.4 94.3h1.1l0 4.4h-1.1zM24.5 102.6h1.1l0 4.4h-1.1zM24.9 49h1.7l-0 4.4h-1.7zM24.8 57.1h1.7l-0.1 8.4h-1.7zM26 44.5h2l0 4.3h-2zM26 64.6h2l0 68.8h-2zM27.7 44.9h0.3l-0.6 54h-0.3zM27.1 102.7h0.3l-0.2 16.8h-0.3zM26.8 123.3h0.3l-0.1 8.6h-0.3zM28 119.3h2.3l0 4.5h-2.3zM29.6 44.5h1.1l0 4.4h-1.1zM29.6 52.6h1.1l0 12.6h-1.1zM29.7 69h1.1l0 12.6h-1.1zM29.7 89.5h1.1l0 12.6h-1.1zM29.8 105.9h1.1l0 4.4h-1.1zM29.8 114.1h1.1l0.1 20.8h-1.1zM30.5 44.8h0.5l-0.1 4.4h-0.5zM30.3 65.4h0.5l-0.1 4.4h-0.5zM30 86h0.5l-0.1 8.5h-0.5zM29.8 98.3h0.5l-0.1 4.4h-0.5zM29.7 106.6h0.5l-0.1 4.4h-0.5zM29.6 114.8h0.5l-0.2 12.7h-0.5zM29.4 131.3h0.5l-0.1 4.4h-0.5zM34 44.9h2.2l0 21h-2.2zM34.1 69.7h2.2l0 21h-2.2zM34.1 94.5h2.2l0.1 33.4h-2.2zM34.2 131.7h2.2l0 4.4h-2.2zM35.6 44.8h1.5l-0.1 8.4h-1.5zM35.5 57h1.5l-0.1 8.4h-1.5zM35.4 69.2h1.5l-0.1 16.6h-1.5zM35.3 89.6h1.5l-0.2 28.8h-1.5zM35.1 122.2h1.5l-0.1 8.4h-1.5zM36.5 44.5h1.3l-0 4.4h-1.3zM37.5 44.7h2l0 8.5h-2zM37.6 57h2l0.1 16.6h-2zM37.7 77.3h2l0 4.4h-2zM37.7 85.5h2l0 8.5h-2zM37.8 97.7h2l0.1 20.7h-2zM37.9 122.2h2l0.1 12.5h-2zM40.3 48.9h1.6l-0 4.4h-1.6zM40.3 57.2h1.6l-0 4.4h-1.6zM40.1 73.7h1.6l-0 4.4h-1.6zM40 86.1h1.6l-0.1 8.5h-1.6zM39.8 119h1.6l-0 4.4h-1.6zM39.7 127.3h1.6l-0 4.4h-1.6zM41.1 69.1h0.5l-0.1 4.4h-0.5zM40.7 101.8h0.5l-0.1 8.5h-0.5zM44.3 44.6h2.2l0 4.4h-2.2zM44.4 52.8h2.2l0.1 12.7h-2.2zM44.5 69.4h2.2l0.2 25.1h-2.2zM44.6 98.3h2.2l0.1 12.7h-2.2zM44.7 114.9h2.2l0.1 8.6h-2.2zM44.9 131.4h2.2l0 4.4h-2.2zM46.3 127.3h0.8l0 4.4h-0.8zM46.8 44.5h0.3l-0.1 12.5h-0.3zM46.6 64.8h0.3l-0.1 12.5h-0.3zM46.4 85.2h0.3l-0.1 16.6h-0.3zM46.2 109.6h0.3l-0.1 8.4h-0.3zM46.1 125.8h0.3l-0.1 8.4h-0.3zM47.1 44.4h1.9l0 4.4h-1.9zM47.1 106.2h1.9l0 8.5h-1.9zM47.1 118.6h1.9l0 4.4h-1.9zM47.1 131h1.9l0 4.4h-1.9zM48.6 48.7h1.3l0.2 12.5h-1.3zM49.2 93.2h1.3l0.1 4.4h-1.3zM49.3 101.3h1.3l0.2 12.5h-1.3zM49.6 117.6h1.3l0.1 4.4h-1.3zM49.7 125.7h1.3l0.1 8.4h-1.3zM50.9 48.6h1.6l-0.2 16.6h-1.6zM50.6 69h1.6l-0.1 4.4h-1.6zM50.3 93.3h1.6l-0.1 4.4h-1.6zM50.2 101.5h1.6l-0.1 4.4h-1.6zM49.7 129.9h1.6l-0.1 4.4h-1.6zM52 44.7h1.3l-0.1 24.6h-1.3zM51.9 73.1h1.3l-0.1 20.5h-1.3zM51.8 97.3h1.3l-0 4.3h-1.3zM51.8 105.4h1.3l-0.1 28.6h-1.3zM53.9 44.5h1.1l-0.2 16.4h-1.1zM53.7 64.6h1.1l-0 4.3h-1.1zM53.6 72.6h1.1l-0.1 8.3h-1.1zM53.5 84.6h1.1l-0 4.3h-1.1zM53.3 100.7h1.1l-0.3 28.4h-1.1zM54.9 51.5h2.2l0 4.3h-2.2zM55 67.6h2.2l0 4.3h-2.2zM57.7 43.9h2.3l0.5 25.1h-2.3zM58.5 85.2h2.3l0.1 4.4h-2.3zM58.6 93.5h2.3l0.1 4.4h-2.3zM58.8 101.7h2.3l0.1 4.4h-2.3zM41 19.2h2.3l0 4.8h-2.3zM41 28.2h2.3l0 4.8h-2.3zM41 37.3h2.3l0 4.8h-2.3zM42.6 18.8h2l0.4 24.3h-2zM52 34.6h1.3l0 5.1h-1.3zM53.9 33.8h0.4l-0.2 8.6h-0.4zM19.9 33.9H21.4V38.5H19.9zM26 29.5L23 32.5L24 33.5L27 30.5zM29.1 40H30.6V44.8H29.1zM29.1 33.6H30.6V38.4H29.1zM29.1 30.5H30.6V35.1H29.1zM29.1 27.2H30.6V32H29.1zM29.1 24.1H30.6V28.8H29.1zM34.8 27.2H36.3V31.9H34.8zM34.8 30.4H36.3V35.1H34.8zM34.8 36.9H36.3V41.5H34.8zM34.8 40H36.3V44.8H34.8zM40.7 44L40.9 40.9L39.4 40.8L39.3 44zM40.9 40.9L41.1 37.8L39.6 37.7L39.4 40.8zM41.1 37.8L41.3 34.7L39.8 34.6L39.6 37.7zM41.3 34.7L41.5 31.5L40 31.5L39.8 34.6zM41.5 31.5L41.7 28.4L40.2 28.3L40 31.5zM41.9 25.3L42.1 22.2L40.6 22.1L40.4 25.2zM44.3 19.2H45.8V23.8H44.3zM44.3 22.2H45.8V26.8H44.3zM47.1 36.9H48.6V41.6H47.1zM47.1 33.8H48.6V38.4H47.1zM47.1 30.6H48.6V35.2H47.1zM47.1 24.2H48.6V28.9H47.1zM50.1 24.2H54.7V25.8H50.1z"/><path fill="#7eed1b" d="M24.1 44.8h1.1l0.1 8.6h-1.1zM24.2 57.2h1.1l0.2 33.3h-1.1zM24.5 98.5h1.1l0 4.4h-1.1zM24.5 106.7h1.1l0.2 25.1h-1.1zM24.9 44.9h1.7l-0 4.4h-1.7zM24.8 53.1h1.7l-0 4.4h-1.7zM24.7 65.2h1.7l-0.1 12.5h-1.7zM24.6 81.5h1.7l-0.2 28.7h-1.7zM26 52.5h2l0 8.4h-2zM27.1 98.5h0.3l-0 4.4h-0.3zM26.9 119.2h0.3l-0 4.4h-0.3zM26.8 131.6h0.3l-0 4.4h-0.3zM28 44.4h2.3l0 4.5h-2.3zM28 52.8h2.3l0 8.6h-2.3zM28 65.2h2.3l0 54.4h-2.3zM28 123.5h2.3l0 8.6h-2.3zM29.7 85.4h1.1l0 4.4h-1.1zM30.5 48.9h0.5l-0.1 8.5h-0.5zM30.3 61.3h0.5l-0.1 4.4h-0.5zM30.2 69.5h0.5l-0.2 16.8h-0.5zM29.9 94.2h0.5l-0.1 4.4h-0.5zM29.8 102.5h0.5l-0.1 4.4h-0.5zM29.7 110.7h0.5l-0.1 4.4h-0.5zM29.4 127.2h0.5l-0.1 4.4h-0.5zM34 65.6h2.2l0 4.4h-2.2zM34.2 127.6h2.2l0 4.4h-2.2zM35.1 118.1h1.5l-0 4.4h-1.5zM37.5 52.9h2l0 4.4h-2zM37.8 93.6h2l0 4.4h-2zM37.9 118.1h2l0 4.4h-2zM38.8 44.7h1.9l-0.1 12.3h-1.9zM38.6 60.7h1.9l-0.1 12.3h-1.9zM38.4 76.7h1.9l-0.1 8.3h-1.9zM38.2 88.7h1.9l-0.2 20.3h-1.9zM51.9 69h1.3l-0 4.3h-1.3zM51.8 93.3h1.3l-0 4.3h-1.3zM51.8 101.4h1.3l-0 4.3h-1.3zM53.7 60.5h1.1l-0 4.3h-1.1zM53.7 68.6h1.1l-0 4.3h-1.1zM53.5 80.6h1.1l-0 4.3h-1.1zM53.5 88.7h1.1l-0.1 12.3h-1.1zM53 128.8h1.1l-0 4.3h-1.1zM54.8 43.5h2.2l0.1 8.3h-2.2zM54.9 55.5h2.2l0.1 12.3h-2.2zM55 71.6h2.2l0.5 64.5h-2.2zM56.7 43.8h1.2l0 8.6h-1.2zM57 97.4h1.2l0 4.4h-1.2zM58.2 68.7h2.3l0.3 16.8h-2.3zM58.5 89.3h2.3l0.1 4.4h-2.3zM58.7 97.6h2.3l0.1 4.4h-2.3zM58.8 105.8h2.3l0.2 12.7h-2.3zM40.3 26.1h0.7l-0.5 8.3h-0.7zM39.5 38.2h0.7l-0.2 4.3h-0.7zM41 23.7h2.3l0 4.8h-2.3zM41 32.8h2.3l0 4.8h-2.3zM52.7 29.9h1.6l-0.7 13.2h-1.6zM54.1 25.6h0.4l-0.2 8.6h-0.4zM53.2 24.2H57.8V25.8H53.2zM56.3 27.4H57.8V32.1H56.3zM56.3 33.8H57.8V38.4H56.3zM56.3 40.1H57.8V44.8H56.3z"/><path fill="#7fed1b" d="M24.4 90.2h1.1l0 4.4h-1.1zM24.7 131.5h1.1l0 4.4h-1.1zM24.6 77.4h1.7l-0 4.4h-1.7zM28 48.6h2.3l0 4.5h-2.3zM28 61.1h2.3l0 4.5h-2.3zM38.6 56.7h1.9l-0 4.3h-1.9zM38.4 72.7h1.9l-0 4.3h-1.9zM38.3 84.7h1.9l-0 4.3h-1.9zM56.8 52h1.2l0.2 45.7h-1.2zM57 101.6h1.2l0.2 33.3h-1.2zM59.1 118.2h2.3l0.1 4.4h-2.3zM39.8 34.1h0.7l-0.2 4.3h-0.7zM52.9 25.6h1.6l-0.2 4.6h-1.6zM56.3 24.2H57.8V28.9H56.3zM56.3 30.6H57.8V35.2H56.3zM56.3 36.9H57.8V41.6H56.3z"/><path fill="#80ef1a" d="M59.7 43.4h1.1l-0.1 4.5h-1.1zM60.6 43.9h2.3l0.1 8.7h-2.3zM60.6 56.4h2.3l0 4.5h-2.3zM60.8 81.5h2.3l0 4.5h-2.3zM62.4 52h1.4l0.1 16.8h-1.4zM62.6 72.6h1.4l0.2 20.9h-1.4zM62.8 97.3h1.4l0 4.4h-1.4zM62.9 105.6h1.4l0 4.4h-1.4zM63 117.9h1.4l0 4.4h-1.4zM63.3 43.8h2.2l0 4.3h-2.2zM63.4 51.9h2.2l0 4.3h-2.2zM63.4 60h2.2l0 4.3h-2.2z"/><path fill="#7fee1b" d="M59.6 47.6h1.1l-0.1 4.5h-1.1zM59.4 56h1.1l-0.1 4.5h-1.1zM58.9 81.2h1.1l-0.2 8.7h-1.1zM58.5 102.2h1.1l-0.1 4.5h-1.1zM62.4 43.7h1.4l0 4.4h-1.4zM61.7 44L61.9 40.7L60.4 40.6L60.3 44zM62.4 30.7L62.6 27.4L61.1 27.3L60.9 30.6z"/><path fill="#7fef1a" d="M59.5 51.8h1.1l-0.1 4.5h-1.1zM59.3 60.2h1.1l-0.4 21.3h-1.1zM58.7 89.6h1.1l-0.3 12.9h-1.1zM58.4 106.4h1.1l-0.1 4.5h-1.1zM62.4 47.8h1.4l0 4.4h-1.4zM62.6 68.5h1.4l0 4.4h-1.4zM61.9 40.7L62.1 37.4L60.6 37.3L60.4 40.6zM62.1 37.4L62.2 34L60.8 34L60.6 37.3zM62.2 34L62.4 30.7L60.9 30.6L60.8 34zM62.6 27.4L62.7 24L61.3 24L61.1 27.3z"/><path fill="#80f01a" d="M60.6 52.2h2.3l0 4.5h-2.3zM60.7 60.6h2.3l0.1 21.2h-2.3zM60.8 85.6h2.3l0.1 12.8h-2.3zM61 114.9h2.3l0.1 8.7h-2.3zM62.8 93.2h1.4l0 4.4h-1.4zM62.9 101.4h1.4l0 4.4h-1.4zM62.9 109.7h1.4l0.1 8.5h-1.4zM63.1 126.2h1.4l0 4.4h-1.4zM63.3 47.9h2.2l0 4.3h-2.2zM63.4 68.1h2.2l0 4.3h-2.2zM63.4 88.4h2.2l0 4.3h-2.2zM63.4 104.6h2.2l0 4.3h-2.2zM65 43.5h1.2l-0.1 12.3h-1.2zM61.3 23.2H67.8V24.8H61.3z"/><path fill="#88f01b" d="M60.9 98.2h2.3l0.1 17h-2.3zM61.1 123.2h2.3l0.1 12.8h-2.3zM63 122.1h1.4l0 4.4h-1.4zM63.1 130.3h1.4l0 4.4h-1.4zM63.4 56h2.2l0 4.3h-2.2zM63.4 64.1h2.2l0 4.3h-2.2zM63.4 72.2h2.2l0 16.5h-2.2zM63.4 96.5h2.2l0 8.4h-2.2zM63.4 108.6h2.2l0 16.5h-2.2zM64.9 59.5h1.2l-0 4.3h-1.2zM64.8 67.6h1.2l-0.3 32.4h-1.2zM64.5 107.7h1.2l-0 4.3h-1.2zM64.4 119.7h1.2l-0 4.3h-1.2zM64.3 127.8h1.2l-0.1 8.3h-1.2zM67.7 19.5h1.7l0 5.2h-1.7z"/><path fill="#91f01c" d="M63.4 92.4h2.2l0 4.3h-2.2zM63.4 124.8h2.2l0 8.4h-2.2zM64.9 55.5h1.2l-0 4.3h-1.2zM64.9 63.5h1.2l-0 4.3h-1.2zM64.6 99.7h1.2l-0.1 8.3h-1.2zM64.5 111.7h1.2l-0.1 8.3h-1.2zM64.4 123.8h1.2l-0 4.3h-1.2zM65.7 43.9h2.1l0 4.3h-2.1zM68.6 43.8h1.4l-0.1 8.7h-1.4zM66.3 23.2H67.8V28.1H66.3z"/><path fill="#a6f01e" d="M65.7 48h2.1l0 4.3h-2.1zM65.8 64.1h2.1l0 16.4h-2.1zM65.8 84.2h2.1l0 12.4h-2.1zM66.9 43.8h2.1l0.1 8.6h-2.1zM67.1 60.4h2.1l0 4.4h-2.1zM68.3 64.7h1.4l-0.1 4.5h-1.4zM68.2 73.1h1.4l-0.1 8.7h-1.4zM68 85.6h1.4l-0.5 37.9h-1.4zM67.4 127.4h1.4l-0.1 8.7h-1.4zM72 43.9h1.1l0 4.4h-1.1zM72 52.2h1.1l0 4.4h-1.1zM66.3 29.9H67.8V34.8H66.3z"/><path fill="#9af01d" d="M65.7 52h2.1l0 12.4h-2.1zM68.5 52.2h1.4l-0.2 12.8h-1.4zM68.3 68.9h1.4l-0.1 4.5h-1.4zM68.1 81.4h1.4l-0.1 4.5h-1.4zM67.7 24.3h1.7l0 5.2h-1.7zM69.2 19.4h1.8l0.2 4.6h-1.8zM70.6 19.6h1.9l0 4.8h-1.9zM66.3 26.6H67.8V31.4H66.3zM66.3 33.2H67.8V38.1H66.3z"/><path fill="#b5f01f" d="M65.8 80.2h2.1l0 4.3h-2.1zM65.8 96.3h2.1l0 24.5h-2.1zM65.8 124.4h2.1l0 8.4h-2.1zM67 52.1h2.1l0.1 8.6h-2.1zM67.1 64.5h2.1l0.2 16.9h-2.1zM67.5 123.2h1.4l-0.1 4.5h-1.4zM69.6 48.1h0.4l0 4.5h-0.4zM72 48h1.1l0 4.4h-1.1zM72 56.3h1.1l0 4.4h-1.1zM67.7 29.2h1.7l0 5.2h-1.7zM77.3 20h1.1l0.3 5.3h-1.1zM66.3 36.6H67.8V41.4H66.3zM66.3 39.9H67.8V44.8H66.3z"/><path fill="#c4f020" d="M65.8 120.4h2.1l0 4.3h-2.1zM67.3 81.1h2.1l0.2 16.9h-2.1zM69.6 43.9h0.4l0 4.5h-0.4zM69.6 52.3h0.4l0 8.7h-0.4zM69.6 64.8h0.4l0 4.5h-0.4zM72 60.5h1.1l0 21h-1.1zM67.7 34h1.7l0 5.2h-1.7zM69.4 23.7h1.8l0.2 4.6h-1.8zM70.6 24.1h1.9l0 4.8h-1.9z"/><path fill="#d2f020" d="M67.5 97.7h2.1l0.2 21h-2.1zM69.6 60.6h0.4l0 4.5h-0.4zM69.6 69h0.4l0 12.8h-0.4zM69.6 89.9h0.4l0 4.5h-0.4zM72.1 81.2h1.1l0 4.4h-1.1zM72.1 89.5h1.1l0 8.6h-1.1zM72.7 43.5h1.2l0 4.5h-1.2zM72.8 51.8h1.2l0 4.5h-1.2zM74.2 43.5h1.2l0.1 8.6h-1.2zM69.6 28.1h1.8l0.2 4.6h-1.8zM72.5 22.5h1.5l0.3 5.2h-1.5zM76.3 20.1h1.2l0 4.9h-1.2zM78.1 20.4h2.1l0.2 4.5h-2.1z"/><path fill="#e0f020" d="M67.7 118.4h2.1l0.2 16.9h-2.1zM69.6 81.5h0.4l0 8.7h-0.4zM69.6 94.1h0.4l0 21.2h-0.4zM69.6 119.1h0.4l0 4.5h-0.4zM72.1 85.4h1.1l0 4.4h-1.1zM72.1 97.8h1.1l0 8.6h-1.1zM72.1 110.3h1.1l0 21h-1.1zM72.7 47.7h1.2l0 4.5h-1.2zM72.8 56h1.2l0.2 17h-1.2zM74.3 51.8h1.2l0.2 12.8h-1.2zM69.7 32.4h1.8l0.2 4.6h-1.8zM80.5 20.4h1.9l-0.3 4.6h-1.9zM83.5 23.7L87.5 21.2L86.5 19.8L82.5 22.3z"/><path fill="#eaf023" d="M69.6 114.9h0.4l0 4.5h-0.4zM69.6 123.3h0.4l0 12.8h-0.4zM72.1 106.1h1.1l0 4.4h-1.1zM72.2 131h1.1l0 4.4h-1.1zM73 72.7h1.2l0 4.5h-1.2zM73.1 85.2h1.2l0 4.5h-1.2zM74.4 64.3h1.2l0.1 8.6h-1.2zM75 43.9h2.1l-0 4.5h-2.1zM69.9 36.7h1.8l0.2 4.6h-1.8zM70.6 28.6h1.9l0 9.3h-1.9zM72.8 27.3h1.5l0.3 5.2h-1.5zM73.6 22.2h2.4l-0.2 4.5h-2.4zM75.2 22.2h1.1l-0.1 4.8h-1.1zM81.7 20.2h1l-0 4.9h-1zM82.7 20.6h1.4l0.1 4.8h-1.4zM86.6 20.4h1.7l0 4.4h-1.7z"/><path fill="#f3f026" d="M73 76.9h1.2l0.1 8.6h-1.2zM73.1 89.4h1.2l0.1 8.6h-1.2zM73.3 106h1.2l0 4.5h-1.2zM74.5 72.7h1.2l0.3 25.3h-1.2zM75 48.1h2.1l-0.1 21.2h-2.1zM76.5 44h1.4l0.1 8.4h-1.4zM76.7 56.2h1.4l0.1 4.4h-1.4zM77.4 43.6h1.6l0.1 4.3h-1.6zM77.5 51.6h1.6l0.1 4.3h-1.6zM78.4 43.9h1.1l0 8.7h-1.1zM70.6 37.6h1.9l0 4.8h-1.9zM73.4 26.4h2.4l-0.2 4.5h-2.4zM77.6 24.9h1.1l0.3 5.3h-1.1zM85.3 20h1.5l0.3 4.9h-1.5zM88.8 20.1h1.2l0.2 4.8h-1.2zM93.6 20.5h1l0.1 4.4h-1z"/><path fill="#f8e92c" d="M73.2 97.7h1.2l0.1 8.6h-1.2zM73.3 110.2h1.2l0.2 17h-1.2zM73.5 131.1h1.2l0 4.5h-1.2zM74.9 97.7h1.2l0.2 12.8h-1.2zM74.9 69h2.1l-0.1 12.8h-2.1zM74.7 94.1h2.1l-0 4.5h-2.1zM76.7 52.1h1.4l0.1 4.4h-1.4zM77.4 47.6h1.6l0.1 4.3h-1.6zM77.5 55.6h1.6l0.1 4.3h-1.6zM77.6 63.7h1.6l0.1 4.3h-1.6zM78.4 52.3h1.1l0 8.7h-1.1zM79.3 47.8h1.6l0 4.3h-1.6zM75.1 26.7h1.1l-0.1 4.8h-1.1zM76.3 24.7h1.2l0 4.9h-1.2zM78.3 24.6h2.1l0.2 4.5h-2.1zM80.2 24.6h1.9l-0.3 4.6h-1.9zM89.8 20.2h1.2l-0.3 4.7h-1.2zM92.4 20.1h1.5l0.1 4.4h-1.5zM94.5 20.1h1.1l0.1 4.8h-1.1zM95.4 20.5h2l-0.2 4.5h-2zM97 20.4h2.1l0.2 4.8h-2.1zM96.9 20.7L97.5 23.8L99.1 23.5L98.5 20.3z"/><path fill="#f8dc35" d="M73.5 126.9h1.2l0 4.5h-1.2zM75 110.2h1.2l0.3 25.3h-1.2zM74.8 81.5h2.1l-0 8.7h-2.1zM74.7 98.3h2.1l-0.1 17h-2.1zM74.6 119.2h2.1l-0 4.5h-2.1zM76.8 60.3h1.4l0.2 12.5h-1.4zM77.6 59.7h1.6l0.1 4.3h-1.6zM77.7 67.7h1.6l0.1 8.4h-1.6zM78.5 60.6h1.1l0 8.7h-1.1zM79.2 43.8h1.6l0 4.3h-1.6zM79.3 51.8h1.6l0 4.3h-1.6zM79.3 59.8h1.6l0 4.3h-1.6zM80.6 43.5h2.2l0.2 20.9h-2.2zM84.1 43.9h2.1l-0 4.4h-2.1zM85.2 43.6h1.8l0 12.6h-1.8zM85.2 64.2h1.8l0 4.4h-1.8zM87.8 43.6h1.3l-0.1 12.5h-1.3zM87.7 59.8h1.3l-0 4.4h-1.3zM88.8 43.6h1.3l-0.2 12.7h-1.3zM73 32.2h1.5l0.5 10h-1.5zM73.2 30.6h2.4l-0.7 12.8h-2.4zM82.8 25.1h1.4l0.1 4.8h-1.4zM98.2 20.2h1.7l0 4.7h-1.7z"/><path fill="#f7cf3b" d="M74.7 89.9h2.1l-0 4.5h-2.1zM74.6 115h2.1l-0 4.5h-2.1zM74.6 123.3h2.1l-0 8.7h-2.1zM77 72.5h1.4l0.2 12.5h-1.4zM77.8 75.8h1.6l0.1 4.3h-1.6zM77.9 83.9h1.6l0.1 4.3h-1.6zM78.5 69h1.1l0 8.7h-1.1zM79.3 55.8h1.6l0 4.3h-1.6zM79.3 63.8h1.6l0 4.3h-1.6zM80.8 64.1h2.2l0.1 8.5h-2.2zM84 48.1h2.1l-0.1 8.6h-2.1zM85.2 56h1.8l0 8.5h-1.8zM85.2 68.3h1.8l0 4.4h-1.8zM87 43.9h1.4l0 16.4h-1.4zM87.7 55.8h1.3l-0 4.4h-1.3zM87.7 63.9h1.3l-0.1 8.4h-1.3zM88.6 56h1.3l-0.3 16.8h-1.3zM75 31.1h1.1l-0.2 9.2h-1.1zM76.3 29.3h1.2l0 9.6h-1.2zM78 29.9h1.1l0.3 5.3h-1.1zM78.5 28.7h2.1l0.2 4.5h-2.1zM80 28.9h1.9l-0.3 4.6h-1.9zM81.7 24.8h1l-0 4.9h-1zM84 23h1.7l-0.3 5h-1.7zM86.6 24.4h1.7l0 4.4h-1.7zM87.8 23.1h1.7l0.3 5.2h-1.7zM89 24.6h1.2l0.2 4.8h-1.2zM82.2 22.1H83.9V27.2H82.2z"/><path fill="#f5c140" d="M77.1 84.7h1.4l0.4 28.8h-1.4zM77.7 125.4h1.4l0.1 4.4h-1.4zM77.8 79.8h1.6l0.1 4.3h-1.6zM77.9 87.9h1.6l0.3 20.5h-1.6zM78.2 112.1h1.6l0.1 8.4h-1.6zM78.6 77.3h1.1l0.2 33.7h-1.1zM79.3 67.8h1.6l0 8.3h-1.6zM79.4 79.8h1.6l0 4.3h-1.6zM80.9 72.4h2.2l0.1 12.7h-2.2zM82.5 43.5h2.2l-0 17h-2.2zM84 56.4h2.1l-0.1 12.7h-2.1zM85.2 72.4h1.8l0 20.9h-1.8zM85.2 97.1h1.8l0 4.4h-1.8zM85.2 113.5h1.8l0 4.4h-1.8zM87 60h1.4l0 16.4h-1.4zM87.6 72h1.3l-0.2 24.7h-1.3zM87.4 108.6h1.3l-0.1 8.4h-1.3zM87.3 120.8h1.3l-0 4.4h-1.3zM87.2 128.9h1.3l-0 4.4h-1.3zM88.4 72.6h1.3l-0.3 16.8h-1.3zM88 93.2h1.3l-0.1 4.4h-1.3zM87.8 109.8h1.3l-0.1 8.6h-1.3zM90.6 43.6h1.4l0 4.5h-1.4zM91.7 43.6h1.5l0.1 17h-1.5zM76.3 38.6h1.2l0 4.9h-1.2zM78.3 34.9h1.1l0.3 5.3h-1.1zM78.7 32.9h2.1l0.2 4.5h-2.1zM79.7 33.1h1.9l-0.3 4.6h-1.9zM82.9 29.6h1.4l0.1 4.8h-1.4zM85.6 24.6h1.5l0.3 4.9h-1.5zM89.5 24.6h1.2l-0.3 4.7h-1.2zM95.3 24.7h2l-0.2 4.5h-2zM82.2 25.5H83.9V30.7H82.2zM90.2 22.1H91.9V27.1H90.2z"/><path fill="#f3b640" d="M77.6 113.2h1.4l0.2 12.5h-1.4zM78.2 108.1h1.6l0.1 4.3h-1.6zM78.3 120.2h1.6l0.1 8.4h-1.6zM78.8 110.7h1.1l0 4.5h-1.1zM78.8 119.1h1.1l0.1 17h-1.1zM79.4 75.8h1.6l0 4.3h-1.6zM79.4 83.8h1.6l0.1 16.3h-1.6zM79.5 103.8h1.6l0 8.3h-1.6zM81 84.7h2.2l0.2 25h-2.2zM81.3 113.6h2.2l0 4.4h-2.2zM81.4 130.1h2.2l0 4.4h-2.2zM82.5 60.2h2.2l-0 12.8h-2.2zM83.9 68.8h2.1l-0.1 12.7h-2.1zM83.7 85.4h2.1l-0.1 12.7h-2.1zM83.5 110.2h2.1l-0 4.4h-2.1zM83.4 126.8h2.1l-0 4.4h-2.1zM85.2 93h1.8l0 4.4h-1.8zM85.2 101.2h1.8l0 12.6h-1.8zM85.2 117.7h1.8l0 16.8h-1.8zM86.2 43.6h0.8l-0.1 21.1h-0.8zM87.1 76h1.4l0 16.4h-1.4zM87.2 116.2h1.4l0 4.3h-1.4zM87.5 96.4h1.3l-0.1 12.5h-1.3zM87.3 116.7h1.3l-0 4.4h-1.3zM87.3 124.9h1.3l-0 4.4h-1.3zM88.1 89.1h1.3l-0.1 4.4h-1.3zM88 97.4h1.3l-0.2 12.7h-1.3zM87.6 118.1h1.3l-0.2 12.7h-1.3zM89.7 43.4h0.9l0 4.4h-0.9zM90.6 47.8h1.4l0 8.7h-1.4zM90.6 68.7h1.4l0 4.5h-1.4zM91.8 60.3h1.5l0.1 17h-1.5zM92.8 43.7h1.2l-0 4.4h-1.2zM92.7 51.8h1.2l-0.1 12.5h-1.2zM92.4 72.1h1.2l-0 4.4h-1.2zM93.7 43.9h2.3l0 4.5h-2.3zM98.4 44.2h1.3l-0.1 8.4h-1.3zM98.3 56.4h1.3l-0.1 8.4h-1.3zM101 44.3h2.2l-0.1 12.8h-2.2zM100.8 61h2.2l-0 4.5h-2.2zM100.7 73.4h2.2l-0 4.5h-2.2zM103.1 60.7h1.5l-0.1 4.4h-1.5zM78.9 37h2.1l0.2 4.5h-2.1zM81.7 29.4h1l-0 4.9h-1zM83 34.1h1.4l0.2 9.3h-1.4zM86.7 28.5h1.7l0 4.4h-1.7zM88 28h1.7l0.8 15.1h-1.7zM89.3 29.1h1.2l0.5 9.3h-1.2zM89.3 29h1.2l-0.9 13.5h-1.2zM90.7 22.1h2.2l0.1 5.2h-2.2zM92.5 24.2h1.5l0.1 4.4h-1.5zM93.8 24.6h1l0.1 4.4h-1zM94.7 24.6h1.1l0.1 4.8h-1.1zM94.9 33.1h2l-0.2 4.5h-2zM97.2 24.9h2.1l0.2 4.8h-2.1zM82.2 32.4H83.9V37.5H82.2zM82.2 28.9H83.9V34.1H82.2zM90.2 25.4H91.9V30.4H90.2zM97.5 23.8L98.1 27L99.7 26.7L99.1 23.5z"/><path fill="#f1ab40" d="M77.8 129.5h1.4l0.1 4.4h-1.4zM78.4 128.2h1.6l0.1 4.3h-1.6zM78.8 114.9h1.1l0 4.5h-1.1zM79.5 99.8h1.6l0 4.3h-1.6zM79.5 111.8h1.6l0.1 24.3h-1.6zM81.2 109.5h2.2l0 4.4h-2.2zM81.3 117.7h2.2l0.1 12.7h-2.2zM82.5 72.7h2.2l-0 17h-2.2zM83.8 81.2h2.1l-0 4.4h-2.1zM83.6 97.8h2.1l-0.1 12.7h-2.1zM83.5 114.4h2.1l-0.1 12.7h-2.1zM83.3 131h2.1l-0 4.4h-2.1zM86.1 64.4h0.8l-0.1 17h-0.8zM85.9 93.6h0.8l-0 4.5h-0.8zM87.1 92.1h1.4l0.1 24.4h-1.4zM87.2 120.2h1.4l0 12.3h-1.4zM87.5 130.5h1.3l-0.1 4.4h-1.3zM89.7 47.5h0.9l0 12.6h-0.9zM90.6 56.1h1.4l0 12.8h-1.4zM90.6 72.9h1.4l0 8.7h-1.4zM90.6 106.3h1.4l0 4.5h-1.4zM91.8 77h1.5l0.1 29.5h-1.5zM92.7 47.8h1.2l-0 4.4h-1.2zM92.5 64h1.2l-0.1 8.4h-1.2zM92.4 76.2h1.2l-0.1 8.4h-1.2zM92.2 88.4h1.2l-0 4.4h-1.2zM92.1 100.6h1.2l-0 4.4h-1.2zM92 108.7h1.2l-0 4.4h-1.2zM93.8 48.1h2.3l0.1 16.9h-2.3zM93.8 68.9h2.3l0 4.5h-2.3zM93.9 77.2h2.3l0 4.5h-2.3zM95.7 43.6h0.7l0 24.8h-0.7zM98.3 52.3h1.3l-0.1 4.4h-1.3zM98.1 64.5h1.3l-0.5 36.8h-1.3zM97.3 125.3h1.3l-0.1 4.4h-1.3zM99.5 44.5h1.9l0.3 28.8h-1.9zM100.9 56.8h2.2l-0 4.5h-2.2zM100.8 65.1h2.2l-0 4.5h-2.2zM100.7 81.8h2.2l-0.1 16.9h-2.2zM100.5 102.6h2.2l-0.2 25.3h-2.2zM100.3 131.7h2.2l-0 4.5h-2.2zM102.3 52.1h1.6l0 4.4h-1.6zM103.3 44.4h1.5l-0.2 16.7h-1.5zM103.1 64.8h1.5l-0.1 4.4h-1.5zM102.9 77.1h1.5l-0.1 4.4h-1.5zM102.7 93.5h1.5l-0.1 4.4h-1.5zM104.4 64.9h1.2l0 4.4h-1.2zM104.4 73h1.2l0 4.4h-1.2zM105.1 44.4h0.5l0 4.3h-0.5zM105.1 52.4h0.5l0 8.4h-0.5zM105.1 64.6h0.5l0 4.3h-0.5zM105.1 84.8h0.5l0 4.3h-0.5zM83.6 27.7h1.7l-0.6 9.7h-1.7zM85.9 29.2h1.5l0.3 4.9h-1.5zM86.7 32.6h1.7l0.1 8.4h-1.7zM89.7 38h1.2l0.2 4.8h-1.2zM92.5 28.3h1.5l0.1 4.4h-1.5zM92.7 36.5h1.5l0.1 4.4h-1.5zM93.9 28.7h1l0.1 4.4h-1zM94.8 29.1h1.1l0.1 4.8h-1.1zM95.1 28.9h2l-0.2 4.5h-2zM97.4 29.3h2.1l0.2 4.8h-2.1zM97.7 38.3h2.1l0.2 4.8h-2.1zM98.2 24.6h1.7l0 4.7h-1.7zM82.2 35.8H83.9V40.9H82.2zM90.2 28.6H91.9V33.6H90.2zM90.2 31.9H91.9V36.9H90.2zM98.1 27L98.7 30.2L100.3 29.8L99.7 26.7zM99 29.3L95 32.3L96 33.7L100 30.7z"/><path fill="#f0a03d" d="M82.5 89.4h2.2l-0 25.4h-2.2zM86 81.1h0.8l-0.1 12.8h-0.8zM85.9 97.7h0.8l-0 4.5h-0.8zM85.8 106.1h0.8l-0 4.5h-0.8zM85.7 122.7h0.8l-0 4.5h-0.8zM89.7 59.8h0.9l0 16.6h-0.9zM89.7 92.5h0.9l0 4.4h-0.9zM90.6 81.2h1.4l0 25.4h-1.4zM90.6 110.5h1.4l0 12.8h-1.4zM92.3 84.3h1.2l-0 4.4h-1.2zM92.2 92.4h1.2l-0.1 8.4h-1.2zM92.1 104.6h1.2l-0 4.4h-1.2zM91.9 116.8h1.2l-0.1 12.5h-1.2zM93.8 64.7h2.3l0 4.5h-2.3zM93.9 73h2.3l0 4.5h-2.3zM93.9 81.4h2.3l0 4.5h-2.3zM93.9 89.7h2.3l0 12.8h-2.3zM94 114.6h2.3l0 4.5h-2.3zM95.7 68.1h0.7l0 16.6h-0.7zM95.7 88.5h0.7l0 4.4h-0.7zM95.7 96.6h0.7l0 12.5h-0.7zM96.4 44h2.4l0 16.8h-2.4zM96.4 64.6h2.4l0 8.5h-2.4zM97.6 101h1.3l-0.3 20.6h-1.3zM97.2 129.4h1.3l-0.1 4.4h-1.3zM99.8 72.9h1.9l0.2 20.6h-1.9zM100.1 97.3h1.9l0.1 12.5h-1.9zM100.4 117.7h1.9l0.1 12.5h-1.9zM100.8 69.3h2.2l-0 4.5h-2.2zM100.7 77.6h2.2l-0 4.5h-2.2zM100.5 98.4h2.2l-0 4.5h-2.2zM100.3 127.5h2.2l-0 4.5h-2.2zM102.2 44h1.6l0.1 8.4h-1.6zM102.3 56.2h1.6l0.2 24.6h-1.6zM102.6 100.8h1.6l0 4.4h-1.6zM102.7 108.9h1.6l0 4.4h-1.6zM103 68.9h1.5l-0.1 8.5h-1.5zM102.9 81.2h1.5l-0.2 12.6h-1.5zM102.6 97.6h1.5l-0.4 33h-1.5zM104.4 44.5h1.2l0 20.6h-1.2zM104.4 68.9h1.2l0 4.4h-1.2zM104.4 77h1.2l0 4.4h-1.2zM104.4 85.2h1.2l0 32.8h-1.2zM104.4 121.8h1.2l0 4.4h-1.2zM105.1 48.4h0.5l0 4.3h-0.5zM105.1 60.5h0.5l0 4.3h-0.5zM105.1 68.6h0.5l0 16.5h-0.5zM105.1 88.8h0.5l0 8.4h-0.5zM105.1 100.9h0.5l0 24.5h-0.5zM81.7 34.1h1l-0 9.6h-1zM83 37.1h1.7l-0.3 5h-1.7zM86.2 33.8h1.5l0.6 9.5h-1.5zM92.6 32.4h1.5l0.1 4.4h-1.5zM94.1 32.8h1l0.3 8.5h-1zM94.9 33.7h1.1l0.2 9.4h-1.1zM94.8 37.3h2l-0.2 4.5h-2zM97.5 33.8h2.1l0.2 4.8h-2.1zM98.2 28.9h1.7l0 4.7h-1.7zM94.9 33.6L98.9 37.6L100.1 36.4L96.1 32.4zM98.7 37.2L99.7 42.2L101.3 41.8L100.3 36.8z"/><path fill="#f0953a" d="M82.4 114.5h2.2l-0 21.2h-2.2zM85.9 101.9h0.8l-0 4.5h-0.8zM85.8 110.2h0.8l-0.1 12.8h-0.8zM85.7 126.9h0.8l-0.1 8.6h-0.8zM89.7 76.1h0.9l0 16.6h-0.9zM89.7 96.6h0.9l0 16.6h-0.9zM92 112.8h1.2l-0 4.4h-1.2zM93.9 85.5h2.3l0 4.5h-2.3zM94 102.2h2.3l0 12.8h-2.3zM94 118.8h2.3l0 8.6h-2.3zM95.7 84.4h0.7l0 4.4h-0.7zM95.7 92.5h0.7l0 4.4h-0.7zM95.7 108.9h0.7l0 16.6h-0.7zM96.4 60.5h2.4l0 4.4h-2.4zM96.4 72.8h2.4l0 25h-2.4zM96.4 105.8h2.4l0 12.6h-2.4zM96.4 122.2h2.4l0 4.4h-2.4zM97.3 121.3h1.3l-0.1 4.4h-1.3zM100.1 93.3h1.9l0 4.4h-1.9zM100.3 109.5h1.9l0.1 8.4h-1.9zM100.5 129.9h1.9l0 4.4h-1.9zM102.5 80.5h1.6l0.1 20.6h-1.6zM102.7 104.8h1.6l0 4.4h-1.6zM102.7 112.9h1.6l0.1 16.5h-1.6zM102.2 130.3h1.5l-0.1 4.4h-1.5zM104.4 81.1h1.2l0 4.4h-1.2zM104.4 117.7h1.2l0 4.4h-1.2zM104.4 125.8h1.2l0 8.4h-1.2zM105.1 96.9h0.5l0 4.3h-0.5zM105.1 125.2h0.5l0 8.4h-0.5zM90.8 27h2.2l0.4 15.1h-2.2zM98.2 33.3h1.7l0 9h-1.7z"/><path fill="#ef8638" d="M96.4 97.5h2.4l0 8.5h-2.4zM96.4 118.1h2.4l0 4.4h-2.4zM96.4 126.3h2.4l0 8.5h-2.4zM102.8 129.2h1.6l0 4.4h-1.6z"/><path fill="#2f41e7" d="M86 19.5H91.6V21.5H86zM89.6 19.5H95.1V21.5H89.6zM93.1 19.5H98.7V21.5H93.1zM86.5 21.2L90.5 23.7L91.5 22.3L87.5 19.8z"/><path fill="#fff" d="M22.8 24H25V44H22.8zM27.7 24H29.8V44H27.7zM36.8 27H38.4V44H36.8zM50.7 26H52V44H50.7zM57.5 29.5H60.7V43.4H57.5zM66 26H67.7V43H66zM21.8 45.5H25V61.6H21.8zM34 48.7H37V68H34zM31 68H35.6V75H31zM24 83H26V98H24zM24.6 98H28.1V133H24.6zM31 77H34V136H31zM42 103H44.3V136H42zM48.3 90H51.8V103H48.3zM54.8 94H56.5V106H54.8zM54.8 118H56.5V136H54.8zM69.8 105H72V116H69.8zM91.5 98H95V136H91.5zM69.8 42H70.9V58H69.8z"/></g><g transform="translate(346.70,238.00)"><path fill="#e4e4fa" d="M18.8 49h1.8l0.2 12.3h-1.8zM20 129.1h1.8l0.1 4.3h-1.8zM19.9 44.4h2l0.3 16.8h-2zM21.5 44.8h1.5l-0.1 16.7h-1.5zM21 130.8h1.5l-0 4.4h-1.5zM24.1 65.5h1.1l0 4.4h-1.1zM24.3 90.2h1.1l0.3 45.7h-1.1zM24.6 65.2h1.7l-0 4.4h-1.7zM24.4 89.6h1.7l-0 4.4h-1.7zM24.3 97.8h1.7l-0.1 8.4h-1.7zM25.9 60.6h1.9l0 8.4h-1.9zM25.9 96.9h1.9l0 4.3h-1.9zM25.9 104.9h1.9l0 8.4h-1.9zM25.9 117h1.9l0 4.3h-1.9zM25.9 125.1h1.9l0 4.3h-1.9zM27.5 44.9h0.3l-0.1 8.6h-0.3zM27.4 61.4h0.3l-0 4.4h-0.3zM27.1 90.3h0.3l-0 4.4h-0.3zM27 98.5h0.3l-0 4.4h-0.3zM26.9 106.8h0.3l-0.2 20.9h-0.3zM26.6 131.6h0.3l-0 4.4h-0.3zM27.9 44.4h2.3l0 37.7h-2.3zM27.9 86h2.3l0 16.9h-2.3zM27.9 123.5h2.3l0 4.5h-2.3zM29.4 44.5h1.1l0 4.4h-1.1zM29.5 52.6h1.1l0.1 16.7h-1.1zM29.5 73.1h1.1l0 8.5h-1.1zM29.6 97.7h1.1l0.1 20.8h-1.1zM29.7 122.3h1.1l0 8.5h-1.1zM30.3 48.9h0.5l-0.1 8.5h-0.5zM30.2 61.3h0.5l-0.1 4.4h-0.5zM30 73.6h0.5l-0.2 16.8h-0.5zM29.7 94.2h0.5l-0.2 12.7h-0.5zM29.5 114.8h0.5l-0.1 4.4h-0.5zM29.4 123.1h0.5l-0.2 12.7h-0.5zM33.8 44.9h2.2l0 8.6h-2.2zM33.9 57.3h2.2l0 8.6h-2.2zM33.9 78h2.2l0.1 25.1h-2.2zM34 106.9h2.2l0 8.6h-2.2zM34 119.3h2.2l0 8.6h-2.2zM35.5 44.8h1.5l-0 4.4h-1.5zM35.4 53h1.5l-0.1 12.5h-1.5zM35.2 77.4h1.5l-0.1 20.7h-1.5zM35.1 101.8h1.5l-0.2 24.7h-1.5zM36.3 44.5h1.3l-0.1 12.6h-1.3zM35.9 77.4h1.3l-0.1 8.5h-1.3zM35.8 89.7h1.3l-0.1 12.6h-1.3zM35.5 110.3h1.3l-0.2 16.7h-1.3zM37.4 52.9h2l0 8.5h-2zM37.4 65.1h2l0 4.4h-2zM37.5 73.3h2l0.1 20.7h-2zM37.6 97.7h2l0.2 37h-2zM38.6 48.7h1.9l-0.1 8.3h-1.9zM38.4 60.7h1.9l-0.1 8.3h-1.9zM38.2 76.7h1.9l-0 4.3h-1.9zM38 92.7h1.9l-0 4.3h-1.9zM37.9 100.7h1.9l-0 4.3h-1.9zM40 61.3h1.6l-0.1 16.8h-1.6zM39.9 81.9h1.6l-0.1 12.7h-1.6zM39.8 98.4h1.6l-0 4.4h-1.6zM39.7 106.7h1.6l-0.1 12.7h-1.6zM39.6 123.2h1.6l-0.1 12.7h-1.6zM41.3 44.6h0.5l-0.1 4.4h-0.5zM41.2 52.8h0.5l-0.4 24.8h-0.5zM40.8 81.4h0.5l-0.2 16.6h-0.5zM40.4 105.9h0.5l-0.2 16.6h-0.5zM40.1 126.3h0.5l-0.1 8.5h-0.5zM44.1 44.6h2.2l0.2 25.1h-2.2zM44.3 73.5h2.2l0.2 37.5h-2.2zM44.5 114.9h2.2l0.1 16.8h-2.2zM46.1 48.6h0.8l0 12.7h-0.8zM46.1 69.3h0.8l0 12.7h-0.8zM46.1 94.1h0.8l0 4.4h-0.8zM46.1 106.6h0.8l0 4.4h-0.8zM46.1 114.8h0.8l0 12.7h-0.8zM46.1 131.4h0.8l0 4.4h-0.8zM46.6 44.5h0.3l-0.3 32.8h-0.3zM46.2 81.1h0.3l-0.5 53.2h-0.3zM46.9 48.5h1.9l0 8.5h-1.9zM46.9 65h1.9l0 4.4h-1.9zM46.9 77.4h1.9l0 4.4h-1.9zM46.9 85.6h1.9l0 4.4h-1.9zM46.9 114.5h1.9l0 4.4h-1.9zM48.3 44.6h1.3l0.2 16.5h-1.3zM48.6 64.9h1.3l0.1 4.4h-1.3zM48.7 73h1.3l0.2 16.5h-1.3zM49 93.2h1.3l0.2 16.5h-1.3zM49.3 113.5h1.3l0.1 4.4h-1.3zM49.4 121.6h1.3l0.2 12.5h-1.3zM49.3 44.4h1.7l-0.1 8.4h-1.7zM49 64.7h1.7l-0.3 24.6h-1.7zM48.6 93.1h1.7l-0.1 4.4h-1.7zM48.4 113.3h1.7l-0.2 16.5h-1.7zM50.8 44.6h1.6l-0.2 12.5h-1.6zM50.5 60.8h1.6l-0.4 28.7h-1.6zM50 93.3h1.6l-0.3 20.6h-1.6zM49.6 121.8h1.6l-0.2 12.5h-1.6zM51.8 48.8h1.3l-0.2 65h-1.3zM51.5 117.5h1.3l-0.1 16.5h-1.3zM53.7 44.5h1.1l-0.3 28.4h-1.1zM53.3 76.6h1.1l-0.1 12.3h-1.1zM53.2 92.7h1.1l-0.1 8.3h-1.1zM53 104.7h1.1l-0.1 8.3h-1.1zM52.9 120.8h1.1l-0.1 12.3h-1.1zM54.6 47.5h2.2l0.1 12.3h-2.2zM54.7 67.6h2.2l0.2 20.4h-2.2zM54.9 91.6h2.2l0.3 32.4h-2.2zM56.5 43.8h1.2l0.1 20.9h-1.2zM56.6 68.6h1.2l0.1 12.7h-1.2zM56.7 89.2h1.2l0.2 45.7h-1.2zM57.4 43.9h2.3l0.1 4.4h-2.3zM58 72.8h2.3l0.5 29.2h-2.3zM58.6 105.8h2.3l0.2 8.6h-2.3zM58.8 118.2h2.3l0.1 4.4h-2.3zM59.4 43.4h1.1l-0.1 4.5h-1.1zM59.1 56h1.1l-0.3 17.1h-1.1zM58.5 85.4h1.1l-0.3 12.9h-1.1zM58.2 102.2h1.1l-0.2 8.7h-1.1zM60.3 43.9h2.3l0 4.5h-2.3zM60.3 52.2h2.3l0 4.5h-2.3zM60.4 60.6h2.3l0 4.5h-2.3zM60.5 73.1h2.3l0 4.5h-2.3zM60.5 81.5h2.3l0.1 17h-2.3zM60.6 102.4h2.3l0 4.5h-2.3zM60.7 110.7h2.3l0.1 8.7h-2.3zM60.8 123.2h2.3l0.1 12.8h-2.3zM62.5 97.3h1.4l0.3 37.4h-1.4zM63.1 96.5h2.2l0 8.4h-2.2zM63.1 108.6h2.2l0 24.6h-2.2zM65.5 72.1h2.1l0 12.4h-2.1zM65.5 88.2h2.1l0 28.5h-2.1zM65.5 120.4h2.1l0 12.4h-2.1zM67 77h2.1l0.1 8.6h-2.1zM67.1 89.4h2.1l0.3 25.2h-2.1zM67.4 118.4h2.1l0.1 8.6h-2.1zM67.5 130.8h2.1l0 4.4h-2.1zM67.8 77.3h1.4l-0.6 42.1h-1.4zM67.2 123.2h1.4l-0.1 8.7h-1.4zM69.3 43.9h0.4l0 88h-0.4zM71.8 106.1h1.1l0 4.4h-1.1zM72.3 43.5h1.2l0 4.5h-1.2zM72.4 51.8h1.2l0 4.5h-1.2zM72.5 60.2h1.2l0.4 42h-1.2zM72.9 106h1.2l0.1 12.8h-1.2zM73.1 122.7h1.2l0.1 8.6h-1.2zM73.9 51.8h1.2l0.3 21.1h-1.2zM74.3 76.8h1.2l0.1 8.6h-1.2zM74.4 89.3h1.2l0.3 25.3h-1.2zM74.9 126.8h1.2l0.1 8.6h-1.2zM77.3 121.3h1.4l0.1 4.4h-1.4zM77.1 47.6h1.6l1 76.9h-1.6zM78.1 128.2h1.6l0.1 4.3h-1.6zM78 43.9h1.1l0 4.5h-1.1zM78.1 52.3h1.1l0.2 37.9h-1.1zM78.3 94h1.1l0.2 42.1h-1.1zM78.9 47.8h1.6l0 4.3h-1.6zM79 75.8h1.6l0 4.3h-1.6zM79 83.8h1.6l0 4.3h-1.6zM79.1 95.8h1.6l0 4.3h-1.6zM79.1 111.8h1.6l0 4.3h-1.6zM79.2 119.8h1.6l0 4.3h-1.6zM79.2 127.8h1.6l0 8.3h-1.6zM80.7 93h2.2l0.2 16.8h-2.2zM82.1 102h2.2l-0 4.5h-2.2zM83.3 89.5h2.1l-0 4.4h-2.1zM83.2 97.8h2.1l-0.1 8.6h-2.1zM82.9 131h2.1l-0 4.4h-2.1zM84.9 43.6h1.8l0 20.9h-1.8zM84.9 68.3h1.8l0 16.8h-1.8zM84.9 88.9h1.8l0 37.3h-1.8zM84.9 130h1.8l0 4.4h-1.8zM85.5 101.9h0.8l-0 4.5h-0.8zM88.4 43.6h1.3l-0.1 4.4h-1.3zM88.3 51.9h1.3l-0.1 8.6h-1.3zM88.1 64.3h1.3l-0.5 29.2h-1.3zM87.6 97.4h1.3l-0.1 4.4h-1.3zM87.4 105.7h1.3l-0.1 4.4h-1.3zM87.3 113.9h1.3l-0.3 21h-1.3zM89.3 43.4h0.9l0 12.6h-0.9zM89.3 59.8h0.9l0 8.5h-0.9zM90.2 43.6h1.4l0 4.5h-1.4zM90.2 52h1.4l0 4.5h-1.4zM90.2 60.3h1.4l0 29.6h-1.4zM90.2 93.8h1.4l0 4.5h-1.4zM90.2 102.1h1.4l0 4.5h-1.4zM90.2 110.5h1.4l0 4.5h-1.4zM90.2 118.9h1.4l0 4.5h-1.4zM93.4 73h2.3l0.1 25.3h-2.3zM93.5 102.2h2.3l0 8.6h-2.3zM93.6 114.6h2.3l0 12.8h-2.3zM95.2 59.9h0.7l0 4.4h-0.7zM95.2 72.1h0.7l0 4.4h-0.7zM95.2 84.4h0.7l0 12.5h-0.7zM95.2 108.9h0.7l0 4.4h-0.7zM95.2 117h0.7l0 4.4h-0.7zM97.6 72.6h1.3l-0.1 8.4h-1.3zM97.1 105h1.3l-0.1 4.4h-1.3zM101.8 44h1.6l0.1 8.4h-1.6zM101.9 68.4h1.6l0.4 65.2h-1.6zM20.4 30.3h1.1l0.1 4.5h-1.1zM20.7 38.7h1.1l0.1 4.5h-1.1zM21 21.5h0.9l0 13.2h-0.9zM21 38.7h0.9l0 4.6h-0.9zM25.6 30.2h1.3l0 9.9h-1.3zM38.2 26.3h1.2l0.1 9h-1.2zM39.8 30.1h0.7l-0.7 12.3h-0.7zM40.8 23.7h2.3l0 9.4h-2.3zM42.4 18.8h2l0.1 5.1h-2zM42.7 33.2h2l0.1 9.9h-2zM44 18.8h0.8l-1.3 25.8h-0.8zM51.8 25h1.2l0 9.9h-1.2zM51.8 39.4h1.2l0 5.1h-1.2zM52.7 25.6h1.6l-0.9 17.6h-1.6zM53.8 25.6h0.4l-0.5 16.9h-0.4zM68.9 19.4h1.8l0.8 22h-1.8zM72.2 22.5h1.5l1.1 19.8h-1.5zM73.3 22.2h2.4l-0.2 4.5h-2.4zM72.8 30.6h2.4l-0.7 12.8h-2.4zM76.9 20h1.1l0.3 5.3h-1.1zM77.6 29.9h1.1l0.7 10.3h-1.1zM77.7 20.4h2.1l1 21.1h-2.1zM80.1 20.4h1.8l-1 17.3h-1.8zM81.3 20.2h1l-0 18.8h-1zM86.1 38.4h1.5l0.3 4.9h-1.5zM89.3 38h1.2l0.2 4.8h-1.2zM94.6 38.2h1.1l0.1 4.8h-1.1z"/><path fill="#f8dc20" d="M19 61h1.8l0.1 8.3h-1.8zM19.2 73h1.8l0.1 4.3h-1.8zM19.3 85h1.8l0.1 4.3h-1.8zM19.5 93h1.8l0.1 4.3h-1.8zM19.6 101.1h1.8l0.2 12.3h-1.8zM19.9 117.1h1.8l0.1 8.3h-1.8zM20.1 61h2l0.1 8.6h-2zM20.5 81.7h2l0.2 12.7h-2zM20.8 102.3h2l0.1 4.4h-2zM20.9 110.6h2l0.1 4.4h-2zM21 118.9h2l0.2 12.7h-2zM21.4 69.4h1.5l-0 8.5h-1.5zM21.3 81.6h1.5l-0 4.4h-1.5zM21.2 89.8h1.5l-0.1 12.6h-1.5zM21.1 110.3h1.5l-0 8.5h-1.5zM21 126.7h1.5l-0 4.4h-1.5zM22.4 61.3h1l0 4.4h-1zM22.4 86h1l0 4.4h-1zM22.4 94.2h1l0 8.5h-1zM22.4 106.5h1l0 4.4h-1zM22.4 118.8h1l0 4.4h-1zM22.4 127h1l0 4.4h-1zM22.6 69.8h0.3l-0.5 25.5h-0.3zM22.1 99.2h0.3l-0.2 12.9h-0.3zM21.8 116h0.3l-0.2 8.7h-0.3zM24.2 82h1.1l0.1 8.6h-1.1zM24.8 49h1.7l-0 4.4h-1.7zM25.9 68.7h1.9l0 8.4h-1.9zM25.9 80.8h1.9l0 4.3h-1.9zM25.9 88.8h1.9l0 4.3h-1.9zM27.4 57.3h0.3l-0 4.4h-0.3zM27.3 69.6h0.3l-0.2 16.8h-0.3zM35.3 65.2h1.5l-0.1 12.5h-1.5zM34.9 126.3h1.5l-0 4.4h-1.5zM36 69.1h1.3l-0.1 8.5h-1.3zM35.3 126.7h1.3l-0 4.4h-1.3zM57.8 64.6h2.3l0.1 4.4h-2.3zM64.7 43.5h1.2l-0 4.3h-1.2zM64.5 67.6h1.2l-0 4.3h-1.2zM65.4 48h2.1l0 8.4h-2.1zM65.5 64.1h2.1l0 4.3h-2.1zM66.6 43.8h2.1l0 4.4h-2.1zM68.2 52.2h1.4l-0.1 8.7h-1.4zM68 64.7h1.4l-0.1 4.5h-1.4zM71.7 64.6h1.1l0 8.6h-1.1zM71.8 85.4h1.1l0 12.7h-1.1zM71.8 114.4h1.1l0 4.4h-1.1zM71.8 126.9h1.1l0 8.6h-1.1zM74.6 56.5h2.1l-0 8.7h-2.1zM74.5 69h2.1l-0 4.5h-2.1zM74.5 77.4h2.1l-0 4.5h-2.1zM74.4 85.7h2.1l-0 8.7h-2.1zM74.4 98.3h2.1l-0 8.7h-2.1zM76.2 44h1.4l0.1 8.4h-1.4zM76.4 56.2h1.4l0.1 8.4h-1.4zM76.6 68.4h1.4l0.1 8.4h-1.4zM76.8 84.7h1.4l0.1 8.4h-1.4zM80.5 68.2h2.2l0.1 12.7h-2.2zM82.1 43.5h2.2l-0 4.5h-2.2zM82.1 51.8h2.2l-0 12.8h-2.2zM82.1 81.1h2.2l-0 8.7h-2.2zM85.8 51.9h0.8l-0 4.5h-0.8zM86.7 68h1.4l0 8.3h-1.4zM86.7 88.1h1.4l0 4.3h-1.4zM86.7 96.1h1.4l0 4.3h-1.4zM86.8 108.1h1.4l0 4.3h-1.4zM86.8 116.2h1.4l0 4.3h-1.4zM86.8 124.2h1.4l0 4.3h-1.4zM87.3 59.8h1.3l-0 4.4h-1.3zM87.2 68h1.3l-0 4.4h-1.3zM87.2 76.1h1.3l-0 4.4h-1.3zM87.1 88.3h1.3l-0.1 8.4h-1.3zM86.9 120.8h1.3l-0 4.4h-1.3zM89.3 80.2h0.9l0 4.4h-0.9zM89.3 88.4h0.9l0 8.5h-0.9zM89.3 100.7h0.9l0 8.5h-0.9zM91.3 43.6h1.5l0 4.5h-1.5zM91.3 51.9h1.5l0 4.5h-1.5zM91.4 68.6h1.5l0 4.5h-1.5zM91.5 97.9h1.5l0 8.7h-1.5zM92.3 51.8h1.1l-0.4 32.8h-1.1zM91.7 96.5h1.1l-0 4.4h-1.1zM91.5 112.8h1.1l-0.1 8.4h-1.1zM93.3 43.9h2.3l0 4.5h-2.3zM93.4 56.4h2.3l0 4.5h-2.3zM93.4 64.7h2.3l0 8.6h-2.3zM96 44h2.3l0 16.8h-2.3zM96 64.6h2.3l0 4.4h-2.3zM96 81.1h2.3l0 25h-2.3zM96 109.9h2.3l0 25h-2.3zM99.1 48.5h1.8l0 4.4h-1.8zM99.2 60.7h1.8l0.3 24.7h-1.8zM99.6 93.3h1.8l0.1 12.5h-1.8zM99.8 109.5h1.8l0.2 20.6h-1.8zM100.5 44.3h2.2l-0 4.5h-2.2zM100.4 52.7h2.2l-0.1 8.6h-2.2zM100.3 73.4h2.2l-0.1 12.8h-2.2zM100.1 90.1h2.2l-0.1 12.8h-2.2zM100 106.7h2.2l-0 4.5h-2.2zM99.9 115h2.2l-0.2 21.1h-2.2zM102.8 44.4h1.5l-0.2 12.6h-1.5zM102.6 60.7h1.5l-0.4 28.9h-1.5zM102.2 93.5h1.5l-0.2 16.7h-1.5zM102 113.9h1.5l-0.1 8.5h-1.5zM101.8 126.2h1.5l-0.1 8.5h-1.5zM103.9 44.5h1.2l0 12.5h-1.2zM103.9 73h1.2l0 8.4h-1.2zM103.9 89.2h1.2l0 16.6h-1.2zM103.9 121.8h1.2l0 4.4h-1.2zM103.9 129.9h1.2l0 4.4h-1.2zM104.6 44.4h0.5l0 20.5h-0.5zM104.6 72.6h0.5l0 8.4h-0.5zM104.6 84.8h0.5l0 8.4h-0.5zM104.6 96.9h0.5l0 4.3h-0.5zM104.6 105h0.5l0 16.5h-0.5zM104.6 125.2h0.5l0 8.4h-0.5zM20.1 21.8h1.1l0.3 8.7h-1.1zM67.4 19.5h1.7l0 5.2h-1.7zM70.3 19.6h1.9l0 9.3h-1.9zM88.3 37.8h1.1l-0.3 4.7h-1.1zM25.6 21.4H27.1V26.9H25.6zM65.9 26.6H67.4V31.4H65.9zM65.9 29.9H67.4V34.8H65.9zM65.9 33.2H67.4V38.1H65.9z"/><path fill="#fcf020" d="M19.1 69h1.8l0.1 4.3h-1.8zM19.2 77h1.8l0.1 8.3h-1.8zM19.5 97h1.8l0.1 4.3h-1.8zM19.8 113.1h1.8l0.1 4.3h-1.8zM20.3 69.2h2l0.1 8.6h-2zM20.7 94.1h2l0.1 8.6h-2zM22.4 65.5h1l0 12.6h-1zM22.4 90.1h1l0 4.4h-1zM22.4 102.4h1l0 4.4h-1zM22.4 110.6h1l0 4.4h-1zM22.4 122.9h1l0 4.4h-1zM24.2 69.6h1.1l0.1 8.6h-1.1zM24.6 69.3h1.7l-0.1 16.6h-1.7zM27.3 65.5h0.3l-0 4.4h-0.3zM27.1 86.2h0.3l-0 4.4h-0.3zM27.9 102.7h2.3l0 4.5h-2.3zM33.9 65.6h2.2l0 4.4h-2.2zM34 127.6h2.2l0 8.6h-2.2zM34.9 130.3h1.5l-0 4.4h-1.5zM35.3 130.8h1.3l-0 4.4h-1.3zM37.3 48.8h2l0 4.4h-2zM37.4 61h2l0 4.4h-2zM37.6 93.6h2l0 4.4h-2zM46.1 44.5h0.8l0 4.4h-0.8zM46.1 85.9h0.8l0 4.4h-0.8zM46.1 98.3h0.8l0 4.4h-0.8zM46.9 122.7h1.9l0 4.4h-1.9zM49.2 109.4h1.3l0.1 4.4h-1.3zM49.1 60.6h1.7l-0.1 4.4h-1.7zM48.5 101.2h1.7l-0.1 4.4h-1.7zM50.6 56.8h1.6l-0.1 4.4h-1.6zM49.7 117.7h1.6l-0.1 4.4h-1.6zM53.1 100.7h1.1l-0 4.3h-1.1zM53 112.7h1.1l-0 4.3h-1.1zM54.7 63.6h2.2l0 4.3h-2.2zM55.3 131.7h2.2l0 4.3h-2.2zM57.5 48h2.3l0.3 16.8h-2.3zM59.2 51.8h1.1l-0.1 4.5h-1.1zM60.3 48.1h2.3l0 4.5h-2.3zM64.7 51.5h1.2l-0 4.3h-1.2zM64.6 63.5h1.2l-0 4.3h-1.2zM65.5 84.2h2.1l0 4.3h-2.1zM65.5 116.4h2.1l0 4.3h-2.1zM66.7 48h2.1l0 4.4h-2.1zM66.8 64.5h2.1l0.1 12.7h-2.1zM67.2 119h1.4l-0.1 4.5h-1.4zM71.7 72.9h1.1l0 8.6h-1.1zM71.8 122.7h1.1l0 4.4h-1.1zM72.9 101.9h1.2l0 4.5h-1.2zM73.1 118.6h1.2l0 4.5h-1.2zM74.4 85.2h1.2l0.1 4.5h-1.2zM74.6 52.3h2.1l-0 4.5h-2.1zM74.5 64.8h2.1l-0 4.5h-2.1zM74.5 73.2h2.1l-0 4.5h-2.1zM74.4 81.5h2.1l-0 4.5h-2.1zM74.4 94.1h2.1l-0 4.5h-2.1zM76.7 80.6h1.4l0.1 4.4h-1.4zM77 96.9h1.4l0.1 4.4h-1.4zM78 124.2h1.6l0.1 4.3h-1.6zM78.9 43.8h1.6l0 4.3h-1.6zM79.2 115.8h1.6l0 4.3h-1.6zM79.2 123.8h1.6l0 4.3h-1.6zM80.6 80.6h2.2l0 4.4h-2.2zM82.1 76.9h2.2l-0 4.5h-2.2zM82.1 89.4h2.2l-0 4.5h-2.2zM83.3 93.7h2.1l-0 4.4h-2.1zM86.7 80.1h1.4l0 4.3h-1.4zM86.8 128.2h1.4l0 4.3h-1.4zM87 108.6h1.3l-0 4.4h-1.3zM87.6 93.2h1.3l-0.1 4.4h-1.3zM89.3 72.1h0.9l0 4.4h-0.9zM89.3 84.3h0.9l0 4.4h-0.9zM89.3 96.6h0.9l0 4.4h-0.9zM91.3 47.7h1.5l0 4.5h-1.5zM91.3 56.1h1.5l0 12.8h-1.5zM91.4 77h1.5l0.1 21.2h-1.5zM95.2 51.7h0.7l0 4.4h-0.7zM95.2 104.8h0.7l0 4.4h-0.7zM96 68.7h2.3l0 4.4h-2.3zM96 76.9h2.3l0 4.4h-2.3zM99.2 56.7h1.8l0 4.4h-1.8zM99.8 105.5h1.8l0 4.4h-1.8zM100.5 48.5h2.2l-0 4.5h-2.2zM100.3 65.1h2.2l-0.1 8.6h-2.2zM100 102.6h2.2l-0 4.5h-2.2zM100 110.9h2.2l-0 4.5h-2.2zM102 109.8h1.5l-0.1 4.4h-1.5zM103.9 56.7h1.2l0 8.4h-1.2zM103.9 68.9h1.2l0 4.4h-1.2zM103.9 85.2h1.2l0 4.4h-1.2zM103.9 109.6h1.2l0 4.4h-1.2zM103.9 117.7h1.2l0 4.4h-1.2zM103.9 125.8h1.2l0 4.4h-1.2zM104.6 68.6h0.5l0 4.3h-0.5zM104.6 80.7h0.5l0 4.3h-0.5zM104.6 92.8h0.5l0 4.3h-0.5zM104.6 121.1h0.5l0 4.3h-0.5zM42.5 23.6h2l0.1 5.1h-2zM73.1 26.4h2.4l-0.2 4.5h-2.4zM19.8 27.7H21.3V32.3H19.8zM19.8 21.4H21.3V26.1H19.8zM61.6 40.7L61.8 37.4L60.3 37.3L60.1 40.6zM65.9 23.2H67.4V28.1H65.9zM81.8 25.5H83.5V30.7H81.8z"/><path fill="#f5c030" d="M20 125.1h1.8l0.1 4.3h-1.8zM21.4 61.2h1.5l-0 8.5h-1.5zM21.3 77.5h1.5l-0 4.4h-1.5zM21.3 85.7h1.5l-0 4.4h-1.5zM21.2 102.1h1.5l-0 8.5h-1.5zM21.1 118.5h1.5l-0 8.5h-1.5zM22.8 61.5h0.3l-0.2 8.7h-0.3zM22.2 95h0.3l-0.1 4.5h-0.3zM24.7 53.1h1.7l-0 4.4h-1.7zM36.1 65h1.3l-0 4.4h-1.3zM65.4 43.9h2.1l0 4.3h-2.1zM65.4 56h2.1l0 4.3h-2.1zM65.5 68.1h2.1l0 4.3h-2.1zM66.8 56.3h2.1l0.1 8.6h-2.1zM67.9 68.9h1.4l-0.1 4.5h-1.4zM71.7 48h1.1l0 4.4h-1.1zM71.7 60.5h1.1l0 4.4h-1.1zM71.7 81.2h1.1l0 4.4h-1.1zM71.8 97.8h1.1l0 8.6h-1.1zM76.3 52.1h1.4l0.1 4.4h-1.4zM76.5 64.3h1.4l0.1 4.4h-1.4zM76.9 92.8h1.4l0.1 4.4h-1.4zM80.3 55.9h2.2l0.1 8.5h-2.2zM80.7 88.9h2.2l0 4.4h-2.2zM82.1 68.5h2.2l-0 8.7h-2.2zM83.6 60.5h2.1l-0 4.4h-2.1zM83.4 77.1h2.1l-0 4.4h-2.1zM83.3 85.4h2.1l-0 4.4h-2.1zM85.7 60.2h0.8l-0 4.5h-0.8zM86.6 52h1.4l0 4.3h-1.4zM86.7 76h1.4l0 4.3h-1.4zM86.7 84.1h1.4l0 4.3h-1.4zM86.7 92.1h1.4l0 4.3h-1.4zM86.8 100.1h1.4l0 8.3h-1.4zM86.8 112.2h1.4l0 4.3h-1.4zM86.8 120.2h1.4l0 4.3h-1.4zM87.4 43.6h1.3l-0 4.4h-1.3zM87.2 72h1.3l-0 4.4h-1.3zM87.2 80.2h1.3l-0 4.4h-1.3zM87.1 96.4h1.3l-0.1 12.5h-1.3zM87 112.7h1.3l-0.1 8.4h-1.3zM86.9 124.9h1.3l-0.1 8.4h-1.3zM89.3 68h0.9l0 4.4h-0.9zM89.3 76.1h0.9l0 4.4h-0.9zM89.3 108.8h0.9l0 4.4h-0.9zM92.4 43.7h1.1l-0.1 8.4h-1.1zM91.8 88.4h1.1l-0 4.4h-1.1zM91.6 108.7h1.1l-0 4.4h-1.1zM93.3 48.1h2.3l0 8.6h-2.3zM93.4 60.6h2.3l0 4.5h-2.3zM99 44.5h1.8l0 4.4h-1.8zM102.7 56.7h1.5l-0.1 4.4h-1.5zM104.6 64.6h0.5l0 4.3h-0.5zM70.3 33.1h1.9l0 9.3h-1.9zM81.3 38.7h1l-0 4.9h-1zM65.9 39.9H67.4V44.8H65.9z"/><path fill="#8888ee" d="M22.4 44.9h1l0 4.4h-1zM22.4 53.1h1l0 4.4h-1zM24 49h1.1l0 4.4h-1.1zM24.1 57.2h1.1l0.1 8.6h-1.1zM62.3 68.5h1.4l0 4.4h-1.4zM63.1 47.9h2.2l0 4.3h-2.2zM63.1 56h2.2l0 4.3h-2.2zM63.1 76.2h2.2l0 4.3h-2.2zM63.1 92.4h2.2l0 4.3h-2.2zM68.2 48h1.4l-0.1 4.5h-1.4zM74.3 119.2h2.1l-0.1 12.8h-2.1zM79 67.8h1.6l0 4.3h-1.6zM80.8 109.5h2.2l0 4.4h-2.2zM80.9 117.7h2.2l0.1 12.7h-2.2zM82.1 106.1h2.2l-0 4.5h-2.2zM82.1 114.5h2.2l-0 4.5h-2.2zM83.1 110.2h2.1l-0.1 12.7h-2.1zM83 126.8h2.1l-0 4.4h-2.1zM85.4 110.2h0.8l-0 4.5h-0.8zM67.4 29.2h1.7l0 5.2h-1.7zM76 34h1.2l0 4.9h-1.2zM85.2 24.6h1.5l0.3 4.9h-1.5zM85.8 33.8h1.5l0.3 4.9h-1.5zM86.2 24.4h1.7l0 4.4h-1.7zM86.3 32.6h1.7l0 4.4h-1.7z"/><path fill="#9c9cf0" d="M22.4 57.2h1l0 4.4h-1zM23 48.9h0.3l-0.2 8.7h-0.3zM24 44.8h1.1l0 4.4h-1.1zM24.1 53.1h1.1l0 4.4h-1.1zM24.7 61.2h1.7l-0 4.4h-1.7zM64.5 71.6h1.2l-0.1 8.3h-1.2zM64.3 99.7h1.2l-0.1 8.3h-1.2zM64.1 115.7h1.2l-0.1 8.3h-1.2zM68.3 43.8h1.4l-0.1 4.5h-1.4zM74.3 106.6h2.1l-0 8.7h-2.1zM82.1 118.7h2.2l-0 8.7h-2.2zM83.2 106.1h2.1l-0 4.4h-2.1zM83 122.7h2.1l-0 4.4h-2.1zM85.4 106.1h0.8l-0 4.5h-0.8zM85.4 114.4h0.8l-0.1 8.6h-0.8zM85.3 126.9h0.8l-0 4.5h-0.8zM67.4 34h1.7l0 5.2h-1.7zM76 20.1h1.2l0 14.2h-1.2zM82.7 38.6h1.4l0.1 4.8h-1.4zM85.5 29.2h1.5l0.3 4.9h-1.5zM86.2 20.4h1.7l0 4.4h-1.7zM34.6 24.1H36.1V28.8H34.6zM34.6 27.2H36.1V31.9H34.6zM34.6 30.4H36.1V35.1H34.6zM34.6 33.6H36.1V38.4H34.6zM34.6 36.9H36.1V41.5H34.6zM34.6 40H36.1V44.8H34.6z"/><path fill="#d0d0f8" d="M22.4 131.1h1l0 4.4h-1zM30.4 44.8h0.5l-0.1 4.4h-0.5zM30.2 57.1h0.5l-0.1 4.4h-0.5zM30.1 65.4h0.5l-0.1 8.5h-0.5zM29.6 106.6h0.5l-0.1 4.4h-0.5zM29.4 118.9h0.5l-0.1 4.4h-0.5zM34 115.2h2.2l0 4.4h-2.2zM38.3 68.7h1.9l-0.1 8.3h-1.9zM38.2 80.7h1.9l-0.1 12.3h-1.9zM37.9 104.7h1.9l-0 4.3h-1.9zM44.6 131.4h2.2l0 4.4h-2.2zM58.5 101.7h2.3l0.1 4.4h-2.3zM58.7 114.1h2.3l0.1 4.4h-2.3zM60.5 77.3h2.3l0 4.5h-2.3zM60.6 98.2h2.3l0 4.5h-2.3zM60.7 106.5h2.3l0 4.5h-2.3zM60.7 119.1h2.3l0 4.5h-2.3zM77 101h1.4l0.1 4.4h-1.4zM77.1 109.1h1.4l0.2 12.5h-1.4zM77.4 125.4h1.4l0.1 8.4h-1.4zM78 48.1h1.1l0 4.5h-1.1zM82.1 93.6h2.2l-0 8.7h-2.2zM82.1 131.2h2.2l-0 4.5h-2.2zM87.4 109.8h1.3l-0.1 4.4h-1.3zM90.2 47.8h1.4l0 4.5h-1.4zM90.2 56.1h1.4l0 4.5h-1.4zM90.2 89.6h1.4l0 4.5h-1.4zM90.2 98h1.4l0 4.5h-1.4zM90.2 106.3h1.4l0 4.5h-1.4zM95.2 43.6h0.7l0 8.5h-0.7zM95.2 55.8h0.7l0 4.4h-0.7zM95.2 64h0.7l0 8.5h-0.7zM95.2 76.2h0.7l0 8.5h-0.7zM95.2 100.7h0.7l0 4.4h-0.7zM95.2 113h0.7l0 4.4h-0.7zM95.2 121.1h0.7l0 4.4h-0.7zM97.9 48.3h1.3l-0.3 24.6h-1.3zM97.5 80.7h1.3l-0.1 8.4h-1.3zM97.3 92.9h1.3l-0.2 12.5h-1.3zM97.1 109.1h1.3l-0.1 4.4h-1.3zM97 117.2h1.3l-0.2 16.5h-1.3zM20.5 34.5h1.1l0.1 4.5h-1.1zM51.8 34.6h1.2l0 5.1h-1.2zM90.2 22.1h2.2l0.6 20.1h-2.2z"/><path fill="#b4b4f4" d="M23.1 44.7h0.3l-0.1 4.5h-0.3zM22.9 57.3h0.3l-0.1 4.5h-0.3zM64.4 79.6h1.2l-0 4.3h-1.2zM64.3 91.6h1.2l-0.1 8.3h-1.2zM64.2 107.7h1.2l-0 4.3h-1.2zM64.1 123.8h1.2l-0 4.3h-1.2zM64 131.8h1.2l-0 4.3h-1.2zM81 130.1h2.2l0 4.4h-2.2zM86.3 28.5h1.7l0 4.4h-1.7z"/><path fill="#f2b030" d="M24.7 57.1h1.7l-0 4.4h-1.7zM25.9 48.5h1.9l0 4.3h-1.9zM25.9 56.6h1.9l0 4.3h-1.9zM27.9 111h2.3l0 4.5h-2.3zM65.5 60h2.1l0 4.3h-2.1zM71.7 43.9h1.1l0 4.4h-1.1zM71.7 56.3h1.1l0 4.4h-1.1zM80.2 43.5h2.2l0 4.4h-2.2zM80.4 64.1h2.2l0 4.4h-2.2zM80.6 84.7h2.2l0 4.4h-2.2zM82.1 64.4h2.2l-0 4.5h-2.2zM83.7 43.9h2.1l-0 4.4h-2.1zM83.6 52.2h2.1l-0 4.4h-2.1zM83.5 68.8h2.1l-0.1 8.6h-2.1zM85.8 47.7h0.8l-0 4.5h-0.8zM85.7 68.6h0.8l-0.1 8.6h-0.8zM86.6 47.9h1.4l0 4.3h-1.4zM86.6 56h1.4l0 4.3h-1.4zM91.4 120.9h1.1l-0 4.4h-1.1zM67.4 24.3h1.7l0 5.2h-1.7zM88.2 37.9h1.7l0.3 5.2h-1.7z"/><path fill="#f09a30" d="M25.9 52.5h1.9l0 4.3h-1.9zM27.9 106.8h2.3l0 4.5h-2.3zM83.4 81.2h2.1l-0 4.4h-2.1zM85.8 43.6h0.8l-0 4.5h-0.8zM85.8 56.1h0.8l-0 4.5h-0.8zM85.6 81.1h0.8l-0.1 8.6h-0.8zM86.6 60h1.4l0 8.3h-1.4zM87.4 47.6h1.3l-0.1 8.4h-1.3zM87.3 63.9h1.3l-0 4.4h-1.3z"/><path fill="#7070ec" d="M62.1 43.7h1.4l0.1 8.5h-1.4zM62.2 60.2h1.4l0.1 8.5h-1.4zM62.4 76.7h1.4l0 4.4h-1.4zM62.4 84.9h1.4l0 4.4h-1.4zM63.1 43.8h2.2l0 4.3h-2.2zM63.1 51.9h2.2l0 4.3h-2.2zM63.1 60h2.2l0 12.4h-2.2zM63.1 80.3h2.2l0 4.3h-2.2zM78.9 51.8h1.6l0 8.3h-1.6zM79 63.8h1.6l0 4.3h-1.6zM80.9 113.6h2.2l0 4.4h-2.2zM84.9 20h1.5l0.3 4.9h-1.5z"/><path fill="#3434e4" d="M62.3 72.6h1.4l0 4.4h-1.4z"/><path fill="#5050e8" d="M62.4 80.8h1.4l0 4.4h-1.4zM62.5 93.2h1.4l0 4.4h-1.4zM63.1 88.4h2.2l0 4.3h-2.2z"/><path fill="#ee8030" d="M85.7 64.4h0.8l-0 4.5h-0.8zM85.6 76.9h0.8l-0 4.5h-0.8zM87.3 55.8h1.3l-0 4.4h-1.3zM94.5 33.6L98.4 37.6L99.6 36.4L95.7 32.4z"/><path fill="#e44a2e" d="M82.3 20.6h1.4l0.2 9.3h-1.4zM82.6 34.1h1.4l0.1 4.8h-1.4zM82.6 37.1h1.7l-0.3 5h-1.7zM87.6 28h1.7l0.5 10.2h-1.7zM89.4 20.2h1.1l-0.3 4.7h-1.1zM92 20.1h1.5l0.1 4.4h-1.5zM93.5 28.7h1l0.3 8.5h-1zM94.8 24.7h2l-0.2 4.5h-2zM97.8 37.7h1.6l0 4.7h-1.6zM85.6 19.5H91.1V21.5H85.6zM92.7 19.5H98.2V21.5H92.7zM83.1 23.7L87.1 21.2L86.2 19.8L82.2 22.3zM89.7 25.4H91.4V30.4H89.7zM89.7 28.6H91.4V33.6H89.7zM89.7 31.9H91.4V36.9H89.7zM96.4 20.7L97 23.8L98.7 23.5L98.1 20.3zM98.2 37.2L99.2 42.2L100.9 41.8L99.9 36.8z"/><path fill="#e86530" d="M82.5 29.6h1.4l0.1 4.8h-1.4zM86.2 21.2L90.1 23.7L91 22.3L87.1 19.8zM89.7 22.1H91.4V27.1H89.7zM97.6 27L98.2 30.2L99.9 29.8L99.3 26.7zM98.5 29.3L94.6 32.3L95.6 33.7L99.6 30.7z"/><path fill="#dc3a2a" d="M83.6 23h1.7l-0.6 9.7h-1.7zM86.4 36.6h1.7l0 4.4h-1.7zM88.8 29.1h1.2l0.5 9.3h-1.2zM89.1 24.6h1.1l-0.6 9.1h-1.1zM92.1 24.2h1.5l0.1 4.4h-1.5zM93.3 24.6h1l0.1 4.4h-1zM93.8 36.9h1l0.1 4.4h-1zM94.1 20.1h1.1l0.1 4.8h-1.1zM94.3 29.1h1.1l0.2 9.4h-1.1zM94.7 28.9h2l-0.2 4.5h-2zM96.8 24.9h2l0.3 9.3h-2zM97.8 24.6h1.6l0 4.7h-1.6zM89.2 19.5H94.7V21.5H89.2z"/><path fill="#c4302a" d="M82.9 32.4h1.7l-0.3 5h-1.7zM88.6 24.6h1.2l0.2 4.8h-1.2zM88.6 33.4h1.1l-0.3 4.7h-1.1zM92.2 32.4h1.5l0.1 8.5h-1.5zM93.2 20.5h1l0.1 4.4h-1zM94.2 24.6h1.1l0.1 4.8h-1.1zM94.5 33.1h2l-0.3 8.7h-2zM96.6 20.4h2l0.2 4.8h-2zM97.8 28.9h1.6l0 4.7h-1.6z"/><path fill="#b42a28" d="M87.4 23.1h1.7l0.3 5.2h-1.7zM88.4 20.1h1.2l0.2 4.8h-1.2zM92.1 28.3h1.5l0.1 4.4h-1.5zM95 20.5h2l-0.2 4.5h-2zM97.1 33.8h2l0.2 4.8h-2z"/><path fill="#fff" d="M22.7 24H24.9V44H22.7zM27.6 24H29.7V44H27.6zM36.6 27H38.2V44H36.6zM50.5 26H51.8V44H50.5zM57.2 29.5H60.4V43.4H57.2zM65.7 26H67.4V43H65.7zM21.7 45.5H24.9V61.6H21.7zM33.8 48.7H36.8V68H33.8zM30.9 68H35.4V75H30.9zM23.9 83H25.9V98H23.9zM24.5 98H28V133H24.5zM30.9 77H33.8V136H30.9zM41.8 103H44.1V136H41.8zM48.1 90H51.6V103H48.1zM54.5 94H56.2V106H54.5zM54.5 118H56.2V136H54.5zM69.5 105H71.7V116H69.5zM91.1 98H94.6V136H91.1zM69.5 42H70.6V58H69.5z"/></g><g transform="translate(60.20,429.00)"><path fill="#80f01a" d="M14.3 34.1h1.2l0 8.8h-1.2zM14.3 51.1h1.2l0 4.5h-1.2zM14.3 63.8h1.2l0 8.8h-1.2zM14.3 80.7h1.2l0 4.5h-1.2zM15.7 95.1h2l0.1 4.4h-2zM16 115.6h2l0.1 4.4h-2zM17.7 129.2h1.7l-0.1 4.5h-1.7zM22.6 95.5h1.4l0 4.6h-1.4zM22.7 104.1h1.4l0.1 8.9h-1.4zM21.6 77.7h2.3l0.1 4.5h-2.3zM28.8 61.3h2.4l0.1 4.4h-2.4zM29 73.8h2.4l0.3 16.9h-2.4zM29.5 106.9h2.4l0.1 4.4h-2.4zM29.8 123.5h2.4l0.1 4.4h-2.4zM33.9 94.5h1.4l0 4.4h-1.4zM34 106.9h1.4l0 4.4h-1.4zM34.3 131.7h1.4l0 4.4h-1.4zM28.3 80h1.5l-0 4.4h-1.5zM43.1 68.6h1.8l0.1 4.3h-1.8zM43.9 120.9h1.8l0.1 4.3h-1.8zM44.1 111h1.7l-0 4.5h-1.7zM54.7 109.4h2.3l0 4.3h-2.3zM57 61h1.2l0 4.4h-1.2zM57 81.7h1.2l0 4.4h-1.2zM57 102.3h1.2l0 4.4h-1.2zM60.1 77.7h1.8l0 4.4h-1.8zM60.3 123h1.8l0 4.4h-1.8zM61.2 121.4h2.2l0 8.4h-2.2zM37.8 17.6h2.2l0 4.5h-2.2zM37.9 30.3h2.2l0 4.5h-2.2zM37.9 38.7h2.2l0 4.5h-2.2zM59.5 27.3h0.9l-0.3 4.5h-0.9zM105.7 24.8h1.6l0 5h-1.6z"/><path fill="#88f01b" d="M14.3 42.6h1.2l0 8.8h-1.2zM14.3 72.3h1.2l0 4.5h-1.2zM15.5 86.9h2l0.1 4.4h-2zM18.8 86.7h1.7l-0.1 4.5h-1.7zM18.5 99.5h1.7l-0.1 4.5h-1.7zM20.2 112.7h1.6l0.1 9h-1.6zM21.9 86.7h1.1l0.1 4.4h-1.1zM22.8 112.7h1.4l0 4.6h-1.4zM29.6 111.1h2.4l0.1 4.4h-2.4zM29.7 119.4h2.4l0.1 4.4h-2.4zM51.2 89.6h1.8l0.1 4.4h-1.8zM57 48.7h1.2l0 4.4h-1.2zM60 57.1h1.8l0 8.5h-1.8zM27.6 39.2h2.1l0.1 4.9h-2.1zM42.8 34.2h2.3l-0.1 4.4h-2.3zM58.4 27.6h2l0.1 4.9h-2zM59.2 31.4h0.9l-0.3 4.5h-0.9zM63.4 27.3h1.2l0 4.4h-1.2zM106.4 28.4h0.5l-0.2 4.4h-0.5zM104.6 25.5H107.2V31.3H104.6z"/><path fill="#80ef1a" d="M14.3 55.3h1.2l0 4.5h-1.2zM15.8 103.3h2l0.1 8.5h-2zM16.1 123.8h2l0.1 4.4h-2zM18.3 108h1.7l-0.2 8.8h-1.7zM17.8 125h1.7l-0.1 4.5h-1.7zM20 95.4h1.6l0.1 4.6h-1.6zM20.2 108.4h1.6l0.1 4.6h-1.6zM20.4 125.7h1.6l0.1 4.6h-1.6zM21.2 103.6h1.6l0.1 4.5h-1.6zM21.4 112h1.6l0.1 4.5h-1.6zM21.7 128.9h1.6l0.1 4.5h-1.6zM21.9 90.8h1.1l0.2 8.5h-1.1zM22.3 111.2h1.1l0.2 12.6h-1.1zM22.5 86.9h1.4l0 4.6h-1.4zM22.6 99.8h1.4l0 4.6h-1.4zM22.8 117h1.4l0 4.6h-1.4zM21.8 94.3h2.3l0.1 4.5h-2.3zM23.2 81.9h1l0 4.4h-1zM23.3 123.1h1l0 4.4h-1zM23.3 131.3h1l0 4.4h-1zM28.5 44.7h2.4l0.1 8.6h-2.4zM28.8 65.5h2.4l0.1 4.4h-2.4zM29.2 90.3h2.4l0.1 4.4h-2.4zM29.4 98.6h2.4l0.1 8.6h-2.4zM29.6 115.2h2.4l0.1 4.4h-2.4zM29.8 127.7h2.4l0.1 4.4h-2.4zM33.3 44.9h1.4l0.1 8.6h-1.4zM33.4 57.3h1.4l0 4.4h-1.4zM33.6 69.7h1.4l0 4.4h-1.4zM33.7 78h1.4l0.2 16.8h-1.4zM34 102.7h1.4l0 4.4h-1.4zM34.2 119.3h1.4l0.1 12.7h-1.4zM35.1 100.3h2.2l0.1 4.4h-2.2zM36.7 104.3h2l0 4.3h-2zM41 44.5h1.7l0 4.5h-1.7zM41 52.9h1.7l0 8.7h-1.7zM41.1 94.7h1.7l0 4.5h-1.7zM41.2 107.2h1.7l0 4.5h-1.7zM41.2 119.8h1.7l0 4.5h-1.7zM43.2 72.6h1.8l0.1 4.3h-1.8zM43.8 116.8h1.8l0.1 4.3h-1.8zM44.1 132.9h1.8l0.1 4.3h-1.8zM44.2 94.4h1.7l-0 4.5h-1.7zM50.7 61h1.8l0.1 4.4h-1.8zM51 77.4h1.8l0.1 4.4h-1.8zM51.1 85.5h1.8l0.1 4.4h-1.8zM51.3 93.7h1.8l0.1 4.4h-1.8zM51.8 126.4h1.8l0.1 4.4h-1.8zM54.5 44.9h2.3l0 4.3h-2.3zM54.5 57h2.3l0 4.3h-2.3zM54.7 125.5h2.3l0 8.4h-2.3zM57 44.5h1.2l0 4.4h-1.2zM57 56.9h1.2l0 4.4h-1.2zM57 65.2h1.2l0 4.4h-1.2zM57 73.4h1.2l0 8.6h-1.2zM57 89.9h1.2l0 8.6h-1.2zM57 118.8h1.2l0 4.4h-1.2zM61 48.8h2.2l0 4.3h-2.2zM61 60.9h2.2l0 8.4h-2.2zM61.1 85.1h2.2l0 4.3h-2.2zM61.1 109.3h2.2l0 4.3h-2.2zM61.2 129.5h2.2l0 4.3h-2.2zM25.6 39.1h1.2l-0.1 5h-1.2zM39.8 34.7h1.7l-0.6 9.2h-1.7zM58.3 23h2l0.1 4.9h-2zM58.5 36.7h2l0.1 4.9h-2zM58.9 35.6h0.9l-0.6 8.6h-0.9zM63.3 19.2h1.2l0.1 8.4h-1.2zM63.4 35.4h1.2l0 4.4h-1.2zM58.1 43.7H63V45.5H58.1zM104.6 22.2H107.2V28.1H104.6z"/><path fill="#91f01c" d="M14.3 59.5h1.2l0 4.5h-1.2zM18.7 91h1.7l-0.2 8.8h-1.7zM18.4 103.7h1.7l-0.1 4.5h-1.7zM18 116.5h1.7l-0.2 8.8h-1.7zM22.5 91.2h1.4l0 4.6h-1.4zM22.9 125.6h1.4l0 4.6h-1.4zM62.5 64.7h1.2l-0 4.3h-1.2zM62.4 72.7h1.2l-0 4.3h-1.2zM62.2 96.7h1.2l-0 4.3h-1.2zM62.1 104.8h1.2l-0 4.3h-1.2zM67.4 53.4h1.3l0 4.4h-1.3zM58.5 32.2h2l0.1 4.9h-2zM63.5 39.4h1.2l0 4.4h-1.2zM69.4 23.2h1.9l-0.6 10.3h-1.9z"/><path fill="#9af01d" d="M14.3 76.5h1.2l0 4.5h-1.2zM22.9 121.3h1.4l0 4.6h-1.4zM60 52.9h1.8l0 4.4h-1.8zM60 65.3h1.8l0 8.5h-1.8zM60.1 81.8h1.8l0 4.4h-1.8zM60.2 90h1.8l0 4.4h-1.8zM60.3 114.8h1.8l0 8.5h-1.8zM60.4 131.2h1.8l0 4.4h-1.8zM62.4 68.7h1.2l-0 4.3h-1.2zM62.4 76.7h1.2l-0 4.3h-1.2zM62.3 84.7h1.2l-0.1 8.3h-1.2zM62.1 100.7h1.2l-0 4.3h-1.2zM62 112.8h1.2l-0 4.3h-1.2zM67.4 45.1h1.3l0 4.4h-1.3zM67.4 57.5h1.3l0 4.4h-1.3zM71.5 49.1h1.7l-0 4.4h-1.7zM71.5 61.4h1.7l-0 4.4h-1.7zM74.2 53.1h1.6l-0 4.4h-1.6zM64.3 20.9h1l0 4.7h-1zM67.6 23.5h2.3l0.1 4.4h-2.3zM61.2 43.7H66V45.5H61.2z"/><path fill="#7fef1a" d="M15.2 34.1h1.9l0.1 4.6h-1.9zM15.6 55.4h1.9l0.2 8.8h-1.9zM15.9 111.5h2l0.1 4.4h-2zM16.1 119.7h2l0.1 4.4h-2zM16.2 127.9h2l0.1 4.4h-2zM19.8 86.7h1.6l0.1 9h-1.6zM20 99.7h1.6l0.1 9h-1.6zM20.3 121.4h1.6l0.1 4.6h-1.6zM20.5 130h1.6l0.1 4.6h-1.6zM20.8 86.8h1.6l0.1 4.5h-1.6zM21.3 107.8h1.6l0.1 4.5h-1.6zM21.6 124.7h1.6l0.1 4.5h-1.6zM22.1 99h1.1l0.1 4.4h-1.1zM22.3 107.2h1.1l0.1 4.4h-1.1zM21.1 48.6h2.3l0.2 12.8h-2.3zM22.1 111h2.3l0.1 8.6h-2.3zM23.1 44.8h1l0 25h-1zM23.2 73.6h1l0 4.4h-1zM23.2 86h1l0 4.4h-1zM23.2 98.3h1l0 4.4h-1zM23.2 106.6h1l0 4.4h-1zM23.2 114.8h1l0 8.5h-1zM22.7 123.6h2.3l-0.1 4.4h-2.3zM28.6 53h2.4l0.1 4.4h-2.4zM28.9 69.6h2.4l0.1 4.4h-2.4zM29.9 131.8h2.4l0.1 4.4h-2.4zM33.4 53.2h1.4l0 4.4h-1.4zM33.5 65.6h1.4l0 4.4h-1.4zM33.6 73.8h1.4l0 4.4h-1.4zM27.7 92h1.4l0.1 4.4h-1.4zM28 112.3h1.4l0.1 8.4h-1.4zM28.2 92.2h1.5l-0 4.4h-1.5zM28.1 104.4h1.5l-0.1 8.4h-1.5zM28 116.5h1.5l-0 4.4h-1.5zM28 124.6h1.5l-0 4.4h-1.5zM32.6 79.7h1.5l-0 4.4h-1.5zM32.4 104.2h1.5l-0 4.4h-1.5zM32.3 120.6h1.5l-0.1 8.5h-1.5zM36.5 80.1h2l0.1 12.4h-2zM36.9 128.5h2l0 4.3h-2zM41.1 77.9h1.7l0 4.5h-1.7zM41.1 90.5h1.7l0 4.5h-1.7zM41.1 103h1.7l0 4.5h-1.7zM42.9 52.5h1.8l0.1 4.3h-1.8zM43 60.5h1.8l0.1 8.3h-1.8zM43.4 84.7h1.8l0.2 12.4h-1.8zM43.6 100.8h1.8l0.1 4.3h-1.8zM43.7 108.8h1.8l0.1 8.3h-1.8zM44.7 48.7h1.7l-0.1 8.6h-1.7zM44.1 106.9h1.7l-0 4.5h-1.7zM44 115.2h1.7l-0 4.5h-1.7zM43.9 127.6h1.7l-0 4.5h-1.7zM50 82.2h1.2l0.1 4.4h-1.2zM50.4 107.1h1.2l0.1 4.4h-1.2zM50.5 48.7h1.8l0.1 4.4h-1.8zM50.7 56.9h1.8l0.1 4.4h-1.8zM50.8 65.1h1.8l0.1 4.4h-1.8zM51.3 97.8h1.8l0.5 28.9h-1.8zM51.9 130.5h1.8l0.1 4.4h-1.8zM52.1 73.2h1.6l0 4.4h-1.6zM52.4 100.8h1.6l-0.1 4.3h-1.6zM54.5 49h2.3l0 4.3h-2.3zM54.5 61h2.3l0 12.4h-2.3zM54.6 77.2h2.3l0 4.3h-2.3zM54.6 89.2h2.3l0 4.3h-2.3zM54.7 105.4h2.3l0 4.3h-2.3zM54.7 113.4h2.3l0 4.3h-2.3zM57 69.3h1.2l0 4.4h-1.2zM57 85.8h1.2l0 4.4h-1.2zM57 98.2h1.2l0 4.4h-1.2zM57 114.7h1.2l0 4.4h-1.2zM61 44.7h2.2l0 4.3h-2.2zM61 68.9h2.2l0 8.4h-2.2zM61.1 89.1h2.2l0.1 20.5h-2.2zM37.8 21.9h2.2l0.1 8.7h-2.2zM40.4 25.7h1.7l-0.6 9.2h-1.7zM43.4 18h2.3l-0.5 16.5h-2.3zM59.7 23.1h0.9l-0.3 4.5h-0.9zM105.7 20h1.6l0 5h-1.6zM106.6 24.4h0.5l-0.2 4.4h-0.5zM31 43.7H35.8V45.5H31zM37 43.7H41.8V45.5H37z"/><path fill="#7fed1b" d="M15.3 38.4h1.9l0.1 4.6h-1.9zM15.9 68.2h1.9l0.2 8.8h-1.9zM16.7 34h2l-0 8.3h-2zM16.7 54h2l-0 4.3h-2zM16.6 78.1h2l-0 8.3h-2zM18.3 34.1h1.3l-0 4.5h-1.3zM17.9 75.8h1.3l-0 4.5h-1.3zM17.1 90.9h1.6l0.1 4.6h-1.6zM17.4 99.6h1.6l0.3 8.9h-1.6zM17.8 112.5h1.6l0.3 8.9h-1.6zM18.2 125.5h1.6l0.1 4.6h-1.6zM20.9 91h1.6l0.1 4.5h-1.6zM21.5 120.5h1.6l0.1 4.5h-1.6zM22.2 103.1h1.1l0.1 4.4h-1.1zM20.1 53h1.5l0.1 4.5h-1.5zM20.5 78h1.5l0.1 4.5h-1.5zM20.8 94.7h1.5l0.1 4.5h-1.5zM20.9 103h1.5l0.1 4.5h-1.5zM21.2 119.7h1.5l0.1 4.5h-1.5zM21.3 61.1h2.3l0.1 8.6h-2.3zM21.5 73.5h2.3l0.1 4.5h-2.3zM21.7 86h2.3l0.1 4.5h-2.3zM22 106.8h2.3l0.1 4.5h-2.3zM22.2 119.3h2.3l0.1 4.5h-2.3zM22.4 131.8h2.3l0.1 4.5h-2.3zM23.2 102.5h1l0 4.4h-1zM23.6 65.6h2.3l-0.1 4.4h-2.3zM23.1 98.7h2.3l-0.1 4.4h-2.3zM26.2 48.7h1.5l-0.1 8.3h-1.5zM30.1 118h2.2l-0 4.4h-2.2zM31.8 57h2.1l0 4.4h-2.1zM32 81.5h2.1l0 4.4h-2.1zM32.1 89.6h2.1l0 4.4h-2.1zM32.3 110h2.1l0 4.4h-2.1zM32.6 130.4h2.1l0 4.4h-2.1zM34.1 115.1h1.4l0 4.4h-1.4zM34.9 65.8h2.4l-0 4.5h-2.4zM34.9 95h2.4l-0 4.5h-2.4zM34.9 103.3h2.4l-0 8.6h-2.4zM34.8 124.2h2.4l-0 8.6h-2.4zM37.1 69.5h1.5l-0.1 4.4h-1.5zM36.7 102.5h1.5l-0.1 4.4h-1.5zM27.8 100.1h1.4l0.1 4.4h-1.4zM28.3 128.5h1.4l0.1 4.4h-1.4zM28.3 84.1h1.5l-0 4.4h-1.5zM28.2 96.2h1.5l-0.1 8.4h-1.5zM28.1 112.5h1.5l-0 4.4h-1.5zM29.5 96h2.1l-0 4.4h-2.1zM29.5 112.3h2.1l-0 8.4h-2.1zM32.6 83.8h1.5l-0.1 8.5h-1.5zM32.4 100.1h1.5l-0 4.4h-1.5zM32.3 112.4h1.5l-0 4.4h-1.5zM33.8 79.6h1.3l0.1 4.4h-1.3zM34.1 87.9h1.3l0.2 8.6h-1.3zM34.6 108.5h1.3l0.1 4.4h-1.3zM34.9 92.1h2.2l0.1 4.4h-2.2zM35.3 108.5h2.2l0.1 4.4h-2.2zM35.5 120.8h2.2l0.1 4.4h-2.2zM36.7 100.2h2l0 4.3h-2zM36.7 108.3h2l0 4.3h-2zM38.3 84.2h0.6l-0.1 4.6h-0.6zM37.7 114.2h0.6l-0.1 4.6h-0.6zM41 48.7h1.7l0 4.5h-1.7zM41 61.2h1.7l0 4.5h-1.7zM41.1 82.1h1.7l0 4.5h-1.7zM41.2 123.9h1.7l0 4.5h-1.7zM42.8 44.5h1.8l0.1 8.3h-1.8zM42.9 56.5h1.8l0.1 4.3h-1.8zM44 124.9h1.8l0.1 4.3h-1.8zM44.7 44.6h1.7l-0 4.5h-1.7zM44.5 69.5h1.7l-0 4.5h-1.7zM44.4 77.8h1.7l-0.1 8.6h-1.7zM44.3 90.3h1.7l-0 4.5h-1.7zM44.2 102.7h1.7l-0 4.5h-1.7zM44 119.3h1.7l-0 4.5h-1.7zM47.5 69.6h2l-0.1 4.4h-2zM47.2 94.3h2l-0.1 4.4h-2zM49.6 53.3h1.2l0.1 8.6h-1.2zM49.9 74h1.2l0.1 4.4h-1.2zM50.2 94.7h1.2l0.2 12.7h-1.2zM50.4 111.2h1.2l0.1 4.4h-1.2zM50.7 131.9h1.2l0.1 4.4h-1.2zM50.9 73.3h1.8l0.1 4.4h-1.8zM52.1 77.3h1.6l0 4.4h-1.6zM52.2 85.5h1.6l0 4.4h-1.6zM52.3 93.7h1.6l0 4.4h-1.6zM52.5 110.1h1.6l0 4.4h-1.6zM52.7 122.4h1.6l0 4.4h-1.6zM53.2 44.7h1.6l-0.1 4.3h-1.6zM52.7 80.8h1.6l-0.1 4.3h-1.6zM52.5 96.8h1.6l-0.1 4.3h-1.6zM52.3 104.8h1.6l-0.1 4.3h-1.6zM57.7 61.5h0.5l0 4.5h-0.5zM57.7 73.9h0.5l0 4.5h-0.5zM57.7 90.6h0.5l0 4.5h-0.5zM57.7 132.2h0.5l0 4.5h-0.5zM61 77h2.2l0 4.3h-2.2zM40.6 21.2h1.7l-0.3 4.8h-1.7zM12.9 43.7H17.7V45.5H12.9zM15.9 43.7H20.7V45.5H15.9zM34 43.7H38.8V45.5H34zM43.1 43.7H47.9V45.5H43.1zM52.1 43.7H56.9V45.5H52.1z"/><path fill="#7eed1b" d="M15.4 42.7h1.9l0.1 4.6h-1.9zM16.7 50h2l-0 4.3h-2zM16.6 58h2l-0 4.3h-2zM16.6 66h2l-0 4.3h-2zM17.8 79.9h1.3l-0 4.5h-1.3zM17.2 95.2h1.6l0.1 4.6h-1.6zM17.6 108.2h1.6l0.1 4.6h-1.6zM21 95.2h1.6l0.1 4.5h-1.6zM23.8 108.1h1.9l0 4.6h-1.9zM23.8 121h1.9l0 4.6h-1.9zM20 44.7h1.5l0.1 4.5h-1.5zM20.2 61.3h1.5l0.1 8.6h-1.5zM20.4 73.8h1.5l0.1 4.5h-1.5zM20.8 98.8h1.5l0.1 4.5h-1.5zM21 107.2h1.5l0.1 8.6h-1.5zM21.1 44.4h2.3l0.1 4.5h-2.3zM21.9 102.6h2.3l0.1 4.5h-2.3zM23.3 127.2h1l0 4.4h-1zM23.6 69.7h2.3l-0.1 4.4h-2.3zM23.2 94.6h2.3l-0.1 4.4h-2.3zM23 107h2.3l-0.1 4.4h-2.3zM26.1 68.7h1.5l-0.1 8.3h-1.5zM25.9 80.8h1.5l-0.1 8.3h-1.5zM25.7 112.8h1.5l-0 4.3h-1.5zM25.6 120.9h1.5l-0.1 8.3h-1.5zM27.9 113.7h1.5l0 4.4h-1.5zM30.1 77.3h2.2l-0 4.4h-2.2zM30.1 85.4h2.2l-0 4.4h-2.2zM30.1 105.8h2.2l-0 8.5h-2.2zM30.1 122.1h2.2l-0 4.4h-2.2zM31.7 44.8h2.1l0 4.4h-2.1zM32 77.4h2.1l0 4.4h-2.1zM32.2 93.7h2.1l0 4.4h-2.1zM34.1 49h1l-0 4.4h-1zM34 57.2h1l-0 4.4h-1zM33.6 107h1l-0 4.4h-1zM33.4 123.6h1l-0 4.4h-1zM35 45h2.4l-0 4.5h-2.4zM34.9 61.6h2.4l-0 4.5h-2.4zM34.9 78.3h2.4l-0 12.8h-2.4zM34.9 99.2h2.4l-0 4.5h-2.4zM34.8 120h2.4l-0 4.5h-2.4zM37.3 57.1h1.5l-0.1 4.4h-1.5zM37.2 65.4h1.5l-0.1 4.4h-1.5zM37.1 73.6h1.5l-0.1 4.4h-1.5zM37 81.9h1.5l-0.1 4.4h-1.5zM36.7 98.4h1.5l-0.1 4.4h-1.5zM36.6 106.6h1.5l-0.3 20.9h-1.5zM38.5 106.3h0.5l0 4.4h-0.5zM27.5 83.9h1.4l0.1 4.4h-1.4zM27.8 96h1.4l0.1 4.4h-1.4zM28.2 120.4h1.4l0.1 4.4h-1.4zM28.4 132.6h1.4l0.1 4.4h-1.4zM28.3 88.1h1.5l-0 4.4h-1.5zM29.5 83.8h2.1l-0 4.4h-2.1zM29.5 91.9h2.1l-0 4.4h-2.1zM29.5 104.2h2.1l-0 4.4h-2.1zM29.5 120.4h2.1l-0 16.6h-2.1zM32.4 108.3h1.5l-0 4.4h-1.5zM34.3 96.1h1.3l0.1 4.4h-1.3zM34.8 116.8h1.3l0.1 4.4h-1.3zM35.2 104.4h2.2l0.1 4.4h-2.2zM36.6 92.2h2l0.1 8.4h-2zM44.4 73.6h1.7l-0 4.5h-1.7zM44.3 86.1h1.7l-0 4.5h-1.7zM44.2 98.6h1.7l-0 4.5h-1.7zM44 123.5h1.7l-0 4.5h-1.7zM47.7 49.1h2l-0.1 8.5h-2zM47.6 61.4h2l-0.1 4.4h-2zM47.4 77.9h2l-0.1 4.4h-2zM46.9 110.8h2l-0.1 8.5h-2zM46.7 127.2h2l-0.1 8.5h-2zM49.7 61.5h1.2l0.1 4.4h-1.2zM49.8 69.8h1.2l0.1 4.4h-1.2zM49.9 78.1h1.2l0.1 4.4h-1.2zM50.5 115.4h1.2l0.1 4.4h-1.2zM50.7 127.8h1.2l0.1 4.4h-1.2zM51.8 48.7h1.6l0.1 12.6h-1.6zM52 69.1h1.6l0 4.4h-1.6zM52.6 114.2h1.6l0 4.4h-1.6zM52.8 130.6h1.6l0 4.4h-1.6zM52.8 68.7h1.6l-0.2 12.3h-1.6zM52.6 84.8h1.6l-0.1 8.3h-1.6zM52.2 112.9h1.6l-0.1 4.3h-1.6zM52 132.9h1.6l-0.1 4.3h-1.6zM54.6 73.1h2.3l0 4.3h-2.3zM57.7 44.8h0.5l0 8.6h-0.5zM57.7 57.3h0.5l0 4.5h-0.5zM57.7 82.3h0.5l0 4.5h-0.5zM57.7 94.7h0.5l0 4.5h-0.5zM57.7 103.1h0.5l0 4.5h-0.5zM57.7 115.5h0.5l0 4.5h-0.5zM61.1 117.4h2.2l0 4.3h-2.2zM39.6 17.7h1.5l-0.1 4.9h-1.5zM41.8 22.2h1.8l-0.2 4.4h-1.8zM27 37.6H29.6V43.3H27zM18.9 43.7H23.7V45.5H18.9zM28 43.7H32.8V45.5H28zM40 43.7H44.9V45.5H40zM46.1 43.7H50.9V45.5H46.1z"/><path fill="#7fee1b" d="M15.5 46.9h1.9l0.2 8.8h-1.9zM15.8 64h1.9l0.1 4.6h-1.9zM16.1 76.7h1.9l0.2 8.8h-1.9zM18 59.1h1.3l-0 4.5h-1.3zM15.6 91h2l0.1 4.4h-2zM15.7 99.2h2l0.1 4.4h-2zM17 86.6h1.6l0.1 4.6h-1.6zM21.1 99.4h1.6l0.1 4.5h-1.6zM21.5 116.3h1.6l0.1 4.5h-1.6zM22.6 123.5h1.1l0.2 8.5h-1.1zM20.2 57.2h1.5l0.1 4.5h-1.5zM20.4 69.7h1.5l0.1 4.5h-1.5zM20.6 86.3h1.5l0.1 4.5h-1.5zM21.5 69.4h2.3l0.1 4.5h-2.3zM21.6 81.9h2.3l0.1 4.5h-2.3zM21.8 90.2h2.3l0.1 4.5h-2.3zM21.9 98.5h2.3l0.1 4.5h-2.3zM22.3 123.4h2.3l0.1 8.6h-2.3zM23.2 69.5h1l0 4.4h-1zM23.2 77.7h1l0 4.4h-1zM23.2 90.1h1l0 8.5h-1zM23.2 110.7h1l0 4.4h-1zM23.1 102.9h2.3l-0.1 4.4h-2.3zM26.3 44.7h1.5l-0 4.3h-1.5zM28.7 57.2h2.4l0.1 4.4h-2.4zM29.3 94.5h2.4l0.1 4.4h-2.4zM30.2 69.1h2.2l-0 4.4h-2.2zM32.3 106h2.1l0 4.4h-2.1zM33.5 61.4h1.4l0 4.4h-1.4zM33.9 98.6h1.4l0 4.4h-1.4zM34.1 111h1.4l0 4.4h-1.4zM34.8 111.7h2.4l-0 8.6h-2.4zM34.8 132.5h2.4l-0 4.5h-2.4zM27.5 79.8h1.4l0.1 4.4h-1.4zM27.9 104.2h1.4l0.1 8.4h-1.4zM28.2 124.5h1.4l0.1 4.4h-1.4zM28 120.6h1.5l-0 4.4h-1.5zM27.9 128.7h1.5l-0.1 8.4h-1.5zM29.5 87.9h2.1l-0 4.4h-2.1zM32.5 92h1.5l-0.1 8.5h-1.5zM33.9 83.7h1.3l0.1 4.4h-1.3zM34.4 100.3h1.3l0.2 8.6h-1.3zM34.6 79.8h2.2l0.3 12.6h-2.2zM35 96.2h2.2l0.1 4.4h-2.2zM35.3 112.6h2.2l0.2 8.5h-2.2zM35.6 124.9h2.2l0.2 8.5h-2.2zM36.7 112.3h2l0.1 16.4h-2zM36.9 132.5h2l0 4.3h-2zM41 65.4h1.7l0 12.8h-1.7zM41.1 86.3h1.7l0 4.5h-1.7zM41.2 111.4h1.7l0 8.7h-1.7zM41.2 128.1h1.7l0 8.7h-1.7zM43.2 76.6h1.8l0.1 8.3h-1.8zM43.5 96.7h1.8l0.1 4.3h-1.8zM43.7 104.8h1.8l0.1 4.3h-1.8zM44 128.9h1.8l0.1 4.3h-1.8zM44.6 61.2h1.7l-0.1 8.6h-1.7zM47.5 65.5h2l-0.1 4.4h-2zM49.8 65.7h1.2l0.1 4.4h-1.2zM50.1 90.5h1.2l0.1 4.4h-1.2zM50.6 123.6h1.2l0.1 4.4h-1.2zM50.5 44.6h1.8l0.1 4.4h-1.8zM50.6 52.8h1.8l0.1 4.4h-1.8zM50.9 69.2h1.8l0.1 4.4h-1.8zM51.1 81.4h1.8l0.1 4.4h-1.8zM52.4 101.9h1.6l0.1 8.5h-1.6zM52.1 124.9h1.6l-0.1 4.3h-1.6zM54.5 53h2.3l0 4.3h-2.3zM54.6 81.2h2.3l0 8.4h-2.3zM54.6 93.3h2.3l0 12.4h-2.3zM54.7 117.4h2.3l0 8.4h-2.3zM57 52.8h1.2l0 4.4h-1.2zM57 106.4h1.2l0 8.6h-1.2zM57.7 53.1h0.5l0 4.5h-0.5zM61 52.8h2.2l0 8.4h-2.2zM61.1 81h2.2l0 4.3h-2.2zM61.1 113.3h2.2l0 4.3h-2.2zM37.9 34.5h2.2l0 4.5h-2.2zM106.8 20.3h0.5l-0.2 4.4h-0.5zM21.9 43.7H26.8V45.5H21.9zM49.1 43.7H53.9V45.5H49.1zM55.1 43.7H59.9V45.5H55.1z"/><path fill="#7eec1b" d="M16.7 42h2l-0 8.3h-2zM16.6 70h2l-0 8.3h-2zM18.2 42.4h1.3l-0.1 12.8h-1.3zM18 63.3h1.3l-0 4.5h-1.3zM17.9 71.6h1.3l-0 4.5h-1.3zM18 121.2h1.6l0.1 4.6h-1.6zM20 48.8h1.5l0.1 4.5h-1.5zM21.1 115.5h1.5l0.1 4.5h-1.5zM23.9 49h2.3l-0.1 4.4h-2.3zM23.8 57.3h2.3l-0.1 4.4h-2.3zM23.5 73.9h2.3l-0.2 12.7h-2.3zM23.2 90.4h2.3l-0.1 4.4h-2.3zM22.9 115.3h2.3l-0.1 8.6h-2.3zM26.2 56.7h1.5l-0 4.3h-1.5zM26.1 64.7h1.5l-0 4.3h-1.5zM26 76.8h1.5l-0 4.3h-1.5zM25.9 88.8h1.5l-0 4.3h-1.5zM25.8 100.8h1.5l-0.1 12.3h-1.5zM25.5 128.9h1.5l-0 4.3h-1.5zM30.2 44.7h2.2l-0 4.4h-2.2zM30.2 52.8h2.2l-0 4.4h-2.2zM30.2 65h2.2l-0 4.4h-2.2zM30.1 73.2h2.2l-0 4.4h-2.2zM30.1 81.4h2.2l-0 4.4h-2.2zM30.1 89.5h2.2l-0 4.4h-2.2zM30.1 97.7h2.2l-0 8.5h-2.2zM30 126.2h2.2l-0 4.4h-2.2zM31.7 53h2.1l0 4.4h-2.1zM31.8 61.1h2.1l0.1 8.5h-2.1zM32 73.3h2.1l0 4.4h-2.1zM32.1 85.6h2.1l0 4.4h-2.1zM32.4 114.1h2.1l0.1 12.5h-2.1zM34.1 53.1h1l-0 4.4h-1zM33.9 69.7h1l-0 4.4h-1zM33.6 102.8h1l-0 4.4h-1zM33.5 119.4h1l-0 4.4h-1zM35 49.1h2.4l-0 4.5h-2.4zM35 57.5h2.4l-0 4.5h-2.4zM34.9 70h2.4l-0 8.6h-2.4zM34.9 90.8h2.4l-0 4.5h-2.4zM37.5 44.7h1.5l-0.1 4.4h-1.5zM37 77.7h1.5l-0.1 4.4h-1.5zM36.9 86h1.5l-0.2 12.7h-1.5zM38.5 56.8h0.5l0 4.4h-0.5zM38.5 89.8h0.5l0 4.4h-0.5zM38.5 110.4h0.5l0 8.5h-0.5zM27.6 87.9h1.4l0.1 4.4h-1.4zM29.5 79.7h2.1l-0 4.4h-2.1zM29.5 108.2h2.1l-0 4.4h-2.1zM31.3 79.8h2l0 4.3h-2zM32.3 116.5h1.5l-0 4.4h-1.5zM34.7 112.7h1.3l0.1 4.4h-1.3zM34.9 120.9h1.3l0.1 4.4h-1.3zM38.1 92.7h0.6l-0.1 4.6h-0.6zM37.9 101.3h0.6l-0.2 13.2h-0.6zM37.6 122.7h0.6l-0.2 13.2h-0.6zM41.1 98.8h1.7l0 4.5h-1.7zM44.6 57h1.7l-0 4.5h-1.7zM47.6 57.3h2l-0.1 4.4h-2zM47.4 73.7h2l-0.1 4.4h-2zM47.3 86.1h2l-0.1 8.5h-2zM47.1 98.4h2l-0.1 8.5h-2zM46.8 119h2l-0.1 8.5h-2zM49.5 45h1.2l0.1 8.6h-1.2zM50.1 86.4h1.2l0.1 4.4h-1.2zM50.5 119.5h1.2l0.1 4.4h-1.2zM51.8 44.6h1.6l0 4.4h-1.6zM51.9 60.9h1.6l0.1 8.5h-1.6zM52.3 89.6h1.6l0 4.4h-1.6zM52.4 97.8h1.6l0 4.4h-1.6zM52.7 126.5h1.6l0 4.4h-1.6zM53.1 48.7h1.6l-0.2 16.3h-1.6zM52.2 116.9h1.6l-0.1 4.3h-1.6zM52 128.9h1.6l-0.1 4.3h-1.6zM57.7 65.6h0.5l0 4.5h-0.5zM57.7 78.1h0.5l0 4.5h-0.5zM57.7 107.2h0.5l0 8.6h-0.5zM57.7 119.7h0.5l0 4.5h-0.5zM57.7 128h0.5l0 4.5h-0.5zM39.6 22.3h1.5l-0.1 4.9h-1.5zM25 43.7H29.8V45.5H25z"/><path fill="#7deb1b" d="M16.6 62h2l-0 4.3h-2zM13.7 87.1h2.2l0 4.5h-2.2zM13.7 128.7h2.2l0 4.5h-2.2zM23.7 91h1.9l0 8.9h-1.9zM24.9 94.9h0.9l-0 4.3h-0.9zM24.8 103h0.9l-0 8.4h-0.9zM20.7 90.5h1.5l0.1 4.5h-1.5zM23.3 86.3h2.3l-0.1 4.4h-2.3zM24.9 94.9h1.2l-0 4.5h-1.2zM24.6 115.6h1.2l-0 4.5h-1.2zM24.5 128.1h1.2l-0 4.5h-1.2zM27.5 44.5h1.5l0 4.4h-1.5zM27.5 56.7h1.5l0 4.4h-1.5zM27.6 64.8h1.5l0.1 8.5h-1.5zM27.7 89.3h1.5l0.1 20.7h-1.5zM28 121.9h1.5l0 4.4h-1.5zM30.2 56.9h2.2l-0 4.4h-2.2zM30.1 93.6h2.2l-0 4.4h-2.2zM32.2 97.8h2.1l0 4.4h-2.1zM34 61.4h1l-0 4.4h-1zM33.9 78h1l-0 4.4h-1zM33.7 98.7h1l-0 4.4h-1zM33.5 111.1h1l-0 4.4h-1zM33.4 127.7h1l-0 4.4h-1zM37.4 48.8h1.5l-0.1 4.4h-1.5zM38.5 52.7h0.5l0 4.4h-0.5zM38.5 65.1h0.5l0 8.5h-0.5zM38.5 81.5h0.5l0 4.4h-0.5zM38.5 122.8h0.5l0 8.5h-0.5zM31.3 87.8h2l0 4.3h-2zM31.4 99.8h2l0 4.3h-2zM31.5 115.9h2l0 4.3h-2zM31.6 123.9h2l0 4.3h-2zM42 44.6h1.3l-0 4.4h-1.3zM42 73.7h1.3l-0 4.4h-1.3zM41.9 119.3h1.3l-0 4.4h-1.3zM41.9 131.8h1.3l-0 4.4h-1.3zM43.6 61.3h1.5l-0 4.4h-1.5zM43.4 77.7h1.5l-0.1 8.5h-1.5zM43 122.9h1.5l-0 4.4h-1.5zM46.1 44.9h2.2l0 4.4h-2.2zM46.1 53.2h2.2l0 4.4h-2.2zM46.3 69.6h2.2l0 4.4h-2.2zM46.8 110.7h2.2l0 4.4h-2.2zM47.8 45h2l-0.1 4.4h-2zM52.2 81.4h1.6l0 4.4h-1.6zM52.1 120.9h1.6l-0.1 4.3h-1.6zM57.7 98.9h0.5l0 4.5h-0.5zM39.3 36.3h1.5l-0.1 4.9h-1.5zM41.5 30.4h1.8l-0.3 8.6h-1.8zM44.9 39h0.8l-0 4.5h-0.8z"/><path fill="#7eeb1b" d="M18.2 38.3h1.3l-0 4.5h-1.3zM18.1 54.9h1.3l-0 4.5h-1.3zM17.9 67.4h1.3l-0 4.5h-1.3zM23.7 86.7h1.9l0 4.6h-1.9zM23.8 99.5h1.9l0 4.6h-1.9zM23.8 116.7h1.9l0 4.6h-1.9zM24.8 99h0.9l-0 4.3h-0.9zM24.8 115.1h0.9l-0 8.4h-0.9zM20.6 82.2h1.5l0.1 4.5h-1.5zM23.9 44.8h2.3l-0.1 4.4h-2.3zM23.8 53.1h2.3l-0.1 4.4h-2.3zM23.7 61.4h2.3l-0.1 4.4h-2.3zM22.9 111.2h2.3l-0.1 4.4h-2.3zM24.8 99h1.2l-0 4.5h-1.2zM24.7 111.5h1.2l-0 4.5h-1.2zM26.1 60.7h1.5l-0 4.3h-1.5zM25.8 92.8h1.5l-0.1 8.3h-1.5zM25.6 116.9h1.5l-0 4.3h-1.5zM27.6 73h1.5l0.1 8.5h-1.5zM27.9 117.8h1.5l0 4.4h-1.5zM28 126h1.5l0.1 8.5h-1.5zM30.2 48.7h2.2l-0 4.4h-2.2zM30.2 61h2.2l-0 4.4h-2.2zM30.1 114h2.2l-0 4.4h-2.2zM30 130.3h2.2l-0 4.4h-2.2zM31.7 48.9h2.1l0 4.4h-2.1zM31.9 69.3h2.1l0 4.4h-2.1zM32.3 101.9h2.1l0 4.4h-2.1zM32.5 126.3h2.1l0 4.4h-2.1zM34.2 44.8h1l-0 4.4h-1zM33.8 82.1h1l-0 4.4h-1zM33.7 94.6h1l-0 4.4h-1zM33.5 115.3h1l-0 4.4h-1zM33.4 131.9h1l-0 4.4h-1zM35 53.3h2.4l-0 4.5h-2.4zM37.4 53h1.5l-0.1 4.4h-1.5zM37.2 61.2h1.5l-0.1 4.4h-1.5zM36.3 127.3h1.5l-0.1 8.6h-1.5zM38.5 48.6h0.5l0 4.4h-0.5zM38.5 73.3h0.5l0 4.4h-0.5zM38.5 85.7h0.5l0 4.4h-0.5zM38.5 98h0.5l0 8.5h-0.5zM38.5 118.6h0.5l0 4.4h-0.5zM29.5 100.1h2.1l-0 4.4h-2.1zM31.5 111.9h2l0 4.3h-2zM31.6 119.9h2l0 4.3h-2zM31.6 131.9h2l0 4.3h-2zM35.1 125.1h1.3l0.2 8.6h-1.3zM38.3 79.9h0.6l-0.1 4.6h-0.6zM38.2 88.4h0.6l-0.1 4.6h-0.6zM38 97h0.6l-0.1 4.6h-0.6zM37.6 118.4h0.6l-0.1 4.6h-0.6zM43.7 53.1h1.5l-0 4.4h-1.5zM43.9 131.8h1.7l-0 4.5h-1.7zM47.3 82h2l-0.1 4.4h-2zM47 106.6h2l-0.1 4.4h-2zM52.6 118.3h1.6l0 4.4h-1.6zM52.9 64.7h1.6l-0.1 4.3h-1.6zM52.5 92.8h1.6l-0.1 4.3h-1.6zM52.3 108.8h1.6l-0.1 4.3h-1.6zM57.7 69.8h0.5l0 4.5h-0.5zM57.7 86.4h0.5l0 4.5h-0.5zM57.7 123.8h0.5l0 4.5h-0.5zM41.7 26.3h1.8l-0.2 4.4h-1.8zM41.2 38.7h1.8l-0.2 4.4h-1.8zM57.4 32.2h1l0 9.3h-1z"/><path fill="#6fc633" d="M19.2 34.1h1.8l-0.1 4.6h-1.8zM18.8 55.3h1.8l-0.1 8.8h-1.8zM18.5 72.3h1.8l-0.1 4.6h-1.8zM18.4 80.8h1.8l-0.1 4.6h-1.8z"/><path fill="#6bbb43" d="M19.1 38.3h1.8l-0.1 4.6h-1.8zM18.9 51.1h1.8l-0.1 4.6h-1.8zM18.6 68.1h1.8l-0.1 4.6h-1.8zM18.5 76.6h1.8l-0.1 4.6h-1.8z"/><path fill="#76d727" d="M19.1 42.6h1.8l-0.1 4.6h-1.8zM18.4 98.9h1.4l0.1 4.4h-1.4z"/><path fill="#7ce81c" d="M19 46.8h1.8l-0.1 4.6h-1.8zM13.7 112h2.2l0 4.5h-2.2zM18.7 111.2h1.4l0.1 4.4h-1.4zM24.6 124h1.2l-0 4.5h-1.2zM41.9 82h1.3l-0 8.6h-1.3zM41.9 127.6h1.3l-0 4.4h-1.3z"/><path fill="#7ce91c" d="M18.7 63.8h1.8l-0.1 4.6h-1.8zM13.7 91.2h2.2l0 12.8h-2.2zM13.7 120.4h2.2l0 4.5h-2.2zM25.4 49.1h1.2l-0.1 8.6h-1.2zM25.2 61.6h1.2l-0 4.5h-1.2zM25 86.6h1.2l-0.1 8.6h-1.2zM42 61.2h1.3l-0 8.6h-1.3zM41.9 77.8h1.3l-0 4.4h-1.3zM41.9 123.5h1.3l-0 4.4h-1.3zM43.7 57.2h1.5l-0 4.4h-1.5zM43.5 73.6h1.5l-0 4.4h-1.5zM43.3 90h1.5l-0.1 8.5h-1.5zM42.9 131.1h1.5l-0 4.4h-1.5zM46.8 106.6h2.2l0 4.4h-2.2zM45 26.3h0.8l-0 4.5h-0.8z"/><path fill="#7de91c" d="M13.7 103.7h2.2l0 8.6h-2.2zM13.7 116.2h2.2l0 4.5h-2.2zM13.7 124.5h2.2l0 4.5h-2.2zM18 86.6h1.4l0.4 12.6h-1.4zM18.5 103h1.4l0.2 8.5h-1.4zM18.9 115.3h1.4l0.2 8.5h-1.4zM23.8 103.8h1.9l0 4.6h-1.9zM24.8 111.1h0.9l-0 4.3h-0.9zM25.4 45h1.2l-0 4.5h-1.2zM25.2 65.8h1.2l-0.1 12.8h-1.2zM24.8 103.2h1.2l-0 4.5h-1.2zM24.5 132.3h1.2l-0 4.5h-1.2zM27.5 52.6h1.5l0 4.4h-1.5zM27.7 81.1h1.5l0 4.4h-1.5zM38.5 131h0.5l0 4.4h-0.5zM31.4 91.8h2l0.1 8.3h-2zM31.5 107.9h2l0 4.3h-2zM31.6 127.9h2l0 4.3h-2zM42 52.9h1.3l-0 4.4h-1.3zM41.9 94.4h1.3l-0 4.4h-1.3zM41.9 102.7h1.3l-0 8.6h-1.3zM41.9 115.2h1.3l-0 4.4h-1.3zM43.8 44.9h1.5l-0 4.4h-1.5zM43.5 69.5h1.5l-0 4.4h-1.5zM43.4 85.9h1.5l-0 4.4h-1.5zM43.2 98.3h1.5l-0 4.4h-1.5zM43 114.7h1.5l-0.1 8.5h-1.5zM46.2 57.3h2.2l0.1 8.5h-2.2zM46.4 77.8h2.2l0 4.4h-2.2zM46.5 86h2.2l0 4.4h-2.2zM46.6 94.2h2.2l0.1 8.5h-2.2zM46.9 114.8h2.2l0 4.4h-2.2zM47 123h2.2l0 4.4h-2.2zM47.1 131.2h2.2l0 4.4h-2.2zM44.9 30.6h0.8l-0 4.5h-0.8zM57.4 27.7h1l0 4.8h-1z"/><path fill="#7dea1b" d="M19.1 123.4h1.4l0.2 8.5h-1.4zM23.8 112.4h1.9l0 4.6h-1.9zM23.9 125.3h1.9l0 8.9h-1.9zM24.9 86.9h0.9l-0 8.4h-0.9zM24.8 123.2h0.9l-0 8.4h-0.9zM25.3 57.5h1.2l-0 4.5h-1.2zM25 78.2h1.2l-0.1 8.6h-1.2zM24.7 107.3h1.2l-0 4.5h-1.2zM24.6 119.8h1.2l-0 4.5h-1.2zM27.5 48.5h1.5l0 4.4h-1.5zM27.6 60.8h1.5l0 4.4h-1.5zM27.7 85.2h1.5l0 4.4h-1.5zM27.9 109.7h1.5l0 4.4h-1.5zM34 65.5h1l-0 4.4h-1zM33.9 73.8h1l-0 4.4h-1zM33.8 86.3h1l-0.1 8.6h-1zM38.5 44.4h0.5l0 4.4h-0.5zM38.5 60.9h0.5l0 4.4h-0.5zM38.5 77.4h0.5l0 4.4h-0.5zM38.5 93.9h0.5l0 4.4h-0.5zM31.3 83.8h2l0 4.3h-2zM31.4 103.9h2l0 4.3h-2zM42 48.8h1.3l-0 4.4h-1.3zM42 57.1h1.3l-0 4.4h-1.3zM42 69.5h1.3l-0 4.4h-1.3zM41.9 90.3h1.3l-0 4.4h-1.3zM41.9 98.6h1.3l-0 4.4h-1.3zM41.9 111h1.3l-0 4.4h-1.3zM43.7 49h1.5l-0 4.4h-1.5zM43.6 65.4h1.5l-0 4.4h-1.5zM43.2 102.4h1.5l-0.1 12.6h-1.5zM42.9 127h1.5l-0 4.4h-1.5zM46.1 49h2.2l0 4.4h-2.2zM46.3 65.5h2.2l0 4.4h-2.2zM46.4 73.7h2.2l0 4.4h-2.2zM46.5 81.9h2.2l0 4.4h-2.2zM46.6 90.1h2.2l0 4.4h-2.2zM46.7 102.4h2.2l0 4.4h-2.2zM46.9 118.9h2.2l0 4.4h-2.2zM47 127.1h2.2l0 4.4h-2.2zM39.5 27h1.5l-0.1 9.6h-1.5zM42 18h1.8l-0.2 4.4h-1.8zM45 17.8h0.8l-0.1 8.8h-0.8zM44.9 34.8h0.8l-0 4.5h-0.8zM57.4 23.2h1l0 4.8h-1z"/><path fill="#a6f01e" d="M59.9 44.7h1.8l0 4.4h-1.8zM60.1 73.5h1.8l0 4.4h-1.8zM60.1 85.9h1.8l0 4.4h-1.8zM60.2 102.4h1.8l0.1 12.7h-1.8zM62.7 44.6h1.2l-0 4.3h-1.2zM62.5 60.7h1.2l-0 4.3h-1.2zM62.3 80.7h1.2l-0 4.3h-1.2zM62.2 92.7h1.2l-0 4.3h-1.2zM62 108.8h1.2l-0 4.3h-1.2zM61.9 116.8h1.2l-0.1 8.3h-1.2zM61.8 128.8h1.2l-0.1 8.3h-1.2zM67.4 49.2h1.3l0 4.4h-1.3zM67.4 61.7h1.3l0 8.6h-1.3zM67.4 78.2h1.3l0 8.6h-1.3zM71.5 45h1.7l-0 4.4h-1.7zM71.5 53.2h1.7l-0 4.4h-1.7zM71.5 69.6h1.7l-0 4.4h-1.7zM72.7 49h2.3l0 4.5h-2.3zM63.4 31.3h1.2l0 4.4h-1.2zM65.2 19h1.3l-0 5.1h-1.3zM68.9 33.1h1.9l-0.6 10.3h-1.9zM105.7 29.5h1.6l0 5h-1.6zM64.2 43.7H69V45.5H64.2z"/><path fill="#b5f01f" d="M60 48.8h1.8l0 4.4h-1.8zM60.2 98.3h1.8l0 4.4h-1.8zM60.3 127.1h1.8l0 4.4h-1.8zM62.6 48.6h1.2l-0 4.3h-1.2zM61.9 124.8h1.2l-0 4.3h-1.2zM63.8 64.8h1.3l0 4.4h-1.3zM63.8 81.1h1.3l0 4.4h-1.3zM67.4 69.9h1.3l0 4.4h-1.3zM67.4 119.7h1.3l0 4.4h-1.3zM71.5 57.3h1.7l-0 4.4h-1.7zM71.4 102.3h1.7l-0 4.4h-1.7zM74.1 65.3h1.6l-0 4.4h-1.6zM64.4 25.3h1l0 9h-1zM74.5 25.8h2.1l0 4.5h-2.1zM106.3 32.5h0.5l-0.2 4.4h-0.5z"/><path fill="#c4f020" d="M60.2 94.2h1.8l0 4.4h-1.8zM62.6 52.6h1.2l-0.1 8.3h-1.2zM63.8 44.4h1.3l0 4.4h-1.3zM63.8 68.9h1.3l0 4.4h-1.3zM67.4 74.1h1.3l0 4.4h-1.3zM67.4 90.7h1.3l0 4.4h-1.3zM67.4 115.5h1.3l0 4.4h-1.3zM67.4 123.8h1.3l0 4.4h-1.3zM67.4 132.1h1.3l0 4.4h-1.3zM71.5 73.7h1.7l-0 4.4h-1.7zM74.2 57.2h1.6l-0.1 8.4h-1.6zM75.3 49.3h1.4l-0.1 8.6h-1.4zM65.2 23.7h1.3l-0 5.1h-1.3zM65.2 33.3h1.3l-0 5.1h-1.3zM67.7 27.6h2.3l0.1 4.4h-2.3zM67.9 35.8h2.3l0.1 4.4h-2.3zM91.6 22.2h1.4l-0.2 4.4h-1.4zM95.8 22h1.3l0.1 5h-1.3z"/><path fill="#d2f020" d="M63.8 48.5h1.3l0 16.6h-1.3zM63.8 77h1.3l0 4.4h-1.3zM63.8 89.3h1.3l0 4.4h-1.3zM63.8 101.5h1.3l0 4.4h-1.3zM63.8 109.6h1.3l0 4.4h-1.3zM67.4 86.5h1.3l0 4.4h-1.3zM67.4 94.8h1.3l0 16.9h-1.3zM67.4 128h1.3l0 4.4h-1.3zM71.5 65.5h1.7l-0 4.4h-1.7zM71.4 98.2h1.7l-0 4.4h-1.7zM72.7 44.9h2.3l0 4.5h-2.3zM72.8 61.5h2.3l0 4.5h-2.3zM74.3 45h1.6l-0.1 8.4h-1.6zM74 69.4h1.6l-0.1 12.5h-1.6zM75.3 45.1h1.4l-0 4.5h-1.4zM75 74.3h1.4l-0 4.5h-1.4zM64.4 34h1l0 4.7h-1zM65.2 28.5h1.3l-0 5.1h-1.3zM65.2 38.1h1.3l-0 5.1h-1.3zM68 39.9h2.3l0.1 4.4h-2.3zM74.5 21.6h2.1l0 4.5h-2.1zM79.9 23.4h1.7l-0.3 5.1h-1.7zM67.2 43.7H72V45.5H67.2z"/><path fill="#f3f026" d="M63.8 73h1.3l0 4.4h-1.3zM63.8 125.9h1.3l0 4.4h-1.3zM67.4 111.4h1.3l0 4.4h-1.3zM68.3 65.8h2.3l-0 4.5h-2.3zM68.3 74.2h2.3l-0 12.8h-2.3zM69.8 57.6h2.1l-0 4.5h-2.1zM71.4 94.1h1.7l-0 4.4h-1.7zM71.4 110.5h1.7l-0 4.4h-1.7zM72.9 90.6h2.3l0 4.5h-2.3zM73.9 85.7h1.6l-0 4.4h-1.6zM73.7 106h1.6l-0 4.4h-1.6zM74.8 91h1.4l-0.2 21.2h-1.4zM74.4 124.3h1.4l-0 4.5h-1.4zM70.6 23.4h0.8l0 8.4h-0.8zM79.4 33h1.7l-0.3 5.1h-1.7zM96.8 26.7h0.8l0 4.7h-0.8zM70.2 43.7H75V45.5H70.2z"/><path fill="#e0f020" d="M63.8 85.2h1.3l0 4.4h-1.3zM63.8 97.4h1.3l0 4.4h-1.3zM63.8 105.6h1.3l0 4.4h-1.3zM63.8 117.8h1.3l0 4.4h-1.3zM68.3 49.1h2.3l-0 4.5h-2.3zM68.3 57.5h2.3l-0 4.5h-2.3zM71.5 77.7h1.7l-0 16.7h-1.7zM71.4 106.4h1.7l-0 4.4h-1.7zM71.4 114.5h1.7l-0 4.4h-1.7zM71.3 122.7h1.7l-0 4.4h-1.7zM71.3 130.9h1.7l-0 4.4h-1.7zM72.8 53.2h2.3l0 8.6h-2.3zM72.8 65.6h2.3l0 4.5h-2.3zM72.8 78.1h2.3l0 4.5h-2.3zM72.9 86.4h2.3l0 4.5h-2.3zM72.9 94.7h2.3l0 4.5h-2.3zM73.7 102h1.6l-0 4.4h-1.6zM73.6 110.1h1.6l-0 4.4h-1.6zM75.2 57.6h1.4l-0 4.5h-1.4zM75.1 65.9h1.4l-0.1 8.6h-1.4zM74.6 111.8h1.4l-0 4.5h-1.4zM67.8 31.7h2.3l0.1 4.4h-2.3zM76.4 21.7h1.2l0.2 4.8h-1.2zM79.7 28.2h1.7l-0.3 5.1h-1.7zM90.5 22.4h1.7l-0.2 4.6h-1.7zM96.8 22.3h0.8l0 4.7h-0.8zM105.7 34.2h1.6l0 5h-1.6z"/><path fill="#eaf023" d="M63.8 93.3h1.3l0 4.4h-1.3zM63.8 113.7h1.3l0 4.4h-1.3zM63.8 121.9h1.3l0 4.4h-1.3zM63.8 130h1.3l0 4.4h-1.3zM68.3 44.9h2.3l-0 4.5h-2.3zM69.9 45.1h2.1l-0 4.5h-2.1zM71.3 118.6h1.7l-0 4.4h-1.7zM72.8 73.9h2.3l0 4.5h-2.3zM72.9 82.2h2.3l0 4.5h-2.3zM73.9 81.6h1.6l-0 4.4h-1.6zM73.8 89.7h1.6l-0.1 12.5h-1.6zM73.5 122.3h1.6l-0 4.4h-1.6zM75.1 61.8h1.4l-0 4.5h-1.4zM74.9 82.6h1.4l-0 4.5h-1.4zM74.5 116h1.4l-0 4.5h-1.4zM74.4 128.5h1.4l-0.1 8.6h-1.4zM74.5 29.9h2.1l0 4.5h-2.1zM92.7 22.3h1.7l0.1 4.3h-1.7z"/><path fill="#f8e92c" d="M68.3 53.3h2.3l-0 4.5h-2.3zM68.3 61.6h2.3l-0 4.5h-2.3zM68.3 70h2.3l-0 4.5h-2.3zM68.2 99.2h2.3l-0 4.5h-2.3zM68.2 111.7h2.3l-0 4.5h-2.3zM69.9 49.3h2.1l-0 4.5h-2.1zM71.3 126.8h1.7l-0 4.4h-1.7zM72.8 69.8h2.3l0 4.5h-2.3zM72.9 98.9h2.3l0 4.5h-2.3zM72.9 107.2h2.3l0 4.5h-2.3zM73 115.5h2.3l0 8.6h-2.3zM73.6 114.2h1.6l-0.1 8.4h-1.6zM75 78.5h1.4l-0 4.5h-1.4zM74.5 120.2h1.4l-0 4.5h-1.4zM70.6 31.5h0.8l0 4.3h-0.8zM74.5 34.1h2.1l0 4.5h-2.1zM79.1 37.8h1.7l-0.3 5.1h-1.7zM89 22.4h2.3l0.1 4.7h-2.3zM92.9 26.3h1.7l0.1 4.3h-1.7zM94.2 22.3h2l-0.3 4.3h-2zM106.1 36.6h0.5l-0.2 4.4h-0.5z"/><path fill="#f7cf3b" d="M68.2 86.7h2.3l-0 4.5h-2.3zM68.2 95h2.3l-0 4.5h-2.3zM68.2 103.4h2.3l-0 4.5h-2.3zM68.2 124.3h2.3l-0 4.5h-2.3zM68.2 132.6h2.3l-0 4.5h-2.3zM69.8 65.9h2.1l-0 4.5h-2.1zM69.8 78.4h2.1l-0 4.5h-2.1zM69.7 99.3h2.1l-0 4.5h-2.1zM69.6 120.1h2.1l-0 4.5h-2.1zM73 111.3h2.3l0 4.5h-2.3zM83.1 52.7h1.9l0 4.4h-1.9zM76.8 30.6h1.2l0.2 4.8h-1.2zM90.2 26.7h1.7l-0.2 4.6h-1.7zM93.9 26.3h2l-0.3 4.3h-2zM96.8 31.1h0.8l0 4.7h-0.8z"/><path fill="#f8dc35" d="M68.2 90.9h2.3l-0 4.5h-2.3zM68.2 120.1h2.3l-0 4.5h-2.3zM69.9 53.4h2.1l-0 4.5h-2.1zM69.7 82.6h2.1l-0 4.5h-2.1zM72.9 103h2.3l0 4.5h-2.3zM73 132.1h2.3l0 4.5h-2.3zM74.9 86.8h1.4l-0 4.5h-1.4zM83.1 56.9h1.9l0 4.4h-1.9zM70.6 35.5h0.8l0 8.4h-0.8zM78.3 21.9h0.6l0 4.7h-0.6zM86.9 22.5h1.3l0.2 4.4h-1.3zM91.4 26.3h1.4l-0.2 4.4h-1.4zM96 26.8h1.3l0.1 5h-1.3zM73.2 43.7H78V45.5H73.2z"/><path fill="#f5c140" d="M68.2 107.6h2.3l-0 4.5h-2.3zM68.2 115.9h2.3l-0 4.5h-2.3zM68.2 128.4h2.3l-0 4.5h-2.3zM69.8 61.8h2.1l-0 4.5h-2.1zM69.8 70.1h2.1l-0 4.5h-2.1zM69.7 86.8h2.1l-0 4.5h-2.1zM69.7 95.1h2.1l-0 4.5h-2.1zM73 123.8h2.3l0 8.6h-2.3zM83 44.5h1.9l0.1 8.5h-1.9zM76.6 26.2h1.2l0.2 4.8h-1.2zM77.1 39.6h1.2l0.2 4.8h-1.2zM86 23.6h1l0 5.2h-1zM93 30.3h1.7l0.1 4.3h-1.7zM76.2 43.7H81.1V45.5H76.2z"/><path fill="#f1ab40" d="M69.8 74.3h2.1l-0 4.5h-2.1zM69.7 91h2.1l-0 4.5h-2.1zM69.7 103.5h2.1l-0 4.5h-2.1zM69.6 116h2.1l-0 4.5h-2.1zM69.6 128.5h2.1l-0 4.5h-2.1zM77.1 45h1.5l0 4.4h-1.5zM77.2 77.5h1.5l0 4.4h-1.5zM78.9 48.8h2.1l0 8.5h-2.1zM80.4 49.1h1.9l0 4.4h-1.9zM83.2 61h1.9l0 4.4h-1.9zM83.4 85.7h1.9l0 4.4h-1.9zM90.5 44.5h1.3l0 4.3h-1.3zM90.7 60.6h1.3l0 4.3h-1.3zM105 44.9h2l0 8.6h-2zM105.1 82.4h2l0 4.5h-2zM105.2 111.5h2l0 4.5h-2zM80.8 27.6h2.4l-0.1 4.4h-2.4zM87.9 22.2h1.9l-0.2 5.2h-1.9zM89.1 26.8h2.3l0.1 4.7h-2.3z"/><path fill="#f3b640" d="M69.6 107.6h2.1l-0 8.6h-2.1zM69.6 124.3h2.1l-0 4.5h-2.1zM69.6 132.6h2.1l-0 4.5h-2.1zM77.1 49.1h1.5l0 8.4h-1.5zM78.2 45.1h0.7l-0 8.6h-0.7zM78.1 57.5h0.7l-0 4.4h-0.7zM83.2 65.1h1.9l0 4.4h-1.9zM83.5 102.2h1.9l0 4.4h-1.9zM105.1 57.4h2l0 8.6h-2zM76.9 35.1h1.2l0.2 4.8h-1.2zM77.1 21.7h1.7l0 9.1h-1.7zM80.9 23.5h2.4l-0.1 4.4h-2.4zM83.4 23.1h1.2l0.4 4.5h-1.2zM84.4 23.3h2.1l0.1 5.1h-2.1zM87.1 26.6h1.3l0.2 4.4h-1.3zM89.6 39.7h1.7l-0.2 4.6h-1.7zM91.2 30.3h1.4l-0.2 4.4h-1.4zM93.1 34.3h1.7l0.1 4.3h-1.7zM96.1 31.5h1.3l0.1 5h-1.3zM79.3 43.7H84.1V45.5H79.3z"/><path fill="#f0a03d" d="M76.2 44.8h1.3l-0 8.6h-1.3zM77.1 61.3h1.5l0 8.4h-1.5zM78.2 53.4h0.7l-0 4.4h-0.7zM78.1 61.6h0.7l-0 4.4h-0.7zM78.9 44.7h2.1l0 4.4h-2.1zM78.9 57h2.1l0 8.5h-2.1zM80.4 53.3h1.9l0 4.4h-1.9zM80.5 65.7h1.9l0 4.4h-1.9zM83.2 69.2h1.9l0.2 16.8h-1.9zM86.9 45h1.4l-0 4.4h-1.4zM90.6 52.5h1.3l0 4.3h-1.3zM90.7 64.6h1.3l0 4.3h-1.3zM105.1 53.3h2l0 4.5h-2zM105.1 74.1h2l0 8.6h-2zM105.2 94.9h2l0 4.5h-2zM105.2 107.4h2l0 4.5h-2zM105.3 128.2h2l0 4.5h-2zM106.8 126.2h0.5l0 4.4h-0.5zM77.1 30.5h1.7l0 4.7h-1.7zM78.3 26.3h0.6l0 4.7h-0.6zM83.8 27.3h1.2l0.4 4.5h-1.2zM84.5 28.1h2.1l0.1 5.1h-2.1zM89.8 35.3h1.7l-0.2 4.6h-1.7zM91 34.4h1.4l-0.2 4.4h-1.4zM96.8 35.5h0.8l0 4.7h-0.8zM105.7 38.9h1.6l0 5h-1.6zM85.3 43.7H90.1V45.5H85.3zM100.4 43.7H105.2V45.5H100.4z"/><path fill="#f0953a" d="M76.2 53.1h1.3l-0 4.5h-1.3zM77.1 57.2h1.5l0 4.4h-1.5zM77.2 69.4h1.5l0 4.4h-1.5zM78.1 74h0.7l-0 4.4h-0.7zM78 102.9h0.7l-0 4.4h-0.7zM78 111.1h0.7l-0 4.4h-0.7zM78.9 65.2h2.1l0 4.4h-2.1zM78.9 77.5h2.1l0 4.4h-2.1zM80.3 45h1.9l0 4.4h-1.9zM80.5 61.6h1.9l0 4.4h-1.9zM80.5 69.8h1.9l0.1 8.6h-1.9zM83.4 89.8h1.9l0 4.4h-1.9zM83.5 98.1h1.9l0 4.4h-1.9zM83.7 122.8h1.9l0 4.4h-1.9zM85.8 61.7h1.2l-0 4.5h-1.2zM86.8 49.2h1.4l-0 4.4h-1.4zM90.6 48.5h1.3l0 4.3h-1.3zM90.7 56.6h1.3l0 4.3h-1.3zM90.9 76.6h1.3l0.1 8.3h-1.3zM91.2 104.7h1.3l0 4.3h-1.3zM97.4 44.6h1.9l0 4.4h-1.9zM98.9 45h1.8l-0 4.3h-1.8zM100.1 56.8h2.3l0 4.4h-2.3zM105.1 65.7h2l0 8.6h-2zM105.2 90.7h2l0 4.5h-2zM105.2 99h2l0 4.5h-2zM105.2 115.7h2l0 12.8h-2zM78.3 30.7h0.6l0 4.7h-0.6zM84.5 35.7h1.2l0.4 4.5h-1.2zM86 28.5h1l0 10.1h-1zM90 31h1.7l-0.2 4.6h-1.7zM90.7 38.4h1.4l-0.2 4.4h-1.4zM93.2 38.3h1.7l0.1 4.3h-1.7zM96.2 36.2h1.3l0.1 5h-1.3zM82.3 43.7H87.1V45.5H82.3z"/><path fill="#ef8638" d="M76.1 57.2h1.3l-0 8.6h-1.3zM77.2 73.5h1.5l0 4.4h-1.5zM77.2 85.6h1.5l0 4.4h-1.5zM77.3 114.1h1.5l0 4.4h-1.5zM78.1 65.7h0.7l-0 8.6h-0.7zM78.1 78.1h0.7l-0 4.4h-0.7zM78 94.6h0.7l-0 4.4h-0.7zM78 107h0.7l-0 4.4h-0.7zM78.9 85.7h2.1l0 4.4h-2.1zM78.9 102.1h2.1l0 4.4h-2.1zM80.6 82.2h1.9l0.1 8.6h-1.9zM83.5 93.9h1.9l0 4.4h-1.9zM83.6 106.3h1.9l0 4.4h-1.9zM83.6 114.5h1.9l0 4.4h-1.9zM85.8 57.5h1.2l-0 4.5h-1.2zM86.8 53.3h1.4l-0 4.4h-1.4zM90.8 68.6h1.3l0 4.3h-1.3zM91.1 96.7h1.3l0 4.3h-1.3zM91.4 124.8h1.3l0 4.3h-1.3zM97.4 52.8h1.9l0 4.4h-1.9zM98.6 101.7h1.8l-0 4.3h-1.8zM98.5 130.1h1.8l-0 4.3h-1.8zM100.1 52.7h2.3l0 4.4h-2.3zM101.9 56.9h2l-0 4.4h-2zM105.1 86.6h2l0 4.5h-2zM105.2 103.2h2l0 4.5h-2zM106.8 48.9h0.5l0 4.4h-0.5zM106.8 130.2h0.5l0 4.4h-0.5zM77.1 34.9h1.7l0 4.7h-1.7zM78.3 39.5h0.6l0 4.7h-0.6zM84.6 32.9h2.1l0.2 9.9h-2.1zM86 38.3h1l0 5.2h-1zM93.6 30.3h2l-0.3 4.3h-2zM96.8 39.9h0.8l0 4.7h-0.8zM91.3 43.7H96.1V45.5H91.3zM94.3 43.7H99.2V45.5H94.3zM97.4 43.7H102.2V45.5H97.4zM103.4 43.7H108.2V45.5H103.4z"/><path fill="#e85938" d="M76.1 65.5h1.3l-0 4.5h-1.3zM76 73.9h1.3l-0 4.5h-1.3zM76 82.2h1.3l-0 8.6h-1.3zM75.7 132h1.3l-0 4.5h-1.3zM78 98.7h0.7l-0 4.4h-0.7zM77.9 127.6h0.7l-0 4.4h-0.7zM78.9 81.6h2.1l0 4.4h-2.1zM78.9 89.8h2.1l0 8.5h-2.1zM78.9 106.2h2.1l0 4.4h-2.1zM80.7 90.5h1.9l0.1 12.7h-1.9zM80.8 107h1.9l0 4.4h-1.9zM81 123.6h1.9l0 4.4h-1.9zM81 131.9h1.9l0 4.4h-1.9zM84 57.4h2.1l-0.1 4.5h-2.1zM83.8 70h2.1l-0.1 4.5h-2.1zM85.8 65.9h1.2l-0 4.5h-1.2zM85.7 74.2h1.2l-0.1 8.7h-1.2zM86.7 69.8h1.4l-0 4.4h-1.4zM86.6 82.2h1.4l-0 4.4h-1.4zM86.5 90.5h1.4l-0 4.4h-1.4zM91.1 92.7h1.3l0 4.3h-1.3zM91.2 100.7h1.3l0 4.3h-1.3zM91.5 132.9h1.3l0 4.3h-1.3zM91.3 48.9h1.7l-0 4.4h-1.7zM91.2 57.1h1.7l-0 4.4h-1.7zM91.2 69.3h1.7l-0 4.4h-1.7zM91.2 77.4h1.7l-0 4.4h-1.7zM92.5 44.5h1.3l-0 4.3h-1.3zM93.6 48.8h1.5l0 4.4h-1.5zM93.6 61h1.5l0 4.4h-1.5zM93.6 69.2h1.5l0 4.4h-1.5zM97.4 65h1.9l0 4.4h-1.9zM97.5 77.3h1.9l0 4.4h-1.9zM97.5 101.8h1.9l0 4.4h-1.9zM97.5 114h1.9l0 4.4h-1.9zM98.8 61.2h1.8l-0 4.3h-1.8zM98.7 89.6h1.8l-0 4.3h-1.8zM98.6 105.8h1.8l-0 4.3h-1.8zM98.6 113.9h1.8l-0 4.3h-1.8zM98.5 122h1.8l-0 4.3h-1.8zM100.1 60.9h2.3l0 4.4h-2.3zM100.1 77.2h2.3l0 4.4h-2.3zM100.1 85.4h2.3l0 4.4h-2.3zM100.1 109.9h2.3l0 8.5h-2.3zM101.9 44.7h2l-0 4.4h-2zM101.8 81.2h2l-0 8.4h-2zM101.7 97.4h2l-0 12.5h-2zM101.6 129.9h2l-0 4.4h-2zM103.1 60.9h2l-0.1 8.4h-2zM102.1 125.4h2l-0.1 4.3h-2zM106.8 57.1h0.5l0 4.4h-0.5zM106.8 73.3h0.5l0 8.4h-0.5zM106.8 97.7h0.5l0 20.6h-0.5z"/><path fill="#ed7438" d="M76.1 69.7h1.3l-0 4.5h-1.3zM75.9 90.5h1.3l-0 4.5h-1.3zM77.2 81.6h1.5l0 4.4h-1.5zM77.2 97.8h1.5l0 4.4h-1.5zM78.1 82.2h0.7l-0 12.7h-0.7zM78 115.2h0.7l-0 4.4h-0.7zM77.9 123.5h0.7l-0 4.4h-0.7zM78.9 69.3h2.1l0 4.4h-2.1zM78.9 118.5h2.1l0 4.4h-2.1zM78.9 130.8h2.1l0 4.4h-2.1zM80.4 57.4h1.9l0 4.4h-1.9zM80.6 78.1h1.9l0 4.4h-1.9zM80.9 115.3h1.9l0 4.4h-1.9zM81 127.7h1.9l0 4.4h-1.9zM83.7 118.7h1.9l0 4.4h-1.9zM84.3 44.7h2.1l-0.2 13h-2.1zM83.9 61.6h2.1l-0.1 4.5h-2.1zM86 45h1.2l-0 4.5h-1.2zM86.7 61.6h1.4l-0 4.4h-1.4zM90.8 72.6h1.3l0 4.3h-1.3zM91 84.7h1.3l0.1 8.3h-1.3zM91.3 108.8h1.3l0 4.3h-1.3zM91.3 44.9h1.7l-0 4.4h-1.7zM91.2 53h1.7l-0 4.4h-1.7zM91.2 65.2h1.7l-0 4.4h-1.7zM92.5 52.6h1.3l-0 4.3h-1.3zM97.4 48.7h1.9l0 4.4h-1.9zM97.4 60.9h1.9l0 4.4h-1.9zM97.5 126.3h1.9l0 4.4h-1.9zM98.8 49.1h1.8l-0 12.4h-1.8zM98.8 69.3h1.8l-0 4.3h-1.8zM98.7 81.5h1.8l-0 4.3h-1.8zM100.1 44.5h2.3l0 8.5h-2.3zM100.1 73.1h2.3l0 4.4h-2.3zM106.8 53h0.5l0 4.4h-0.5zM106.8 61.1h0.5l0 12.5h-0.5zM106.8 81.5h0.5l0 12.5h-0.5zM106.8 118h0.5l0 4.4h-0.5zM77.1 39.3h1.7l0 4.7h-1.7zM80.7 35.7h2.4l-0.1 4.4h-2.4zM84.1 31.5h1.2l0.4 4.5h-1.2zM87.5 34.9h1.3l0.2 4.4h-1.3zM87.8 27.1h1.9l-0.2 5.2h-1.9zM89.2 31.2h2.3l0.1 4.7h-2.3zM89.4 40h2.3l0.1 4.7h-2.3zM93.4 34.4h2l-0.3 4.3h-2zM88.3 43.7H93.1V45.5H88.3z"/><path fill="#ea6638" d="M76 78h1.3l-0 4.5h-1.3zM75.9 98.8h1.3l-0 4.5h-1.3zM75.8 107.1h1.3l-0 8.6h-1.3zM77.2 89.7h1.5l0 8.4h-1.5zM77.2 101.9h1.5l0 12.5h-1.5zM77.3 118.1h1.5l0 16.5h-1.5zM77.9 119.4h0.7l-0 4.4h-0.7zM77.9 131.7h0.7l-0 4.4h-0.7zM78.9 73.4h2.1l0 4.4h-2.1zM78.9 98h2.1l0 4.4h-2.1zM78.9 114.4h2.1l0 4.4h-2.1zM80.8 102.9h1.9l0 4.4h-1.9zM80.9 111.2h1.9l0 4.4h-1.9zM80.9 119.5h1.9l0 4.4h-1.9zM83.6 110.4h1.9l0 4.4h-1.9zM83.8 126.9h1.9l0 4.4h-1.9zM83.8 65.8h2.1l-0.1 4.5h-2.1zM83.1 103.8h2.1l-0.1 4.5h-2.1zM85.9 49.2h1.2l-0.1 8.7h-1.2zM85.7 70.1h1.2l-0 4.5h-1.2zM85.5 95.1h1.2l-0 4.5h-1.2zM86.7 65.7h1.4l-0 4.4h-1.4zM91.3 112.8h1.3l0 4.3h-1.3zM91.5 128.8h1.3l0 4.3h-1.3zM93.6 44.7h1.5l0 4.4h-1.5zM93.6 52.9h1.5l0 4.4h-1.5zM97.4 56.8h1.9l0 4.4h-1.9zM97.4 69.1h1.9l0 8.5h-1.9zM97.5 122.2h1.9l0 4.4h-1.9zM98.8 65.3h1.8l-0 4.3h-1.8zM98.7 73.4h1.8l-0 8.4h-1.8zM98.7 85.5h1.8l-0 4.3h-1.8zM98.7 93.6h1.8l-0 4.3h-1.8zM100.1 69h2.3l0 4.4h-2.3zM100.1 81.3h2.3l0 4.4h-2.3zM100.1 89.5h2.3l0 4.4h-2.3zM101.9 52.8h2l-0 4.4h-2zM101.8 60.9h2l-0 4.4h-2zM101.8 69h2l-0 8.4h-2zM101.6 117.7h2l-0 4.4h-2zM106.8 44.9h0.5l0 4.4h-0.5zM106.8 93.6h0.5l0 4.4h-0.5zM78.3 35.1h0.6l0 4.7h-0.6zM80.8 31.6h2.4l-0.1 4.4h-2.4zM87.3 30.8h1.3l0.2 4.4h-1.3zM87.7 39.1h1.3l0.2 4.4h-1.3zM89.3 35.6h2.3l0.1 4.7h-2.3z"/><path fill="#e64a36" d="M75.9 94.6h1.3l-0 4.5h-1.3zM75.9 102.9h1.3l-0 4.5h-1.3zM75.8 115.4h1.3l-0 4.5h-1.3zM75.7 127.9h1.3l-0 4.5h-1.3zM78.9 110.3h2.1l0 4.4h-2.1zM78.9 122.6h2.1l0 4.4h-2.1zM83.8 131h1.9l0 4.4h-1.9zM83.5 82.7h2.1l-0.2 8.7h-2.1zM85.6 82.6h1.2l-0.1 8.7h-1.2zM85.4 99.3h1.2l-0 4.5h-1.2zM86.8 57.4h1.4l-0 4.4h-1.4zM86.7 74h1.4l-0 4.4h-1.4zM86.6 86.4h1.4l-0 4.4h-1.4zM86.5 94.6h1.4l-0.1 12.7h-1.4zM86.4 115.3h1.4l-0 4.4h-1.4zM91.3 116.8h1.3l0.1 8.3h-1.3zM91.2 61.1h1.7l-0 4.4h-1.7zM91.2 73.3h1.7l-0 4.4h-1.7zM92.5 48.6h1.3l-0 4.3h-1.3zM92.4 64.6h1.3l-0 8.3h-1.3zM92.4 88.6h1.3l-0 4.3h-1.3zM93.6 56.9h1.5l0 4.4h-1.5zM93.6 106h1.5l0 4.4h-1.5zM97.5 85.4h1.9l0 8.5h-1.9zM97.5 118.1h1.9l0 4.4h-1.9zM98.6 97.7h1.8l-0 4.3h-1.8zM98.6 117.9h1.8l-0 4.3h-1.8zM98.5 126h1.8l-0 4.3h-1.8zM100.1 65h2.3l0 4.4h-2.3zM100.1 101.7h2.3l0 8.5h-2.3zM101.9 48.7h2l-0 4.4h-2zM101.8 65h2l-0 4.4h-2zM101.8 77.2h2l-0 4.4h-2zM101.7 89.3h2l-0 8.4h-2zM101.6 109.6h2l-0 4.4h-2zM101.6 121.8h2l-0 8.4h-2zM103.3 44.8h2l-0.1 4.3h-2zM103 68.9h2l-0.1 4.3h-2zM102.8 81h2l-0.1 4.3h-2zM102.5 97.2h2l-0.1 4.3h-2zM102.3 113.3h2l-0.1 4.3h-2zM106.8 122.1h0.5l0 4.4h-0.5zM80.6 39.8h2.4l-0.1 4.4h-2.4zM93.1 38.4h2l-0.3 4.3h-2z"/><path fill="#e44034" d="M75.8 119.6h1.3l-0 8.6h-1.3zM83.7 74.3h2.1l-0.1 4.5h-2.1zM83.4 91.1h2.1l-0.2 13h-2.1zM85.3 107.7h1.2l-0.2 17h-1.2zM86.6 78.1h1.4l-0 4.4h-1.4zM86.4 107h1.4l-0.1 8.6h-1.4zM91.1 81.5h1.7l-0 4.4h-1.7zM91.1 89.6h1.7l-0 4.4h-1.7zM91 109.9h1.7l-0 4.4h-1.7zM91 130.2h1.7l-0 4.4h-1.7zM92.4 56.6h1.3l-0 8.3h-1.3zM92.4 72.6h1.3l-0 4.3h-1.3zM92.3 92.6h1.3l-0 4.3h-1.3zM93.6 73.3h1.5l0 4.4h-1.5zM93.6 85.6h1.5l0 4.4h-1.5zM93.6 110.1h1.5l0 4.4h-1.5zM97.5 81.4h1.9l0 4.4h-1.9zM97.5 97.7h1.9l0 4.4h-1.9zM97.5 105.9h1.9l0 8.5h-1.9zM97.5 130.4h1.9l0 4.4h-1.9zM100.1 93.5h2.3l0 4.4h-2.3zM101.6 113.7h2l-0 4.4h-2zM103.1 56.9h2l-0.1 4.3h-2zM102.6 89.1h2l-0.1 4.3h-2zM102.5 101.2h2l-0.1 8.4h-2zM102.1 121.3h2l-0.1 4.3h-2zM102 129.4h2l-0.1 4.3h-2z"/><path fill="#e33f33" d="M78.9 126.7h2.1l0 4.4h-2.1zM81.7 49h1.5l-0.1 4.3h-1.5zM81.6 57h1.5l-0.1 4.3h-1.5zM83.6 78.5h2.1l-0.1 4.5h-2.1zM85.5 90.9h1.2l-0 4.5h-1.2zM85.4 103.5h1.2l-0 4.5h-1.2zM86.3 123.6h1.4l-0.1 8.6h-1.4zM91.1 97.7h1.7l-0 4.4h-1.7zM91 118h1.7l-0 12.5h-1.7zM92.4 76.6h1.3l-0 12.3h-1.3zM92.2 124.7h1.3l-0 4.3h-1.3zM93.6 65.1h1.5l0 4.4h-1.5zM93.6 81.5h1.5l0 4.4h-1.5zM93.6 89.6h1.5l0 4.4h-1.5zM93.6 97.8h1.5l0 8.5h-1.5zM93.6 114.2h1.5l0 4.4h-1.5zM97.5 93.6h1.9l0 4.4h-1.9zM98.6 109.8h1.8l-0 4.3h-1.8zM100.1 97.6h2.3l0 4.4h-2.3zM103.2 52.8h2l-0.1 4.3h-2zM102.9 73h2l-0.1 8.4h-2zM102.7 85.1h2l-0.1 4.3h-2zM102.2 117.3h2l-0.1 4.3h-2zM87.6 32h1.9l-0.2 5.2h-1.9z"/><path fill="#e33e33" d="M81.8 45h1.5l-0.1 4.3h-1.5zM85.1 132.7h1.2l-0 4.5h-1.2zM86.3 119.4h1.4l-0 4.4h-1.4zM91.1 85.5h1.7l-0 4.4h-1.7zM91.1 93.6h1.7l-0 4.4h-1.7zM91.1 101.8h1.7l-0 8.4h-1.7zM92.3 96.7h1.3l-0 4.3h-1.3zM92.3 104.7h1.3l-0 4.3h-1.3zM92.3 116.7h1.3l-0 8.3h-1.3zM93.6 77.4h1.5l0 4.4h-1.5zM93.6 93.7h1.5l0 4.4h-1.5zM93.6 118.3h1.5l0 4.4h-1.5zM103.3 48.8h2l-0.1 4.3h-2zM102.6 93.1h2l-0.1 4.3h-2zM102.3 109.2h2l-0.1 4.3h-2zM87.4 36.9h1.9l-0.2 5.2h-1.9z"/><path fill="#e33d33" d="M81.7 53h1.5l-0.1 4.3h-1.5zM81.4 73.1h1.5l-0.1 8.3h-1.5zM85.2 124.4h1.2l-0.1 8.7h-1.2zM86.2 131.8h1.4l-0 4.4h-1.4zM91 114h1.7l-0 4.4h-1.7zM92.3 100.7h1.3l-0 4.3h-1.3zM93.6 122.3h1.5l0 4.4h-1.5zM93.6 130.5h1.5l0 4.4h-1.5z"/><path fill="#e23c32" d="M81.6 61.1h1.5l-0.2 12.4h-1.5zM81.3 81.2h1.5l-0.7 52.6h-1.5zM92.3 108.7h1.3l-0 8.3h-1.3zM92.2 128.7h1.3l-0 8.3h-1.3zM93.6 126.4h1.5l0 4.4h-1.5z"/><path fill="#2854ce" d="M25.5 20.4h1.1l0 5.2h-1.1zM26.1 20.4h1.2l-0.1 5h-1.2zM27.1 20.7h2.1l0.1 4.9h-2.1zM28.5 20.9h1.2l0 4.6h-1.2z"/><path fill="#3c7c99" d="M25.5 25.3h1.1l0 5.2h-1.1zM26 25.1h1.2l-0.1 5h-1.2zM27.2 25.3h2.1l0.1 4.9h-2.1zM28.5 25.2h1.2l0 4.6h-1.2z"/><path fill="#4d937b" d="M25.5 30.2h1.1l0 5.2h-1.1zM25.9 29.8h1.2l-0.1 5h-1.2zM27.3 29.9h2.1l0.1 4.9h-2.1z"/><path fill="#66b052" d="M25.5 35.1h1.1l0 5.2h-1.1zM27 34.6H29.6V40.2H27z"/><path fill="#5fa561" d="M25.7 34.4h1.2l-0.1 5h-1.2zM27.5 34.5h2.1l0.1 4.9h-2.1zM28.5 33.8h1.2l0 4.6h-1.2z"/><path fill="#458d83" d="M28.5 29.5h1.2l0 4.6h-1.2zM27 28.5H29.6V34.1H27z"/><path fill="#333fea" d="M14.5 23H17.1V29.3H14.5zM14.5 19.3H17.1V25.6H14.5zM14.5 19.3H20.2V21.9H14.5zM17.6 19.3H23.3V21.9H17.6zM20.7 19.3H26.5V21.9H20.7zM23.9 19.3H29.6V21.9H23.9zM27 19.3H29.6V25H27zM27 22.4H29.6V28H27zM27 25.4H29.6V31.1H27zM86.1 19H91.8V21.6H86.1zM89.2 19H94.9V21.6H89.2zM92.3 19H98V21.6H92.3zM95.4 19H101V21.6H95.4zM98.4 19H104.1V21.6H98.4zM101.5 19H107.2V21.6H101.5zM104.6 19H107.2V24.8H104.6z"/><path fill="#569c6f" d="M27 31.5H29.6V37.2H27z"/><path fill="#fff" d="M21.6 56H24.3V68.5H21.6zM19.5 60.5H26V63H19.5zM26.3 79.5H27.3V136H26.3zM39.5 68H40.5V137H39.5zM58.7 68H59.5V137H58.7zM65.6 68H66.6V137H65.6zM88.7 52H89.9V137H88.7zM94.4 80H97.4V115H94.4zM97.6 22.5H104.6V43.6H97.6zM69.7 29.5H71.9V43.6H69.7zM60.6 24H63.1V43.6H60.6zM17.5 23H25V43.8H17.5zM29.8 22H37.6V44H29.8zM46 20H57.2V44H46z"/></g><g transform="translate(180.20,429.00)"><path fill="#7eec1b" d="M14.3 34.1h1.2l0 13h-1.2zM14.3 59.5h1.2l0 4.5h-1.2zM14.3 68h1.2l0 4.5h-1.2zM14.3 80.7h1.2l0 4.5h-1.2zM16.7 62h2l-0 4.3h-2zM16.6 70h2l-0 4.3h-2zM16.6 78.1h2l-0 4.3h-2zM19.2 34.1h1.8l-0.1 8.8h-1.8zM18.8 55.3h1.8l-0.1 4.6h-1.8zM13.7 103.7h2.2l0 4.5h-2.2zM13.7 124.5h2.2l0 4.5h-2.2zM15.6 91h2l0.3 20.8h-2zM16 115.6h2l0.1 4.4h-2zM16.1 123.8h2l0.1 4.4h-2zM20.1 53h1.5l0.1 4.5h-1.5zM20.5 78h1.5l0.1 4.5h-1.5zM20.7 86.3h1.5l0.1 8.6h-1.5zM20.9 98.8h1.5l0.1 4.5h-1.5zM23.8 57.3h2.3l-0.1 4.4h-2.3zM23 107h2.3l-0.1 8.6h-2.3zM22.8 123.6h2.3l-0.1 4.4h-2.3zM25.2 69.9h1.2l-0 4.5h-1.2zM25 82.4h1.2l-0 4.5h-1.2zM24.8 103.2h1.2l-0 4.5h-1.2zM24.7 115.6h1.2l-0 4.5h-1.2zM28.6 48.9h2.4l0.8 50.1h-2.4zM29.5 102.8h2.4l0.1 8.6h-2.4zM29.7 119.4h2.4l0.3 16.9h-2.4zM30.2 48.7h2.2l-0 4.4h-2.2zM30.2 56.9h2.2l-0 4.4h-2.2zM30.2 81.4h2.2l-0 16.6h-2.2zM30.1 101.7h2.2l-0 4.4h-2.2zM30.1 109.9h2.2l-0 8.5h-2.2zM30.1 122.1h2.2l-0 12.5h-2.2zM33.7 73.8h1.4l0.1 8.6h-1.4zM33.9 90.3h1.4l0 4.4h-1.4zM34 98.6h1.4l0 4.4h-1.4zM34.3 123.4h1.4l0.1 12.7h-1.4zM33.6 107h1l-0 4.4h-1zM35 61.6h2.4l-0 8.6h-2.4zM35 74.1h2.4l-0 8.6h-2.4zM34.9 120h2.4l-0 12.8h-2.4zM37.5 44.7h1.5l-1 70.5h-1.5zM36.4 123.1h1.5l-0.2 12.7h-1.5zM38.5 60.9h0.5l0 4.4h-0.5zM38.5 110.4h0.5l0 4.4h-0.5zM38.4 79.9h0.6l-0.2 8.9h-0.6zM38.1 97h0.6l-0.3 17.4h-0.6zM37.7 118.4h0.6l-0.1 4.6h-0.6zM37.4 131.3h0.6l-0.1 4.6h-0.6zM41.1 65.4h1.7l0 4.5h-1.7zM41.2 111.4h1.7l0 4.5h-1.7zM43 30.2h2.3l-0.1 4.4h-2.3zM45.1 17.8h0.8l-0 4.5h-0.8zM45 26.3h0.8l-0 4.5h-0.8zM44.9 34.8h0.8l-0.1 8.8h-0.8z"/><path fill="#7eed1b" d="M14.3 46.8h1.2l0 13h-1.2zM14.3 63.8h1.2l0 4.5h-1.2zM14.3 72.3h1.2l0 8.8h-1.2zM16.7 34h2l-0.1 16.3h-2zM16.7 54h2l-0 8.3h-2zM16.6 66h2l-0 4.3h-2zM16.6 74.1h2l-0 4.3h-2zM16.6 82.1h2l-0 4.3h-2zM18.3 34.1h1.3l-0 4.5h-1.3zM18.2 46.6h1.3l-0 4.5h-1.3zM17.9 71.6h1.3l-0 4.5h-1.3zM19.1 42.6h1.8l-0.2 13.1h-1.8zM18.8 59.6h1.8l-0.4 25.8h-1.8zM13.7 87.1h2.2l0 16.9h-2.2zM13.7 107.9h2.2l0 16.9h-2.2zM13.7 128.7h2.2l0 4.5h-2.2zM15.5 86.9h2l0.1 4.4h-2zM15.9 111.5h2l0.1 4.4h-2zM16.1 119.7h2l0.1 4.4h-2zM16.2 127.9h2l0.1 4.4h-2zM17.4 99.6h1.6l0.1 4.6h-1.6zM17.6 108.2h1.6l0.1 4.6h-1.6zM18.1 116.5h1.7l-0.1 4.5h-1.7zM22 90.8h1.1l0.1 4.4h-1.1zM22.1 99h1.1l0.2 8.5h-1.1zM22.4 111.2h1.1l0.1 4.4h-1.1zM22.5 119.4h1.1l0.1 4.4h-1.1zM22.7 127.6h1.1l0.1 4.4h-1.1zM22.5 86.9h1.4l0.4 43.3h-1.4zM23.8 116.7h1.9l0 4.6h-1.9zM24.9 86.9h0.9l-0 4.3h-0.9zM24.9 94.9h0.9l-0 4.3h-0.9zM24.8 123.2h0.9l-0 4.3h-0.9zM20 44.7h1.5l0.1 8.6h-1.5zM20.2 57.2h1.5l0.3 21.1h-1.5zM20.6 82.2h1.5l0.1 4.5h-1.5zM20.8 94.7h1.5l0.1 4.5h-1.5zM20.9 103h1.5l0.3 21.1h-1.5zM21.1 44.4h2.3l1.4 91.8h-2.3zM23.1 53h1l0 8.5h-1zM23.2 69.5h1l0 8.5h-1zM23.2 81.9h1l0 4.4h-1zM23.2 90.1h1l0 8.5h-1zM23.2 102.5h1l0 8.5h-1zM23.3 114.8h1l0 20.9h-1zM24 44.8h2.3l-0.2 12.7h-2.3zM23.7 61.4h2.3l-0.7 45.9h-2.3zM22.9 115.3h2.3l-0.1 8.6h-2.3zM25.4 45h1.2l-0.3 25.2h-1.2zM25.1 74.1h1.2l-0.1 8.6h-1.2zM25 86.6h1.2l-0.2 16.9h-1.2zM24.8 107.3h1.2l-0.1 8.6h-1.2zM24.6 119.8h1.2l-0.2 16.9h-1.2zM26.2 56.7h1.5l-0 4.3h-1.5zM26.1 64.7h1.5l-0.1 8.3h-1.5zM26 80.8h1.5l-0.1 12.3h-1.5zM25.8 96.8h1.5l-0.2 20.3h-1.5zM25.5 128.9h1.5l-0 4.3h-1.5zM28 117.8h1.5l0 4.4h-1.5zM29.6 111.1h2.4l0.1 4.4h-2.4zM31.9 69.3h2.1l0 4.4h-2.1zM33.3 44.9h1.4l0.3 29.2h-1.4zM33.8 82.1h1.4l0.1 8.6h-1.4zM33.9 94.5h1.4l0 4.4h-1.4zM34 102.7h1.4l0.2 21h-1.4zM34.2 44.8h1l-0.5 54.2h-1zM33.7 102.8h1l-0 4.4h-1zM33.6 111.1h1l-0.2 16.9h-1zM33.4 131.9h1l-0 4.4h-1zM35 45h2.4l-0 17h-2.4zM35 70h2.4l-0 4.5h-2.4zM34.9 82.5h2.4l-0.1 37.8h-2.4zM34.8 132.5h2.4l-0 4.5h-2.4zM36.5 114.9h1.5l-0.1 4.4h-1.5zM38.5 52.7h0.5l0 4.4h-0.5zM38.5 65.1h0.5l0 8.5h-0.5zM38.5 81.5h0.5l0 4.4h-0.5zM38.5 89.8h0.5l0 16.8h-0.5zM38.5 122.8h0.5l0 12.7h-0.5zM28.3 84.1h1.5l-0.1 12.5h-1.5zM28.2 100.3h1.5l-0.3 28.7h-1.5zM27.9 132.8h1.5l-0 4.4h-1.5zM29.5 79.7h2.1l-0 4.4h-2.1zM29.5 87.9h2.1l-0 20.7h-2.1zM29.5 112.3h2.1l-0 4.4h-2.1zM29.5 124.5h2.1l-0 8.4h-2.1zM32.6 79.7h1.5l-0.3 33h-1.5zM32.3 116.5h1.5l-0.1 12.5h-1.5zM34 83.7h1.3l0.1 4.4h-1.3zM34.2 92h1.3l0.1 4.4h-1.3zM34.4 100.3h1.3l0.1 4.4h-1.3zM35 120.9h1.3l0.1 4.4h-1.3zM35.2 129.2h1.3l0.1 4.4h-1.3zM36.5 80.1h2l0 4.3h-2zM38.2 88.4h0.6l-0.2 8.9h-0.6zM37.7 114.2h0.6l-0.1 4.6h-0.6zM37.6 122.7h0.6l-0.2 8.9h-0.6zM41 44.5h1.7l0 4.5h-1.7zM41 57h1.7l0 8.7h-1.7zM41.1 69.6h1.7l0 8.7h-1.7zM41.1 82.1h1.7l0.1 17h-1.7zM41.2 103h1.7l0 8.7h-1.7zM41.2 115.6h1.7l0.1 21.2h-1.7zM42 44.6h1.3l-0 8.6h-1.3zM42 57.1h1.3l-0 4.4h-1.3zM42 73.7h1.3l-0 8.6h-1.3zM42 86.1h1.3l-0 8.6h-1.3zM41.9 106.9h1.3l-0 4.4h-1.3zM41.9 115.2h1.3l-0 4.4h-1.3zM41.9 123.5h1.3l-0 4.4h-1.3zM42.8 44.5h1.8l0.5 32.5h-1.8zM43.3 80.7h1.8l0.3 20.4h-1.8zM43.7 104.8h1.8l0.5 32.5h-1.8zM43.8 49h1.5l-0.1 8.5h-1.5zM43.6 65.4h1.5l-0.1 8.5h-1.5zM43.4 85.9h1.5l-0 4.4h-1.5zM43.3 94.2h1.5l-0 4.4h-1.5zM43.2 102.4h1.5l-0 4.4h-1.5zM43.1 114.7h1.5l-0 4.4h-1.5zM43 122.9h1.5l-0.1 12.6h-1.5zM44.2 106.9h1.7l-0 4.5h-1.7zM46.1 44.9h2.2l0.4 37.3h-2.2zM46.6 90.1h2.2l0.4 37.3h-2.2zM47.1 131.2h2.2l0 4.4h-2.2zM47.8 49.1h2l-0.1 4.4h-2zM47.6 61.4h2l-0.1 4.4h-2zM47.4 77.9h2l-0.1 8.5h-2zM47.2 94.3h2l-0.2 16.8h-2zM46.9 114.9h2l-0.3 20.9h-2zM52.2 81.4h1.6l0 4.4h-1.6zM52.9 68.7h1.6l-0.1 4.3h-1.6zM25.6 39.1h1.2l-0.1 5h-1.2zM27.6 39.2h2.1l0.1 4.9h-2.1zM43.4 18h2.3l-0.4 12.5h-2.3zM42.9 34.2h2.3l-0.1 4.4h-2.3zM45 22.1h0.8l-0 4.5h-0.8zM45 30.6h0.8l-0 4.5h-0.8zM14.5 23H17.1V29.3H14.5zM27 37.6H29.6V43.3H27zM28 43.7H32.8V45.5H28zM31 43.7H35.8V45.5H31zM34 43.7H38.9V45.5H34zM37.1 43.7H41.9V45.5H37.1zM40.1 43.7H44.9V45.5H40.1zM43.1 43.7H47.9V45.5H43.1zM46.1 43.7H50.9V45.5H46.1z"/><path fill="#7fef1a" d="M15.2 34.1h1.9l0.1 4.6h-1.9zM15.7 55.4h1.9l0.1 4.6h-1.9zM16.1 76.7h1.9l0.1 4.6h-1.9zM50.5 44.6h1.8l0.1 4.4h-1.8zM50.6 52.8h1.8l0.1 4.4h-1.8zM50.8 61h1.8l0.1 4.4h-1.8zM51 73.3h1.8l0.1 4.4h-1.8zM51.2 89.6h1.8l0.1 4.4h-1.8zM51.4 97.8h1.8l0.1 4.4h-1.8zM51.8 122.4h1.8l0.2 12.6h-1.8zM54.7 101.3h2.3l0 4.3h-2.3zM57.8 98.9h0.5l0 8.6h-0.5zM57.8 111.4h0.5l0 4.5h-0.5zM57.8 119.7h0.5l0 4.5h-0.5zM60 44.7h1.8l0 4.4h-1.8zM60 52.9h1.8l0 4.4h-1.8zM60.1 65.3h1.8l0 4.4h-1.8zM57.5 23.2h1l0 9.3h-1zM58.4 27.6h2l0.2 14h-2zM59.2 31.4h0.9l-0.3 4.5h-0.9zM58.7 39.8h0.9l-0.3 4.5h-0.9zM63.4 19.2h1.2l0 4.4h-1.2zM55.2 43.7H60V45.5H55.2z"/><path fill="#80ef1a" d="M15.3 38.4h1.9l0.4 17.3h-1.9zM15.8 59.7h1.9l0.4 17.3h-1.9zM16.2 81h1.9l0.1 4.6h-1.9zM57.1 44.5h1.2l0 29.2h-1.2zM57.1 77.5h1.2l0 12.7h-1.2zM57.1 94.1h1.2l0 4.4h-1.2zM57.1 102.3h1.2l0 4.4h-1.2zM57.1 114.7h1.2l0 8.6h-1.2zM60 48.8h1.8l0 4.4h-1.8zM60.1 57.1h1.8l0 8.5h-1.8zM60.1 69.4h1.8l0.2 41.5h-1.8zM60.3 114.8h1.8l0 4.4h-1.8zM60.4 123h1.8l0 4.4h-1.8zM57.5 32.2h1l0 9.3h-1zM59 35.6h0.9l-0.3 4.5h-0.9zM106.9 20.3h0.5l-0.2 4.4h-0.5zM58.2 43.7H63V45.5H58.2zM104.7 22.2H107.3V28.1H104.7z"/><path fill="#7fed1b" d="M16.7 50h2l-0 4.3h-2zM18.2 38.3h1.3l-0.1 8.6h-1.3zM18.1 50.8h1.3l-0.2 21.1h-1.3zM17.9 75.8h1.3l-0.1 8.6h-1.3zM17 86.6h1.6l0.4 13.3h-1.6zM17.5 103.9h1.6l0.1 4.6h-1.6zM17.8 112.5h1.6l0.5 17.6h-1.6zM18.5 103h1.4l0.1 4.4h-1.4zM18.8 111.2h1.4l0.1 4.4h-1.4zM19.1 123.4h1.4l0.1 4.4h-1.4zM18.9 86.7h1.7l-0.7 25.8h-1.7zM17.9 120.7h1.7l-0.3 13h-1.7zM19.9 86.7h1.6l0.2 17.6h-1.6zM20.2 108.4h1.6l0.3 21.9h-1.6zM20.8 86.8h1.7l0.6 29.8h-1.7zM21.6 120.5h1.7l0.3 12.9h-1.7zM21.9 86.7h1.1l0.1 4.4h-1.1zM22 94.9h1.1l0.1 4.4h-1.1zM22.3 107.2h1.1l0.1 4.4h-1.1zM22.4 115.3h1.1l0.1 4.4h-1.1zM22.6 123.5h1.1l0.1 4.4h-1.1zM23.7 86.7h1.9l0.1 30.3h-1.9zM23.9 121h1.9l0 13.2h-1.9zM24.9 103h0.9l-0.1 20.5h-0.9zM24.8 127.2h0.9l-0 4.3h-0.9zM23.1 44.8h1l0 8.5h-1zM23.2 61.2h1l0 8.5h-1zM23.2 77.7h1l0 4.4h-1zM23.2 86h1l0 4.4h-1zM23.2 98.3h1l0 4.4h-1zM23.3 110.7h1l0 4.4h-1zM26.3 44.7h1.5l-0.1 12.3h-1.5zM26.1 60.7h1.5l-0 4.3h-1.5zM26 72.8h1.5l-0.1 8.3h-1.5zM25.9 92.8h1.5l-0 4.3h-1.5zM25.7 116.9h1.5l-0.1 12.3h-1.5zM27.5 44.5h1.5l0.5 73.7h-1.5zM28 121.9h1.5l0.1 12.5h-1.5zM31.7 44.8h2.1l0 4.4h-2.1zM31.8 53h2.1l0.2 16.6h-2.1zM32 73.3h2.1l0.2 16.6h-2.1zM32.2 93.7h2.1l0.4 41.1h-2.1zM33.7 98.7h1l-0 4.4h-1zM33.4 127.7h1l-0 4.4h-1zM38.5 44.4h0.5l0 8.5h-0.5zM38.5 56.8h0.5l0 4.4h-0.5zM38.5 73.3h0.5l0 8.5h-0.5zM38.5 85.7h0.5l0 4.4h-0.5zM38.5 106.3h0.5l0 4.4h-0.5zM38.5 114.5h0.5l0 8.5h-0.5zM27.5 79.8h1.4l0.2 12.5h-1.4zM27.9 104.2h1.4l0.3 16.5h-1.4zM28.3 124.5h1.4l0.1 8.4h-1.4zM28.4 80h1.5l-0 4.4h-1.5zM28.2 96.2h1.5l-0 4.4h-1.5zM27.9 128.7h1.5l-0 4.4h-1.5zM29.5 83.8h2.1l-0 4.4h-2.1zM29.5 108.2h2.1l-0 4.4h-2.1zM29.5 116.4h2.1l-0 8.4h-2.1zM29.5 132.7h2.1l-0 4.4h-2.1zM31.3 79.8h2l0 4.3h-2zM31.5 99.8h2l0.2 24.3h-2zM31.6 127.9h2l0 4.3h-2zM32.3 112.4h1.5l-0 4.4h-1.5zM33.9 79.6h1.3l0.1 4.4h-1.3zM34.1 87.9h1.3l0.1 4.4h-1.3zM34.3 96.1h1.3l0.1 4.4h-1.3zM34.5 104.4h1.3l0.4 16.8h-1.3zM35.1 125.1h1.3l0.1 4.4h-1.3zM34.8 88h2.2l0.2 8.5h-2.2zM35.1 100.3h2.2l0.1 4.4h-2.2zM35.3 108.5h2.2l0.3 12.6h-2.2zM35.7 129h2.2l0.1 4.4h-2.2zM36.6 84.1h2l0.3 36.6h-2zM36.9 124.4h2l0.1 12.4h-2zM41 48.7h1.7l0 8.7h-1.7zM41.1 77.9h1.7l0 4.5h-1.7zM41.2 98.8h1.7l0 4.5h-1.7zM42 52.9h1.3l-0 4.4h-1.3zM42 61.2h1.3l-0 12.7h-1.3zM42 82h1.3l-0 4.4h-1.3zM42 94.4h1.3l-0 12.7h-1.3zM41.9 111h1.3l-0 4.4h-1.3zM41.9 119.3h1.3l-0 4.4h-1.3zM41.9 127.6h1.3l-0 8.6h-1.3zM43.3 76.6h1.8l0.1 4.3h-1.8zM43.6 100.8h1.8l0.1 4.3h-1.8zM43.8 44.9h1.5l-0 4.4h-1.5zM43.7 57.2h1.5l-0.1 8.5h-1.5zM43.5 73.6h1.5l-0.1 12.6h-1.5zM43.3 90h1.5l-0 4.4h-1.5zM43.3 98.3h1.5l-0 4.4h-1.5zM43.2 106.5h1.5l-0.1 8.5h-1.5zM43 118.8h1.5l-0 4.4h-1.5zM44.8 44.6h1.7l-0.4 37.7h-1.7zM44.4 86.1h1.7l-0.2 21.1h-1.7zM44.1 111h1.7l-0.2 25.2h-1.7zM46.5 81.9h2.2l0.1 8.5h-2.2zM47.1 127.1h2.2l0 4.4h-2.2zM47.8 45h2l-0.1 4.4h-2zM47.7 53.2h2l-0.1 8.5h-2zM47.6 65.5h2l-0.2 12.6h-2zM47.3 86.1h2l-0.1 8.5h-2zM47 110.8h2l-0.1 4.4h-2zM50 78.1h1.2l0.1 4.4h-1.2zM51.8 44.6h1.6l0.1 12.6h-1.6zM52 60.9h1.6l0.2 20.8h-1.6zM52.3 85.5h1.6l0.3 24.9h-1.6zM52.6 114.2h1.6l0.1 12.6h-1.6zM52.8 130.6h1.6l0 4.4h-1.6zM53.2 44.7h1.6l-0.1 4.3h-1.6zM53.1 52.7h1.6l-0.2 16.3h-1.6zM52.8 76.8h1.6l-0.1 8.3h-1.6zM52.6 88.8h1.6l-0.6 40.4h-1.6zM52 132.9h1.6l-0.1 4.3h-1.6zM54.6 53h2.3l0 4.3h-2.3zM57.8 44.8h0.5l0 4.5h-0.5zM37.8 17.6h2.2l0.2 25.6h-2.2zM39.5 27h1.5l-0.1 4.9h-1.5zM39.4 36.3h1.5l-0.1 4.9h-1.5zM39.6 39.1h1.7l-0.3 4.8h-1.7zM42 18h1.8l-0.2 4.4h-1.8zM41.7 26.3h1.8l-0.6 16.9h-1.8zM12.9 43.7H17.7V45.5H12.9zM15.9 43.7H20.7V45.5H15.9zM18.9 43.7H23.8V45.5H18.9zM22 43.7H26.8V45.5H22zM25 43.7H29.8V45.5H25zM49.1 43.7H54V45.5H49.1z"/><path fill="#7fee1b" d="M18 86.6h1.4l0.5 16.7h-1.4zM18.6 107.1h1.4l0.1 4.4h-1.4zM18.9 115.3h1.4l0.2 8.5h-1.4zM19.2 127.5h1.4l0.1 4.4h-1.4zM18.2 112.2h1.7l-0.1 4.5h-1.7zM20.1 104.1h1.6l0.1 4.6h-1.6zM20.5 130h1.6l0.1 4.6h-1.6zM21.5 116.3h1.7l0.1 4.5h-1.7zM24.9 90.9h0.9l-0 4.3h-0.9zM24.9 99h0.9l-0 4.3h-0.9zM31.7 48.9h2.1l0 4.4h-2.1zM32.2 89.6h2.1l0 4.4h-2.1zM27.7 92h1.4l0.2 12.5h-1.4zM28.2 120.4h1.4l0.1 4.4h-1.4zM28.4 132.6h1.4l0.1 4.4h-1.4zM31.4 83.8h2l0.1 16.3h-2zM31.6 123.9h2l0 4.3h-2zM31.7 131.9h2l0 4.3h-2zM34.7 79.8h2.2l0.2 8.5h-2.2zM35 96.2h2.2l0.1 4.4h-2.2zM35.2 104.4h2.2l0.1 4.4h-2.2zM35.5 120.8h2.2l0.2 8.5h-2.2zM36.8 120.4h2l0 4.3h-2zM44.4 81.9h1.7l-0 4.5h-1.7zM49.5 45h1.2l0.5 33.4h-1.2zM50 82.2h1.2l0.8 54.1h-1.2zM50.6 48.7h1.8l0.1 4.4h-1.8zM50.7 56.9h1.8l0.1 4.4h-1.8zM50.8 65.1h1.8l0.1 8.5h-1.8zM51 77.4h1.8l0.2 12.6h-1.8zM51.3 93.7h1.8l0.1 4.4h-1.8zM51.4 101.9h1.8l0.3 20.8h-1.8zM51.9 56.8h1.6l0 4.4h-1.6zM52.6 110.1h1.6l0 4.4h-1.6zM52.8 126.5h1.6l0 4.4h-1.6zM53.2 48.7h1.6l-0.1 4.3h-1.6zM52.8 72.8h1.6l-0.1 4.3h-1.6zM52.7 84.8h1.6l-0.1 4.3h-1.6zM52.1 128.9h1.6l-0.1 4.3h-1.6zM54.6 44.9h2.3l0 8.4h-2.3zM54.6 57h2.3l0.1 44.6h-2.3zM54.7 105.4h2.3l0.1 28.5h-2.3zM57.8 49h0.5l0 50.2h-0.5zM57.8 107.2h0.5l0 4.5h-0.5zM57.8 115.5h0.5l0 4.5h-0.5zM57.8 123.8h0.5l0 12.8h-0.5zM39.7 17.7h1.5l-0.1 9.6h-1.5zM39.5 31.6h1.5l-0.1 4.9h-1.5zM40.7 21.2h1.7l-1.1 18.2h-1.7zM41.9 22.2h1.8l-0.2 4.4h-1.8zM58.4 23h2l0.1 4.9h-2zM59.8 23.1h0.9l-0.6 8.6h-0.9zM105.8 20h1.6l0 5h-1.6zM52.2 43.7H57V45.5H52.2z"/><path fill="#7eeb1b" d="M28.5 44.7h2.4l0.1 4.4h-2.4zM29.4 98.6h2.4l0.1 4.4h-2.4zM29.7 115.2h2.4l0.1 4.4h-2.4zM30.2 44.7h2.2l-0 4.4h-2.2zM30.2 52.8h2.2l-0 4.4h-2.2zM30.2 61h2.2l-0 20.7h-2.2zM30.1 97.7h2.2l-0 4.4h-2.2zM30.1 105.8h2.2l-0 4.4h-2.2zM30.1 118h2.2l-0 4.4h-2.2zM36.5 119h1.5l-0.1 4.4h-1.5z"/><path fill="#80f01a" d="M57.1 73.4h1.2l0 4.4h-1.2zM57.1 89.9h1.2l0 4.4h-1.2zM57.1 98.2h1.2l0 4.4h-1.2zM57.1 106.4h1.2l0 8.6h-1.2zM60.3 110.6h1.8l0 4.4h-1.8zM60.4 118.9h1.8l0 4.4h-1.8zM60.4 127.1h1.8l0 8.5h-1.8zM63.4 23.2h1.2l0.1 8.4h-1.2zM105.8 24.8h1.6l0 5h-1.6z"/><path fill="#88f01b" d="M61 44.7h2.2l0 4.3h-2.2zM61 52.8h2.2l0 4.3h-2.2zM61.1 60.9h2.2l0 4.3h-2.2zM62.7 44.6h1.2l-0.2 16.3h-1.2zM62.4 80.7h1.2l-0 4.3h-1.2zM62.3 88.7h1.2l-0 4.3h-1.2zM62.2 100.7h1.2l-0.2 20.3h-1.2zM61.9 124.8h1.2l-0.1 12.3h-1.2zM64.4 20.9h1l0 4.7h-1zM65.3 19h1.3l-0 5.1h-1.3zM106.7 24.4h0.5l-0.2 4.4h-0.5z"/><path fill="#91f01c" d="M61 48.8h2.2l0 4.3h-2.2zM61 56.8h2.2l0 4.3h-2.2zM61.1 64.9h2.2l0 4.3h-2.2zM61.1 73h2.2l0 12.4h-2.2zM61.1 93.1h2.2l0 8.4h-2.2zM61.2 105.3h2.2l0.1 20.5h-2.2zM61.2 129.5h2.2l0 4.3h-2.2zM62.6 60.7h1.2l-0.2 20.3h-1.2zM62.3 84.7h1.2l-0 4.3h-1.2zM62.2 92.7h1.2l-0.1 8.3h-1.2zM62 120.8h1.2l-0 4.3h-1.2zM63.5 31.3h1.2l0.1 12.5h-1.2zM64.4 25.3h1l0 9h-1zM61.2 43.7H66V45.5H61.2zM104.7 25.5H107.3V31.3H104.7z"/><path fill="#9af01d" d="M61.1 68.9h2.2l0 4.3h-2.2zM61.1 85.1h2.2l0 8.4h-2.2zM61.2 101.2h2.2l0 4.3h-2.2zM61.2 125.4h2.2l0 4.3h-2.2zM65.3 23.7h1.3l-0 9.9h-1.3zM105.8 29.5h1.6l0 5h-1.6z"/><path fill="#a6f01e" d="M63.9 44.4h1.3l0 28.8h-1.3zM63.9 81.1h1.3l0 4.4h-1.3zM63.9 105.6h1.3l0 4.4h-1.3zM63.9 117.8h1.3l0 4.4h-1.3zM64.4 34h1l0 4.7h-1zM65.3 33.3h1.3l-0 5.1h-1.3zM67.7 23.5h2.3l0.1 4.4h-2.3z"/><path fill="#b5f01f" d="M63.9 73h1.3l0 8.5h-1.3zM63.9 85.2h1.3l0 20.7h-1.3zM63.9 109.6h1.3l0 8.5h-1.3zM63.9 121.9h1.3l0 12.5h-1.3zM65.3 38.1h1.3l-0 5.1h-1.3zM70.6 23.4h0.8l0 4.3h-0.8zM106.5 28.4h0.5l-0.2 4.4h-0.5zM64.2 43.7H69V45.5H64.2z"/><path fill="#e0f020" d="M67.5 45.1h1.3l0 4.4h-1.3zM67.5 53.4h1.3l0 16.9h-1.3zM68.4 44.9h2.3l-0 4.5h-2.3zM68.4 53.3h2.3l-0 12.8h-2.3zM68.7 38.1h1.9l-0.3 5.3h-1.9zM70.6 31.5h0.8l0 8.4h-0.8zM77.2 21.7h1.7l0 4.7h-1.7zM92.8 22.3h1.7l0.1 4.3h-1.7zM106.4 32.5h0.5l-0.2 4.4h-0.5zM67.2 43.7H72.1V45.5H67.2z"/><path fill="#d2f020" d="M67.5 49.2h1.3l0 4.4h-1.3zM68.4 49.1h2.3l-0 4.5h-2.3zM67.9 31.7h2.3l0.3 12.6h-2.3zM68.9 33.1h1.9l-0.3 5.3h-1.9zM94.3 22.3h2l-0.3 4.3h-2z"/><path fill="#eaf023" d="M67.5 69.9h1.3l0 12.7h-1.3zM67.5 94.8h1.3l0 4.4h-1.3zM68.3 65.8h2.3l-0 8.7h-2.3zM68.3 78.3h2.3l-0 4.5h-2.3zM68.3 86.7h2.3l-0 4.5h-2.3zM69.9 45.1h2.1l-0 8.6h-2.1zM69.9 57.6h2.1l-0 4.5h-2.1zM71.6 45h1.7l-0 4.4h-1.7zM70.6 39.5h0.8l0 4.3h-0.8zM74.6 21.6h2.1l0 4.5h-2.1zM78.3 21.9h0.6l0 4.7h-0.6zM88 22.2h1.9l-0.2 5.2h-1.9zM105.8 34.2h1.6l0 5h-1.6z"/><path fill="#f3f026" d="M67.5 82.4h1.3l0 12.7h-1.3zM67.5 99h1.3l0 12.7h-1.3zM67.5 115.5h1.3l0 8.6h-1.3zM68.3 74.2h2.3l-0 4.5h-2.3zM68.3 82.5h2.3l-0 4.5h-2.3zM68.3 90.9h2.3l-0 29.5h-2.3zM69.9 53.4h2.1l-0 4.5h-2.1zM69.9 61.8h2.1l-0 4.5h-2.1zM69.9 70.1h2.1l-0 4.5h-2.1zM71.6 49.1h1.7l-0 4.4h-1.7zM71.6 57.3h1.7l-0 4.4h-1.7zM76.5 21.7h1.2l0.2 4.8h-1.2zM77.2 26.1h1.7l0 4.7h-1.7zM91.7 22.2h1.4l-0.2 4.4h-1.4zM94 26.3h2l-0.3 4.3h-2zM96 26.8h1.3l0.1 5h-1.3zM96.9 26.7h0.8l0 4.7h-0.8zM70.3 43.7H75.1V45.5H70.3z"/><path fill="#f8e92c" d="M67.5 111.4h1.3l0 4.4h-1.3zM67.5 123.8h1.3l0 12.7h-1.3zM68.3 120.1h2.3l-0 17h-2.3zM69.9 65.9h2.1l-0 4.5h-2.1zM69.8 74.3h2.1l-0.1 21.1h-2.1zM69.7 103.5h2.1l-0 4.5h-2.1zM71.6 53.2h1.7l-0 4.4h-1.7zM71.6 61.4h1.7l-0 12.6h-1.7zM71.5 81.8h1.7l-0 4.4h-1.7zM72.8 44.9h2.3l0 8.6h-2.3zM74.4 45h1.6l-0.1 8.4h-1.6zM74.6 25.8h2.1l0 4.5h-2.1zM81 23.5h2.4l-0.1 4.4h-2.4zM83.5 23.1h1.2l0.4 4.5h-1.2zM84.5 23.3h2.1l0.1 5.1h-2.1zM87 22.5h1.3l0.2 4.4h-1.3z"/><path fill="#f8dc35" d="M69.8 95.1h2.1l-0 8.6h-2.1zM69.7 107.6h2.1l-0 8.6h-2.1zM69.6 128.5h2.1l-0 4.5h-2.1zM71.5 73.7h1.7l-0 8.5h-1.7zM71.5 90h1.7l-0 4.4h-1.7zM72.8 53.2h2.3l0 8.6h-2.3zM72.9 65.6h2.3l0 4.5h-2.3zM74.3 53.1h1.6l-0 4.4h-1.6zM78.3 26.3h0.6l0 4.7h-0.6zM80 23.4h1.7l-0.3 5.1h-1.7zM86 23.6h1l0 5.2h-1zM90.6 22.4h1.7l-0.2 4.6h-1.7zM92.9 26.3h1.7l0.1 4.3h-1.7zM73.3 43.7H78.1V45.5H73.3z"/><path fill="#f7cf3b" d="M69.7 116h2.1l-0 12.8h-2.1zM69.6 132.6h2.1l-0 4.5h-2.1zM71.5 85.9h1.7l-0 4.4h-1.7zM71.5 94.1h1.7l-0.1 20.7h-1.7zM71.4 122.7h1.7l-0 12.6h-1.7zM72.9 61.5h2.3l0 4.5h-2.3zM72.9 69.8h2.3l0 4.5h-2.3zM74.2 57.2h1.6l-0.2 20.6h-1.6zM75.4 45.1h1.4l-0.1 12.8h-1.4zM76.3 44.8h1.3l-0 4.5h-1.3zM74.6 29.9h2.1l0 8.6h-2.1zM76.7 26.2h1.2l0.2 4.8h-1.2zM77.2 30.5h1.7l0 13.5h-1.7zM80.9 27.6h2.4l-0.1 4.4h-2.4zM89.1 22.4h2.3l0.1 4.7h-2.3zM106.2 36.6h0.5l-0.2 4.4h-0.5z"/><path fill="#f5c140" d="M71.4 114.5h1.7l-0 8.5h-1.7zM72.9 73.9h2.3l0 4.5h-2.3zM74 77.5h1.6l-0.1 8.4h-1.6zM73.7 114.2h1.6l-0 4.4h-1.6zM75.3 57.6h1.4l-0.1 12.8h-1.4zM76.2 48.9h1.3l-0.1 12.8h-1.3zM76.2 65.5h1.3l-0 4.5h-1.3zM78.3 45.1h0.7l-0 4.4h-0.7zM79 44.7h2.1l0 4.4h-2.1zM80.4 45h1.9l0.1 8.6h-1.9zM78.3 30.7h0.6l0 13.5h-0.6zM79.7 28.2h1.7l-0.3 5.1h-1.7zM83.8 27.3h1.2l0.4 4.5h-1.2zM87.8 27.1h1.9l-0.2 5.2h-1.9zM91.5 26.3h1.4l-0.2 4.4h-1.4zM93.7 30.3h2l-0.3 4.3h-2zM96.2 31.5h1.3l0.1 5h-1.3zM96.9 31.1h0.8l0 4.7h-0.8zM105.8 38.9h1.6l0 5h-1.6z"/><path fill="#f3b640" d="M72.9 78.1h2.3l0.1 16.9h-2.3zM73 115.5h2.3l0 4.5h-2.3zM73.9 85.7h1.6l-0.3 28.8h-1.6zM73.6 118.2h1.6l-0.1 8.4h-1.6zM75.1 70.1h1.4l-0.1 8.6h-1.4zM76.2 61.4h1.3l-0 4.5h-1.3zM76.1 69.7h1.3l-0 4.5h-1.3zM77.2 45h1.5l0 8.4h-1.5zM78.2 49.2h0.7l-0.1 16.8h-0.7zM79 48.8h2.1l0 4.4h-2.1zM80.5 53.3h1.9l0 4.4h-1.9zM76.8 30.6h1.2l0.5 13.8h-1.2zM79.5 33h1.7l-0.6 9.9h-1.7zM80.8 31.6h2.4l-0.1 4.4h-2.4zM84.6 28.1h2.1l0.1 5.1h-2.1zM87.2 26.6h1.3l0.2 4.4h-1.3zM93.1 30.3h1.7l0.1 4.3h-1.7zM76.3 43.7H81.1V45.5H76.3z"/><path fill="#f1ab40" d="M73 94.7h2.3l0.1 21.1h-2.3zM73 119.6h2.3l0 12.8h-2.3zM75 78.5h1.4l-0.1 8.6h-1.4zM74.9 91h1.4l-0.1 8.6h-1.4zM74.7 103.5h1.4l-0 4.5h-1.4zM76.1 73.9h1.3l-0 8.6h-1.3zM77.2 53.2h1.5l0 12.5h-1.5zM78.2 65.7h0.7l-0 4.4h-0.7zM79 52.9h2.1l0 4.4h-2.1zM80.5 57.4h1.9l0.1 8.6h-1.9zM80.8 35.7h2.4l-0.2 8.5h-2.4zM84.8 37.7h2.1l0.1 5.1h-2.1zM86 28.5h1l0 5.2h-1zM89.2 26.8h2.3l0.1 4.7h-2.3zM90.3 26.7h1.7l-0.2 4.6h-1.7zM93.4 34.4h2l-0.3 4.3h-2zM96.3 36.2h1.3l0.1 5h-1.3zM96.9 35.5h0.8l0 4.7h-0.8zM79.3 43.7H84.1V45.5H79.3z"/><path fill="#f0a03d" d="M73.1 132.1h2.3l0 4.5h-2.3zM74.9 86.8h1.4l-0 4.5h-1.4zM74.8 99.3h1.4l-0 4.5h-1.4zM74.7 107.7h1.4l-0.2 17h-1.4zM74.5 128.5h1.4l-0 4.5h-1.4zM76.1 82.2h1.3l-0.1 12.8h-1.3zM76 98.8h1.3l-0 8.6h-1.3zM75.9 115.4h1.3l-0 4.5h-1.3zM77.2 65.3h1.5l0 4.4h-1.5zM78.2 69.9h0.7l-0 8.6h-0.7zM79 57h2.1l0 8.5h-2.1zM80.6 65.7h1.9l0.1 8.6h-1.9zM81.8 45h1.5l-0.1 4.3h-1.5zM99 45h1.8l-0 4.3h-1.8zM84.2 31.5h1.2l0.4 4.5h-1.2zM84.7 32.9h2.1l0.1 5.1h-2.1zM86 33.4h1l0 10.1h-1zM87.7 32h1.9l-0.2 5.2h-1.9zM91.3 30.3h1.4l-0.2 4.4h-1.4zM93.2 34.3h1.7l0.1 4.3h-1.7zM82.3 43.7H87.2V45.5H82.3z"/><path fill="#f0953a" d="M74.5 124.3h1.4l-0 4.5h-1.4zM74.4 132.7h1.4l-0 4.5h-1.4zM76 94.6h1.3l-0 4.5h-1.3zM75.9 107.1h1.3l-0 8.6h-1.3zM75.8 119.6h1.3l-0.1 16.9h-1.3zM77.2 69.4h1.5l0 8.4h-1.5zM78.1 78.1h0.7l-0 8.6h-0.7zM78.1 90.5h0.7l-0 4.4h-0.7zM79 65.2h2.1l0 12.6h-2.1zM80.6 74h1.9l0 4.4h-1.9zM81.8 49h1.5l-0.1 8.3h-1.5zM83.1 44.5h1.9l0.1 12.7h-1.9zM86 45h1.2l-0 4.5h-1.2zM91.4 44.9h1.7l-0 4.4h-1.7zM92.6 48.6h1.3l-0 4.3h-1.3zM98.9 49.1h1.8l-0 8.4h-1.8zM98.9 61.2h1.8l-0 4.3h-1.8zM103.4 44.8h2l-0.1 4.3h-2zM106.9 53h0.5l0 4.4h-0.5zM84.6 35.7h1.2l0.4 4.5h-1.2zM87.4 30.8h1.3l0.2 4.4h-1.3zM93.3 38.3h1.7l0.1 4.3h-1.7zM93.1 38.4h2l-0.3 4.3h-2z"/><path fill="#ef8638" d="M77.3 77.5h1.5l0 4.4h-1.5zM78.1 86.4h0.7l-0 4.4h-0.7zM78.1 94.6h0.7l-0 8.6h-0.7zM78.1 107h0.7l-0 4.4h-0.7zM78 115.2h0.7l-0 8.6h-0.7zM78 131.7h0.7l-0 4.4h-0.7zM79 77.5h2.1l0 8.5h-2.1zM80.7 78.1h1.9l0.1 8.6h-1.9zM81.7 57h1.5l-0.1 4.3h-1.5zM81.6 65.1h1.5l-0.1 4.3h-1.5zM83.2 56.9h1.9l0 4.4h-1.9zM84.3 44.7h2.1l-0.2 8.7h-2.1zM86.9 45h1.4l-0 4.4h-1.4zM90.6 44.5h1.3l0 4.3h-1.3zM91.3 48.9h1.7l-0 8.4h-1.7zM92.6 44.5h1.3l-0 4.3h-1.3zM92.5 52.6h1.3l-0 4.3h-1.3zM98.9 57.2h1.8l-0 4.3h-1.8zM98.9 65.3h1.8l-0 12.4h-1.8zM102 44.7h2l-0.1 16.5h-2zM101.9 65h2l-0 4.4h-2zM103.4 48.8h2l-0.1 8.4h-2zM103.2 60.9h2l-0.1 8.4h-2zM106.9 44.9h0.5l0 8.4h-0.5zM106.9 57.1h0.5l0 20.6h-0.5zM106.9 85.5h0.5l0 4.4h-0.5zM106.9 97.7h0.5l0 8.4h-0.5zM106.9 109.9h0.5l0 8.4h-0.5zM106.9 122.1h0.5l0 4.4h-0.5zM106.9 130.2h0.5l0 4.4h-0.5zM87.5 36.9h1.9l-0.2 5.2h-1.9zM91 34.4h1.4l-0.4 8.4h-1.4zM96.9 39.9h0.8l0 4.7h-0.8zM85.4 43.7H90.2V45.5H85.4zM103.5 43.7H108.3V45.5H103.5z"/><path fill="#ed7438" d="M77.3 81.6h1.5l0 16.5h-1.5zM77.3 101.9h1.5l0 4.4h-1.5zM77.3 110h1.5l0 4.4h-1.5zM78.1 102.9h0.7l-0 4.4h-0.7zM78 111.1h0.7l-0 4.4h-0.7zM78 123.5h0.7l-0 8.6h-0.7zM79 85.7h2.1l0 8.5h-2.1zM80.7 86.4h1.9l0.1 16.8h-1.9zM80.9 107h1.9l0.1 12.7h-1.9zM81 123.6h1.9l0 4.4h-1.9zM81.6 61.1h1.5l-0.1 4.3h-1.5zM81.5 69.1h1.5l-0.1 8.3h-1.5zM83.2 61h1.9l0.1 8.5h-1.9zM84.2 53.2h2.1l-0.2 13h-2.1zM86 49.2h1.2l-0.1 12.8h-1.2zM86.9 49.2h1.4l-0.1 8.6h-1.4zM90.6 48.5h1.3l0.1 12.3h-1.3zM90.8 64.6h1.3l0 4.3h-1.3zM91.3 57.1h1.7l-0 8.4h-1.7zM92.5 56.6h1.3l-0 12.3h-1.3zM93.7 44.7h1.5l0 12.6h-1.5zM97.5 44.6h1.9l0 8.5h-1.9zM98.8 77.4h1.8l-0 8.4h-1.8zM98.7 97.7h1.8l-0 4.3h-1.8zM98.7 105.8h1.8l-0 4.3h-1.8zM101.9 60.9h2l-0 4.4h-2zM101.9 69h2l-0 8.4h-2zM101.8 81.2h2l-0 4.4h-2zM101.8 89.3h2l-0 4.4h-2zM103.2 56.9h2l-0.1 4.3h-2zM103 68.9h2l-0.5 32.5h-2zM102.4 109.2h2l-0.1 8.4h-2zM102.2 125.4h2l-0.1 4.3h-2zM105.1 44.9h2l0.1 25.3h-2zM105.2 78.2h2l0 12.8h-2zM105.3 103.2h2l0 4.5h-2zM106.9 77.4h0.5l0 8.4h-0.5zM106.9 89.6h0.5l0 8.4h-0.5zM106.9 105.8h0.5l0 4.4h-0.5zM106.9 118h0.5l0 4.4h-0.5zM106.9 126.2h0.5l0 4.4h-0.5zM87.6 34.9h1.3l0.4 8.6h-1.3zM89.3 31.2h2.3l0.2 9.1h-2.3zM90.1 31h1.7l-0.2 4.6h-1.7zM88.4 43.7H93.2V45.5H88.4zM94.4 43.7H99.2V45.5H94.4zM97.4 43.7H102.3V45.5H97.4zM100.5 43.7H105.3V45.5H100.5z"/><path fill="#ea6638" d="M77.3 97.8h1.5l0 4.4h-1.5zM77.3 106h1.5l0 4.4h-1.5zM77.3 114.1h1.5l0 8.4h-1.5zM77.4 126.3h1.5l0 4.4h-1.5zM79 93.9h2.1l0 8.5h-2.1zM79 106.2h2.1l0 20.8h-2.1zM80.9 102.9h1.9l0 4.4h-1.9zM81 119.5h1.9l0 4.4h-1.9zM81.1 127.7h1.9l0.1 8.6h-1.9zM81.4 77.2h1.5l-0.1 8.3h-1.5zM83.3 69.2h1.9l0 4.4h-1.9zM83.9 65.8h2.1l-0.1 4.5h-2.1zM85.9 61.7h1.2l-0.1 12.8h-1.2zM86.9 57.4h1.4l-0 4.4h-1.4zM90.8 60.6h1.3l0 4.3h-1.3zM91.3 65.2h1.7l-0 12.5h-1.7zM92.5 68.6h1.3l-0 16.3h-1.3zM93.7 56.9h1.5l0 8.5h-1.5zM97.5 52.8h1.9l0 16.6h-1.9zM97.5 73.2h1.9l0 4.4h-1.9zM98.8 85.5h1.8l-0 12.4h-1.8zM98.7 101.7h1.8l-0 4.3h-1.8zM98.7 109.8h1.8l-0.1 20.5h-1.8zM100.2 44.5h2.3l0 28.9h-2.3zM100.2 77.2h2.3l0 4.4h-2.3zM101.9 77.2h2l-0 4.4h-2zM101.8 85.3h2l-0 4.4h-2zM101.8 93.4h2l-0.2 40.9h-2zM102.5 101.2h2l-0.1 8.4h-2zM102.3 117.3h2l-0.1 8.4h-2zM102.1 129.4h2l-0.1 4.3h-2zM105.2 69.9h2l0 8.6h-2zM105.3 90.7h2l0 8.6h-2zM105.3 107.4h2l0.1 25.3h-2zM89.5 40h2.3l0.1 4.7h-2.3zM89.9 35.3h1.7l-0.5 8.9h-1.7zM91.4 43.7H96.2V45.5H91.4z"/><path fill="#e85938" d="M77.4 122.2h1.5l0 4.4h-1.5zM77.4 130.3h1.5l0 4.4h-1.5zM79 102.1h2.1l0 4.4h-2.1zM79 126.7h2.1l0 8.5h-2.1zM81.3 85.2h1.5l-0.1 8.3h-1.5zM83.3 73.3h1.9l0.1 12.7h-1.9zM83.8 70h2.1l-0.3 17.2h-2.1zM85.7 74.2h1.2l-0 4.5h-1.2zM86.8 61.6h1.4l-0.1 8.6h-1.4zM90.9 68.6h1.3l0.1 8.3h-1.3zM91.1 84.7h1.3l0 4.3h-1.3zM91.2 77.4h1.7l-0 4.4h-1.7zM92.4 84.6h1.3l-0 4.3h-1.3zM93.7 65.1h1.5l0 16.7h-1.5zM97.5 69.1h1.9l0 4.4h-1.9zM97.5 77.3h1.9l0 12.6h-1.9zM98.6 130.1h1.8l-0 4.3h-1.8zM100.2 73.1h2.3l0 4.4h-2.3zM100.2 81.3h2.3l0 16.6h-2.3zM105.3 99h2l0 4.5h-2z"/><path fill="#e64a36" d="M81.2 93.2h1.5l-0.5 36.5h-1.5zM83.5 85.7h1.9l0.2 20.9h-1.9zM83.7 110.4h1.9l0 4.4h-1.9zM83.9 131h1.9l0 4.4h-1.9zM83.5 86.9h2.1l-0.1 4.5h-2.1zM85.7 78.4h1.2l-0.1 8.7h-1.2zM85.6 90.9h1.2l-0.1 8.7h-1.2zM86.8 69.8h1.4l-0.1 12.7h-1.4zM91 76.6h1.3l0.1 8.3h-1.3zM91.2 92.7h1.3l0.1 8.3h-1.3zM91.3 108.8h1.3l0 4.3h-1.3zM91.2 81.5h1.7l-0.1 24.7h-1.7zM91.1 118h1.7l-0 4.4h-1.7zM92.4 88.6h1.3l-0.1 20.3h-1.3zM92.4 112.7h1.3l-0 12.3h-1.3zM92.3 128.7h1.3l-0 4.3h-1.3zM93.7 81.5h1.5l0 16.7h-1.5zM93.7 101.9h1.5l0 8.5h-1.5zM97.6 89.5h1.9l0 12.6h-1.9zM97.6 110h1.9l0 8.5h-1.9zM97.6 122.2h1.9l0 8.5h-1.9zM100.2 97.6h2.3l0 20.7h-2.3z"/><path fill="#e44034" d="M80.8 129.5h1.5l-0.1 4.3h-1.5zM83.6 106.3h1.9l0 4.4h-1.9zM83.7 114.5h1.9l0.1 12.7h-1.9zM83.4 91.1h2.1l-0.3 17.2h-2.1zM85.6 86.8h1.2l-0 4.5h-1.2zM85.5 99.3h1.2l-0.1 12.8h-1.2zM85.3 116h1.2l-0 4.5h-1.2zM85.2 124.4h1.2l-0.1 8.7h-1.2zM86.7 82.2h1.4l-0 4.4h-1.4zM86.5 102.9h1.4l-0 4.4h-1.4zM91.1 88.7h1.3l0 4.3h-1.3zM91.2 100.7h1.3l0.1 8.3h-1.3zM91.4 112.8h1.3l0.1 12.3h-1.3zM91.6 128.8h1.3l0 4.3h-1.3zM91.1 105.8h1.7l-0 12.5h-1.7zM91.1 122.1h1.7l-0 4.4h-1.7zM91.1 130.2h1.7l-0 4.4h-1.7zM92.4 108.7h1.3l-0 4.3h-1.3zM92.3 124.7h1.3l-0 4.3h-1.3zM92.3 132.7h1.3l-0 4.3h-1.3zM93.7 97.8h1.5l0 4.4h-1.5zM93.7 110.1h1.5l0 24.8h-1.5zM97.6 101.8h1.9l0 8.5h-1.9zM97.6 118.1h1.9l0 4.4h-1.9zM97.6 130.4h1.9l0 4.4h-1.9z"/><path fill="#e33f33" d="M83.8 126.9h1.9l0 4.4h-1.9zM85.4 111.8h1.2l-0 4.5h-1.2zM85.3 120.2h1.2l-0 4.5h-1.2zM85.1 132.7h1.2l-0 4.5h-1.2zM86.6 86.4h1.4l-0.1 16.8h-1.4zM86.5 107h1.4l-0.1 16.8h-1.4zM86.3 131.8h1.4l-0 4.4h-1.4zM91.5 124.8h1.3l0 4.3h-1.3zM91.6 132.9h1.3l0 4.3h-1.3zM91.1 126.2h1.7l-0 4.4h-1.7z"/><path fill="#e33e33" d="M86.4 123.6h1.4l-0.1 8.6h-1.4z"/><path fill="#333fea" d="M25.5 20.4h1.1l0 5.2h-1.1zM26.1 20.4h1.2l-0.1 5h-1.2zM27.2 20.7h2.1l0.1 4.9h-2.1zM28.6 20.9h1.2l0 4.6h-1.2zM14.5 19.3H17.1V25.6H14.5zM14.5 19.3H20.2V21.9H14.5zM17.6 19.3H23.4V21.9H17.6zM20.8 19.3H26.5V21.9H20.8zM23.9 19.3H29.6V21.9H23.9zM27 19.3H29.6V25H27z"/><path fill="#4d937b" d="M25.5 25.3h1.1l0 5.2h-1.1zM26 25.1h1.2l-0.1 5h-1.2zM27.3 25.3h2.1l0.1 4.9h-2.1zM28.6 25.2h1.2l0 4.6h-1.2z"/><path fill="#6fc633" d="M25.5 30.2h1.1l0 5.2h-1.1zM27.4 29.9h2.1l0.1 4.9h-2.1z"/><path fill="#7de91c" d="M25.5 35.1h1.1l0 5.2h-1.1zM25.8 34.4h1.2l-0.1 5h-1.2zM27.5 34.5h2.1l0.1 4.9h-2.1zM27 34.6H29.6V40.2H27z"/><path fill="#6bbb43" d="M25.9 29.8h1.2l-0.1 5h-1.2zM28.6 29.5h1.2l0 4.6h-1.2zM27 28.5H29.6V34.1H27z"/><path fill="#7ce91c" d="M28.6 33.8h1.2l0 4.6h-1.2z"/><path fill="#c4f020" d="M67.8 27.6h2.3l0.1 4.4h-2.3zM69.5 23.2h1.9l-0.6 10.3h-1.9zM70.6 27.4h0.8l0 4.3h-0.8zM95.9 22h1.3l0.1 5h-1.3zM96.9 22.3h0.8l0 4.7h-0.8z"/><path fill="#3f858c" d="M27 22.4H29.6V28H27z"/><path fill="#569c6f" d="M27 25.4H29.6V31.1H27z"/><path fill="#76d727" d="M27 31.5H29.6V37.2H27z"/><path fill="#3c7c99" d="M86.2 19H91.9V21.6H86.2zM89.3 19H95V21.6H89.3zM92.4 19H98.1V21.6H92.4zM95.5 19H101.1V21.6H95.5zM98.5 19H104.2V21.6H98.5zM101.6 19H107.3V21.6H101.6zM104.7 19H107.3V24.8H104.7z"/><path fill="#fff" d="M21.6 56H24.3V68.5H21.6zM19.5 60.5H26V63H19.5zM26.3 79.5H27.3V136H26.3zM39.5 68H40.5V137H39.5zM58.8 68H59.6V137H58.8zM65.7 68H66.7V137H65.7zM88.8 52H90V137H88.8zM94.5 80H97.5V115H94.5zM97.7 22.5H104.7V43.6H97.7zM69.8 29.5H72V43.6H69.8zM60.7 24H63.2V43.6H60.7zM17.5 23H25V43.8H17.5zM29.8 22H37.6V44H29.8zM46 20H57.3V44H46z"/></g><g transform="translate(346.70,429.00)"><path fill="#fcf020" d="M14.2 34.1h1.2l0 4.5h-1.2zM15.9 68.2h1.9l0.1 4.6h-1.9zM17.8 71.6h1.3l-0 4.5h-1.3zM13.6 99.6h2.1l0 4.5h-2.1zM13.6 120.4h2.1l0 4.5h-2.1zM15.7 103.3h1.9l0.1 4.4h-1.9zM16.9 86.6h1.6l0.3 8.9h-1.6zM17.8 116.8h1.6l0.4 13.3h-1.6zM18.1 90.7h1.4l0.1 4.4h-1.4zM17.7 125h1.7l-0.1 4.5h-1.7zM20.4 130h1.6l0.1 4.6h-1.6zM20.8 86.8h1.6l0.1 4.5h-1.6zM21.4 116.3h1.6l0.1 4.5h-1.6zM21.6 128.9h1.6l0.1 4.5h-1.6zM21.9 90.8h1.1l0.1 4.4h-1.1zM22.2 107.2h1.1l0.1 4.4h-1.1zM22.3 115.3h1.1l0.1 4.4h-1.1zM22.5 123.5h1.1l0.1 4.4h-1.1zM22.5 99.8h1.4l0.1 13.2h-1.4zM22.7 117h1.4l0.1 13.2h-1.4zM23.6 86.7h1.9l0 4.6h-1.9zM23.7 108.1h1.9l0 8.9h-1.9zM24.7 119.1h0.9l-0 8.4h-0.9zM20.4 78h1.5l0.1 8.6h-1.5zM20.6 90.5h1.5l0.1 8.6h-1.5zM20.8 103h1.5l0.1 8.6h-1.5zM21.1 119.7h1.5l0.1 4.5h-1.5zM22.1 115.1h2.3l0.1 4.5h-2.3zM22.2 123.4h2.3l0.1 4.5h-2.3zM23.1 65.4h1l0 8.5h-1zM23.1 77.7h1l0 20.9h-1zM23.1 102.5h1l0 8.5h-1zM23.2 118.9h1l0 4.4h-1zM23.2 127.2h1l0 4.4h-1zM25.2 57.5h1.2l-0.2 21.1h-1.2zM24.7 99h1.2l-0 4.5h-1.2zM24.6 107.3h1.2l-0.1 12.8h-1.2zM24.5 124h1.2l-0 4.5h-1.2zM25.6 108.8h1.5l-0 4.3h-1.5zM30.1 44.7h2.2l-0 4.4h-2.2zM30 109.9h2.2l-0 4.4h-2.2zM31.8 69.3h2.1l0 4.4h-2.1zM32.2 110h2.1l0 4.4h-2.1zM33.5 69.7h1.4l0 4.4h-1.4zM38.4 60.9h0.5l0 4.4h-0.5zM27.8 128.7h1.5l-0 4.4h-1.5zM40.9 73.8h1.7l0 4.5h-1.7zM40.9 86.3h1.7l0 4.5h-1.7zM41.1 123.9h1.7l0 4.5h-1.7zM41.1 132.3h1.7l0 4.5h-1.7zM43.5 104.8h1.8l0.1 8.3h-1.8zM43.7 120.9h1.8l0.1 4.3h-1.8zM43 106.5h1.5l-0.1 12.6h-1.5zM51.5 118.3h1.8l0.1 4.4h-1.8zM51.7 52.8h1.6l0 4.4h-1.6zM52.3 96.8h1.6l-0.1 4.3h-1.6zM54.5 109.4h2.3l0 4.3h-2.3zM56.8 69.3h1.2l0 4.4h-1.2zM57.5 90.6h0.5l0 4.5h-0.5zM61.8 108.8h1.2l-0 4.3h-1.2zM63.6 81.1h1.3l0 4.4h-1.3zM67.2 45.1h1.3l0 8.6h-1.3zM67.2 57.5h1.3l0 8.6h-1.3zM67.2 69.9h1.3l0 12.7h-1.3zM67.2 103.1h1.3l0 8.6h-1.3zM67.2 115.5h1.3l0 4.4h-1.3zM67.2 123.8h1.3l0 4.4h-1.3zM68 53.3h2.3l-0 12.8h-2.3zM68 70h2.3l-0 4.5h-2.3zM68 103.4h2.3l-0 4.5h-2.3zM67.9 115.9h2.3l-0 4.5h-2.3zM67.9 124.3h2.3l-0 4.5h-2.3zM67.9 132.6h2.3l-0 4.5h-2.3zM71.2 73.7h1.7l-0 4.4h-1.7zM73.9 53.1h1.6l-0 4.4h-1.6zM75.8 65.5h1.3l-0 4.5h-1.3zM76.9 93.8h1.5l0 8.4h-1.5zM77 126.3h1.5l0 4.4h-1.5zM78.6 48.8h2.1l0 4.4h-2.1zM78.6 57h2.1l0 12.6h-2.1zM78.6 73.4h2.1l0 4.4h-2.1zM78.6 81.6h2.1l0 8.5h-2.1zM78.6 93.9h2.1l0 4.4h-2.1zM78.6 102.1h2.1l0 12.6h-2.1zM78.6 126.7h2.1l0 8.5h-2.1zM80.1 49.1h1.9l0.1 12.7h-1.9zM80.2 65.7h1.9l0.1 12.7h-1.9zM81.4 53h1.5l-0.1 4.3h-1.5zM82.9 69.2h1.9l0 4.4h-1.9zM83 81.6h1.9l0 4.4h-1.9zM86.4 65.7h1.3l-0 4.4h-1.3zM90.9 44.9h1.7l-0 8.4h-1.7zM90.9 57.1h1.7l-0.1 16.6h-1.7zM90.8 77.4h1.7l-0 4.4h-1.7zM90.8 89.6h1.7l-0.1 24.7h-1.7zM90.7 118h1.7l-0.1 16.6h-1.7zM92.1 48.6h1.3l-0 8.3h-1.3zM92.1 68.6h1.3l-0 8.3h-1.3zM92 96.7h1.3l-0 4.3h-1.3zM91.9 128.7h1.3l-0 4.3h-1.3zM93.2 44.7h1.5l0 28.9h-1.5zM93.2 77.4h1.5l0 16.7h-1.5zM93.2 97.8h1.5l0 16.7h-1.5zM93.2 118.3h1.5l0 4.4h-1.5zM93.2 126.4h1.5l0 8.5h-1.5zM97.1 48.7h1.9l0 4.4h-1.9zM98.3 81.5h1.8l-0 4.3h-1.8zM99.7 77.2h2.3l0 4.4h-2.3zM99.7 97.6h2.3l0 4.4h-2.3zM101.5 48.7h2l-0 4.4h-2zM101.2 117.7h2l-0 4.4h-2zM102.6 68.9h2l-0.1 4.3h-2zM102.4 81h2l-0.1 4.3h-2zM102.2 93.1h2l-0.1 4.3h-2zM102 105.2h2l-0.1 4.3h-2zM57.2 27.7h1l0 4.8h-1zM58.1 23h2l0.1 4.9h-2zM64.1 25.3h1l0 4.7h-1zM67.6 31.7h2.3l0.1 4.4h-2.3zM69.2 23.2h1.9l-0.3 5.3h-1.9zM78 21.9h0.6l0 4.7h-0.6zM78 39.5h0.6l0 4.7h-0.6zM26.9 34.6H29.5V40.2H26.9zM18.9 43.7H23.6V45.5H18.9zM66.9 43.7H71.7V45.5H66.9zM69.9 43.7H74.7V45.5H69.9zM73 43.7H77.7V45.5H73zM79 43.7H83.8V45.5H79zM82 43.7H86.8V45.5H82zM85 43.7H89.8V45.5H85zM91 43.7H95.8V45.5H91zM97 43.7H101.8V45.5H97zM103 43.7H107.8V45.5H103zM85.8 19H91.5V21.6H85.8zM88.9 19H94.5V21.6H88.9zM98.1 19H103.7V21.6H98.1z"/><path fill="#e4e4fa" d="M14.2 38.4h1.2l0 30h-1.2zM14.2 72.3h1.2l0 8.8h-1.2zM15.2 38.4h1.9l0.2 8.8h-1.9zM15.5 51.2h1.9l0.3 13.1h-1.9zM16.2 81h1.9l0.1 4.6h-1.9zM16.7 34h2l-0 8.3h-2zM16.6 50h2l-0 4.3h-2zM16.6 58h2l-0 12.3h-2zM16.5 74.1h2l-0 12.3h-2zM18.2 38.3h1.3l-0.1 8.6h-1.3zM18 50.8h1.3l-0 4.5h-1.3zM18 59.1h1.3l-0.1 12.8h-1.3zM19.1 38.3h1.8l-0.8 47.1h-1.8zM13.6 124.5h2.1l0 8.6h-2.1zM15.5 86.9h1.9l0.3 16.7h-1.9zM15.8 107.4h1.9l0.3 16.7h-1.9zM16.1 127.9h1.9l0.1 4.4h-1.9zM18 86.6h1.4l0.1 4.4h-1.4zM18.2 94.8h1.4l0.1 4.4h-1.4zM18.7 111.2h1.4l0.1 4.4h-1.4zM18.9 119.3h1.4l0.4 12.6h-1.4zM18.8 86.7h1.7l-0.1 4.5h-1.7zM18.5 95.2h1.7l-0.6 21.5h-1.7zM17.9 120.7h1.7l-0.1 4.5h-1.7zM17.6 129.2h1.7l-0.1 4.5h-1.7zM19.9 44.7h1.5l0.5 29.5h-1.5zM21 44.4h2.3l0.2 16.9h-2.3zM23.9 44.8h2.3l-0.3 16.9h-2.3zM25.2 53.3h1.2l-0 4.5h-1.2zM26.2 44.7h1.5l-0.2 28.4h-1.5zM25.9 76.8h1.5l-0.1 16.3h-1.5zM25.7 100.8h1.5l-0.1 8.3h-1.5zM28.4 44.7h2.4l0.1 4.4h-2.4zM28.5 53h2.4l0.5 29.3h-2.4zM29.1 90.3h2.4l0.2 12.7h-2.4zM29.4 106.9h2.4l0.1 8.6h-2.4zM29.7 123.5h2.4l0.1 4.4h-2.4zM30.1 52.8h2.2l-0 20.7h-2.2zM30 81.4h2.2l-0 16.6h-2.2zM30 105.8h2.2l-0 4.4h-2.2zM30 114h2.2l-0 20.7h-2.2zM31.5 44.8h2.1l0.3 24.8h-2.1zM31.8 73.3h2.1l0.4 37h-2.1zM32.3 114.1h2.1l0.2 20.7h-2.1zM33.2 49h1.4l0.1 8.6h-1.4zM33.4 61.4h1.4l0.1 8.6h-1.4zM33.5 73.8h1.4l0 4.4h-1.4zM33.6 82.1h1.4l0 4.4h-1.4zM33.7 90.3h1.4l0.1 12.7h-1.4zM33.9 106.9h1.4l0.1 8.6h-1.4zM34.1 123.4h1.4l0 4.4h-1.4zM34.2 131.7h1.4l0 4.4h-1.4zM34 44.8h1l-0.1 12.7h-1zM33.8 65.5h1l-0.3 29.3h-1zM33.5 102.8h1l-0 4.4h-1zM33.4 111.1h1l-0.2 21h-1zM34.8 45h2.4l-0 4.5h-2.4zM34.8 53.3h2.4l-0 25.3h-2.4zM34.8 82.5h2.4l-0.1 54.5h-2.4zM37.3 48.8h1.5l-0.2 12.7h-1.5zM36.9 73.6h1.5l-0.4 25.1h-1.5zM36.5 106.6h1.5l-0.1 4.4h-1.5zM36.2 123.1h1.5l-0.1 4.4h-1.5zM38.4 44.4h0.5l0 16.8h-0.5zM38.4 65.1h0.5l0 12.7h-0.5zM38.4 81.5h0.5l0 12.7h-0.5zM38.4 98h0.5l0 12.7h-0.5zM38.4 114.5h0.5l0 20.9h-0.5zM27.4 79.8h1.4l0.7 40.9h-1.4zM28.1 124.5h1.4l0.2 12.5h-1.4zM28.2 80h1.5l-0.1 12.5h-1.5zM28.1 96.2h1.5l-0.2 20.6h-1.5zM27.9 120.6h1.5l-0.1 8.4h-1.5zM27.8 132.8h1.5l-0 4.4h-1.5zM29.4 79.7h2.1l-0 8.4h-2.1zM29.4 96h2.1l-0 12.5h-2.1zM29.4 112.3h2.1l-0 24.7h-2.1zM31.2 83.8h2l0.1 20.3h-2zM31.4 107.9h2l0 4.3h-2zM31.4 115.9h2l0.1 12.3h-2zM32.4 83.8h1.5l-0.1 8.5h-1.5zM32.1 120.6h1.5l-0 4.4h-1.5zM33.7 79.6h1.3l0.7 25.1h-1.3zM34.5 108.5h1.3l0.1 4.4h-1.3zM34.7 116.8h1.3l0.1 4.4h-1.3zM34.9 125.1h1.3l0.2 8.6h-1.3zM34.5 79.8h2.2l0.2 8.5h-2.2zM34.8 92.1h2.2l0.9 41.3h-2.2zM36.4 84.1h2l0.1 12.4h-2zM36.5 100.2h2l0.1 16.4h-2zM36.7 120.4h2l0.1 16.4h-2zM38 92.7h0.6l-0.2 13.2h-0.6zM37.7 109.9h0.6l-0.2 13.2h-0.6zM40.8 48.7h1.7l0.1 17h-1.7zM40.9 69.6h1.7l0 4.5h-1.7zM40.9 77.9h1.7l0 8.7h-1.7zM41 90.5h1.7l0.1 21.2h-1.7zM41 115.6h1.7l0 8.7h-1.7zM41.1 128.1h1.7l0 4.5h-1.7zM41.8 44.6h1.3l-0 12.7h-1.3zM41.8 65.4h1.3l-0.1 54.2h-1.3zM41.7 123.5h1.3l-0 4.4h-1.3zM41.7 131.8h1.3l-0 4.4h-1.3zM42.7 48.5h1.8l0.1 8.3h-1.8zM42.8 60.5h1.8l0.1 8.3h-1.8zM43 72.6h1.8l0.1 8.3h-1.8zM43.3 88.7h1.8l0.1 8.3h-1.8zM43.4 100.8h1.8l0.1 4.3h-1.8zM43.8 124.9h1.8l0.2 12.4h-1.8zM43.6 44.9h1.5l-0 4.4h-1.5zM43.5 57.2h1.5l-0 4.4h-1.5zM43.3 73.6h1.5l-0 4.4h-1.5zM43.2 81.8h1.5l-0 4.4h-1.5zM43.1 90h1.5l-0.1 8.5h-1.5zM42.7 131.1h1.5l-0 4.4h-1.5zM44.4 57h1.7l-0.1 8.6h-1.7zM44.3 73.6h1.7l-0 4.5h-1.7zM43.8 119.3h1.7l-0.1 8.6h-1.7zM46.3 81.9h2.2l0.1 8.5h-2.2zM46.7 118.9h2.2l0 4.4h-2.2zM47.6 45h2l-0.1 8.5h-2zM47.5 57.3h2l-0.3 20.9h-2zM47.1 82h2l-0.6 45.5h-2zM46.5 131.3h2l-0.1 4.4h-2zM50.5 127.8h1.2l0.1 8.6h-1.2zM51.6 44.6h1.6l0.1 8.5h-1.6zM51.8 60.9h1.6l0.2 20.8h-1.6zM52.1 89.6h1.6l0.1 12.6h-1.6zM52.3 106h1.6l0.2 20.8h-1.6zM52.6 130.6h1.6l0 4.4h-1.6zM53 44.7h1.6l-0.2 12.3h-1.6zM52.7 64.7h1.6l-0.4 28.4h-1.6zM52.2 100.8h1.6l-0.5 36.4h-1.6zM54.3 44.9h2.3l0 4.3h-2.3zM54.3 53h2.3l0 4.3h-2.3zM54.3 61h2.3l0 4.3h-2.3zM54.4 69.1h2.3l0.1 40.6h-2.3zM54.5 113.4h2.3l0 4.3h-2.3zM54.5 121.5h2.3l0 12.4h-2.3zM56.8 44.5h1.2l0 25.1h-1.2zM56.8 73.4h1.2l0 8.6h-1.2zM56.8 85.8h1.2l0 37.4h-1.2zM57.5 53.1h0.5l0 37.7h-0.5zM57.5 94.7h0.5l0 41.9h-0.5zM59.7 48.8h1.8l0 8.5h-1.8zM59.8 61.2h1.8l0 8.5h-1.8zM59.9 77.7h1.8l0.1 16.8h-1.8zM60 98.3h1.8l0.1 16.8h-1.8zM60.1 118.9h1.8l0.1 16.8h-1.8zM60.7 44.7h2.2l0 8.4h-2.2zM60.8 56.8h2.2l0.1 20.5h-2.2zM60.8 81h2.2l0.1 28.6h-2.2zM60.9 113.3h2.2l0.1 20.5h-2.2zM62.5 44.6h1.2l-0.4 44.4h-1.2zM62 92.7h1.2l-0.1 8.3h-1.2zM61.8 104.8h1.2l-0 4.3h-1.2zM61.8 112.8h1.2l-0.2 24.4h-1.2zM63.6 44.4h1.3l0 20.7h-1.3zM63.6 73h1.3l0 8.5h-1.3zM63.6 85.2h1.3l0 49.2h-1.3zM69.6 45.1h2.1l-0 12.8h-2.1zM69.6 61.8h2.1l-0.1 25.3h-2.1zM69.5 91h2.1l-0 8.6h-2.1zM69.4 103.5h2.1l-0.1 17h-2.1zM69.3 124.3h2.1l-0 8.6h-2.1zM74 49.1h1.6l-0 4.4h-1.6zM73.9 61.3h1.6l-0.2 20.6h-1.6zM73.6 85.7h1.6l-0 4.4h-1.6zM73.5 93.8h1.6l-0 4.4h-1.6zM73.4 106h1.6l-0.1 12.5h-1.6zM73.2 122.3h1.6l-0 4.4h-1.6zM75 45.1h1.3l-0.1 8.6h-1.3zM74.9 61.8h1.3l-0 4.5h-1.3zM76.8 45h1.5l0 20.6h-1.5zM76.9 69.4h1.5l0 4.4h-1.5zM76.9 77.5h1.5l0 16.5h-1.5zM77 101.9h1.5l0 16.5h-1.5zM77 122.2h1.5l0 4.4h-1.5zM77 130.3h1.5l0 4.4h-1.5zM82.7 44.5h1.9l0.2 25h-1.9zM83 73.3h1.9l0.1 8.5h-1.9zM83.1 85.7h1.9l0.1 8.5h-1.9zM83.2 98.1h1.9l0.2 16.8h-1.9zM83.4 118.7h1.9l0.2 16.8h-1.9zM83.6 61.6h2.1l-0.2 8.7h-2.1zM85.6 53.4h1.2l-0 4.5h-1.2zM85.4 65.9h1.2l-0.1 8.7h-1.2zM85.3 82.6h1.2l-0.6 54.6h-1.2zM86.5 49.2h1.3l-0 4.4h-1.3zM86.5 57.4h1.3l-0.1 8.6h-1.3zM86.3 78.1h1.3l-0.2 33.4h-1.3zM86 115.3h1.3l-0 4.4h-1.3zM86 127.7h1.3l-0.1 8.6h-1.3zM90.2 44.5h1.3l0.1 8.3h-1.3zM90.3 56.6h1.3l0 4.3h-1.3zM90.5 68.6h1.3l0.2 16.4h-1.3zM90.7 88.7h1.3l0.1 12.3h-1.3zM90.9 104.7h1.3l0.1 12.3h-1.3zM91.1 120.8h1.3l0.2 16.4h-1.3zM98.5 45h1.8l-0.1 24.6h-1.8zM98.4 73.4h1.8l-0 8.4h-1.8zM98.3 85.5h1.8l-0.2 44.8h-1.8zM101.5 44.7h2l-0 4.4h-2zM101.5 52.8h2l-0.1 24.6h-2zM101.4 81.2h2l-0.1 16.5h-2zM101.3 105.6h2l-0 4.4h-2zM101.2 113.7h2l-0 4.4h-2zM101.2 125.9h2l-0 4.4h-2zM104.7 57.4h2l0 4.5h-2zM104.7 65.7h2l0 4.5h-2zM104.8 90.7h2l0.1 25.3h-2zM104.9 124h2l0 8.6h-2zM106.4 53h0.5l0 8.4h-0.5zM106.4 77.4h0.5l0 12.5h-0.5zM106.4 93.6h0.5l0 20.6h-0.5zM106.4 118h0.5l0 4.4h-0.5zM106.4 130.2h0.5l0 4.4h-0.5zM44.9 17.8h0.8l-0.2 25.8h-0.8zM57.2 32.2h1l0 9.3h-1zM58.4 39.8h0.9l-0.3 4.5h-0.9zM64.1 20.9h1l0 4.7h-1zM64.2 34h1l0 4.7h-1zM65 19h1.3l-0 24.2h-1.3zM67.7 39.9h2.3l0.1 4.4h-2.3zM70.3 27.4h0.8l0 12.4h-0.8zM74.3 21.6h2.1l0 17h-2.1zM76.1 21.7h1.2l0.2 4.8h-1.2zM76.5 30.6h1.2l0.3 9.3h-1.2zM76.8 39.3h1.7l0 4.7h-1.7zM78.8 37.8h1.7l-0.3 5.1h-1.7zM80.3 39.8h2.3l-0.1 4.4h-2.3zM85.6 38.3h1l0 5.2h-1zM87.3 39.1h1.2l0.2 4.4h-1.2zM89.2 39.7h1.7l-0.2 4.6h-1.7zM92.9 38.3h1.7l0.1 4.3h-1.7zM93.9 22.3h2l-0.6 8.4h-2zM93 34.4h2l-0.6 8.4h-2zM95.6 26.8h1.3l0.4 14.5h-1.3z"/><path fill="#f8dc20" d="M15.1 34.1h1.9l0.1 4.6h-1.9zM13.6 87.1h2.1l0 4.5h-2.1zM13.6 95.4h2.1l0 4.5h-2.1zM13.6 103.7h2.1l0 16.9h-2.1zM20.3 125.7h1.6l0.1 4.6h-1.6zM20.8 91h1.6l0.5 25.6h-1.6zM21.5 120.5h1.6l0.2 8.7h-1.6zM21.8 86.7h1.1l0.1 4.4h-1.1zM21.9 94.9h1.1l0.2 12.6h-1.1zM22.3 111.2h1.1l0.1 4.4h-1.1zM22.4 119.4h1.1l0.1 4.4h-1.1zM22.6 127.6h1.1l0.1 4.4h-1.1zM22.5 91.2h1.4l0.1 8.9h-1.4zM23.6 91h1.9l0 4.6h-1.9zM23.7 103.8h1.9l0 4.6h-1.9zM23.7 116.7h1.9l0.1 17.4h-1.9zM24.8 94.9h0.9l-0 8.4h-0.9zM24.7 107h0.9l-0 12.4h-0.9zM24.7 127.2h0.9l-0 4.3h-0.9zM20.4 73.8h1.5l0.1 4.5h-1.5zM20.6 86.3h1.5l0.1 4.5h-1.5zM21 115.5h1.5l0.1 4.5h-1.5zM21.3 61.1h2.3l0.6 41.9h-2.3zM21.9 106.8h2.3l0.1 8.6h-2.3zM22.3 131.8h2.3l0.1 4.5h-2.3zM23.1 61.2h1l0 4.4h-1zM23.1 73.6h1l0 4.4h-1zM23.2 123.1h1l0 4.4h-1zM23.2 131.3h1l0 4.4h-1zM23.6 61.4h2.3l-0.1 4.4h-2.3zM23.5 69.7h2.3l-0.1 4.4h-2.3zM23.4 78h2.3l-0.8 50.1h-2.3zM24.9 82.4h1.2l-0 4.5h-1.2zM24.8 90.7h1.2l-0.1 8.6h-1.2zM24.7 103.2h1.2l-0 4.5h-1.2zM24.5 119.8h1.2l-0 4.5h-1.2zM24.4 128.1h1.2l-0 4.5h-1.2zM25.5 120.9h1.5l-0.1 12.3h-1.5zM43.6 112.8h1.8l0.1 8.3h-1.8zM43 102.4h1.5l-0 4.4h-1.5zM67.2 53.4h1.3l0 4.4h-1.3zM67.2 65.8h1.3l0 4.4h-1.3zM67.2 86.5h1.3l0 12.7h-1.3zM67.2 111.4h1.3l0 4.4h-1.3zM67.2 119.7h1.3l0 4.4h-1.3zM67.2 128h1.3l0 8.6h-1.3zM67.9 120.1h2.3l-0 4.5h-2.3zM67.9 128.4h2.3l-0 4.5h-2.3zM71.2 57.3h1.7l-0 16.7h-1.7zM71.1 98.2h1.7l-0 8.5h-1.7zM71.1 110.5h1.7l-0 8.5h-1.7zM71.1 122.7h1.7l-0 8.5h-1.7zM75.9 44.8h1.3l-0 4.5h-1.3zM75.9 53.1h1.3l-0 4.5h-1.3zM75.8 61.4h1.3l-0 4.5h-1.3zM78.6 44.7h2.1l0 4.4h-2.1zM78.6 52.9h2.1l0 4.4h-2.1zM78.6 114.4h2.1l0 4.4h-2.1zM80.2 61.6h1.9l0 4.4h-1.9zM81.5 45h1.5l-0.1 8.3h-1.5zM81.3 57h1.5l-0.1 8.3h-1.5zM81.2 69.1h1.5l-0.2 12.4h-1.5zM90.8 73.3h1.7l-0 4.4h-1.7zM92.1 44.5h1.3l-0 4.3h-1.3zM92.1 56.6h1.3l-0 8.3h-1.3zM92 76.6h1.3l-0 8.3h-1.3zM92 92.6h1.3l-0 4.3h-1.3zM92 100.7h1.3l-0 12.3h-1.3zM91.9 116.7h1.3l-0 12.3h-1.3zM91.9 132.7h1.3l-0 4.3h-1.3zM93.2 73.3h1.5l0 4.4h-1.5zM93.2 93.7h1.5l0 4.4h-1.5zM93.2 114.2h1.5l0 4.4h-1.5zM93.2 122.3h1.5l0 4.4h-1.5zM97.1 44.6h1.9l0 4.4h-1.9zM97.1 56.8h1.9l0 4.4h-1.9zM97.1 69.1h1.9l0 8.5h-1.9zM97.1 81.4h1.9l0 16.6h-1.9zM97.1 101.8h1.9l0 8.5h-1.9zM97.2 114h1.9l0 4.4h-1.9zM97.2 122.2h1.9l0 8.5h-1.9zM99.7 44.5h2.3l0 33h-2.3zM99.7 81.3h2.3l0 16.6h-2.3zM99.7 105.8h2.3l0 12.5h-2.3zM103 44.8h2l-0.1 8.4h-2zM102.7 60.9h2l-0.1 4.3h-2zM102.5 77h2l-0.1 4.3h-2zM102.3 85.1h2l-0.1 8.4h-2zM102.1 97.2h2l-0.1 8.4h-2zM102 109.2h2l-0.2 12.4h-2zM101.7 125.4h2l-0.1 8.4h-2zM25.5 39.1h1.2l-0.1 5h-1.2zM59.5 23.1h0.9l-0.3 4.5h-0.9zM63.2 27.3h1.2l0 8.4h-1.2zM67.4 23.5h2.3l0.2 8.5h-2.3zM67.6 35.8h2.3l0.1 4.4h-2.3zM68.9 28.2h1.9l-0.6 10.3h-1.9zM26.9 37.6H29.5V43.3H26.9zM76 43.7H80.8V45.5H76zM88 43.7H92.8V45.5H88zM100 43.7H104.8V45.5H100zM95 19H100.7V21.6H95z"/><path fill="#b4b4f4" d="M19.8 91.1h1.6l0.1 4.6h-1.6zM20.1 108.4h1.6l0.1 4.6h-1.6zM49.3 49.1h1.2l0.1 8.6h-1.2zM49.5 61.5h1.2l0.4 29.3h-1.2zM50.2 107.1h1.2l0.2 16.9h-1.2zM72.6 73.9h2.3l0 4.5h-2.3zM72.7 103h2.3l0 4.5h-2.3zM72.7 115.5h2.3l0 4.5h-2.3zM72.7 123.8h2.3l0 4.5h-2.3zM77.8 65.7h0.7l-0 4.4h-0.7zM37.7 21.9h2.2l0.1 17.2h-2.2zM39.5 17.7h1.5l-0.1 4.9h-1.5zM39.3 27h1.5l-0.1 4.9h-1.5zM39.2 36.3h1.5l-0.1 4.9h-1.5zM40.5 21.2h1.7l-0.6 9.2h-1.7zM39.7 34.7h1.7l-0.6 9.2h-1.7zM41.2 34.6h1.8l-0.2 4.4h-1.8zM42.8 30.2h2.3l-0.1 4.4h-2.3zM90.4 38.4h1.4l-0.2 4.4h-1.4z"/><path fill="#9c9cf0" d="M19.9 95.4h1.6l0.1 4.6h-1.6zM20 104.1h1.6l0.1 4.6h-1.6zM23 57.1h1l0 4.4h-1zM27.4 48.5h1.5l0.1 8.5h-1.5zM27.5 60.8h1.5l0.1 8.5h-1.5zM27.6 77.1h1.5l0 4.4h-1.5zM27.6 85.2h1.5l0 4.4h-1.5zM27.7 93.4h1.5l0.1 8.5h-1.5zM27.7 105.6h1.5l0 4.4h-1.5zM27.8 113.7h1.5l0 4.4h-1.5zM27.9 126h1.5l0.1 8.5h-1.5zM72.5 53.2h2.3l0 12.8h-2.3zM72.6 69.8h2.3l0 4.5h-2.3zM72.6 90.6h2.3l0 4.5h-2.3zM72.7 119.6h2.3l0 4.5h-2.3zM75.7 82.2h1.3l-0 4.5h-1.3zM75.7 90.5h1.3l-0 4.5h-1.3zM75.5 115.4h1.3l-0 4.5h-1.3zM77.9 45.1h0.7l-0 8.6h-0.7zM77.8 61.6h0.7l-0 4.4h-0.7zM37.6 17.6h2.2l0 4.5h-2.2zM41.8 18h1.8l-0.6 16.9h-1.8zM41 38.7h1.8l-0.2 4.4h-1.8zM43.1 22.1h2.3l-0.3 8.4h-2.3z"/><path fill="#7070ec" d="M20 99.7h1.6l0.1 4.6h-1.6zM72.5 44.9h2.3l0 4.5h-2.3zM74.8 70.1h1.3l-0.2 17h-1.3zM74.5 95.1h1.3l-0.1 8.6h-1.3zM74.2 120.2h1.3l-0.2 17h-1.3zM75.7 78h1.3l-0 4.5h-1.3zM75.6 98.8h1.3l-0 4.5h-1.3zM75.4 127.9h1.3l-0 4.5h-1.3zM77.6 123.5h0.7l-0 4.4h-0.7z"/><path fill="#8888ee" d="M20.1 112.7h1.6l0.2 13.3h-1.6zM23 48.9h1l0 8.5h-1zM27.4 44.5h1.5l0 4.4h-1.5zM27.4 56.7h1.5l0 4.4h-1.5zM27.5 68.9h1.5l0.1 8.5h-1.5zM27.6 89.3h1.5l0 4.4h-1.5zM27.7 101.5h1.5l0 4.4h-1.5zM27.8 109.7h1.5l0 4.4h-1.5zM27.8 117.8h1.5l0.1 8.5h-1.5zM72.5 49h2.3l0 4.5h-2.3zM72.6 78.1h2.3l0 12.8h-2.3zM72.6 98.9h2.3l0 4.5h-2.3zM72.7 107.2h2.3l0 4.5h-2.3zM72.7 127.9h2.3l0 4.5h-2.3zM74.3 111.8h1.3l-0 4.5h-1.3zM75.6 94.6h1.3l-0 4.5h-1.3zM75.6 107.1h1.3l-0 8.6h-1.3zM75.5 123.7h1.3l-0 4.5h-1.3zM75.4 132h1.3l-0 4.5h-1.3zM77.9 53.4h0.7l-0 8.6h-0.7z"/><path fill="#f5c030" d="M24.8 86.9h0.9l-0 4.3h-0.9zM22.1 119.3h2.3l0.1 4.5h-2.3zM23.5 65.6h2.3l-0.1 4.4h-2.3zM68 86.7h2.3l-0 4.5h-2.3zM68 95h2.3l-0 4.5h-2.3zM71.3 53.2h1.7l-0 4.4h-1.7zM71.2 77.7h1.7l-0 4.4h-1.7zM71.1 106.4h1.7l-0 4.4h-1.7zM71.1 118.6h1.7l-0 4.4h-1.7zM71.1 130.9h1.7l-0 4.4h-1.7zM75.9 48.9h1.3l-0 4.5h-1.3zM75.9 57.2h1.3l-0 4.5h-1.3zM80.3 82.2h1.9l0 4.4h-1.9zM80.7 123.6h1.9l0 4.4h-1.9zM81.2 65.1h1.5l-0.1 4.3h-1.5zM92 84.6h1.3l-0 4.3h-1.3zM97.1 52.8h1.9l0 4.4h-1.9zM97.1 60.9h1.9l0 4.4h-1.9zM97.1 77.3h1.9l0 4.4h-1.9zM97.1 97.7h1.9l0 4.4h-1.9zM97.2 130.4h1.9l0 4.4h-1.9zM99.7 101.7h2.3l0 4.4h-2.3zM102.8 56.9h2l-0.1 4.3h-2zM101.8 121.3h2l-0.1 4.3h-2zM25.6 34.4h1.2l-0.1 5h-1.2zM28.4 33.8h1.2l0 4.6h-1.2zM58.2 27.6h2l0.1 4.9h-2zM79.4 28.2h1.7l-0.3 5.1h-1.7zM17.5 19.3H23.2V21.9H17.5zM26.9 31.5H29.5V37.2H26.9zM101.2 19H106.8V21.6H101.2z"/><path fill="#d0d0f8" d="M25.3 45h1.2l-0 4.5h-1.2zM30 77.3h2.2l-0 4.4h-2.2zM30 97.7h2.2l-0 4.4h-2.2zM28.1 92.2h1.5l-0 4.4h-1.5zM27.9 116.5h1.5l-0 4.4h-1.5zM31.5 131.9h2l0 4.3h-2zM40.8 44.5h1.7l0 4.5h-1.7zM40.9 65.4h1.7l0 4.5h-1.7zM41.8 57.1h1.3l-0 4.4h-1.3zM43.6 49h1.5l-0.1 8.5h-1.5zM43.4 65.4h1.5l-0.1 8.5h-1.5zM43.3 77.7h1.5l-0 4.4h-1.5zM43.1 98.3h1.5l-0 4.4h-1.5zM42.8 122.9h1.5l-0.1 8.5h-1.5zM49.3 45h1.2l0.1 4.4h-1.2zM49.5 57.4h1.2l0.1 4.4h-1.2zM49.9 90.5h1.2l0.1 8.6h-1.2zM50.1 102.9h1.2l0.1 4.4h-1.2zM57.5 49h0.5l0 4.5h-0.5zM60.8 52.8h2.2l0 4.3h-2.2zM60.8 77h2.2l0 4.3h-2.2zM72.6 94.7h2.3l0 4.5h-2.3zM73.9 57.2h1.6l-0 4.4h-1.6zM73.7 81.6h1.6l-0 4.4h-1.6zM73.6 89.7h1.6l-0 4.4h-1.6zM73.5 97.9h1.6l-0.1 8.4h-1.6zM73.3 118.2h1.6l-0 4.4h-1.6zM75 53.4h1.3l-0.1 8.6h-1.3zM74.8 65.9h1.3l-0 4.5h-1.3zM27 20.7h2.1l0.4 18.8h-2.1zM37.8 38.7h2.2l0 4.5h-2.2zM39.9 30.2h1.7l-0.3 4.8h-1.7zM42.7 34.2h2.3l-0.1 4.4h-2.3zM58.2 32.2h2l0.2 9.4h-2zM70.3 23.4h0.8l0 4.3h-0.8zM70.3 39.5h0.8l0 4.3h-0.8zM76.3 26.2h1.2l0.2 4.8h-1.2z"/><path fill="#f09a30" d="M68 82.5h2.3l-0 4.5h-2.3zM71.2 90h1.7l-0 4.4h-1.7zM80.4 86.4h1.9l0 4.4h-1.9zM80.4 94.6h1.9l0 4.4h-1.9zM80.5 102.9h1.9l0.1 12.7h-1.9zM80.6 119.5h1.9l0 4.4h-1.9zM81 81.2h1.5l-0.2 12.4h-1.5zM80.7 109.3h1.5l-0.3 24.4h-1.5zM57.2 23.2h1l0 4.8h-1zM59.2 27.3h0.9l-0.6 8.6h-0.9zM63.1 19.2h1.2l0 4.4h-1.2zM63.2 35.4h1.2l0 4.4h-1.2zM78 35.1h0.6l0 4.7h-0.6zM79.1 33h1.7l-0.3 5.1h-1.7zM90.1 22.4h1.7l-0.2 4.6h-1.7zM89.5 35.3h1.7l-0.2 4.6h-1.7zM96.4 22.3h0.8l0 4.7h-0.8z"/><path fill="#f2b030" d="M68 90.9h2.3l-0 4.5h-2.3zM71.2 81.8h1.7l-0 4.4h-1.7zM71.1 94.1h1.7l-0 4.4h-1.7zM80.7 127.7h1.9l0 4.4h-1.9zM80.8 97.3h1.5l-0.1 8.3h-1.5zM25.4 35.1h1.1l0 5.2h-1.1zM63.1 23.2h1.2l0 4.4h-1.2zM63.2 39.4h1.2l0 4.4h-1.2zM79.6 23.4h1.7l-0.3 5.1h-1.7zM91.3 22.2h1.4l-0.2 4.4h-1.4z"/><path fill="#ee8030" d="M71.2 85.9h1.7l-0 4.4h-1.7zM80.4 90.5h1.9l0 4.4h-1.9zM80.5 98.8h1.9l0 4.4h-1.9zM80.9 93.2h1.5l-0.1 4.3h-1.5zM80.7 105.3h1.5l-0.1 4.3h-1.5zM25.8 29.8h1.2l-0.1 5h-1.2zM76.8 21.7h1.7l0 9.1h-1.7zM76.8 34.9h1.7l0 4.7h-1.7zM78 26.3h0.6l0 4.7h-0.6zM80.6 23.5h2.3l-0.2 8.5h-2.3zM86.6 22.5h1.2l0.2 4.4h-1.2zM96.4 35.5h0.8l0 4.7h-0.8zM20.7 19.3H26.4V21.9H20.7zM26.9 25.4H29.5V31.1H26.9z"/><path fill="#5050e8" d="M74.6 86.8h1.3l-0.1 8.6h-1.3zM74.4 107.7h1.3l-0 4.5h-1.3zM77.8 69.9h0.7l-0 4.4h-0.7zM77.8 86.4h0.7l-0 8.6h-0.7zM77.7 102.9h0.7l-0 8.6h-0.7zM77.7 115.2h0.7l-0 4.4h-0.7zM77.6 131.7h0.7l-0 4.4h-0.7z"/><path fill="#3434e4" d="M74.4 103.5h1.3l-0 4.5h-1.3zM77.8 74h0.7l-0 4.4h-0.7zM77.8 82.2h0.7l-0 4.4h-0.7zM77.7 94.6h0.7l-0 4.4h-0.7zM77.7 111.1h0.7l-0 4.4h-0.7z"/><path fill="#2a3ae8" d="M77.7 119.4h0.7l-0 4.4h-0.7zM77.6 127.6h0.7l-0 4.4h-0.7z"/><path fill="#e44a2e" d="M25.4 20.4h1.1l0 5.2h-1.1zM28.4 20.9h1.2l0 13.3h-1.2zM87 30.8h1.2l0.2 4.4h-1.2zM90.8 30.3h1.4l-0.2 4.4h-1.4zM96.4 26.7h0.8l0 9.1h-0.8zM105.3 29.5h1.6l0 9.7h-1.6zM106.4 20.3h0.5l-0.9 20.6h-0.5zM14.4 19.3H17V25.6H14.4zM104.2 22.2H106.8V28.1H104.2zM104.2 25.5H106.8V31.3H104.2z"/><path fill="#dc3a2a" d="M25.4 25.3h1.1l0 5.2h-1.1zM83.5 27.3h1.2l0.4 4.5h-1.2zM84.2 28.1h2.1l0.2 9.9h-2.1zM86.8 26.6h1.2l0.2 4.4h-1.2zM87.2 34.9h1.2l0.2 4.4h-1.2zM87.4 27.1h1.9l-0.3 10.1h-1.9zM88.9 31.2h2.3l0.2 9.1h-2.3zM89.9 26.7h1.7l-0.5 8.9h-1.7zM90.6 34.4h1.4l-0.2 4.4h-1.4zM92.5 26.3h1.7l0.1 4.3h-1.7zM92.7 34.3h1.7l0.1 4.3h-1.7zM105.3 20h1.6l0 9.7h-1.6zM105.3 38.9h1.6l0 5h-1.6zM14.4 23H17V29.3H14.4z"/><path fill="#e86530" d="M25.4 30.2h1.1l0 5.2h-1.1zM26 20.4h1.2l-0.3 9.7h-1.2zM76.8 30.5h1.7l0 4.7h-1.7zM78 30.7h0.6l0 4.7h-0.6zM83.8 31.5h1.2l0.4 4.5h-1.2zM84.1 23.3h2.1l0.1 5.1h-2.1zM87.6 22.2h1.9l-0.2 5.2h-1.9zM91.1 26.3h1.4l-0.2 4.4h-1.4zM26.9 19.3H29.5V25H26.9zM26.9 22.4H29.5V28H26.9zM26.9 28.5H29.5V34.1H26.9z"/><path fill="#c4302a" d="M80.5 31.6h2.3l-0.2 8.5h-2.3zM83.1 23.1h1.2l0.4 4.5h-1.2zM85.6 23.6h1l0 15.1h-1zM88.7 22.4h2.3l0.2 9.1h-2.3zM92.6 30.3h1.7l0.1 4.3h-1.7z"/><path fill="#fff" d="M21.5 56H24.2V68.5H21.5zM19.4 60.5H25.9V63H19.4zM26.2 79.5H27.2V136H26.2zM39.3 68H40.3V137H39.3zM58.5 68H59.3V137H58.5zM65.4 68H66.4V137H65.4zM88.4 52H89.6V137H88.4zM94.1 80H97.1V115H94.1zM97.3 22.5H104.2V43.6H97.3zM69.5 29.5H71.7V43.6H69.5zM60.4 24H62.9V43.6H60.4zM17.4 23H24.9V43.8H17.4zM29.7 22H37.4V44H29.7zM45.8 20H57V44H45.8z"/></g><rect x="60.20" y="47.00" width="109.30" height="137.50" fill="none" stroke="#808080" stroke-width="0.9"/><path d="M60.20 47.00v3.5M60.20 184.50v-3.5M63.84 47.00v1.6M63.84 184.50v-1.6M67.49 47.00v1.6M67.49 184.50v-1.6M71.13 47.00v1.6M71.13 184.50v-1.6M74.77 47.00v1.6M74.77 184.50v-1.6M78.42 47.00v3.5M78.42 184.50v-3.5M82.06 47.00v1.6M82.06 184.50v-1.6M85.70 47.00v1.6M85.70 184.50v-1.6M89.35 47.00v1.6M89.35 184.50v-1.6M92.99 47.00v1.6M92.99 184.50v-1.6M96.63 47.00v3.5M96.63 184.50v-3.5M100.28 47.00v1.6M100.28 184.50v-1.6M103.92 47.00v1.6M103.92 184.50v-1.6M107.56 47.00v1.6M107.56 184.50v-1.6M111.21 47.00v1.6M111.21 184.50v-1.6M114.85 47.00v3.5M114.85 184.50v-3.5M118.49 47.00v1.6M118.49 184.50v-1.6M122.14 47.00v1.6M122.14 184.50v-1.6M125.78 47.00v1.6M125.78 184.50v-1.6M129.42 47.00v1.6M129.42 184.50v-1.6M133.07 47.00v3.5M133.07 184.50v-3.5M136.71 47.00v1.6M136.71 184.50v-1.6M140.35 47.00v1.6M140.35 184.50v-1.6M144.00 47.00v1.6M144.00 184.50v-1.6M147.64 47.00v1.6M147.64 184.50v-1.6M151.28 47.00v3.5M151.28 184.50v-3.5M154.93 47.00v1.6M154.93 184.50v-1.6M158.57 47.00v1.6M158.57 184.50v-1.6M162.21 47.00v1.6M162.21 184.50v-1.6M165.86 47.00v1.6M165.86 184.50v-1.6M169.50 47.00v3.5M169.50 184.50v-3.5M60.20 47.00h3.5M169.50 47.00h-3.5M60.20 53.88h1.6M169.50 53.88h-1.6M60.20 60.75h1.6M169.50 60.75h-1.6M60.20 67.62h1.6M169.50 67.62h-1.6M60.20 74.50h3.5M169.50 74.50h-3.5M60.20 81.38h1.6M169.50 81.38h-1.6M60.20 88.25h1.6M169.50 88.25h-1.6M60.20 95.12h1.6M169.50 95.12h-1.6M60.20 102.00h3.5M169.50 102.00h-3.5M60.20 108.88h1.6M169.50 108.88h-1.6M60.20 115.75h1.6M169.50 115.75h-1.6M60.20 122.62h1.6M169.50 122.62h-1.6M60.20 129.50h3.5M169.50 129.50h-3.5M60.20 136.38h1.6M169.50 136.38h-1.6M60.20 143.25h1.6M169.50 143.25h-1.6M60.20 150.12h1.6M169.50 150.12h-1.6M60.20 157.00h3.5M169.50 157.00h-3.5M60.20 163.88h1.6M169.50 163.88h-1.6M60.20 170.75h1.6M169.50 170.75h-1.6M60.20 177.62h1.6M169.50 177.62h-1.6M60.20 184.50h3.5M169.50 184.50h-3.5" stroke="#8a8a8a" stroke-width="0.7" fill="none"/><rect x="180.20" y="47.00" width="109.40" height="137.50" fill="none" stroke="#808080" stroke-width="0.9"/><path d="M180.20 47.00v3.5M180.20 184.50v-3.5M183.85 47.00v1.6M183.85 184.50v-1.6M187.49 47.00v1.6M187.49 184.50v-1.6M191.14 47.00v1.6M191.14 184.50v-1.6M194.79 47.00v1.6M194.79 184.50v-1.6M198.43 47.00v3.5M198.43 184.50v-3.5M202.08 47.00v1.6M202.08 184.50v-1.6M205.73 47.00v1.6M205.73 184.50v-1.6M209.37 47.00v1.6M209.37 184.50v-1.6M213.02 47.00v1.6M213.02 184.50v-1.6M216.67 47.00v3.5M216.67 184.50v-3.5M220.31 47.00v1.6M220.31 184.50v-1.6M223.96 47.00v1.6M223.96 184.50v-1.6M227.61 47.00v1.6M227.61 184.50v-1.6M231.25 47.00v1.6M231.25 184.50v-1.6M234.90 47.00v3.5M234.90 184.50v-3.5M238.55 47.00v1.6M238.55 184.50v-1.6M242.19 47.00v1.6M242.19 184.50v-1.6M245.84 47.00v1.6M245.84 184.50v-1.6M249.49 47.00v1.6M249.49 184.50v-1.6M253.13 47.00v3.5M253.13 184.50v-3.5M256.78 47.00v1.6M256.78 184.50v-1.6M260.43 47.00v1.6M260.43 184.50v-1.6M264.07 47.00v1.6M264.07 184.50v-1.6M267.72 47.00v1.6M267.72 184.50v-1.6M271.37 47.00v3.5M271.37 184.50v-3.5M275.01 47.00v1.6M275.01 184.50v-1.6M278.66 47.00v1.6M278.66 184.50v-1.6M282.31 47.00v1.6M282.31 184.50v-1.6M285.95 47.00v1.6M285.95 184.50v-1.6M289.60 47.00v3.5M289.60 184.50v-3.5M180.20 47.00h3.5M289.60 47.00h-3.5M180.20 53.88h1.6M289.60 53.88h-1.6M180.20 60.75h1.6M289.60 60.75h-1.6M180.20 67.62h1.6M289.60 67.62h-1.6M180.20 74.50h3.5M289.60 74.50h-3.5M180.20 81.38h1.6M289.60 81.38h-1.6M180.20 88.25h1.6M289.60 88.25h-1.6M180.20 95.12h1.6M289.60 95.12h-1.6M180.20 102.00h3.5M289.60 102.00h-3.5M180.20 108.88h1.6M289.60 108.88h-1.6M180.20 115.75h1.6M289.60 115.75h-1.6M180.20 122.62h1.6M289.60 122.62h-1.6M180.20 129.50h3.5M289.60 129.50h-3.5M180.20 136.38h1.6M289.60 136.38h-1.6M180.20 143.25h1.6M289.60 143.25h-1.6M180.20 150.12h1.6M289.60 150.12h-1.6M180.20 157.00h3.5M289.60 157.00h-3.5M180.20 163.88h1.6M289.60 163.88h-1.6M180.20 170.75h1.6M289.60 170.75h-1.6M180.20 177.62h1.6M289.60 177.62h-1.6M180.20 184.50h3.5M289.60 184.50h-3.5" stroke="#8a8a8a" stroke-width="0.7" fill="none"/><rect x="346.70" y="47.00" width="108.90" height="137.50" fill="none" stroke="#808080" stroke-width="0.9"/><path d="M346.70 47.00v3.5M346.70 184.50v-3.5M350.33 47.00v1.6M350.33 184.50v-1.6M353.96 47.00v1.6M353.96 184.50v-1.6M357.59 47.00v1.6M357.59 184.50v-1.6M361.22 47.00v1.6M361.22 184.50v-1.6M364.85 47.00v3.5M364.85 184.50v-3.5M368.48 47.00v1.6M368.48 184.50v-1.6M372.11 47.00v1.6M372.11 184.50v-1.6M375.74 47.00v1.6M375.74 184.50v-1.6M379.37 47.00v1.6M379.37 184.50v-1.6M383.00 47.00v3.5M383.00 184.50v-3.5M386.63 47.00v1.6M386.63 184.50v-1.6M390.26 47.00v1.6M390.26 184.50v-1.6M393.89 47.00v1.6M393.89 184.50v-1.6M397.52 47.00v1.6M397.52 184.50v-1.6M401.15 47.00v3.5M401.15 184.50v-3.5M404.78 47.00v1.6M404.78 184.50v-1.6M408.41 47.00v1.6M408.41 184.50v-1.6M412.04 47.00v1.6M412.04 184.50v-1.6M415.67 47.00v1.6M415.67 184.50v-1.6M419.30 47.00v3.5M419.30 184.50v-3.5M422.93 47.00v1.6M422.93 184.50v-1.6M426.56 47.00v1.6M426.56 184.50v-1.6M430.19 47.00v1.6M430.19 184.50v-1.6M433.82 47.00v1.6M433.82 184.50v-1.6M437.45 47.00v3.5M437.45 184.50v-3.5M441.08 47.00v1.6M441.08 184.50v-1.6M444.71 47.00v1.6M444.71 184.50v-1.6M448.34 47.00v1.6M448.34 184.50v-1.6M451.97 47.00v1.6M451.97 184.50v-1.6M455.60 47.00v3.5M455.60 184.50v-3.5M346.70 47.00h3.5M455.60 47.00h-3.5M346.70 53.88h1.6M455.60 53.88h-1.6M346.70 60.75h1.6M455.60 60.75h-1.6M346.70 67.62h1.6M455.60 67.62h-1.6M346.70 74.50h3.5M455.60 74.50h-3.5M346.70 81.38h1.6M455.60 81.38h-1.6M346.70 88.25h1.6M455.60 88.25h-1.6M346.70 95.12h1.6M455.60 95.12h-1.6M346.70 102.00h3.5M455.60 102.00h-3.5M346.70 108.88h1.6M455.60 108.88h-1.6M346.70 115.75h1.6M455.60 115.75h-1.6M346.70 122.62h1.6M455.60 122.62h-1.6M346.70 129.50h3.5M455.60 129.50h-3.5M346.70 136.38h1.6M455.60 136.38h-1.6M346.70 143.25h1.6M455.60 143.25h-1.6M346.70 150.12h1.6M455.60 150.12h-1.6M346.70 157.00h3.5M455.60 157.00h-3.5M346.70 163.88h1.6M455.60 163.88h-1.6M346.70 170.75h1.6M455.60 170.75h-1.6M346.70 177.62h1.6M455.60 177.62h-1.6M346.70 184.50h3.5M455.60 184.50h-3.5" stroke="#8a8a8a" stroke-width="0.7" fill="none"/><rect x="507.50" y="47.00" width="86.50" height="137.50" fill="none" stroke="#808080" stroke-width="0.9"/><path d="M507.50 47.00v3.5M507.50 184.50v-3.5M511.82 47.00v1.6M511.82 184.50v-1.6M516.15 47.00v1.6M516.15 184.50v-1.6M520.48 47.00v1.6M520.48 184.50v-1.6M524.80 47.00v1.6M524.80 184.50v-1.6M529.12 47.00v3.5M529.12 184.50v-3.5M533.45 47.00v1.6M533.45 184.50v-1.6M537.77 47.00v1.6M537.77 184.50v-1.6M542.10 47.00v1.6M542.10 184.50v-1.6M546.42 47.00v1.6M546.42 184.50v-1.6M550.75 47.00v3.5M550.75 184.50v-3.5M555.08 47.00v1.6M555.08 184.50v-1.6M559.40 47.00v1.6M559.40 184.50v-1.6M563.73 47.00v1.6M563.73 184.50v-1.6M568.05 47.00v1.6M568.05 184.50v-1.6M572.38 47.00v3.5M572.38 184.50v-3.5M576.70 47.00v1.6M576.70 184.50v-1.6M581.02 47.00v1.6M581.02 184.50v-1.6M585.35 47.00v1.6M585.35 184.50v-1.6M589.67 47.00v1.6M589.67 184.50v-1.6M594.00 47.00v3.5M594.00 184.50v-3.5M507.50 47.00h3.5M594.00 47.00h-3.5M507.50 53.88h1.6M594.00 53.88h-1.6M507.50 60.75h1.6M594.00 60.75h-1.6M507.50 67.62h1.6M594.00 67.62h-1.6M507.50 74.50h3.5M594.00 74.50h-3.5M507.50 81.38h1.6M594.00 81.38h-1.6M507.50 88.25h1.6M594.00 88.25h-1.6M507.50 95.12h1.6M594.00 95.12h-1.6M507.50 102.00h3.5M594.00 102.00h-3.5M507.50 108.88h1.6M594.00 108.88h-1.6M507.50 115.75h1.6M594.00 115.75h-1.6M507.50 122.62h1.6M594.00 122.62h-1.6M507.50 129.50h3.5M594.00 129.50h-3.5M507.50 136.38h1.6M594.00 136.38h-1.6M507.50 143.25h1.6M594.00 143.25h-1.6M507.50 150.12h1.6M594.00 150.12h-1.6M507.50 157.00h3.5M594.00 157.00h-3.5M507.50 163.88h1.6M594.00 163.88h-1.6M507.50 170.75h1.6M594.00 170.75h-1.6M507.50 177.62h1.6M594.00 177.62h-1.6M507.50 184.50h3.5M594.00 184.50h-3.5" stroke="#8a8a8a" stroke-width="0.7" fill="none"/><line x1="550.75" y1="47.00" x2="550.75" y2="184.50" stroke="#7a7a7a" stroke-width="0.8"/><rect x="295.20" y="48.50" width="9.00" height="2.54" fill="#e23c32"/><rect x="295.20" y="50.74" width="9.00" height="2.54" fill="#e33d33"/><rect x="295.20" y="52.98" width="9.00" height="2.54" fill="#e33e33"/><rect x="295.20" y="55.23" width="9.00" height="2.54" fill="#e33f33"/><rect x="295.20" y="57.47" width="9.00" height="2.54" fill="#e44034"/><rect x="295.20" y="59.71" width="9.00" height="2.54" fill="#e64a36"/><rect x="295.20" y="61.95" width="9.00" height="2.54" fill="#e85938"/><rect x="295.20" y="64.19" width="9.00" height="2.54" fill="#ea6638"/><rect x="295.20" y="66.43" width="9.00" height="2.54" fill="#ed7438"/><rect x="295.20" y="68.67" width="9.00" height="2.54" fill="#ef8638"/><rect x="295.20" y="70.92" width="9.00" height="2.54" fill="#f0953a"/><rect x="295.20" y="73.16" width="9.00" height="2.54" fill="#f0a03d"/><rect x="295.20" y="75.40" width="9.00" height="2.54" fill="#f1ab40"/><rect x="295.20" y="77.64" width="9.00" height="2.54" fill="#f3b640"/><rect x="295.20" y="79.88" width="9.00" height="2.54" fill="#f5c140"/><rect x="295.20" y="82.12" width="9.00" height="2.54" fill="#f7cf3b"/><rect x="295.20" y="84.37" width="9.00" height="2.54" fill="#f8dc35"/><rect x="295.20" y="86.61" width="9.00" height="2.54" fill="#f8e92c"/><rect x="295.20" y="88.85" width="9.00" height="2.54" fill="#f3f026"/><rect x="295.20" y="91.09" width="9.00" height="2.54" fill="#eaf023"/><rect x="295.20" y="93.33" width="9.00" height="2.54" fill="#e0f020"/><rect x="295.20" y="95.58" width="9.00" height="2.54" fill="#d2f020"/><rect x="295.20" y="97.82" width="9.00" height="2.54" fill="#c4f020"/><rect x="295.20" y="100.06" width="9.00" height="2.54" fill="#b5f01f"/><rect x="295.20" y="102.30" width="9.00" height="2.54" fill="#a6f01e"/><rect x="295.20" y="104.54" width="9.00" height="2.54" fill="#9af01d"/><rect x="295.20" y="106.78" width="9.00" height="2.54" fill="#91f01c"/><rect x="295.20" y="109.03" width="9.00" height="2.54" fill="#88f01b"/><rect x="295.20" y="111.27" width="9.00" height="2.54" fill="#80f01a"/><rect x="295.20" y="113.51" width="9.00" height="2.54" fill="#80ef1a"/><rect x="295.20" y="115.75" width="9.00" height="2.54" fill="#7fef1a"/><rect x="295.20" y="117.99" width="9.00" height="2.54" fill="#7fee1b"/><rect x="295.20" y="120.23" width="9.00" height="2.54" fill="#7fed1b"/><rect x="295.20" y="122.47" width="9.00" height="2.54" fill="#7eed1b"/><rect x="295.20" y="124.72" width="9.00" height="2.54" fill="#7eec1b"/><rect x="295.20" y="126.96" width="9.00" height="2.54" fill="#7eeb1b"/><rect x="295.20" y="129.20" width="9.00" height="2.54" fill="#7deb1b"/><rect x="295.20" y="131.44" width="9.00" height="2.54" fill="#7dea1b"/><rect x="295.20" y="133.68" width="9.00" height="2.54" fill="#7de91c"/><rect x="295.20" y="135.93" width="9.00" height="2.54" fill="#7ce91c"/><rect x="295.20" y="138.17" width="9.00" height="2.54" fill="#7ce81c"/><rect x="295.20" y="140.41" width="9.00" height="2.54" fill="#76d727"/><rect x="295.20" y="142.65" width="9.00" height="2.54" fill="#6fc633"/><rect x="295.20" y="144.89" width="9.00" height="2.54" fill="#6bbb43"/><rect x="295.20" y="147.13" width="9.00" height="2.54" fill="#66b052"/><rect x="295.20" y="149.38" width="9.00" height="2.54" fill="#5fa561"/><rect x="295.20" y="151.62" width="9.00" height="2.54" fill="#569c6f"/><rect x="295.20" y="153.86" width="9.00" height="2.54" fill="#4d937b"/><rect x="295.20" y="156.10" width="9.00" height="2.54" fill="#458d83"/><rect x="295.20" y="158.34" width="9.00" height="2.54" fill="#3f858c"/><rect x="295.20" y="160.58" width="9.00" height="2.54" fill="#3c7c99"/><rect x="295.20" y="162.82" width="9.00" height="2.54" fill="#336fac"/><rect x="295.20" y="165.07" width="9.00" height="2.54" fill="#285fc2"/><rect x="295.20" y="167.31" width="9.00" height="2.54" fill="#2854ce"/><rect x="295.20" y="169.55" width="9.00" height="2.54" fill="#2849db"/><rect x="295.20" y="171.79" width="9.00" height="2.54" fill="#2b45e1"/><rect x="295.20" y="174.03" width="9.00" height="2.54" fill="#2f41e7"/><rect x="295.20" y="176.28" width="9.00" height="2.54" fill="#333fea"/><rect x="295.20" y="178.52" width="9.00" height="2.54" fill="#373eec"/><rect x="295.20" y="180.76" width="9.00" height="2.54" fill="#3a3def"/><path d="M295.20 48.80L299.70 46.50L304.20 48.80Z" fill="#e23c32"/><path d="M295.20 182.70L299.70 185.00L304.20 182.70Z" fill="#3a3def"/><text x="310.40" y="61.75" font-size="7.7" text-anchor="start" fill="#141414" textLength="23.3" lengthAdjust="spacing" stroke="#141414" stroke-width="0.3">1881.8</text><text x="310.40" y="75.50" font-size="7.7" text-anchor="start" fill="#141414" textLength="23.3" lengthAdjust="spacing" stroke="#141414" stroke-width="0.3">1861.6</text><text x="310.40" y="89.25" font-size="7.7" text-anchor="start" fill="#141414" textLength="23.3" lengthAdjust="spacing" stroke="#141414" stroke-width="0.3">1841.4</text><text x="310.40" y="103.00" font-size="7.7" text-anchor="start" fill="#141414" textLength="23.3" lengthAdjust="spacing" stroke="#141414" stroke-width="0.3">1821.2</text><text x="310.40" y="116.75" font-size="7.7" text-anchor="start" fill="#141414" textLength="23.3" lengthAdjust="spacing" stroke="#141414" stroke-width="0.3">1801.0</text><text x="310.40" y="130.50" font-size="7.7" text-anchor="start" fill="#141414" textLength="23.3" lengthAdjust="spacing" stroke="#141414" stroke-width="0.3">1780.8</text><text x="310.40" y="144.25" font-size="7.7" text-anchor="start" fill="#141414" textLength="23.3" lengthAdjust="spacing" stroke="#141414" stroke-width="0.3">1760.6</text><text x="310.40" y="158.00" font-size="7.7" text-anchor="start" fill="#141414" textLength="23.3" lengthAdjust="spacing" stroke="#141414" stroke-width="0.3">1740.4</text><text x="310.40" y="171.75" font-size="7.7" text-anchor="start" fill="#141414" textLength="23.3" lengthAdjust="spacing" stroke="#141414" stroke-width="0.3">1720.2</text><text transform="translate(341.90,115.70) rotate(-90)" font-size="8.2" text-anchor="middle" fill="#141414" stroke="#141414" stroke-width="0.25" textLength="33" lengthAdjust="spacing">CH<tspan font-size="5.4" dy="2.2">4</tspan><tspan dy="-2.2"> [ppb]</tspan></text><rect x="461.90" y="46.90" width="6.80" height="6.01" fill="#b42a28"/><rect x="461.90" y="52.61" width="6.80" height="6.01" fill="#c4302a"/><rect x="461.90" y="58.32" width="6.80" height="6.01" fill="#dc3a2a"/><rect x="461.90" y="64.03" width="6.80" height="6.01" fill="#e44a2e"/><rect x="461.90" y="69.74" width="6.80" height="6.01" fill="#e86530"/><rect x="461.90" y="75.45" width="6.80" height="6.01" fill="#ee8030"/><rect x="461.90" y="81.15" width="6.80" height="6.01" fill="#f09a30"/><rect x="461.90" y="86.86" width="6.80" height="6.01" fill="#f2b030"/><rect x="461.90" y="92.57" width="6.80" height="6.01" fill="#f5c030"/><rect x="461.90" y="98.28" width="6.80" height="6.01" fill="#f8dc20"/><rect x="461.90" y="103.99" width="6.80" height="6.01" fill="#fcf020"/><rect x="461.90" y="116.20" width="6.80" height="5.99" fill="#e4e4fa"/><rect x="461.90" y="121.89" width="6.80" height="5.99" fill="#d0d0f8"/><rect x="461.90" y="127.58" width="6.80" height="5.99" fill="#b4b4f4"/><rect x="461.90" y="133.28" width="6.80" height="5.99" fill="#9c9cf0"/><rect x="461.90" y="138.97" width="6.80" height="5.99" fill="#8888ee"/><rect x="461.90" y="144.66" width="6.80" height="5.99" fill="#7070ec"/><rect x="461.90" y="150.35" width="6.80" height="5.99" fill="#5050e8"/><rect x="461.90" y="156.04" width="6.80" height="5.99" fill="#3434e4"/><rect x="461.90" y="161.73" width="6.80" height="5.99" fill="#2a3ae8"/><rect x="461.90" y="167.43" width="6.80" height="5.99" fill="#2030b8"/><rect x="461.90" y="173.12" width="6.80" height="5.99" fill="#162294"/><rect x="461.90" y="178.81" width="6.80" height="5.99" fill="#0e1a80"/><text x="493.60" y="48.40" font-size="7.7" text-anchor="end" fill="#141414" stroke="#141414" stroke-width="0.3">60.0</text><text x="493.60" y="65.60" font-size="7.7" text-anchor="end" fill="#141414" stroke="#141414" stroke-width="0.3">45.0</text><text x="493.60" y="82.80" font-size="7.7" text-anchor="end" fill="#141414" stroke="#141414" stroke-width="0.3">30.0</text><text x="493.60" y="100.00" font-size="7.7" text-anchor="end" fill="#141414" stroke="#141414" stroke-width="0.3">15.0</text><text x="493.60" y="117.20" font-size="7.7" text-anchor="end" fill="#141414" stroke="#141414" stroke-width="0.3">0.0</text><text x="493.60" y="134.40" font-size="7.7" text-anchor="end" fill="#141414" stroke="#141414" stroke-width="0.3">&#8722;15.0</text><text x="493.60" y="151.60" font-size="7.7" text-anchor="end" fill="#141414" stroke="#141414" stroke-width="0.3">&#8722;30.0</text><text x="493.60" y="168.80" font-size="7.7" text-anchor="end" fill="#141414" stroke="#141414" stroke-width="0.3">&#8722;45.0</text><text x="493.60" y="186.00" font-size="7.7" text-anchor="end" fill="#141414" stroke="#141414" stroke-width="0.3">&#8722;60.0</text><text transform="translate(504.00,115.50) rotate(-90)" font-size="8.2" text-anchor="middle" fill="#141414" stroke="#141414" stroke-width="0.25" textLength="38" lengthAdjust="spacing">dCH<tspan font-size="5.4" dy="2.2">4</tspan><tspan dy="-2.2"> [ppb]</tspan></text><path fill="#e63a3a" d="M571.6 67.2h1.7v1.7h-1.7zM562.5 70.9h1.7v1.7h-1.7zM564.2 73.2h1.7v1.7h-1.7zM580.2 74.2h1.7v1.7h-1.7zM586.0 72.3h1.7v1.7h-1.7zM585.2 77.8h1.7v1.7h-1.7zM589.8 81.9h1.7v1.7h-1.7zM576.3 77.4h1.7v1.7h-1.7zM569.0 85.3h1.7v1.7h-1.7zM567.6 85.8h1.7v1.7h-1.7zM565.2 86.6h1.7v1.7h-1.7zM564.0 87.5h1.7v1.7h-1.7zM564.5 88.8h1.7v1.7h-1.7zM564.5 90.9h1.7v1.7h-1.7zM562.8 90.5h1.7v1.7h-1.7zM562.0 89.4h1.7v1.7h-1.7zM559.0 88.7h1.7v1.7h-1.7zM559.9 87.1h1.7v1.7h-1.7zM558.0 87.2h1.7v1.7h-1.7zM559.4 88.8h1.7v1.7h-1.7zM558.7 89.2h1.7v1.7h-1.7zM559.8 91.3h1.7v1.7h-1.7zM558.3 91.8h1.7v1.7h-1.7zM558.7 92.4h1.7v1.7h-1.7zM555.4 93.6h1.7v1.7h-1.7zM554.7 91.3h1.7v1.7h-1.7zM553.0 92.5h1.7v1.7h-1.7zM554.1 94.3h1.7v1.7h-1.7zM554.0 95.5h1.7v1.7h-1.7zM554.3 97.0h1.7v1.7h-1.7zM552.4 98.0h1.7v1.7h-1.7zM553.4 100.2h1.7v1.7h-1.7zM552.0 100.5h1.7v1.7h-1.7zM552.1 103.4h1.7v1.7h-1.7zM552.6 104.7h1.7v1.7h-1.7zM551.0 105.2h1.7v1.7h-1.7zM551.0 107.6h1.7v1.7h-1.7zM549.8 109.1h1.7v1.7h-1.7zM549.5 110.5h1.7v1.7h-1.7zM551.3 111.8h1.7v1.7h-1.7zM550.7 114.4h1.7v1.7h-1.7zM548.2 115.2h1.7v1.7h-1.7zM549.5 118.1h1.7v1.7h-1.7zM549.6 119.3h1.7v1.7h-1.7zM548.9 120.8h1.7v1.7h-1.7zM548.9 122.2h1.7v1.7h-1.7zM549.5 123.8h1.7v1.7h-1.7zM548.5 125.2h1.7v1.7h-1.7zM548.0 127.1h1.7v1.7h-1.7zM545.6 128.4h1.7v1.7h-1.7zM547.4 130.1h1.7v1.7h-1.7zM547.1 131.7h1.7v1.7h-1.7zM548.0 132.2h1.7v1.7h-1.7zM548.0 134.5h1.7v1.7h-1.7zM548.1 136.8h1.7v1.7h-1.7zM548.4 137.9h1.7v1.7h-1.7zM549.5 141.0h1.7v1.7h-1.7zM548.3 141.7h1.7v1.7h-1.7zM546.2 143.6h1.7v1.7h-1.7zM547.8 145.1h1.7v1.7h-1.7zM545.8 146.5h1.7v1.7h-1.7zM545.1 148.9h1.7v1.7h-1.7zM547.5 150.2h1.7v1.7h-1.7zM546.7 151.5h1.7v1.7h-1.7zM545.4 153.3h1.7v1.7h-1.7zM546.3 155.3h1.7v1.7h-1.7zM544.9 157.1h1.7v1.7h-1.7zM546.4 158.1h1.7v1.7h-1.7zM544.8 159.7h1.7v1.7h-1.7zM545.4 161.0h1.7v1.7h-1.7zM544.8 163.3h1.7v1.7h-1.7zM544.4 164.0h1.7v1.7h-1.7zM543.6 165.8h1.7v1.7h-1.7zM542.8 167.2h1.7v1.7h-1.7zM542.0 167.6h1.7v1.7h-1.7zM542.2 169.1h1.7v1.7h-1.7zM540.7 171.6h1.7v1.7h-1.7zM541.5 172.2h1.7v1.7h-1.7zM542.0 173.9h1.7v1.7h-1.7zM540.6 175.3h1.7v1.7h-1.7zM542.0 176.4h1.7v1.7h-1.7zM539.5 178.7h1.7v1.7h-1.7zM542.3 180.4h1.7v1.7h-1.7zM541.9 182.4h1.7v1.7h-1.7zM538.9 141.2h1.7v1.7h-1.7zM532.7 171.6h1.7v1.7h-1.7zM536.7 171.0h1.7v1.7h-1.7zM534.6 165.6h1.7v1.7h-1.7zM538.5 161.0h1.7v1.7h-1.7z"/><path fill="#6ee03a" d="M560.1 66.4h1.7v1.7h-1.7zM539.0 67.4h1.7v1.7h-1.7zM551.3 71.6h1.7v1.7h-1.7zM554.7 74.6h1.7v1.7h-1.7zM556.2 81.9h1.7v1.7h-1.7zM553.5 83.4h1.7v1.7h-1.7zM554.3 84.5h1.7v1.7h-1.7zM555.0 85.9h1.7v1.7h-1.7zM554.8 87.8h1.7v1.7h-1.7zM554.6 89.3h1.7v1.7h-1.7zM554.1 91.6h1.7v1.7h-1.7zM552.1 92.4h1.7v1.7h-1.7zM552.1 93.8h1.7v1.7h-1.7zM554.2 95.9h1.7v1.7h-1.7zM551.1 97.0h1.7v1.7h-1.7zM551.9 98.5h1.7v1.7h-1.7zM552.0 100.3h1.7v1.7h-1.7zM551.2 100.8h1.7v1.7h-1.7zM551.8 102.8h1.7v1.7h-1.7zM549.7 104.7h1.7v1.7h-1.7zM552.3 107.4h1.7v1.7h-1.7zM550.5 107.8h1.7v1.7h-1.7zM552.3 109.4h1.7v1.7h-1.7zM550.9 111.6h1.7v1.7h-1.7zM549.4 113.0h1.7v1.7h-1.7zM550.9 114.8h1.7v1.7h-1.7zM551.1 115.8h1.7v1.7h-1.7zM551.4 117.4h1.7v1.7h-1.7zM550.7 119.1h1.7v1.7h-1.7zM551.0 121.1h1.7v1.7h-1.7zM549.7 122.5h1.7v1.7h-1.7zM551.8 124.2h1.7v1.7h-1.7zM551.2 125.9h1.7v1.7h-1.7zM550.7 127.2h1.7v1.7h-1.7zM550.9 129.4h1.7v1.7h-1.7zM551.7 130.5h1.7v1.7h-1.7zM548.9 132.9h1.7v1.7h-1.7zM551.6 134.6h1.7v1.7h-1.7zM550.7 136.5h1.7v1.7h-1.7zM550.6 137.7h1.7v1.7h-1.7zM551.7 139.8h1.7v1.7h-1.7zM550.7 141.4h1.7v1.7h-1.7zM553.7 142.9h1.7v1.7h-1.7zM552.8 144.2h1.7v1.7h-1.7zM552.5 146.2h1.7v1.7h-1.7zM554.1 147.3h1.7v1.7h-1.7zM552.5 150.0h1.7v1.7h-1.7zM551.4 151.2h1.7v1.7h-1.7zM550.0 152.6h1.7v1.7h-1.7zM553.8 154.3h1.7v1.7h-1.7zM552.4 157.2h1.7v1.7h-1.7zM551.4 158.4h1.7v1.7h-1.7zM552.5 159.9h1.7v1.7h-1.7zM552.2 160.7h1.7v1.7h-1.7zM551.5 162.8h1.7v1.7h-1.7zM554.3 164.8h1.7v1.7h-1.7zM551.1 165.5h1.7v1.7h-1.7zM553.1 167.8h1.7v1.7h-1.7zM553.4 169.7h1.7v1.7h-1.7zM552.0 171.3h1.7v1.7h-1.7zM553.1 172.8h1.7v1.7h-1.7zM555.3 174.0h1.7v1.7h-1.7zM551.0 176.4h1.7v1.7h-1.7zM553.6 177.4h1.7v1.7h-1.7zM551.5 179.2h1.7v1.7h-1.7zM552.9 181.0h1.7v1.7h-1.7zM554.7 182.6h1.7v1.7h-1.7zM558.1 182.3h1.7v1.7h-1.7z"/><path fill="#2a4af0" d="M538.0 67.3h1.7v1.7h-1.7zM541.4 68.8h1.7v1.7h-1.7zM544.3 69.3h1.7v1.7h-1.7zM550.5 70.7h1.7v1.7h-1.7zM560.1 74.7h1.7v1.7h-1.7zM563.4 73.2h1.7v1.7h-1.7zM567.1 75.6h1.7v1.7h-1.7zM561.3 77.5h1.7v1.7h-1.7zM570.0 80.4h1.7v1.7h-1.7zM569.2 80.0h1.7v1.7h-1.7zM567.1 81.2h1.7v1.7h-1.7zM564.5 81.5h1.7v1.7h-1.7zM564.1 81.5h1.7v1.7h-1.7zM562.6 81.7h1.7v1.7h-1.7zM561.2 81.1h1.7v1.7h-1.7zM559.9 81.5h1.7v1.7h-1.7zM555.3 82.3h1.7v1.7h-1.7zM553.3 84.5h1.7v1.7h-1.7zM554.9 86.1h1.7v1.7h-1.7zM554.4 88.0h1.7v1.7h-1.7zM551.8 89.8h1.7v1.7h-1.7zM553.6 91.3h1.7v1.7h-1.7zM552.4 92.8h1.7v1.7h-1.7zM551.0 94.2h1.7v1.7h-1.7zM552.0 95.8h1.7v1.7h-1.7zM551.8 97.7h1.7v1.7h-1.7zM549.5 98.7h1.7v1.7h-1.7zM550.2 100.2h1.7v1.7h-1.7zM551.1 101.6h1.7v1.7h-1.7zM549.1 103.2h1.7v1.7h-1.7zM549.1 104.0h1.7v1.7h-1.7zM548.7 106.5h1.7v1.7h-1.7zM547.2 106.7h1.7v1.7h-1.7zM545.1 108.8h1.7v1.7h-1.7zM545.5 110.5h1.7v1.7h-1.7zM545.1 112.4h1.7v1.7h-1.7zM543.3 113.4h1.7v1.7h-1.7zM543.7 114.6h1.7v1.7h-1.7zM546.0 115.9h1.7v1.7h-1.7zM545.3 117.6h1.7v1.7h-1.7zM544.2 118.3h1.7v1.7h-1.7zM546.9 120.2h1.7v1.7h-1.7zM547.1 121.0h1.7v1.7h-1.7zM547.4 123.4h1.7v1.7h-1.7zM547.0 124.9h1.7v1.7h-1.7zM547.7 126.8h1.7v1.7h-1.7zM545.7 127.8h1.7v1.7h-1.7zM547.9 129.0h1.7v1.7h-1.7zM547.6 131.1h1.7v1.7h-1.7zM547.4 133.4h1.7v1.7h-1.7zM547.8 134.4h1.7v1.7h-1.7zM547.1 136.1h1.7v1.7h-1.7zM547.3 138.4h1.7v1.7h-1.7zM548.4 139.8h1.7v1.7h-1.7zM548.7 141.3h1.7v1.7h-1.7zM550.5 143.3h1.7v1.7h-1.7zM549.0 144.6h1.7v1.7h-1.7zM548.6 145.9h1.7v1.7h-1.7zM549.7 148.5h1.7v1.7h-1.7zM548.4 150.3h1.7v1.7h-1.7zM550.0 151.9h1.7v1.7h-1.7zM548.9 153.6h1.7v1.7h-1.7zM548.9 155.3h1.7v1.7h-1.7zM550.1 157.0h1.7v1.7h-1.7zM551.6 158.4h1.7v1.7h-1.7zM550.2 159.8h1.7v1.7h-1.7zM548.1 162.4h1.7v1.7h-1.7zM548.8 162.9h1.7v1.7h-1.7zM551.8 165.1h1.7v1.7h-1.7zM551.5 166.8h1.7v1.7h-1.7zM551.1 168.4h1.7v1.7h-1.7zM550.1 170.1h1.7v1.7h-1.7zM551.5 171.8h1.7v1.7h-1.7zM551.5 172.8h1.7v1.7h-1.7zM552.2 174.9h1.7v1.7h-1.7zM550.9 176.6h1.7v1.7h-1.7zM551.6 178.3h1.7v1.7h-1.7zM551.6 180.4h1.7v1.7h-1.7zM550.6 182.5h1.7v1.7h-1.7z"/><text x="553.00" y="160.50" font-size="8.0" text-anchor="start" fill="#e03434" textLength="38.6" lengthAdjust="spacing" stroke="#e03434" stroke-width="0.2">[ 30... 90]</text><text x="554.00" y="168.80" font-size="8.0" text-anchor="start" fill="#5cd030" textLength="40.0" lengthAdjust="spacing" stroke="#5cd030" stroke-width="0.2">[&#8722;30... 30]</text><text x="554.00" y="176.30" font-size="8.0" text-anchor="start" fill="#2a44e8" textLength="41.0" lengthAdjust="spacing" stroke="#2a44e8" stroke-width="0.2">[&#8722;90...&#8722;30]</text><rect x="60.20" y="238.00" width="109.30" height="137.50" fill="none" stroke="#808080" stroke-width="0.9"/><path d="M60.20 238.00v3.5M60.20 375.50v-3.5M63.84 238.00v1.6M63.84 375.50v-1.6M67.49 238.00v1.6M67.49 375.50v-1.6M71.13 238.00v1.6M71.13 375.50v-1.6M74.77 238.00v1.6M74.77 375.50v-1.6M78.42 238.00v3.5M78.42 375.50v-3.5M82.06 238.00v1.6M82.06 375.50v-1.6M85.70 238.00v1.6M85.70 375.50v-1.6M89.35 238.00v1.6M89.35 375.50v-1.6M92.99 238.00v1.6M92.99 375.50v-1.6M96.63 238.00v3.5M96.63 375.50v-3.5M100.28 238.00v1.6M100.28 375.50v-1.6M103.92 238.00v1.6M103.92 375.50v-1.6M107.56 238.00v1.6M107.56 375.50v-1.6M111.21 238.00v1.6M111.21 375.50v-1.6M114.85 238.00v3.5M114.85 375.50v-3.5M118.49 238.00v1.6M118.49 375.50v-1.6M122.14 238.00v1.6M122.14 375.50v-1.6M125.78 238.00v1.6M125.78 375.50v-1.6M129.42 238.00v1.6M129.42 375.50v-1.6M133.07 238.00v3.5M133.07 375.50v-3.5M136.71 238.00v1.6M136.71 375.50v-1.6M140.35 238.00v1.6M140.35 375.50v-1.6M144.00 238.00v1.6M144.00 375.50v-1.6M147.64 238.00v1.6M147.64 375.50v-1.6M151.28 238.00v3.5M151.28 375.50v-3.5M154.93 238.00v1.6M154.93 375.50v-1.6M158.57 238.00v1.6M158.57 375.50v-1.6M162.21 238.00v1.6M162.21 375.50v-1.6M165.86 238.00v1.6M165.86 375.50v-1.6M169.50 238.00v3.5M169.50 375.50v-3.5M60.20 238.00h3.5M169.50 238.00h-3.5M60.20 244.88h1.6M169.50 244.88h-1.6M60.20 251.75h1.6M169.50 251.75h-1.6M60.20 258.62h1.6M169.50 258.62h-1.6M60.20 265.50h3.5M169.50 265.50h-3.5M60.20 272.38h1.6M169.50 272.38h-1.6M60.20 279.25h1.6M169.50 279.25h-1.6M60.20 286.12h1.6M169.50 286.12h-1.6M60.20 293.00h3.5M169.50 293.00h-3.5M60.20 299.88h1.6M169.50 299.88h-1.6M60.20 306.75h1.6M169.50 306.75h-1.6M60.20 313.62h1.6M169.50 313.62h-1.6M60.20 320.50h3.5M169.50 320.50h-3.5M60.20 327.38h1.6M169.50 327.38h-1.6M60.20 334.25h1.6M169.50 334.25h-1.6M60.20 341.12h1.6M169.50 341.12h-1.6M60.20 348.00h3.5M169.50 348.00h-3.5M60.20 354.88h1.6M169.50 354.88h-1.6M60.20 361.75h1.6M169.50 361.75h-1.6M60.20 368.62h1.6M169.50 368.62h-1.6M60.20 375.50h3.5M169.50 375.50h-3.5" stroke="#8a8a8a" stroke-width="0.7" fill="none"/><rect x="180.20" y="238.00" width="109.40" height="137.50" fill="none" stroke="#808080" stroke-width="0.9"/><path d="M180.20 238.00v3.5M180.20 375.50v-3.5M183.85 238.00v1.6M183.85 375.50v-1.6M187.49 238.00v1.6M187.49 375.50v-1.6M191.14 238.00v1.6M191.14 375.50v-1.6M194.79 238.00v1.6M194.79 375.50v-1.6M198.43 238.00v3.5M198.43 375.50v-3.5M202.08 238.00v1.6M202.08 375.50v-1.6M205.73 238.00v1.6M205.73 375.50v-1.6M209.37 238.00v1.6M209.37 375.50v-1.6M213.02 238.00v1.6M213.02 375.50v-1.6M216.67 238.00v3.5M216.67 375.50v-3.5M220.31 238.00v1.6M220.31 375.50v-1.6M223.96 238.00v1.6M223.96 375.50v-1.6M227.61 238.00v1.6M227.61 375.50v-1.6M231.25 238.00v1.6M231.25 375.50v-1.6M234.90 238.00v3.5M234.90 375.50v-3.5M238.55 238.00v1.6M238.55 375.50v-1.6M242.19 238.00v1.6M242.19 375.50v-1.6M245.84 238.00v1.6M245.84 375.50v-1.6M249.49 238.00v1.6M249.49 375.50v-1.6M253.13 238.00v3.5M253.13 375.50v-3.5M256.78 238.00v1.6M256.78 375.50v-1.6M260.43 238.00v1.6M260.43 375.50v-1.6M264.07 238.00v1.6M264.07 375.50v-1.6M267.72 238.00v1.6M267.72 375.50v-1.6M271.37 238.00v3.5M271.37 375.50v-3.5M275.01 238.00v1.6M275.01 375.50v-1.6M278.66 238.00v1.6M278.66 375.50v-1.6M282.31 238.00v1.6M282.31 375.50v-1.6M285.95 238.00v1.6M285.95 375.50v-1.6M289.60 238.00v3.5M289.60 375.50v-3.5M180.20 238.00h3.5M289.60 238.00h-3.5M180.20 244.88h1.6M289.60 244.88h-1.6M180.20 251.75h1.6M289.60 251.75h-1.6M180.20 258.62h1.6M289.60 258.62h-1.6M180.20 265.50h3.5M289.60 265.50h-3.5M180.20 272.38h1.6M289.60 272.38h-1.6M180.20 279.25h1.6M289.60 279.25h-1.6M180.20 286.12h1.6M289.60 286.12h-1.6M180.20 293.00h3.5M289.60 293.00h-3.5M180.20 299.88h1.6M289.60 299.88h-1.6M180.20 306.75h1.6M289.60 306.75h-1.6M180.20 313.62h1.6M289.60 313.62h-1.6M180.20 320.50h3.5M289.60 320.50h-3.5M180.20 327.38h1.6M289.60 327.38h-1.6M180.20 334.25h1.6M289.60 334.25h-1.6M180.20 341.12h1.6M289.60 341.12h-1.6M180.20 348.00h3.5M289.60 348.00h-3.5M180.20 354.88h1.6M289.60 354.88h-1.6M180.20 361.75h1.6M289.60 361.75h-1.6M180.20 368.62h1.6M289.60 368.62h-1.6M180.20 375.50h3.5M289.60 375.50h-3.5" stroke="#8a8a8a" stroke-width="0.7" fill="none"/><rect x="346.70" y="238.00" width="108.90" height="137.50" fill="none" stroke="#808080" stroke-width="0.9"/><path d="M346.70 238.00v3.5M346.70 375.50v-3.5M350.33 238.00v1.6M350.33 375.50v-1.6M353.96 238.00v1.6M353.96 375.50v-1.6M357.59 238.00v1.6M357.59 375.50v-1.6M361.22 238.00v1.6M361.22 375.50v-1.6M364.85 238.00v3.5M364.85 375.50v-3.5M368.48 238.00v1.6M368.48 375.50v-1.6M372.11 238.00v1.6M372.11 375.50v-1.6M375.74 238.00v1.6M375.74 375.50v-1.6M379.37 238.00v1.6M379.37 375.50v-1.6M383.00 238.00v3.5M383.00 375.50v-3.5M386.63 238.00v1.6M386.63 375.50v-1.6M390.26 238.00v1.6M390.26 375.50v-1.6M393.89 238.00v1.6M393.89 375.50v-1.6M397.52 238.00v1.6M397.52 375.50v-1.6M401.15 238.00v3.5M401.15 375.50v-3.5M404.78 238.00v1.6M404.78 375.50v-1.6M408.41 238.00v1.6M408.41 375.50v-1.6M412.04 238.00v1.6M412.04 375.50v-1.6M415.67 238.00v1.6M415.67 375.50v-1.6M419.30 238.00v3.5M419.30 375.50v-3.5M422.93 238.00v1.6M422.93 375.50v-1.6M426.56 238.00v1.6M426.56 375.50v-1.6M430.19 238.00v1.6M430.19 375.50v-1.6M433.82 238.00v1.6M433.82 375.50v-1.6M437.45 238.00v3.5M437.45 375.50v-3.5M441.08 238.00v1.6M441.08 375.50v-1.6M444.71 238.00v1.6M444.71 375.50v-1.6M448.34 238.00v1.6M448.34 375.50v-1.6M451.97 238.00v1.6M451.97 375.50v-1.6M455.60 238.00v3.5M455.60 375.50v-3.5M346.70 238.00h3.5M455.60 238.00h-3.5M346.70 244.88h1.6M455.60 244.88h-1.6M346.70 251.75h1.6M455.60 251.75h-1.6M346.70 258.62h1.6M455.60 258.62h-1.6M346.70 265.50h3.5M455.60 265.50h-3.5M346.70 272.38h1.6M455.60 272.38h-1.6M346.70 279.25h1.6M455.60 279.25h-1.6M346.70 286.12h1.6M455.60 286.12h-1.6M346.70 293.00h3.5M455.60 293.00h-3.5M346.70 299.88h1.6M455.60 299.88h-1.6M346.70 306.75h1.6M455.60 306.75h-1.6M346.70 313.62h1.6M455.60 313.62h-1.6M346.70 320.50h3.5M455.60 320.50h-3.5M346.70 327.38h1.6M455.60 327.38h-1.6M346.70 334.25h1.6M455.60 334.25h-1.6M346.70 341.12h1.6M455.60 341.12h-1.6M346.70 348.00h3.5M455.60 348.00h-3.5M346.70 354.88h1.6M455.60 354.88h-1.6M346.70 361.75h1.6M455.60 361.75h-1.6M346.70 368.62h1.6M455.60 368.62h-1.6M346.70 375.50h3.5M455.60 375.50h-3.5" stroke="#8a8a8a" stroke-width="0.7" fill="none"/><rect x="507.50" y="238.00" width="86.50" height="137.50" fill="none" stroke="#808080" stroke-width="0.9"/><path d="M507.50 238.00v3.5M507.50 375.50v-3.5M511.82 238.00v1.6M511.82 375.50v-1.6M516.15 238.00v1.6M516.15 375.50v-1.6M520.48 238.00v1.6M520.48 375.50v-1.6M524.80 238.00v1.6M524.80 375.50v-1.6M529.12 238.00v3.5M529.12 375.50v-3.5M533.45 238.00v1.6M533.45 375.50v-1.6M537.77 238.00v1.6M537.77 375.50v-1.6M542.10 238.00v1.6M542.10 375.50v-1.6M546.42 238.00v1.6M546.42 375.50v-1.6M550.75 238.00v3.5M550.75 375.50v-3.5M555.08 238.00v1.6M555.08 375.50v-1.6M559.40 238.00v1.6M559.40 375.50v-1.6M563.73 238.00v1.6M563.73 375.50v-1.6M568.05 238.00v1.6M568.05 375.50v-1.6M572.38 238.00v3.5M572.38 375.50v-3.5M576.70 238.00v1.6M576.70 375.50v-1.6M581.02 238.00v1.6M581.02 375.50v-1.6M585.35 238.00v1.6M585.35 375.50v-1.6M589.67 238.00v1.6M589.67 375.50v-1.6M594.00 238.00v3.5M594.00 375.50v-3.5M507.50 238.00h3.5M594.00 238.00h-3.5M507.50 244.88h1.6M594.00 244.88h-1.6M507.50 251.75h1.6M594.00 251.75h-1.6M507.50 258.62h1.6M594.00 258.62h-1.6M507.50 265.50h3.5M594.00 265.50h-3.5M507.50 272.38h1.6M594.00 272.38h-1.6M507.50 279.25h1.6M594.00 279.25h-1.6M507.50 286.12h1.6M594.00 286.12h-1.6M507.50 293.00h3.5M594.00 293.00h-3.5M507.50 299.88h1.6M594.00 299.88h-1.6M507.50 306.75h1.6M594.00 306.75h-1.6M507.50 313.62h1.6M594.00 313.62h-1.6M507.50 320.50h3.5M594.00 320.50h-3.5M507.50 327.38h1.6M594.00 327.38h-1.6M507.50 334.25h1.6M594.00 334.25h-1.6M507.50 341.12h1.6M594.00 341.12h-1.6M507.50 348.00h3.5M594.00 348.00h-3.5M507.50 354.88h1.6M594.00 354.88h-1.6M507.50 361.75h1.6M594.00 361.75h-1.6M507.50 368.62h1.6M594.00 368.62h-1.6M507.50 375.50h3.5M594.00 375.50h-3.5" stroke="#8a8a8a" stroke-width="0.7" fill="none"/><line x1="550.75" y1="238.00" x2="550.75" y2="375.50" stroke="#7a7a7a" stroke-width="0.8"/><rect x="295.20" y="239.50" width="9.00" height="2.54" fill="#e23c32"/><rect x="295.20" y="241.74" width="9.00" height="2.54" fill="#e33d33"/><rect x="295.20" y="243.98" width="9.00" height="2.54" fill="#e33e33"/><rect x="295.20" y="246.22" width="9.00" height="2.54" fill="#e33f33"/><rect x="295.20" y="248.47" width="9.00" height="2.54" fill="#e44034"/><rect x="295.20" y="250.71" width="9.00" height="2.54" fill="#e64a36"/><rect x="295.20" y="252.95" width="9.00" height="2.54" fill="#e85938"/><rect x="295.20" y="255.19" width="9.00" height="2.54" fill="#ea6638"/><rect x="295.20" y="257.43" width="9.00" height="2.54" fill="#ed7438"/><rect x="295.20" y="259.68" width="9.00" height="2.54" fill="#ef8638"/><rect x="295.20" y="261.92" width="9.00" height="2.54" fill="#f0953a"/><rect x="295.20" y="264.16" width="9.00" height="2.54" fill="#f0a03d"/><rect x="295.20" y="266.40" width="9.00" height="2.54" fill="#f1ab40"/><rect x="295.20" y="268.64" width="9.00" height="2.54" fill="#f3b640"/><rect x="295.20" y="270.88" width="9.00" height="2.54" fill="#f5c140"/><rect x="295.20" y="273.12" width="9.00" height="2.54" fill="#f7cf3b"/><rect x="295.20" y="275.37" width="9.00" height="2.54" fill="#f8dc35"/><rect x="295.20" y="277.61" width="9.00" height="2.54" fill="#f8e92c"/><rect x="295.20" y="279.85" width="9.00" height="2.54" fill="#f3f026"/><rect x="295.20" y="282.09" width="9.00" height="2.54" fill="#eaf023"/><rect x="295.20" y="284.33" width="9.00" height="2.54" fill="#e0f020"/><rect x="295.20" y="286.57" width="9.00" height="2.54" fill="#d2f020"/><rect x="295.20" y="288.82" width="9.00" height="2.54" fill="#c4f020"/><rect x="295.20" y="291.06" width="9.00" height="2.54" fill="#b5f01f"/><rect x="295.20" y="293.30" width="9.00" height="2.54" fill="#a6f01e"/><rect x="295.20" y="295.54" width="9.00" height="2.54" fill="#9af01d"/><rect x="295.20" y="297.78" width="9.00" height="2.54" fill="#91f01c"/><rect x="295.20" y="300.02" width="9.00" height="2.54" fill="#88f01b"/><rect x="295.20" y="302.27" width="9.00" height="2.54" fill="#80f01a"/><rect x="295.20" y="304.51" width="9.00" height="2.54" fill="#80ef1a"/><rect x="295.20" y="306.75" width="9.00" height="2.54" fill="#7fef1a"/><rect x="295.20" y="308.99" width="9.00" height="2.54" fill="#7fee1b"/><rect x="295.20" y="311.23" width="9.00" height="2.54" fill="#7fed1b"/><rect x="295.20" y="313.48" width="9.00" height="2.54" fill="#7eed1b"/><rect x="295.20" y="315.72" width="9.00" height="2.54" fill="#7eec1b"/><rect x="295.20" y="317.96" width="9.00" height="2.54" fill="#7eeb1b"/><rect x="295.20" y="320.20" width="9.00" height="2.54" fill="#7deb1b"/><rect x="295.20" y="322.44" width="9.00" height="2.54" fill="#7dea1b"/><rect x="295.20" y="324.68" width="9.00" height="2.54" fill="#7de91c"/><rect x="295.20" y="326.93" width="9.00" height="2.54" fill="#7ce91c"/><rect x="295.20" y="329.17" width="9.00" height="2.54" fill="#7ce81c"/><rect x="295.20" y="331.41" width="9.00" height="2.54" fill="#76d727"/><rect x="295.20" y="333.65" width="9.00" height="2.54" fill="#6fc633"/><rect x="295.20" y="335.89" width="9.00" height="2.54" fill="#6bbb43"/><rect x="295.20" y="338.13" width="9.00" height="2.54" fill="#66b052"/><rect x="295.20" y="340.38" width="9.00" height="2.54" fill="#5fa561"/><rect x="295.20" y="342.62" width="9.00" height="2.54" fill="#569c6f"/><rect x="295.20" y="344.86" width="9.00" height="2.54" fill="#4d937b"/><rect x="295.20" y="347.10" width="9.00" height="2.54" fill="#458d83"/><rect x="295.20" y="349.34" width="9.00" height="2.54" fill="#3f858c"/><rect x="295.20" y="351.58" width="9.00" height="2.54" fill="#3c7c99"/><rect x="295.20" y="353.82" width="9.00" height="2.54" fill="#336fac"/><rect x="295.20" y="356.07" width="9.00" height="2.54" fill="#285fc2"/><rect x="295.20" y="358.31" width="9.00" height="2.54" fill="#2854ce"/><rect x="295.20" y="360.55" width="9.00" height="2.54" fill="#2849db"/><rect x="295.20" y="362.79" width="9.00" height="2.54" fill="#2b45e1"/><rect x="295.20" y="365.03" width="9.00" height="2.54" fill="#2f41e7"/><rect x="295.20" y="367.27" width="9.00" height="2.54" fill="#333fea"/><rect x="295.20" y="369.52" width="9.00" height="2.54" fill="#373eec"/><rect x="295.20" y="371.76" width="9.00" height="2.54" fill="#3a3def"/><path d="M295.20 239.80L299.70 237.50L304.20 239.80Z" fill="#e23c32"/><path d="M295.20 373.70L299.70 376.00L304.20 373.70Z" fill="#3a3def"/><text x="310.40" y="252.75" font-size="7.7" text-anchor="start" fill="#141414" textLength="23.3" lengthAdjust="spacing" stroke="#141414" stroke-width="0.3">1881.8</text><text x="310.40" y="266.50" font-size="7.7" text-anchor="start" fill="#141414" textLength="23.3" lengthAdjust="spacing" stroke="#141414" stroke-width="0.3">1861.6</text><text x="310.40" y="280.25" font-size="7.7" text-anchor="start" fill="#141414" textLength="23.3" lengthAdjust="spacing" stroke="#141414" stroke-width="0.3">1841.4</text><text x="310.40" y="294.00" font-size="7.7" text-anchor="start" fill="#141414" textLength="23.3" lengthAdjust="spacing" stroke="#141414" stroke-width="0.3">1821.2</text><text x="310.40" y="307.75" font-size="7.7" text-anchor="start" fill="#141414" textLength="23.3" lengthAdjust="spacing" stroke="#141414" stroke-width="0.3">1801.0</text><text x="310.40" y="321.50" font-size="7.7" text-anchor="start" fill="#141414" textLength="23.3" lengthAdjust="spacing" stroke="#141414" stroke-width="0.3">1780.8</text><text x="310.40" y="335.25" font-size="7.7" text-anchor="start" fill="#141414" textLength="23.3" lengthAdjust="spacing" stroke="#141414" stroke-width="0.3">1760.6</text><text x="310.40" y="349.00" font-size="7.7" text-anchor="start" fill="#141414" textLength="23.3" lengthAdjust="spacing" stroke="#141414" stroke-width="0.3">1740.4</text><text x="310.40" y="362.75" font-size="7.7" text-anchor="start" fill="#141414" textLength="23.3" lengthAdjust="spacing" stroke="#141414" stroke-width="0.3">1720.2</text><text transform="translate(341.90,306.70) rotate(-90)" font-size="8.2" text-anchor="middle" fill="#141414" stroke="#141414" stroke-width="0.25" textLength="33" lengthAdjust="spacing">CH<tspan font-size="5.4" dy="2.2">4</tspan><tspan dy="-2.2"> [ppb]</tspan></text><rect x="461.90" y="237.90" width="6.80" height="6.01" fill="#b42a28"/><rect x="461.90" y="243.61" width="6.80" height="6.01" fill="#c4302a"/><rect x="461.90" y="249.32" width="6.80" height="6.01" fill="#dc3a2a"/><rect x="461.90" y="255.03" width="6.80" height="6.01" fill="#e44a2e"/><rect x="461.90" y="260.74" width="6.80" height="6.01" fill="#e86530"/><rect x="461.90" y="266.45" width="6.80" height="6.01" fill="#ee8030"/><rect x="461.90" y="272.15" width="6.80" height="6.01" fill="#f09a30"/><rect x="461.90" y="277.86" width="6.80" height="6.01" fill="#f2b030"/><rect x="461.90" y="283.57" width="6.80" height="6.01" fill="#f5c030"/><rect x="461.90" y="289.28" width="6.80" height="6.01" fill="#f8dc20"/><rect x="461.90" y="294.99" width="6.80" height="6.01" fill="#fcf020"/><rect x="461.90" y="307.20" width="6.80" height="5.99" fill="#e4e4fa"/><rect x="461.90" y="312.89" width="6.80" height="5.99" fill="#d0d0f8"/><rect x="461.90" y="318.58" width="6.80" height="5.99" fill="#b4b4f4"/><rect x="461.90" y="324.27" width="6.80" height="5.99" fill="#9c9cf0"/><rect x="461.90" y="329.97" width="6.80" height="5.99" fill="#8888ee"/><rect x="461.90" y="335.66" width="6.80" height="5.99" fill="#7070ec"/><rect x="461.90" y="341.35" width="6.80" height="5.99" fill="#5050e8"/><rect x="461.90" y="347.04" width="6.80" height="5.99" fill="#3434e4"/><rect x="461.90" y="352.73" width="6.80" height="5.99" fill="#2a3ae8"/><rect x="461.90" y="358.42" width="6.80" height="5.99" fill="#2030b8"/><rect x="461.90" y="364.12" width="6.80" height="5.99" fill="#162294"/><rect x="461.90" y="369.81" width="6.80" height="5.99" fill="#0e1a80"/><text x="493.60" y="239.40" font-size="7.7" text-anchor="end" fill="#141414" stroke="#141414" stroke-width="0.3">60.0</text><text x="493.60" y="256.60" font-size="7.7" text-anchor="end" fill="#141414" stroke="#141414" stroke-width="0.3">45.0</text><text x="493.60" y="273.80" font-size="7.7" text-anchor="end" fill="#141414" stroke="#141414" stroke-width="0.3">30.0</text><text x="493.60" y="291.00" font-size="7.7" text-anchor="end" fill="#141414" stroke="#141414" stroke-width="0.3">15.0</text><text x="493.60" y="308.20" font-size="7.7" text-anchor="end" fill="#141414" stroke="#141414" stroke-width="0.3">0.0</text><text x="493.60" y="325.40" font-size="7.7" text-anchor="end" fill="#141414" stroke="#141414" stroke-width="0.3">&#8722;15.0</text><text x="493.60" y="342.60" font-size="7.7" text-anchor="end" fill="#141414" stroke="#141414" stroke-width="0.3">&#8722;30.0</text><text x="493.60" y="359.80" font-size="7.7" text-anchor="end" fill="#141414" stroke="#141414" stroke-width="0.3">&#8722;45.0</text><text x="493.60" y="377.00" font-size="7.7" text-anchor="end" fill="#141414" stroke="#141414" stroke-width="0.3">&#8722;60.0</text><text transform="translate(504.00,306.50) rotate(-90)" font-size="8.2" text-anchor="middle" fill="#141414" stroke="#141414" stroke-width="0.25" textLength="38" lengthAdjust="spacing">dCH<tspan font-size="5.4" dy="2.2">4</tspan><tspan dy="-2.2"> [ppb]</tspan></text><path fill="#e63a3a" d="M554.3 257.4h1.7v1.7h-1.7zM562.4 258.3h1.7v1.7h-1.7zM565.2 259.5h1.7v1.7h-1.7zM590.1 260.6h1.7v1.7h-1.7zM592.2 263.0h1.7v1.7h-1.7zM583.4 267.8h1.7v1.7h-1.7zM577.5 269.4h1.7v1.7h-1.7zM572.3 270.6h1.7v1.7h-1.7zM570.1 270.9h1.7v1.7h-1.7zM569.5 271.7h1.7v1.7h-1.7zM566.4 271.7h1.7v1.7h-1.7zM566.1 272.5h1.7v1.7h-1.7zM562.3 276.6h1.7v1.7h-1.7zM559.9 276.8h1.7v1.7h-1.7zM559.8 278.0h1.7v1.7h-1.7zM558.4 278.2h1.7v1.7h-1.7zM557.2 279.3h1.7v1.7h-1.7zM556.4 280.8h1.7v1.7h-1.7zM556.1 282.3h1.7v1.7h-1.7zM556.0 283.8h1.7v1.7h-1.7zM557.2 285.6h1.7v1.7h-1.7zM555.3 287.4h1.7v1.7h-1.7zM555.9 288.8h1.7v1.7h-1.7zM556.5 290.2h1.7v1.7h-1.7zM555.0 292.1h1.7v1.7h-1.7zM555.3 293.9h1.7v1.7h-1.7zM554.3 294.8h1.7v1.7h-1.7zM552.1 296.3h1.7v1.7h-1.7zM554.1 298.3h1.7v1.7h-1.7zM552.7 299.2h1.7v1.7h-1.7zM554.3 300.6h1.7v1.7h-1.7zM552.6 301.7h1.7v1.7h-1.7zM554.4 303.3h1.7v1.7h-1.7zM551.0 305.5h1.7v1.7h-1.7zM553.7 306.8h1.7v1.7h-1.7zM551.7 308.2h1.7v1.7h-1.7zM552.0 310.3h1.7v1.7h-1.7zM553.1 311.9h1.7v1.7h-1.7zM551.5 313.8h1.7v1.7h-1.7zM549.2 314.9h1.7v1.7h-1.7zM549.1 316.0h1.7v1.7h-1.7zM550.2 317.6h1.7v1.7h-1.7zM551.1 319.4h1.7v1.7h-1.7zM551.5 321.6h1.7v1.7h-1.7zM548.3 322.7h1.7v1.7h-1.7zM549.9 324.2h1.7v1.7h-1.7zM548.2 326.2h1.7v1.7h-1.7zM550.7 326.9h1.7v1.7h-1.7zM549.7 328.9h1.7v1.7h-1.7zM549.7 330.0h1.7v1.7h-1.7zM548.9 331.8h1.7v1.7h-1.7zM548.7 333.5h1.7v1.7h-1.7zM547.6 334.4h1.7v1.7h-1.7zM548.3 336.8h1.7v1.7h-1.7zM547.4 338.6h1.7v1.7h-1.7zM545.5 339.6h1.7v1.7h-1.7zM546.5 340.7h1.7v1.7h-1.7zM547.0 342.8h1.7v1.7h-1.7zM546.6 343.9h1.7v1.7h-1.7zM549.6 347.1h1.7v1.7h-1.7zM546.2 347.5h1.7v1.7h-1.7zM547.1 349.4h1.7v1.7h-1.7zM545.9 350.8h1.7v1.7h-1.7zM547.8 351.9h1.7v1.7h-1.7zM548.0 353.5h1.7v1.7h-1.7zM545.6 355.7h1.7v1.7h-1.7zM545.5 357.0h1.7v1.7h-1.7zM543.8 358.0h1.7v1.7h-1.7zM546.9 359.6h1.7v1.7h-1.7zM544.7 361.2h1.7v1.7h-1.7zM544.7 363.3h1.7v1.7h-1.7zM547.4 365.0h1.7v1.7h-1.7zM546.2 366.2h1.7v1.7h-1.7zM546.3 367.3h1.7v1.7h-1.7zM545.4 370.4h1.7v1.7h-1.7zM547.1 372.0h1.7v1.7h-1.7zM547.4 373.4h1.7v1.7h-1.7zM526.5 343.3h1.7v1.7h-1.7zM542.3 325.2h1.7v1.7h-1.7zM542.6 335.9h1.7v1.7h-1.7z"/><path fill="#6ee03a" d="M535.6 255.4h1.7v1.7h-1.7zM545.1 258.2h1.7v1.7h-1.7zM548.6 258.7h1.7v1.7h-1.7zM553.6 256.8h1.7v1.7h-1.7zM543.8 262.8h1.7v1.7h-1.7zM555.4 265.3h1.7v1.7h-1.7zM550.4 269.8h1.7v1.7h-1.7zM550.3 272.1h1.7v1.7h-1.7zM547.9 273.7h1.7v1.7h-1.7zM547.2 275.4h1.7v1.7h-1.7zM547.6 276.1h1.7v1.7h-1.7zM547.7 277.8h1.7v1.7h-1.7zM547.2 278.7h1.7v1.7h-1.7zM546.7 280.3h1.7v1.7h-1.7zM546.4 282.2h1.7v1.7h-1.7zM545.7 284.2h1.7v1.7h-1.7zM546.7 284.8h1.7v1.7h-1.7zM545.9 286.1h1.7v1.7h-1.7zM547.1 288.0h1.7v1.7h-1.7zM546.9 289.6h1.7v1.7h-1.7zM546.5 292.5h1.7v1.7h-1.7zM545.6 292.8h1.7v1.7h-1.7zM546.0 294.0h1.7v1.7h-1.7zM544.9 296.1h1.7v1.7h-1.7zM544.5 298.2h1.7v1.7h-1.7zM546.7 299.1h1.7v1.7h-1.7zM545.2 300.9h1.7v1.7h-1.7zM546.1 301.8h1.7v1.7h-1.7zM545.9 303.9h1.7v1.7h-1.7zM544.7 305.4h1.7v1.7h-1.7zM543.1 306.9h1.7v1.7h-1.7zM545.1 308.8h1.7v1.7h-1.7zM546.7 310.2h1.7v1.7h-1.7zM547.1 312.1h1.7v1.7h-1.7zM545.9 312.8h1.7v1.7h-1.7zM545.9 314.3h1.7v1.7h-1.7zM544.8 316.6h1.7v1.7h-1.7zM547.8 317.7h1.7v1.7h-1.7zM546.9 319.6h1.7v1.7h-1.7zM546.1 321.2h1.7v1.7h-1.7zM548.9 322.4h1.7v1.7h-1.7zM547.6 323.8h1.7v1.7h-1.7zM547.8 325.6h1.7v1.7h-1.7zM546.9 327.3h1.7v1.7h-1.7zM547.1 328.8h1.7v1.7h-1.7zM548.7 330.7h1.7v1.7h-1.7zM548.6 332.6h1.7v1.7h-1.7zM549.0 333.6h1.7v1.7h-1.7zM549.2 334.6h1.7v1.7h-1.7zM548.1 336.2h1.7v1.7h-1.7zM549.0 338.3h1.7v1.7h-1.7zM550.5 339.3h1.7v1.7h-1.7zM548.4 340.6h1.7v1.7h-1.7zM548.5 343.1h1.7v1.7h-1.7zM549.4 344.3h1.7v1.7h-1.7zM551.2 346.0h1.7v1.7h-1.7zM548.5 347.1h1.7v1.7h-1.7zM548.5 350.0h1.7v1.7h-1.7zM547.8 350.3h1.7v1.7h-1.7zM549.1 352.1h1.7v1.7h-1.7zM549.3 353.6h1.7v1.7h-1.7zM549.6 355.4h1.7v1.7h-1.7zM548.4 356.9h1.7v1.7h-1.7zM547.8 358.5h1.7v1.7h-1.7zM548.3 360.3h1.7v1.7h-1.7zM548.7 361.4h1.7v1.7h-1.7zM548.8 363.4h1.7v1.7h-1.7zM550.1 365.4h1.7v1.7h-1.7zM548.4 366.7h1.7v1.7h-1.7zM548.2 367.8h1.7v1.7h-1.7zM548.1 370.4h1.7v1.7h-1.7zM551.1 371.3h1.7v1.7h-1.7zM548.3 372.9h1.7v1.7h-1.7z"/><path fill="#2a4af0" d="M561.1 262.4h1.7v1.7h-1.7zM558.0 264.0h1.7v1.7h-1.7zM551.8 268.3h1.7v1.7h-1.7zM548.8 271.9h1.7v1.7h-1.7zM547.5 274.3h1.7v1.7h-1.7zM545.1 276.0h1.7v1.7h-1.7zM545.6 277.1h1.7v1.7h-1.7zM545.3 278.0h1.7v1.7h-1.7zM545.0 279.7h1.7v1.7h-1.7zM543.7 280.5h1.7v1.7h-1.7zM543.4 281.0h1.7v1.7h-1.7zM540.7 282.7h1.7v1.7h-1.7zM539.0 282.7h1.7v1.7h-1.7zM539.3 284.8h1.7v1.7h-1.7zM540.1 286.7h1.7v1.7h-1.7zM541.3 287.9h1.7v1.7h-1.7zM539.5 289.1h1.7v1.7h-1.7zM542.2 291.1h1.7v1.7h-1.7zM542.0 292.6h1.7v1.7h-1.7zM542.3 294.4h1.7v1.7h-1.7zM543.0 295.8h1.7v1.7h-1.7zM542.9 296.9h1.7v1.7h-1.7zM544.3 298.9h1.7v1.7h-1.7zM543.3 299.9h1.7v1.7h-1.7zM545.4 301.5h1.7v1.7h-1.7zM545.3 303.0h1.7v1.7h-1.7zM547.7 304.0h1.7v1.7h-1.7zM548.8 304.5h1.7v1.7h-1.7zM550.1 305.9h1.7v1.7h-1.7zM548.9 307.1h1.7v1.7h-1.7zM550.6 308.0h1.7v1.7h-1.7zM552.7 310.1h1.7v1.7h-1.7zM551.2 311.9h1.7v1.7h-1.7zM552.5 313.6h1.7v1.7h-1.7zM552.0 314.7h1.7v1.7h-1.7zM552.9 316.5h1.7v1.7h-1.7zM551.1 317.7h1.7v1.7h-1.7zM551.4 319.2h1.7v1.7h-1.7zM551.3 321.1h1.7v1.7h-1.7zM551.6 322.3h1.7v1.7h-1.7zM550.0 324.1h1.7v1.7h-1.7zM551.4 326.0h1.7v1.7h-1.7zM550.9 327.1h1.7v1.7h-1.7zM551.0 328.7h1.7v1.7h-1.7zM550.0 330.7h1.7v1.7h-1.7zM550.9 331.3h1.7v1.7h-1.7zM550.3 333.2h1.7v1.7h-1.7zM552.2 335.7h1.7v1.7h-1.7zM553.5 336.6h1.7v1.7h-1.7zM552.2 338.1h1.7v1.7h-1.7zM553.4 339.9h1.7v1.7h-1.7zM553.0 340.9h1.7v1.7h-1.7zM551.3 342.7h1.7v1.7h-1.7zM551.2 344.1h1.7v1.7h-1.7zM553.1 345.8h1.7v1.7h-1.7zM551.3 347.7h1.7v1.7h-1.7zM552.1 349.3h1.7v1.7h-1.7zM554.1 349.9h1.7v1.7h-1.7zM550.4 351.7h1.7v1.7h-1.7zM551.7 353.4h1.7v1.7h-1.7zM552.5 354.9h1.7v1.7h-1.7zM552.0 357.0h1.7v1.7h-1.7zM551.5 358.8h1.7v1.7h-1.7zM552.5 360.4h1.7v1.7h-1.7zM550.2 361.8h1.7v1.7h-1.7zM552.6 362.6h1.7v1.7h-1.7zM552.8 365.0h1.7v1.7h-1.7zM552.5 366.0h1.7v1.7h-1.7zM552.4 368.6h1.7v1.7h-1.7zM553.7 370.1h1.7v1.7h-1.7zM551.8 371.4h1.7v1.7h-1.7zM551.2 373.3h1.7v1.7h-1.7z"/><text x="553.00" y="351.50" font-size="8.0" text-anchor="start" fill="#e03434" textLength="38.6" lengthAdjust="spacing" stroke="#e03434" stroke-width="0.2">[ 30... 90]</text><text x="554.00" y="359.80" font-size="8.0" text-anchor="start" fill="#5cd030" textLength="40.0" lengthAdjust="spacing" stroke="#5cd030" stroke-width="0.2">[&#8722;30... 30]</text><text x="554.00" y="367.30" font-size="8.0" text-anchor="start" fill="#2a44e8" textLength="41.0" lengthAdjust="spacing" stroke="#2a44e8" stroke-width="0.2">[&#8722;90...&#8722;30]</text><rect x="60.20" y="429.00" width="109.30" height="137.50" fill="none" stroke="#808080" stroke-width="0.9"/><path d="M60.20 429.00v3.5M60.20 566.50v-3.5M63.84 429.00v1.6M63.84 566.50v-1.6M67.49 429.00v1.6M67.49 566.50v-1.6M71.13 429.00v1.6M71.13 566.50v-1.6M74.77 429.00v1.6M74.77 566.50v-1.6M78.42 429.00v3.5M78.42 566.50v-3.5M82.06 429.00v1.6M82.06 566.50v-1.6M85.70 429.00v1.6M85.70 566.50v-1.6M89.35 429.00v1.6M89.35 566.50v-1.6M92.99 429.00v1.6M92.99 566.50v-1.6M96.63 429.00v3.5M96.63 566.50v-3.5M100.28 429.00v1.6M100.28 566.50v-1.6M103.92 429.00v1.6M103.92 566.50v-1.6M107.56 429.00v1.6M107.56 566.50v-1.6M111.21 429.00v1.6M111.21 566.50v-1.6M114.85 429.00v3.5M114.85 566.50v-3.5M118.49 429.00v1.6M118.49 566.50v-1.6M122.14 429.00v1.6M122.14 566.50v-1.6M125.78 429.00v1.6M125.78 566.50v-1.6M129.42 429.00v1.6M129.42 566.50v-1.6M133.07 429.00v3.5M133.07 566.50v-3.5M136.71 429.00v1.6M136.71 566.50v-1.6M140.35 429.00v1.6M140.35 566.50v-1.6M144.00 429.00v1.6M144.00 566.50v-1.6M147.64 429.00v1.6M147.64 566.50v-1.6M151.28 429.00v3.5M151.28 566.50v-3.5M154.93 429.00v1.6M154.93 566.50v-1.6M158.57 429.00v1.6M158.57 566.50v-1.6M162.21 429.00v1.6M162.21 566.50v-1.6M165.86 429.00v1.6M165.86 566.50v-1.6M169.50 429.00v3.5M169.50 566.50v-3.5M60.20 429.00h3.5M169.50 429.00h-3.5M60.20 435.88h1.6M169.50 435.88h-1.6M60.20 442.75h1.6M169.50 442.75h-1.6M60.20 449.62h1.6M169.50 449.62h-1.6M60.20 456.50h3.5M169.50 456.50h-3.5M60.20 463.38h1.6M169.50 463.38h-1.6M60.20 470.25h1.6M169.50 470.25h-1.6M60.20 477.12h1.6M169.50 477.12h-1.6M60.20 484.00h3.5M169.50 484.00h-3.5M60.20 490.88h1.6M169.50 490.88h-1.6M60.20 497.75h1.6M169.50 497.75h-1.6M60.20 504.62h1.6M169.50 504.62h-1.6M60.20 511.50h3.5M169.50 511.50h-3.5M60.20 518.38h1.6M169.50 518.38h-1.6M60.20 525.25h1.6M169.50 525.25h-1.6M60.20 532.12h1.6M169.50 532.12h-1.6M60.20 539.00h3.5M169.50 539.00h-3.5M60.20 545.88h1.6M169.50 545.88h-1.6M60.20 552.75h1.6M169.50 552.75h-1.6M60.20 559.62h1.6M169.50 559.62h-1.6M60.20 566.50h3.5M169.50 566.50h-3.5" stroke="#8a8a8a" stroke-width="0.7" fill="none"/><rect x="180.20" y="429.00" width="109.40" height="137.50" fill="none" stroke="#808080" stroke-width="0.9"/><path d="M180.20 429.00v3.5M180.20 566.50v-3.5M183.85 429.00v1.6M183.85 566.50v-1.6M187.49 429.00v1.6M187.49 566.50v-1.6M191.14 429.00v1.6M191.14 566.50v-1.6M194.79 429.00v1.6M194.79 566.50v-1.6M198.43 429.00v3.5M198.43 566.50v-3.5M202.08 429.00v1.6M202.08 566.50v-1.6M205.73 429.00v1.6M205.73 566.50v-1.6M209.37 429.00v1.6M209.37 566.50v-1.6M213.02 429.00v1.6M213.02 566.50v-1.6M216.67 429.00v3.5M216.67 566.50v-3.5M220.31 429.00v1.6M220.31 566.50v-1.6M223.96 429.00v1.6M223.96 566.50v-1.6M227.61 429.00v1.6M227.61 566.50v-1.6M231.25 429.00v1.6M231.25 566.50v-1.6M234.90 429.00v3.5M234.90 566.50v-3.5M238.55 429.00v1.6M238.55 566.50v-1.6M242.19 429.00v1.6M242.19 566.50v-1.6M245.84 429.00v1.6M245.84 566.50v-1.6M249.49 429.00v1.6M249.49 566.50v-1.6M253.13 429.00v3.5M253.13 566.50v-3.5M256.78 429.00v1.6M256.78 566.50v-1.6M260.43 429.00v1.6M260.43 566.50v-1.6M264.07 429.00v1.6M264.07 566.50v-1.6M267.72 429.00v1.6M267.72 566.50v-1.6M271.37 429.00v3.5M271.37 566.50v-3.5M275.01 429.00v1.6M275.01 566.50v-1.6M278.66 429.00v1.6M278.66 566.50v-1.6M282.31 429.00v1.6M282.31 566.50v-1.6M285.95 429.00v1.6M285.95 566.50v-1.6M289.60 429.00v3.5M289.60 566.50v-3.5M180.20 429.00h3.5M289.60 429.00h-3.5M180.20 435.88h1.6M289.60 435.88h-1.6M180.20 442.75h1.6M289.60 442.75h-1.6M180.20 449.62h1.6M289.60 449.62h-1.6M180.20 456.50h3.5M289.60 456.50h-3.5M180.20 463.38h1.6M289.60 463.38h-1.6M180.20 470.25h1.6M289.60 470.25h-1.6M180.20 477.12h1.6M289.60 477.12h-1.6M180.20 484.00h3.5M289.60 484.00h-3.5M180.20 490.88h1.6M289.60 490.88h-1.6M180.20 497.75h1.6M289.60 497.75h-1.6M180.20 504.62h1.6M289.60 504.62h-1.6M180.20 511.50h3.5M289.60 511.50h-3.5M180.20 518.38h1.6M289.60 518.38h-1.6M180.20 525.25h1.6M289.60 525.25h-1.6M180.20 532.12h1.6M289.60 532.12h-1.6M180.20 539.00h3.5M289.60 539.00h-3.5M180.20 545.88h1.6M289.60 545.88h-1.6M180.20 552.75h1.6M289.60 552.75h-1.6M180.20 559.62h1.6M289.60 559.62h-1.6M180.20 566.50h3.5M289.60 566.50h-3.5" stroke="#8a8a8a" stroke-width="0.7" fill="none"/><rect x="346.70" y="429.00" width="108.90" height="137.50" fill="none" stroke="#808080" stroke-width="0.9"/><path d="M346.70 429.00v3.5M346.70 566.50v-3.5M350.33 429.00v1.6M350.33 566.50v-1.6M353.96 429.00v1.6M353.96 566.50v-1.6M357.59 429.00v1.6M357.59 566.50v-1.6M361.22 429.00v1.6M361.22 566.50v-1.6M364.85 429.00v3.5M364.85 566.50v-3.5M368.48 429.00v1.6M368.48 566.50v-1.6M372.11 429.00v1.6M372.11 566.50v-1.6M375.74 429.00v1.6M375.74 566.50v-1.6M379.37 429.00v1.6M379.37 566.50v-1.6M383.00 429.00v3.5M383.00 566.50v-3.5M386.63 429.00v1.6M386.63 566.50v-1.6M390.26 429.00v1.6M390.26 566.50v-1.6M393.89 429.00v1.6M393.89 566.50v-1.6M397.52 429.00v1.6M397.52 566.50v-1.6M401.15 429.00v3.5M401.15 566.50v-3.5M404.78 429.00v1.6M404.78 566.50v-1.6M408.41 429.00v1.6M408.41 566.50v-1.6M412.04 429.00v1.6M412.04 566.50v-1.6M415.67 429.00v1.6M415.67 566.50v-1.6M419.30 429.00v3.5M419.30 566.50v-3.5M422.93 429.00v1.6M422.93 566.50v-1.6M426.56 429.00v1.6M426.56 566.50v-1.6M430.19 429.00v1.6M430.19 566.50v-1.6M433.82 429.00v1.6M433.82 566.50v-1.6M437.45 429.00v3.5M437.45 566.50v-3.5M441.08 429.00v1.6M441.08 566.50v-1.6M444.71 429.00v1.6M444.71 566.50v-1.6M448.34 429.00v1.6M448.34 566.50v-1.6M451.97 429.00v1.6M451.97 566.50v-1.6M455.60 429.00v3.5M455.60 566.50v-3.5M346.70 429.00h3.5M455.60 429.00h-3.5M346.70 435.88h1.6M455.60 435.88h-1.6M346.70 442.75h1.6M455.60 442.75h-1.6M346.70 449.62h1.6M455.60 449.62h-1.6M346.70 456.50h3.5M455.60 456.50h-3.5M346.70 463.38h1.6M455.60 463.38h-1.6M346.70 470.25h1.6M455.60 470.25h-1.6M346.70 477.12h1.6M455.60 477.12h-1.6M346.70 484.00h3.5M455.60 484.00h-3.5M346.70 490.88h1.6M455.60 490.88h-1.6M346.70 497.75h1.6M455.60 497.75h-1.6M346.70 504.62h1.6M455.60 504.62h-1.6M346.70 511.50h3.5M455.60 511.50h-3.5M346.70 518.38h1.6M455.60 518.38h-1.6M346.70 525.25h1.6M455.60 525.25h-1.6M346.70 532.12h1.6M455.60 532.12h-1.6M346.70 539.00h3.5M455.60 539.00h-3.5M346.70 545.88h1.6M455.60 545.88h-1.6M346.70 552.75h1.6M455.60 552.75h-1.6M346.70 559.62h1.6M455.60 559.62h-1.6M346.70 566.50h3.5M455.60 566.50h-3.5" stroke="#8a8a8a" stroke-width="0.7" fill="none"/><rect x="507.50" y="429.00" width="86.50" height="137.50" fill="none" stroke="#808080" stroke-width="0.9"/><path d="M507.50 429.00v3.5M507.50 566.50v-3.5M511.82 429.00v1.6M511.82 566.50v-1.6M516.15 429.00v1.6M516.15 566.50v-1.6M520.48 429.00v1.6M520.48 566.50v-1.6M524.80 429.00v1.6M524.80 566.50v-1.6M529.12 429.00v3.5M529.12 566.50v-3.5M533.45 429.00v1.6M533.45 566.50v-1.6M537.77 429.00v1.6M537.77 566.50v-1.6M542.10 429.00v1.6M542.10 566.50v-1.6M546.42 429.00v1.6M546.42 566.50v-1.6M550.75 429.00v3.5M550.75 566.50v-3.5M555.08 429.00v1.6M555.08 566.50v-1.6M559.40 429.00v1.6M559.40 566.50v-1.6M563.73 429.00v1.6M563.73 566.50v-1.6M568.05 429.00v1.6M568.05 566.50v-1.6M572.38 429.00v3.5M572.38 566.50v-3.5M576.70 429.00v1.6M576.70 566.50v-1.6M581.02 429.00v1.6M581.02 566.50v-1.6M585.35 429.00v1.6M585.35 566.50v-1.6M589.67 429.00v1.6M589.67 566.50v-1.6M594.00 429.00v3.5M594.00 566.50v-3.5M507.50 429.00h3.5M594.00 429.00h-3.5M507.50 435.88h1.6M594.00 435.88h-1.6M507.50 442.75h1.6M594.00 442.75h-1.6M507.50 449.62h1.6M594.00 449.62h-1.6M507.50 456.50h3.5M594.00 456.50h-3.5M507.50 463.38h1.6M594.00 463.38h-1.6M507.50 470.25h1.6M594.00 470.25h-1.6M507.50 477.12h1.6M594.00 477.12h-1.6M507.50 484.00h3.5M594.00 484.00h-3.5M507.50 490.88h1.6M594.00 490.88h-1.6M507.50 497.75h1.6M594.00 497.75h-1.6M507.50 504.62h1.6M594.00 504.62h-1.6M507.50 511.50h3.5M594.00 511.50h-3.5M507.50 518.38h1.6M594.00 518.38h-1.6M507.50 525.25h1.6M594.00 525.25h-1.6M507.50 532.12h1.6M594.00 532.12h-1.6M507.50 539.00h3.5M594.00 539.00h-3.5M507.50 545.88h1.6M594.00 545.88h-1.6M507.50 552.75h1.6M594.00 552.75h-1.6M507.50 559.62h1.6M594.00 559.62h-1.6M507.50 566.50h3.5M594.00 566.50h-3.5" stroke="#8a8a8a" stroke-width="0.7" fill="none"/><line x1="550.75" y1="429.00" x2="550.75" y2="566.50" stroke="#7a7a7a" stroke-width="0.8"/><rect x="295.20" y="430.50" width="9.00" height="2.54" fill="#e23c32"/><rect x="295.20" y="432.74" width="9.00" height="2.54" fill="#e33d33"/><rect x="295.20" y="434.98" width="9.00" height="2.54" fill="#e33e33"/><rect x="295.20" y="437.23" width="9.00" height="2.54" fill="#e33f33"/><rect x="295.20" y="439.47" width="9.00" height="2.54" fill="#e44034"/><rect x="295.20" y="441.71" width="9.00" height="2.54" fill="#e64a36"/><rect x="295.20" y="443.95" width="9.00" height="2.54" fill="#e85938"/><rect x="295.20" y="446.19" width="9.00" height="2.54" fill="#ea6638"/><rect x="295.20" y="448.43" width="9.00" height="2.54" fill="#ed7438"/><rect x="295.20" y="450.68" width="9.00" height="2.54" fill="#ef8638"/><rect x="295.20" y="452.92" width="9.00" height="2.54" fill="#f0953a"/><rect x="295.20" y="455.16" width="9.00" height="2.54" fill="#f0a03d"/><rect x="295.20" y="457.40" width="9.00" height="2.54" fill="#f1ab40"/><rect x="295.20" y="459.64" width="9.00" height="2.54" fill="#f3b640"/><rect x="295.20" y="461.88" width="9.00" height="2.54" fill="#f5c140"/><rect x="295.20" y="464.12" width="9.00" height="2.54" fill="#f7cf3b"/><rect x="295.20" y="466.37" width="9.00" height="2.54" fill="#f8dc35"/><rect x="295.20" y="468.61" width="9.00" height="2.54" fill="#f8e92c"/><rect x="295.20" y="470.85" width="9.00" height="2.54" fill="#f3f026"/><rect x="295.20" y="473.09" width="9.00" height="2.54" fill="#eaf023"/><rect x="295.20" y="475.33" width="9.00" height="2.54" fill="#e0f020"/><rect x="295.20" y="477.57" width="9.00" height="2.54" fill="#d2f020"/><rect x="295.20" y="479.82" width="9.00" height="2.54" fill="#c4f020"/><rect x="295.20" y="482.06" width="9.00" height="2.54" fill="#b5f01f"/><rect x="295.20" y="484.30" width="9.00" height="2.54" fill="#a6f01e"/><rect x="295.20" y="486.54" width="9.00" height="2.54" fill="#9af01d"/><rect x="295.20" y="488.78" width="9.00" height="2.54" fill="#91f01c"/><rect x="295.20" y="491.02" width="9.00" height="2.54" fill="#88f01b"/><rect x="295.20" y="493.27" width="9.00" height="2.54" fill="#80f01a"/><rect x="295.20" y="495.51" width="9.00" height="2.54" fill="#80ef1a"/><rect x="295.20" y="497.75" width="9.00" height="2.54" fill="#7fef1a"/><rect x="295.20" y="499.99" width="9.00" height="2.54" fill="#7fee1b"/><rect x="295.20" y="502.23" width="9.00" height="2.54" fill="#7fed1b"/><rect x="295.20" y="504.48" width="9.00" height="2.54" fill="#7eed1b"/><rect x="295.20" y="506.72" width="9.00" height="2.54" fill="#7eec1b"/><rect x="295.20" y="508.96" width="9.00" height="2.54" fill="#7eeb1b"/><rect x="295.20" y="511.20" width="9.00" height="2.54" fill="#7deb1b"/><rect x="295.20" y="513.44" width="9.00" height="2.54" fill="#7dea1b"/><rect x="295.20" y="515.68" width="9.00" height="2.54" fill="#7de91c"/><rect x="295.20" y="517.92" width="9.00" height="2.54" fill="#7ce91c"/><rect x="295.20" y="520.17" width="9.00" height="2.54" fill="#7ce81c"/><rect x="295.20" y="522.41" width="9.00" height="2.54" fill="#76d727"/><rect x="295.20" y="524.65" width="9.00" height="2.54" fill="#6fc633"/><rect x="295.20" y="526.89" width="9.00" height="2.54" fill="#6bbb43"/><rect x="295.20" y="529.13" width="9.00" height="2.54" fill="#66b052"/><rect x="295.20" y="531.38" width="9.00" height="2.54" fill="#5fa561"/><rect x="295.20" y="533.62" width="9.00" height="2.54" fill="#569c6f"/><rect x="295.20" y="535.86" width="9.00" height="2.54" fill="#4d937b"/><rect x="295.20" y="538.10" width="9.00" height="2.54" fill="#458d83"/><rect x="295.20" y="540.34" width="9.00" height="2.54" fill="#3f858c"/><rect x="295.20" y="542.58" width="9.00" height="2.54" fill="#3c7c99"/><rect x="295.20" y="544.83" width="9.00" height="2.54" fill="#336fac"/><rect x="295.20" y="547.07" width="9.00" height="2.54" fill="#285fc2"/><rect x="295.20" y="549.31" width="9.00" height="2.54" fill="#2854ce"/><rect x="295.20" y="551.55" width="9.00" height="2.54" fill="#2849db"/><rect x="295.20" y="553.79" width="9.00" height="2.54" fill="#2b45e1"/><rect x="295.20" y="556.03" width="9.00" height="2.54" fill="#2f41e7"/><rect x="295.20" y="558.27" width="9.00" height="2.54" fill="#333fea"/><rect x="295.20" y="560.52" width="9.00" height="2.54" fill="#373eec"/><rect x="295.20" y="562.76" width="9.00" height="2.54" fill="#3a3def"/><path d="M295.20 430.80L299.70 428.50L304.20 430.80Z" fill="#e23c32"/><path d="M295.20 564.70L299.70 567.00L304.20 564.70Z" fill="#3a3def"/><text x="310.40" y="443.75" font-size="7.7" text-anchor="start" fill="#141414" textLength="23.3" lengthAdjust="spacing" stroke="#141414" stroke-width="0.3">1881.8</text><text x="310.40" y="457.50" font-size="7.7" text-anchor="start" fill="#141414" textLength="23.3" lengthAdjust="spacing" stroke="#141414" stroke-width="0.3">1861.6</text><text x="310.40" y="471.25" font-size="7.7" text-anchor="start" fill="#141414" textLength="23.3" lengthAdjust="spacing" stroke="#141414" stroke-width="0.3">1841.4</text><text x="310.40" y="485.00" font-size="7.7" text-anchor="start" fill="#141414" textLength="23.3" lengthAdjust="spacing" stroke="#141414" stroke-width="0.3">1821.2</text><text x="310.40" y="498.75" font-size="7.7" text-anchor="start" fill="#141414" textLength="23.3" lengthAdjust="spacing" stroke="#141414" stroke-width="0.3">1801.0</text><text x="310.40" y="512.50" font-size="7.7" text-anchor="start" fill="#141414" textLength="23.3" lengthAdjust="spacing" stroke="#141414" stroke-width="0.3">1780.8</text><text x="310.40" y="526.25" font-size="7.7" text-anchor="start" fill="#141414" textLength="23.3" lengthAdjust="spacing" stroke="#141414" stroke-width="0.3">1760.6</text><text x="310.40" y="540.00" font-size="7.7" text-anchor="start" fill="#141414" textLength="23.3" lengthAdjust="spacing" stroke="#141414" stroke-width="0.3">1740.4</text><text x="310.40" y="553.75" font-size="7.7" text-anchor="start" fill="#141414" textLength="23.3" lengthAdjust="spacing" stroke="#141414" stroke-width="0.3">1720.2</text><text transform="translate(341.90,497.70) rotate(-90)" font-size="8.2" text-anchor="middle" fill="#141414" stroke="#141414" stroke-width="0.25" textLength="33" lengthAdjust="spacing">CH<tspan font-size="5.4" dy="2.2">4</tspan><tspan dy="-2.2"> [ppb]</tspan></text><rect x="461.90" y="428.90" width="6.80" height="6.01" fill="#b42a28"/><rect x="461.90" y="434.61" width="6.80" height="6.01" fill="#c4302a"/><rect x="461.90" y="440.32" width="6.80" height="6.01" fill="#dc3a2a"/><rect x="461.90" y="446.03" width="6.80" height="6.01" fill="#e44a2e"/><rect x="461.90" y="451.74" width="6.80" height="6.01" fill="#e86530"/><rect x="461.90" y="457.45" width="6.80" height="6.01" fill="#ee8030"/><rect x="461.90" y="463.15" width="6.80" height="6.01" fill="#f09a30"/><rect x="461.90" y="468.86" width="6.80" height="6.01" fill="#f2b030"/><rect x="461.90" y="474.57" width="6.80" height="6.01" fill="#f5c030"/><rect x="461.90" y="480.28" width="6.80" height="6.01" fill="#f8dc20"/><rect x="461.90" y="485.99" width="6.80" height="6.01" fill="#fcf020"/><rect x="461.90" y="498.20" width="6.80" height="5.99" fill="#e4e4fa"/><rect x="461.90" y="503.89" width="6.80" height="5.99" fill="#d0d0f8"/><rect x="461.90" y="509.58" width="6.80" height="5.99" fill="#b4b4f4"/><rect x="461.90" y="515.27" width="6.80" height="5.99" fill="#9c9cf0"/><rect x="461.90" y="520.97" width="6.80" height="5.99" fill="#8888ee"/><rect x="461.90" y="526.66" width="6.80" height="5.99" fill="#7070ec"/><rect x="461.90" y="532.35" width="6.80" height="5.99" fill="#5050e8"/><rect x="461.90" y="538.04" width="6.80" height="5.99" fill="#3434e4"/><rect x="461.90" y="543.73" width="6.80" height="5.99" fill="#2a3ae8"/><rect x="461.90" y="549.42" width="6.80" height="5.99" fill="#2030b8"/><rect x="461.90" y="555.12" width="6.80" height="5.99" fill="#162294"/><rect x="461.90" y="560.81" width="6.80" height="5.99" fill="#0e1a80"/><text x="493.60" y="430.40" font-size="7.7" text-anchor="end" fill="#141414" stroke="#141414" stroke-width="0.3">60.0</text><text x="493.60" y="447.60" font-size="7.7" text-anchor="end" fill="#141414" stroke="#141414" stroke-width="0.3">45.0</text><text x="493.60" y="464.80" font-size="7.7" text-anchor="end" fill="#141414" stroke="#141414" stroke-width="0.3">30.0</text><text x="493.60" y="482.00" font-size="7.7" text-anchor="end" fill="#141414" stroke="#141414" stroke-width="0.3">15.0</text><text x="493.60" y="499.20" font-size="7.7" text-anchor="end" fill="#141414" stroke="#141414" stroke-width="0.3">0.0</text><text x="493.60" y="516.40" font-size="7.7" text-anchor="end" fill="#141414" stroke="#141414" stroke-width="0.3">&#8722;15.0</text><text x="493.60" y="533.60" font-size="7.7" text-anchor="end" fill="#141414" stroke="#141414" stroke-width="0.3">&#8722;30.0</text><text x="493.60" y="550.80" font-size="7.7" text-anchor="end" fill="#141414" stroke="#141414" stroke-width="0.3">&#8722;45.0</text><text x="493.60" y="568.00" font-size="7.7" text-anchor="end" fill="#141414" stroke="#141414" stroke-width="0.3">&#8722;60.0</text><text transform="translate(504.00,497.50) rotate(-90)" font-size="8.2" text-anchor="middle" fill="#141414" stroke="#141414" stroke-width="0.25" textLength="38" lengthAdjust="spacing">dCH<tspan font-size="5.4" dy="2.2">4</tspan><tspan dy="-2.2"> [ppb]</tspan></text><path fill="#e63a3a" d="M559.3 448.9h1.7v1.7h-1.7zM560.1 450.5h1.7v1.7h-1.7zM569.7 453.8h1.7v1.7h-1.7zM572.0 455.5h1.7v1.7h-1.7zM580.9 456.4h1.7v1.7h-1.7zM579.9 461.5h1.7v1.7h-1.7zM579.6 461.4h1.7v1.7h-1.7zM577.5 461.2h1.7v1.7h-1.7zM574.9 461.2h1.7v1.7h-1.7zM574.7 461.4h1.7v1.7h-1.7zM566.0 456.9h1.7v1.7h-1.7zM561.2 459.2h1.7v1.7h-1.7zM556.3 466.9h1.7v1.7h-1.7zM557.4 466.3h1.7v1.7h-1.7zM554.3 468.7h1.7v1.7h-1.7zM554.4 469.7h1.7v1.7h-1.7zM555.8 471.3h1.7v1.7h-1.7zM554.3 473.0h1.7v1.7h-1.7zM553.8 474.5h1.7v1.7h-1.7zM553.7 475.8h1.7v1.7h-1.7zM552.7 477.6h1.7v1.7h-1.7zM553.0 479.7h1.7v1.7h-1.7zM553.6 481.6h1.7v1.7h-1.7zM553.7 482.5h1.7v1.7h-1.7zM553.5 484.2h1.7v1.7h-1.7zM552.5 485.5h1.7v1.7h-1.7zM552.7 486.6h1.7v1.7h-1.7zM551.4 488.6h1.7v1.7h-1.7zM550.1 490.6h1.7v1.7h-1.7zM552.1 491.9h1.7v1.7h-1.7zM552.4 493.4h1.7v1.7h-1.7zM553.7 495.3h1.7v1.7h-1.7zM553.4 496.9h1.7v1.7h-1.7zM553.4 497.4h1.7v1.7h-1.7zM554.1 499.6h1.7v1.7h-1.7zM553.9 500.8h1.7v1.7h-1.7zM553.6 502.7h1.7v1.7h-1.7zM553.4 503.7h1.7v1.7h-1.7zM553.4 505.8h1.7v1.7h-1.7zM552.7 507.0h1.7v1.7h-1.7zM553.3 509.0h1.7v1.7h-1.7zM553.0 510.3h1.7v1.7h-1.7zM554.2 512.8h1.7v1.7h-1.7zM553.7 513.7h1.7v1.7h-1.7zM553.4 515.0h1.7v1.7h-1.7zM553.2 516.7h1.7v1.7h-1.7zM554.2 518.4h1.7v1.7h-1.7zM553.2 519.9h1.7v1.7h-1.7zM552.4 521.0h1.7v1.7h-1.7zM552.2 522.7h1.7v1.7h-1.7zM552.0 524.6h1.7v1.7h-1.7zM552.2 525.4h1.7v1.7h-1.7zM551.2 527.3h1.7v1.7h-1.7zM552.1 528.7h1.7v1.7h-1.7zM551.2 530.8h1.7v1.7h-1.7zM553.0 532.7h1.7v1.7h-1.7zM552.3 533.6h1.7v1.7h-1.7zM550.4 535.6h1.7v1.7h-1.7zM549.5 537.0h1.7v1.7h-1.7zM549.6 538.8h1.7v1.7h-1.7zM549.5 540.2h1.7v1.7h-1.7zM548.1 542.6h1.7v1.7h-1.7zM549.3 543.5h1.7v1.7h-1.7zM547.8 545.6h1.7v1.7h-1.7zM545.3 548.0h1.7v1.7h-1.7zM540.3 550.4h1.7v1.7h-1.7zM532.2 552.2h1.7v1.7h-1.7zM536.3 557.0h1.7v1.7h-1.7zM541.9 559.6h1.7v1.7h-1.7zM548.1 564.1h1.7v1.7h-1.7zM545.8 554.1h1.7v1.7h-1.7zM544.0 562.4h1.7v1.7h-1.7zM536.5 551.2h1.7v1.7h-1.7zM549.3 556.0h1.7v1.7h-1.7zM560.8 489.5h1.7v1.7h-1.7zM555.1 519.6h1.7v1.7h-1.7z"/><path fill="#6ee03a" d="M536.7 445.9h1.7v1.7h-1.7zM549.5 448.6h1.7v1.7h-1.7zM551.8 450.3h1.7v1.7h-1.7zM550.7 456.4h1.7v1.7h-1.7zM548.7 463.6h1.7v1.7h-1.7zM550.6 464.5h1.7v1.7h-1.7zM549.0 466.4h1.7v1.7h-1.7zM550.3 467.5h1.7v1.7h-1.7zM548.8 469.0h1.7v1.7h-1.7zM546.9 471.0h1.7v1.7h-1.7zM547.5 471.7h1.7v1.7h-1.7zM546.4 473.7h1.7v1.7h-1.7zM547.0 475.5h1.7v1.7h-1.7zM548.6 476.4h1.7v1.7h-1.7zM546.8 478.5h1.7v1.7h-1.7zM548.5 480.5h1.7v1.7h-1.7zM548.1 481.7h1.7v1.7h-1.7zM546.7 483.1h1.7v1.7h-1.7zM550.3 485.3h1.7v1.7h-1.7zM546.5 486.2h1.7v1.7h-1.7zM547.6 488.0h1.7v1.7h-1.7zM548.4 488.8h1.7v1.7h-1.7zM548.3 491.2h1.7v1.7h-1.7zM548.0 492.7h1.7v1.7h-1.7zM548.6 494.2h1.7v1.7h-1.7zM548.1 495.0h1.7v1.7h-1.7zM547.7 496.4h1.7v1.7h-1.7zM548.3 499.1h1.7v1.7h-1.7zM545.7 499.0h1.7v1.7h-1.7zM547.9 502.0h1.7v1.7h-1.7zM546.0 503.2h1.7v1.7h-1.7zM547.5 504.5h1.7v1.7h-1.7zM547.2 506.0h1.7v1.7h-1.7zM546.0 507.4h1.7v1.7h-1.7zM546.2 509.6h1.7v1.7h-1.7zM546.7 512.1h1.7v1.7h-1.7zM545.2 512.6h1.7v1.7h-1.7zM546.5 514.4h1.7v1.7h-1.7zM545.6 515.7h1.7v1.7h-1.7zM546.8 516.8h1.7v1.7h-1.7zM546.4 519.4h1.7v1.7h-1.7zM546.6 520.6h1.7v1.7h-1.7zM546.4 522.3h1.7v1.7h-1.7zM546.7 523.7h1.7v1.7h-1.7zM547.7 524.4h1.7v1.7h-1.7zM547.5 527.4h1.7v1.7h-1.7zM548.0 528.8h1.7v1.7h-1.7zM544.5 529.5h1.7v1.7h-1.7zM547.8 530.8h1.7v1.7h-1.7zM550.2 532.3h1.7v1.7h-1.7zM548.9 535.1h1.7v1.7h-1.7zM548.6 536.4h1.7v1.7h-1.7zM550.8 537.0h1.7v1.7h-1.7zM549.8 540.0h1.7v1.7h-1.7zM547.6 541.2h1.7v1.7h-1.7zM547.9 542.7h1.7v1.7h-1.7zM548.3 544.4h1.7v1.7h-1.7zM547.3 544.7h1.7v1.7h-1.7zM547.5 548.2h1.7v1.7h-1.7zM548.2 549.3h1.7v1.7h-1.7zM546.5 550.7h1.7v1.7h-1.7zM545.9 552.7h1.7v1.7h-1.7zM547.4 553.9h1.7v1.7h-1.7zM545.0 555.3h1.7v1.7h-1.7zM545.8 557.5h1.7v1.7h-1.7zM546.7 559.4h1.7v1.7h-1.7zM546.8 560.8h1.7v1.7h-1.7zM542.6 562.2h1.7v1.7h-1.7zM545.4 564.5h1.7v1.7h-1.7zM521.7 553.0h1.7v1.7h-1.7zM539.7 555.3h1.7v1.7h-1.7zM544.3 557.2h1.7v1.7h-1.7z"/><path fill="#2a4af0" d="M566.4 446.3h1.7v1.7h-1.7zM560.1 449.5h1.7v1.7h-1.7zM559.1 456.7h1.7v1.7h-1.7zM565.0 461.2h1.7v1.7h-1.7zM577.8 455.1h1.7v1.7h-1.7zM585.0 454.7h1.7v1.7h-1.7zM562.4 462.8h1.7v1.7h-1.7zM562.6 464.3h1.7v1.7h-1.7zM560.4 464.7h1.7v1.7h-1.7zM556.2 465.7h1.7v1.7h-1.7zM556.5 466.3h1.7v1.7h-1.7zM553.9 467.0h1.7v1.7h-1.7zM554.1 467.0h1.7v1.7h-1.7zM552.6 467.6h1.7v1.7h-1.7zM553.2 467.8h1.7v1.7h-1.7zM546.4 468.5h1.7v1.7h-1.7zM548.8 469.3h1.7v1.7h-1.7zM546.6 470.2h1.7v1.7h-1.7zM545.1 470.9h1.7v1.7h-1.7zM544.4 473.1h1.7v1.7h-1.7zM543.4 473.6h1.7v1.7h-1.7zM542.5 475.7h1.7v1.7h-1.7zM543.6 476.8h1.7v1.7h-1.7zM542.3 478.9h1.7v1.7h-1.7zM543.6 481.2h1.7v1.7h-1.7zM544.2 481.9h1.7v1.7h-1.7zM545.4 483.0h1.7v1.7h-1.7zM545.7 485.1h1.7v1.7h-1.7zM547.9 486.7h1.7v1.7h-1.7zM546.8 488.1h1.7v1.7h-1.7zM548.3 489.5h1.7v1.7h-1.7zM548.5 490.8h1.7v1.7h-1.7zM546.9 492.6h1.7v1.7h-1.7zM547.6 494.7h1.7v1.7h-1.7zM549.3 496.3h1.7v1.7h-1.7zM548.6 497.7h1.7v1.7h-1.7zM548.2 499.8h1.7v1.7h-1.7zM548.3 500.9h1.7v1.7h-1.7zM550.1 503.0h1.7v1.7h-1.7zM549.9 504.7h1.7v1.7h-1.7zM548.8 505.5h1.7v1.7h-1.7zM548.4 507.1h1.7v1.7h-1.7zM547.9 508.2h1.7v1.7h-1.7zM550.1 510.2h1.7v1.7h-1.7zM547.3 511.8h1.7v1.7h-1.7zM548.4 514.4h1.7v1.7h-1.7zM549.0 514.9h1.7v1.7h-1.7zM547.7 516.9h1.7v1.7h-1.7zM549.4 518.7h1.7v1.7h-1.7zM548.2 519.7h1.7v1.7h-1.7zM545.8 521.7h1.7v1.7h-1.7zM548.9 522.9h1.7v1.7h-1.7zM548.7 524.2h1.7v1.7h-1.7zM549.4 526.5h1.7v1.7h-1.7zM549.0 528.0h1.7v1.7h-1.7zM549.8 529.8h1.7v1.7h-1.7zM548.5 531.0h1.7v1.7h-1.7zM549.0 531.9h1.7v1.7h-1.7zM549.5 533.8h1.7v1.7h-1.7zM548.9 535.7h1.7v1.7h-1.7zM548.5 536.7h1.7v1.7h-1.7zM547.8 538.0h1.7v1.7h-1.7zM548.9 540.1h1.7v1.7h-1.7zM548.0 540.9h1.7v1.7h-1.7zM548.6 543.2h1.7v1.7h-1.7zM549.0 545.4h1.7v1.7h-1.7zM549.5 546.0h1.7v1.7h-1.7zM550.5 548.3h1.7v1.7h-1.7zM548.3 550.3h1.7v1.7h-1.7zM549.2 551.7h1.7v1.7h-1.7zM550.0 552.9h1.7v1.7h-1.7zM548.8 554.6h1.7v1.7h-1.7zM550.7 555.3h1.7v1.7h-1.7zM548.9 557.4h1.7v1.7h-1.7zM548.9 559.2h1.7v1.7h-1.7zM549.1 560.3h1.7v1.7h-1.7zM549.6 562.9h1.7v1.7h-1.7zM549.0 564.8h1.7v1.7h-1.7z"/><text x="553.00" y="542.50" font-size="8.0" text-anchor="start" fill="#e03434" textLength="38.6" lengthAdjust="spacing" stroke="#e03434" stroke-width="0.2">[ 30... 90]</text><text x="554.00" y="550.80" font-size="8.0" text-anchor="start" fill="#5cd030" textLength="40.0" lengthAdjust="spacing" stroke="#5cd030" stroke-width="0.2">[&#8722;30... 30]</text><text x="554.00" y="558.30" font-size="8.0" text-anchor="start" fill="#2a44e8" textLength="41.0" lengthAdjust="spacing" stroke="#2a44e8" stroke-width="0.2">[&#8722;90...&#8722;30]</text></svg></body></html>
